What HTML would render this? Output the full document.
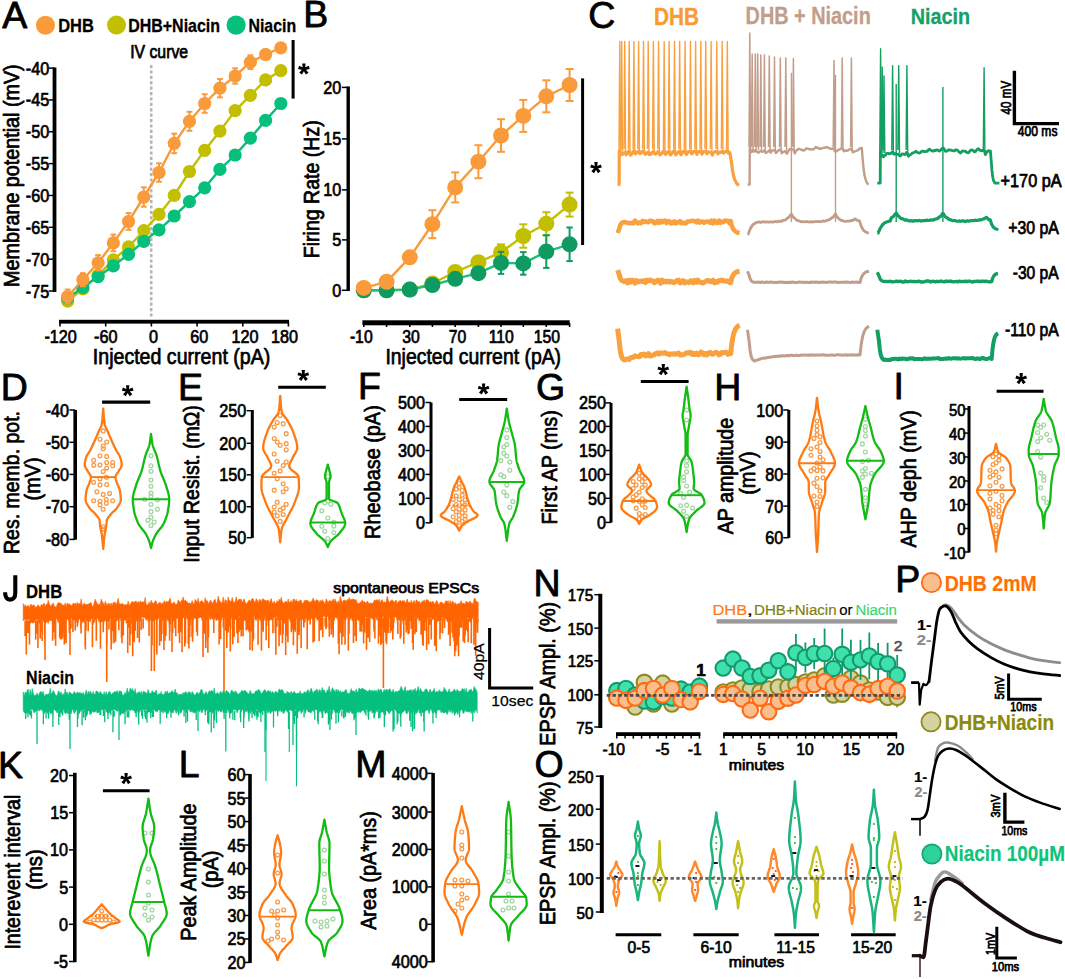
<!DOCTYPE html>
<html><head><meta charset="utf-8"><style>
html,body{margin:0;padding:0;background:#fff;width:1065px;height:979px;overflow:hidden}
svg{display:block;font-family:"Liberation Sans",sans-serif}
</style></head><body>
<svg width="1065" height="979" viewBox="0 0 1065 979">
<rect width="1065" height="979" fill="#fff"/>
<text x="2.25" y="27.6" font-size="37.5" fill="#000" stroke="#000" stroke-width="0.8" stroke-linejoin="round">A</text>
<circle cx="45.5" cy="25.3" r="9.5" fill="#F99B3A" stroke="none" stroke-width="1"/>
<circle cx="116.5" cy="25.1" r="9.5" fill="#C2BF00" stroke="none" stroke-width="1"/>
<circle cx="236.1" cy="25.1" r="9.6" fill="#05BF7A" stroke="none" stroke-width="1"/>
<text x="58.18" y="31.5" font-size="18.4" fill="#000" font-weight="bold" stroke="#000" stroke-width="0.3" stroke-linejoin="round" textLength="35.65" lengthAdjust="spacingAndGlyphs">DHB</text>
<text x="128.21" y="31.5" font-size="18.4" fill="#000" font-weight="bold" stroke="#000" stroke-width="0.3" stroke-linejoin="round" textLength="91.82" lengthAdjust="spacingAndGlyphs">DHB+Niacin</text>
<text x="248.42" y="31.5" font-size="18.4" fill="#000" font-weight="bold" stroke="#000" stroke-width="0.3" stroke-linejoin="round" textLength="47.7" lengthAdjust="spacingAndGlyphs">Niacin</text>
<text x="130.15" y="57.8" font-size="18.7" fill="#000" stroke="#000" stroke-width="0.75" stroke-linejoin="round" textLength="57.95" lengthAdjust="spacingAndGlyphs">IV curve</text>
<rect x="52.6" y="67.5" width="3.8" height="224.5" fill="#000"/>
<line x1="48.6" y1="68.1" x2="54.5" y2="68.1" stroke="#000" stroke-width="1.5"/>
<text x="25.76" y="74.6" font-size="18" fill="#000" stroke="#000" stroke-width="0.7" stroke-linejoin="round" textLength="23.42" lengthAdjust="spacingAndGlyphs">-40</text>
<line x1="48.6" y1="99.94" x2="54.5" y2="99.94" stroke="#000" stroke-width="1.5"/>
<text x="25.84" y="106.44" font-size="18" fill="#000" stroke="#000" stroke-width="0.7" stroke-linejoin="round" textLength="23.42" lengthAdjust="spacingAndGlyphs">-45</text>
<line x1="48.6" y1="131.79" x2="54.5" y2="131.79" stroke="#000" stroke-width="1.5"/>
<text x="25.76" y="138.29" font-size="18" fill="#000" stroke="#000" stroke-width="0.7" stroke-linejoin="round" textLength="23.42" lengthAdjust="spacingAndGlyphs">-50</text>
<line x1="48.6" y1="163.63" x2="54.5" y2="163.63" stroke="#000" stroke-width="1.5"/>
<text x="25.84" y="170.13" font-size="18" fill="#000" stroke="#000" stroke-width="0.7" stroke-linejoin="round" textLength="23.42" lengthAdjust="spacingAndGlyphs">-55</text>
<line x1="48.6" y1="195.48" x2="54.5" y2="195.48" stroke="#000" stroke-width="1.5"/>
<text x="25.76" y="201.98" font-size="18" fill="#000" stroke="#000" stroke-width="0.7" stroke-linejoin="round" textLength="23.42" lengthAdjust="spacingAndGlyphs">-60</text>
<line x1="48.6" y1="227.32" x2="54.5" y2="227.32" stroke="#000" stroke-width="1.5"/>
<text x="25.84" y="233.82" font-size="18" fill="#000" stroke="#000" stroke-width="0.7" stroke-linejoin="round" textLength="23.42" lengthAdjust="spacingAndGlyphs">-65</text>
<line x1="48.6" y1="259.17" x2="54.5" y2="259.17" stroke="#000" stroke-width="1.5"/>
<text x="25.76" y="265.67" font-size="18" fill="#000" stroke="#000" stroke-width="0.7" stroke-linejoin="round" textLength="23.42" lengthAdjust="spacingAndGlyphs">-70</text>
<line x1="48.6" y1="291.01" x2="54.5" y2="291.01" stroke="#000" stroke-width="1.5"/>
<text x="25.84" y="297.51" font-size="18" fill="#000" stroke="#000" stroke-width="0.7" stroke-linejoin="round" textLength="23.42" lengthAdjust="spacingAndGlyphs">-75</text>
<text transform="translate(19 286.9) rotate(-90)" font-size="22.5" fill="#000" stroke="#000" stroke-width="0.75" stroke-linejoin="round" textLength="222.57" lengthAdjust="spacingAndGlyphs">Membrane potential (mV)</text>
<rect x="59" y="319.8" width="230" height="3.8" fill="#000"/>
<line x1="60" y1="322" x2="60" y2="326.5" stroke="#000" stroke-width="1.6"/>
<text x="44.46" y="343" font-size="18" fill="#000" stroke="#000" stroke-width="0.7" stroke-linejoin="round" textLength="32.43" lengthAdjust="spacingAndGlyphs">-120</text>
<line x1="105.7" y1="322" x2="105.7" y2="326.5" stroke="#000" stroke-width="1.6"/>
<text x="94.06" y="343" font-size="18" fill="#000" stroke="#000" stroke-width="0.7" stroke-linejoin="round" textLength="23.42" lengthAdjust="spacingAndGlyphs">-60</text>
<line x1="151.4" y1="322" x2="151.4" y2="326.5" stroke="#000" stroke-width="1.6"/>
<text x="149.1" y="343" font-size="18" fill="#000" stroke="#000" stroke-width="0.7" stroke-linejoin="round" textLength="9.01" lengthAdjust="spacingAndGlyphs">0</text>
<line x1="197.1" y1="322" x2="197.1" y2="326.5" stroke="#000" stroke-width="1.6"/>
<text x="190.29" y="343" font-size="18" fill="#000" stroke="#000" stroke-width="0.7" stroke-linejoin="round" textLength="18.02" lengthAdjust="spacingAndGlyphs">60</text>
<line x1="242.8" y1="322" x2="242.8" y2="326.5" stroke="#000" stroke-width="1.6"/>
<text x="231.39" y="343" font-size="18" fill="#000" stroke="#000" stroke-width="0.7" stroke-linejoin="round" textLength="27.03" lengthAdjust="spacingAndGlyphs">120</text>
<line x1="288.4" y1="322" x2="288.4" y2="326.5" stroke="#000" stroke-width="1.6"/>
<text x="270.99" y="343" font-size="18" fill="#000" stroke="#000" stroke-width="0.7" stroke-linejoin="round" textLength="27.03" lengthAdjust="spacingAndGlyphs">180</text>
<text x="92.81" y="364" font-size="22.4" fill="#000" stroke="#000" stroke-width="0.75" stroke-linejoin="round" textLength="177.49" lengthAdjust="spacingAndGlyphs">Injected current (pA)</text>
<line x1="151.2" y1="65" x2="151.2" y2="318" stroke="#B4B4B4" stroke-width="2.6" stroke-dasharray="3.2 2.2"/>
<line x1="293.1" y1="40" x2="293.1" y2="98.6" stroke="#000" stroke-width="3"/>
<circle cx="303.9" cy="69.1" r="1.59" fill="#000" stroke="none" stroke-width="1"/>
<path d="M304.99 69.1 L305.57 63.5 L302.23 63.5 L302.81 69.1 Z M304.24 70.13 L309.74 68.96 L308.71 65.78 L303.56 68.07 Z M303.02 69.74 L305.84 74.61 L308.54 72.65 L304.78 68.46 Z M303.02 68.46 L299.26 72.65 L301.96 74.61 L304.78 69.74 Z M304.24 68.07 L299.09 65.78 L298.06 68.96 L303.56 70.13 Z" fill="#000"/>
<polyline points="67.66,301.1 82.88,288.9 98.11,275.1 113.34,259.8 128.56,246.9 143.79,230.7 159.01,214.4 174.24,195.4 189.47,171.5 204.69,150.4 219.92,131.1 235.14,110.6 250.37,95.3 265.6,79.9 280.82,70.7" fill="none" stroke="#C2BF00" stroke-width="2.4" stroke-linejoin="round"/>
<circle cx="67.66" cy="301.1" r="6.6" fill="#C2BF00" stroke="none" stroke-width="1"/>
<circle cx="82.88" cy="288.9" r="6.6" fill="#C2BF00" stroke="none" stroke-width="1"/>
<circle cx="98.11" cy="275.1" r="6.6" fill="#C2BF00" stroke="none" stroke-width="1"/>
<circle cx="113.34" cy="259.8" r="6.6" fill="#C2BF00" stroke="none" stroke-width="1"/>
<circle cx="128.56" cy="246.9" r="6.6" fill="#C2BF00" stroke="none" stroke-width="1"/>
<circle cx="143.79" cy="230.7" r="6.6" fill="#C2BF00" stroke="none" stroke-width="1"/>
<circle cx="159.01" cy="214.4" r="6.6" fill="#C2BF00" stroke="none" stroke-width="1"/>
<circle cx="174.24" cy="195.4" r="6.6" fill="#C2BF00" stroke="none" stroke-width="1"/>
<circle cx="189.47" cy="171.5" r="6.6" fill="#C2BF00" stroke="none" stroke-width="1"/>
<circle cx="204.69" cy="150.4" r="6.6" fill="#C2BF00" stroke="none" stroke-width="1"/>
<circle cx="219.92" cy="131.1" r="6.6" fill="#C2BF00" stroke="none" stroke-width="1"/>
<circle cx="235.14" cy="110.6" r="6.6" fill="#C2BF00" stroke="none" stroke-width="1"/>
<circle cx="250.37" cy="95.3" r="6.6" fill="#C2BF00" stroke="none" stroke-width="1"/>
<circle cx="265.6" cy="79.9" r="6.6" fill="#C2BF00" stroke="none" stroke-width="1"/>
<circle cx="280.82" cy="70.7" r="6.6" fill="#C2BF00" stroke="none" stroke-width="1"/>
<polyline points="67.66,298.1 82.88,287.4 98.11,276.6 113.34,265.9 128.56,254.3 143.79,241.4 159.01,229.8 174.24,216 189.47,201.6 204.69,187.8 219.92,169.4 235.14,155 250.37,138.1 265.6,120.4 280.82,103.5" fill="none" stroke="#05BF7A" stroke-width="2.4" stroke-linejoin="round"/>
<circle cx="67.66" cy="298.1" r="6.6" fill="#05BF7A" stroke="none" stroke-width="1"/>
<circle cx="82.88" cy="287.4" r="6.6" fill="#05BF7A" stroke="none" stroke-width="1"/>
<circle cx="98.11" cy="276.6" r="6.6" fill="#05BF7A" stroke="none" stroke-width="1"/>
<circle cx="113.34" cy="265.9" r="6.6" fill="#05BF7A" stroke="none" stroke-width="1"/>
<circle cx="128.56" cy="254.3" r="6.6" fill="#05BF7A" stroke="none" stroke-width="1"/>
<circle cx="143.79" cy="241.4" r="6.6" fill="#05BF7A" stroke="none" stroke-width="1"/>
<circle cx="159.01" cy="229.8" r="6.6" fill="#05BF7A" stroke="none" stroke-width="1"/>
<circle cx="174.24" cy="216" r="6.6" fill="#05BF7A" stroke="none" stroke-width="1"/>
<circle cx="189.47" cy="201.6" r="6.6" fill="#05BF7A" stroke="none" stroke-width="1"/>
<circle cx="204.69" cy="187.8" r="6.6" fill="#05BF7A" stroke="none" stroke-width="1"/>
<circle cx="219.92" cy="169.4" r="6.6" fill="#05BF7A" stroke="none" stroke-width="1"/>
<circle cx="235.14" cy="155" r="6.6" fill="#05BF7A" stroke="none" stroke-width="1"/>
<circle cx="250.37" cy="138.1" r="6.6" fill="#05BF7A" stroke="none" stroke-width="1"/>
<circle cx="265.6" cy="120.4" r="6.6" fill="#05BF7A" stroke="none" stroke-width="1"/>
<circle cx="280.82" cy="103.5" r="6.6" fill="#05BF7A" stroke="none" stroke-width="1"/>
<polyline points="67.66,296.5 82.88,279.7 98.11,262.8 113.34,242.9 128.56,221.5 143.79,197 159.01,172.5 174.24,143.4 189.47,121.3 204.69,103.5 219.92,88.2 235.14,76 250.37,62.2 265.6,54.5 280.82,47.8" fill="none" stroke="#F99B3A" stroke-width="2.4" stroke-linejoin="round"/>
<line x1="67.66" y1="289.5" x2="67.66" y2="303.5" stroke="#F99B3A" stroke-width="2"/>
<line x1="64.76" y1="289.5" x2="70.56" y2="289.5" stroke="#F99B3A" stroke-width="2"/>
<line x1="64.76" y1="303.5" x2="70.56" y2="303.5" stroke="#F99B3A" stroke-width="2"/>
<line x1="82.88" y1="273.2" x2="82.88" y2="286.2" stroke="#F99B3A" stroke-width="2"/>
<line x1="79.98" y1="273.2" x2="85.78" y2="273.2" stroke="#F99B3A" stroke-width="2"/>
<line x1="79.98" y1="286.2" x2="85.78" y2="286.2" stroke="#F99B3A" stroke-width="2"/>
<line x1="98.11" y1="255.1" x2="98.11" y2="270.5" stroke="#F99B3A" stroke-width="2"/>
<line x1="95.21" y1="255.1" x2="101.01" y2="255.1" stroke="#F99B3A" stroke-width="2"/>
<line x1="95.21" y1="270.5" x2="101.01" y2="270.5" stroke="#F99B3A" stroke-width="2"/>
<line x1="113.34" y1="234.6" x2="113.34" y2="251.2" stroke="#F99B3A" stroke-width="2"/>
<line x1="110.44" y1="234.6" x2="116.24" y2="234.6" stroke="#F99B3A" stroke-width="2"/>
<line x1="110.44" y1="251.2" x2="116.24" y2="251.2" stroke="#F99B3A" stroke-width="2"/>
<line x1="128.56" y1="213.1" x2="128.56" y2="229.9" stroke="#F99B3A" stroke-width="2"/>
<line x1="125.66" y1="213.1" x2="131.46" y2="213.1" stroke="#F99B3A" stroke-width="2"/>
<line x1="125.66" y1="229.9" x2="131.46" y2="229.9" stroke="#F99B3A" stroke-width="2"/>
<line x1="143.79" y1="187.3" x2="143.79" y2="206.7" stroke="#F99B3A" stroke-width="2"/>
<line x1="140.89" y1="187.3" x2="146.69" y2="187.3" stroke="#F99B3A" stroke-width="2"/>
<line x1="140.89" y1="206.7" x2="146.69" y2="206.7" stroke="#F99B3A" stroke-width="2"/>
<line x1="159.01" y1="163.3" x2="159.01" y2="181.7" stroke="#F99B3A" stroke-width="2"/>
<line x1="156.11" y1="163.3" x2="161.91" y2="163.3" stroke="#F99B3A" stroke-width="2"/>
<line x1="156.11" y1="181.7" x2="161.91" y2="181.7" stroke="#F99B3A" stroke-width="2"/>
<line x1="174.24" y1="133.6" x2="174.24" y2="153.2" stroke="#F99B3A" stroke-width="2"/>
<line x1="171.34" y1="133.6" x2="177.14" y2="133.6" stroke="#F99B3A" stroke-width="2"/>
<line x1="171.34" y1="153.2" x2="177.14" y2="153.2" stroke="#F99B3A" stroke-width="2"/>
<line x1="189.47" y1="111.8" x2="189.47" y2="130.8" stroke="#F99B3A" stroke-width="2"/>
<line x1="186.56" y1="111.8" x2="192.37" y2="111.8" stroke="#F99B3A" stroke-width="2"/>
<line x1="186.56" y1="130.8" x2="192.37" y2="130.8" stroke="#F99B3A" stroke-width="2"/>
<line x1="204.69" y1="94.2" x2="204.69" y2="112.8" stroke="#F99B3A" stroke-width="2"/>
<line x1="201.79" y1="94.2" x2="207.59" y2="94.2" stroke="#F99B3A" stroke-width="2"/>
<line x1="201.79" y1="112.8" x2="207.59" y2="112.8" stroke="#F99B3A" stroke-width="2"/>
<line x1="219.92" y1="79" x2="219.92" y2="97.4" stroke="#F99B3A" stroke-width="2"/>
<line x1="217.02" y1="79" x2="222.82" y2="79" stroke="#F99B3A" stroke-width="2"/>
<line x1="217.02" y1="97.4" x2="222.82" y2="97.4" stroke="#F99B3A" stroke-width="2"/>
<line x1="235.14" y1="68.3" x2="235.14" y2="83.7" stroke="#F99B3A" stroke-width="2"/>
<line x1="232.24" y1="68.3" x2="238.04" y2="68.3" stroke="#F99B3A" stroke-width="2"/>
<line x1="232.24" y1="83.7" x2="238.04" y2="83.7" stroke="#F99B3A" stroke-width="2"/>
<line x1="250.37" y1="55.3" x2="250.37" y2="69.1" stroke="#F99B3A" stroke-width="2"/>
<line x1="247.47" y1="55.3" x2="253.27" y2="55.3" stroke="#F99B3A" stroke-width="2"/>
<line x1="247.47" y1="69.1" x2="253.27" y2="69.1" stroke="#F99B3A" stroke-width="2"/>
<line x1="265.6" y1="49.5" x2="265.6" y2="59.5" stroke="#F99B3A" stroke-width="2"/>
<line x1="262.7" y1="49.5" x2="268.5" y2="49.5" stroke="#F99B3A" stroke-width="2"/>
<line x1="262.7" y1="59.5" x2="268.5" y2="59.5" stroke="#F99B3A" stroke-width="2"/>
<line x1="280.82" y1="44.8" x2="280.82" y2="50.8" stroke="#F99B3A" stroke-width="2"/>
<line x1="277.92" y1="44.8" x2="283.72" y2="44.8" stroke="#F99B3A" stroke-width="2"/>
<line x1="277.92" y1="50.8" x2="283.72" y2="50.8" stroke="#F99B3A" stroke-width="2"/>
<circle cx="67.66" cy="296.5" r="6.6" fill="#F99B3A" stroke="none" stroke-width="1"/>
<circle cx="82.88" cy="279.7" r="6.6" fill="#F99B3A" stroke="none" stroke-width="1"/>
<circle cx="98.11" cy="262.8" r="6.6" fill="#F99B3A" stroke="none" stroke-width="1"/>
<circle cx="113.34" cy="242.9" r="6.6" fill="#F99B3A" stroke="none" stroke-width="1"/>
<circle cx="128.56" cy="221.5" r="6.6" fill="#F99B3A" stroke="none" stroke-width="1"/>
<circle cx="143.79" cy="197" r="6.6" fill="#F99B3A" stroke="none" stroke-width="1"/>
<circle cx="159.01" cy="172.5" r="6.6" fill="#F99B3A" stroke="none" stroke-width="1"/>
<circle cx="174.24" cy="143.4" r="6.6" fill="#F99B3A" stroke="none" stroke-width="1"/>
<circle cx="189.47" cy="121.3" r="6.6" fill="#F99B3A" stroke="none" stroke-width="1"/>
<circle cx="204.69" cy="103.5" r="6.6" fill="#F99B3A" stroke="none" stroke-width="1"/>
<circle cx="219.92" cy="88.2" r="6.6" fill="#F99B3A" stroke="none" stroke-width="1"/>
<circle cx="235.14" cy="76" r="6.6" fill="#F99B3A" stroke="none" stroke-width="1"/>
<circle cx="250.37" cy="62.2" r="6.6" fill="#F99B3A" stroke="none" stroke-width="1"/>
<circle cx="265.6" cy="54.5" r="6.6" fill="#F99B3A" stroke="none" stroke-width="1"/>
<circle cx="280.82" cy="47.8" r="6.6" fill="#F99B3A" stroke="none" stroke-width="1"/>
<text x="303.3" y="27.4" font-size="37.5" fill="#000" stroke="#000" stroke-width="0.8" stroke-linejoin="round">B</text>
<rect x="346.5" y="86.5" width="3.4" height="204.5" fill="#000"/>
<line x1="341.9" y1="87.4" x2="348.2" y2="87.4" stroke="#000" stroke-width="1.5"/>
<text x="323.19" y="93.9" font-size="18" fill="#000" stroke="#000" stroke-width="0.7" stroke-linejoin="round" textLength="18.02" lengthAdjust="spacingAndGlyphs">20</text>
<line x1="341.9" y1="138.9" x2="348.2" y2="138.9" stroke="#000" stroke-width="1.5"/>
<text x="323.27" y="145.4" font-size="18" fill="#000" stroke="#000" stroke-width="0.7" stroke-linejoin="round" textLength="18.02" lengthAdjust="spacingAndGlyphs">15</text>
<line x1="341.9" y1="189.9" x2="348.2" y2="189.9" stroke="#000" stroke-width="1.5"/>
<text x="323.19" y="196.4" font-size="18" fill="#000" stroke="#000" stroke-width="0.7" stroke-linejoin="round" textLength="18.02" lengthAdjust="spacingAndGlyphs">10</text>
<line x1="341.9" y1="239.9" x2="348.2" y2="239.9" stroke="#000" stroke-width="1.5"/>
<text x="332.26" y="246.4" font-size="18" fill="#000" stroke="#000" stroke-width="0.7" stroke-linejoin="round" textLength="9.01" lengthAdjust="spacingAndGlyphs">5</text>
<line x1="341.9" y1="290.3" x2="348.2" y2="290.3" stroke="#000" stroke-width="1.5"/>
<text x="332.18" y="296.8" font-size="18" fill="#000" stroke="#000" stroke-width="0.7" stroke-linejoin="round" textLength="9.01" lengthAdjust="spacingAndGlyphs">0</text>
<text transform="translate(318.5 258.19) rotate(-90)" font-size="22.3" fill="#000" stroke="#000" stroke-width="0.75" stroke-linejoin="round" textLength="137.93" lengthAdjust="spacingAndGlyphs">Firing Rate (Hz)</text>
<rect x="362.4" y="320.3" width="207.3" height="5" fill="#000"/>
<line x1="363.8" y1="323" x2="363.8" y2="327" stroke="#000" stroke-width="1.6"/>
<line x1="386.6" y1="323" x2="386.6" y2="327" stroke="#000" stroke-width="1.6"/>
<line x1="409.8" y1="323" x2="409.8" y2="327" stroke="#000" stroke-width="1.6"/>
<line x1="432.4" y1="323" x2="432.4" y2="327" stroke="#000" stroke-width="1.6"/>
<line x1="455.2" y1="323" x2="455.2" y2="327" stroke="#000" stroke-width="1.6"/>
<line x1="478.4" y1="323" x2="478.4" y2="327" stroke="#000" stroke-width="1.6"/>
<line x1="501" y1="323" x2="501" y2="327" stroke="#000" stroke-width="1.6"/>
<line x1="523.3" y1="323" x2="523.3" y2="327" stroke="#000" stroke-width="1.6"/>
<line x1="546.3" y1="323" x2="546.3" y2="327" stroke="#000" stroke-width="1.6"/>
<line x1="569.6" y1="323" x2="569.6" y2="327" stroke="#000" stroke-width="1.6"/>
<text x="349.88" y="343.3" font-size="17.5" fill="#000" stroke="#000" stroke-width="0.7" stroke-linejoin="round" textLength="22.76" lengthAdjust="spacingAndGlyphs">-10</text>
<text x="402.36" y="343.3" font-size="17.5" fill="#000" stroke="#000" stroke-width="0.7" stroke-linejoin="round" textLength="17.52" lengthAdjust="spacingAndGlyphs">30</text>
<text x="448.74" y="343.3" font-size="17.5" fill="#000" stroke="#000" stroke-width="0.7" stroke-linejoin="round" textLength="17.52" lengthAdjust="spacingAndGlyphs">70</text>
<text x="488.72" y="343.3" font-size="17.5" fill="#000" stroke="#000" stroke-width="0.7" stroke-linejoin="round" textLength="25.11" lengthAdjust="spacingAndGlyphs">110</text>
<text x="533.77" y="343.3" font-size="17.5" fill="#000" stroke="#000" stroke-width="0.7" stroke-linejoin="round" textLength="26.28" lengthAdjust="spacingAndGlyphs">150</text>
<text x="385.43" y="364.2" font-size="22.4" fill="#000" stroke="#000" stroke-width="0.75" stroke-linejoin="round" textLength="175.66" lengthAdjust="spacingAndGlyphs">Injected current (pA)</text>
<line x1="582.6" y1="78.4" x2="582.6" y2="245" stroke="#000" stroke-width="3"/>
<circle cx="596" cy="167.7" r="1.59" fill="#000" stroke="none" stroke-width="1"/>
<path d="M597.09 167.7 L597.67 162.1 L594.33 162.1 L594.91 167.7 Z M596.34 168.73 L601.84 167.56 L600.81 164.38 L595.66 166.67 Z M595.12 168.34 L597.94 173.21 L600.64 171.25 L596.88 167.06 Z M595.12 167.06 L591.36 171.25 L594.06 173.21 L596.88 168.34 Z M596.34 166.67 L591.19 164.38 L590.16 167.56 L595.66 168.73 Z" fill="#000"/>
<polyline points="363.8,290.3 386.6,290.3 409.8,289.6 432.4,283.5 455.2,272 478.4,262.2 501,252.4 523.3,236 546.3,223.7 569.6,204.6" fill="none" stroke="#C2BF00" stroke-width="2.4" stroke-linejoin="round"/>
<line x1="455.2" y1="268" x2="455.2" y2="276" stroke="#C2BF00" stroke-width="2"/>
<line x1="451.2" y1="268" x2="459.2" y2="268" stroke="#C2BF00" stroke-width="2"/>
<line x1="451.2" y1="276" x2="459.2" y2="276" stroke="#C2BF00" stroke-width="2"/>
<line x1="478.4" y1="257.2" x2="478.4" y2="267.2" stroke="#C2BF00" stroke-width="2"/>
<line x1="474.4" y1="257.2" x2="482.4" y2="257.2" stroke="#C2BF00" stroke-width="2"/>
<line x1="474.4" y1="267.2" x2="482.4" y2="267.2" stroke="#C2BF00" stroke-width="2"/>
<line x1="501" y1="244.4" x2="501" y2="260.4" stroke="#C2BF00" stroke-width="2"/>
<line x1="497" y1="244.4" x2="505" y2="244.4" stroke="#C2BF00" stroke-width="2"/>
<line x1="497" y1="260.4" x2="505" y2="260.4" stroke="#C2BF00" stroke-width="2"/>
<line x1="523.3" y1="224.3" x2="523.3" y2="247.7" stroke="#C2BF00" stroke-width="2"/>
<line x1="519.3" y1="224.3" x2="527.3" y2="224.3" stroke="#C2BF00" stroke-width="2"/>
<line x1="519.3" y1="247.7" x2="527.3" y2="247.7" stroke="#C2BF00" stroke-width="2"/>
<line x1="546.3" y1="212.2" x2="546.3" y2="235.2" stroke="#C2BF00" stroke-width="2"/>
<line x1="542.3" y1="212.2" x2="550.3" y2="212.2" stroke="#C2BF00" stroke-width="2"/>
<line x1="542.3" y1="235.2" x2="550.3" y2="235.2" stroke="#C2BF00" stroke-width="2"/>
<line x1="569.6" y1="192.6" x2="569.6" y2="216.6" stroke="#C2BF00" stroke-width="2"/>
<line x1="565.6" y1="192.6" x2="573.6" y2="192.6" stroke="#C2BF00" stroke-width="2"/>
<line x1="565.6" y1="216.6" x2="573.6" y2="216.6" stroke="#C2BF00" stroke-width="2"/>
<circle cx="363.8" cy="290.3" r="8" fill="#C2BF00" stroke="none" stroke-width="1"/>
<circle cx="386.6" cy="290.3" r="8" fill="#C2BF00" stroke="none" stroke-width="1"/>
<circle cx="409.8" cy="289.6" r="8" fill="#C2BF00" stroke="none" stroke-width="1"/>
<circle cx="432.4" cy="283.5" r="8" fill="#C2BF00" stroke="none" stroke-width="1"/>
<circle cx="455.2" cy="272" r="8" fill="#C2BF00" stroke="none" stroke-width="1"/>
<circle cx="478.4" cy="262.2" r="8" fill="#C2BF00" stroke="none" stroke-width="1"/>
<circle cx="501" cy="252.4" r="8" fill="#C2BF00" stroke="none" stroke-width="1"/>
<circle cx="523.3" cy="236" r="8" fill="#C2BF00" stroke="none" stroke-width="1"/>
<circle cx="546.3" cy="223.7" r="8" fill="#C2BF00" stroke="none" stroke-width="1"/>
<circle cx="569.6" cy="204.6" r="8" fill="#C2BF00" stroke="none" stroke-width="1"/>
<polyline points="363.8,290.3 386.6,290.3 409.8,289.6 432.4,285 455.2,278.8 478.4,273.2 501,262.9 523.3,263.4 546.3,251.6 569.6,244.3" fill="none" stroke="#1DC07A" stroke-width="2.4" stroke-linejoin="round"/>
<line x1="478.4" y1="269.2" x2="478.4" y2="277.2" stroke="#0E9A60" stroke-width="2"/>
<line x1="475.2" y1="269.2" x2="481.6" y2="269.2" stroke="#0E9A60" stroke-width="2"/>
<line x1="475.2" y1="277.2" x2="481.6" y2="277.2" stroke="#0E9A60" stroke-width="2"/>
<line x1="501" y1="251.9" x2="501" y2="273.9" stroke="#0E9A60" stroke-width="2"/>
<line x1="497.8" y1="251.9" x2="504.2" y2="251.9" stroke="#0E9A60" stroke-width="2"/>
<line x1="497.8" y1="273.9" x2="504.2" y2="273.9" stroke="#0E9A60" stroke-width="2"/>
<line x1="523.3" y1="252.1" x2="523.3" y2="274.7" stroke="#0E9A60" stroke-width="2"/>
<line x1="520.1" y1="252.1" x2="526.5" y2="252.1" stroke="#0E9A60" stroke-width="2"/>
<line x1="520.1" y1="274.7" x2="526.5" y2="274.7" stroke="#0E9A60" stroke-width="2"/>
<line x1="546.3" y1="235.3" x2="546.3" y2="267.9" stroke="#0E9A60" stroke-width="2"/>
<line x1="543.1" y1="235.3" x2="549.5" y2="235.3" stroke="#0E9A60" stroke-width="2"/>
<line x1="543.1" y1="267.9" x2="549.5" y2="267.9" stroke="#0E9A60" stroke-width="2"/>
<line x1="569.6" y1="227.5" x2="569.6" y2="261.1" stroke="#0E9A60" stroke-width="2"/>
<line x1="566.4" y1="227.5" x2="572.8" y2="227.5" stroke="#0E9A60" stroke-width="2"/>
<line x1="566.4" y1="261.1" x2="572.8" y2="261.1" stroke="#0E9A60" stroke-width="2"/>
<circle cx="363.8" cy="290.3" r="8" fill="#0E9A60" stroke="none" stroke-width="1"/>
<circle cx="386.6" cy="290.3" r="8" fill="#0E9A60" stroke="none" stroke-width="1"/>
<circle cx="409.8" cy="289.6" r="8" fill="#0E9A60" stroke="none" stroke-width="1"/>
<circle cx="432.4" cy="285" r="8" fill="#0E9A60" stroke="none" stroke-width="1"/>
<circle cx="455.2" cy="278.8" r="8" fill="#0E9A60" stroke="none" stroke-width="1"/>
<circle cx="478.4" cy="273.2" r="8" fill="#0E9A60" stroke="none" stroke-width="1"/>
<circle cx="501" cy="262.9" r="8" fill="#0E9A60" stroke="none" stroke-width="1"/>
<circle cx="523.3" cy="263.4" r="8" fill="#0E9A60" stroke="none" stroke-width="1"/>
<circle cx="546.3" cy="251.6" r="8" fill="#0E9A60" stroke="none" stroke-width="1"/>
<circle cx="569.6" cy="244.3" r="8" fill="#0E9A60" stroke="none" stroke-width="1"/>
<polyline points="363.8,287.9 386.6,281.8 409.8,257.3 432.4,224.2 455.2,187.4 478.4,161.7 501,135.5 523.3,115.9 546.3,96.3 569.6,85" fill="none" stroke="#F99B3A" stroke-width="2.4" stroke-linejoin="round"/>
<line x1="409.8" y1="252.3" x2="409.8" y2="262.3" stroke="#F99B3A" stroke-width="2"/>
<line x1="405.8" y1="252.3" x2="413.8" y2="252.3" stroke="#F99B3A" stroke-width="2"/>
<line x1="405.8" y1="262.3" x2="413.8" y2="262.3" stroke="#F99B3A" stroke-width="2"/>
<line x1="432.4" y1="210.2" x2="432.4" y2="238.2" stroke="#F99B3A" stroke-width="2"/>
<line x1="428.4" y1="210.2" x2="436.4" y2="210.2" stroke="#F99B3A" stroke-width="2"/>
<line x1="428.4" y1="238.2" x2="436.4" y2="238.2" stroke="#F99B3A" stroke-width="2"/>
<line x1="455.2" y1="172.4" x2="455.2" y2="202.4" stroke="#F99B3A" stroke-width="2"/>
<line x1="451.2" y1="172.4" x2="459.2" y2="172.4" stroke="#F99B3A" stroke-width="2"/>
<line x1="451.2" y1="202.4" x2="459.2" y2="202.4" stroke="#F99B3A" stroke-width="2"/>
<line x1="478.4" y1="145.2" x2="478.4" y2="178.2" stroke="#F99B3A" stroke-width="2"/>
<line x1="474.4" y1="145.2" x2="482.4" y2="145.2" stroke="#F99B3A" stroke-width="2"/>
<line x1="474.4" y1="178.2" x2="482.4" y2="178.2" stroke="#F99B3A" stroke-width="2"/>
<line x1="501" y1="119.2" x2="501" y2="151.8" stroke="#F99B3A" stroke-width="2"/>
<line x1="497" y1="119.2" x2="505" y2="119.2" stroke="#F99B3A" stroke-width="2"/>
<line x1="497" y1="151.8" x2="505" y2="151.8" stroke="#F99B3A" stroke-width="2"/>
<line x1="523.3" y1="99.9" x2="523.3" y2="131.9" stroke="#F99B3A" stroke-width="2"/>
<line x1="519.3" y1="99.9" x2="527.3" y2="99.9" stroke="#F99B3A" stroke-width="2"/>
<line x1="519.3" y1="131.9" x2="527.3" y2="131.9" stroke="#F99B3A" stroke-width="2"/>
<line x1="546.3" y1="80.3" x2="546.3" y2="112.3" stroke="#F99B3A" stroke-width="2"/>
<line x1="542.3" y1="80.3" x2="550.3" y2="80.3" stroke="#F99B3A" stroke-width="2"/>
<line x1="542.3" y1="112.3" x2="550.3" y2="112.3" stroke="#F99B3A" stroke-width="2"/>
<line x1="569.6" y1="69" x2="569.6" y2="101" stroke="#F99B3A" stroke-width="2"/>
<line x1="565.6" y1="69" x2="573.6" y2="69" stroke="#F99B3A" stroke-width="2"/>
<line x1="565.6" y1="101" x2="573.6" y2="101" stroke="#F99B3A" stroke-width="2"/>
<circle cx="363.8" cy="287.9" r="8" fill="#F99B3A" stroke="none" stroke-width="1"/>
<circle cx="386.6" cy="281.8" r="8" fill="#F99B3A" stroke="none" stroke-width="1"/>
<circle cx="409.8" cy="257.3" r="8" fill="#F99B3A" stroke="none" stroke-width="1"/>
<circle cx="432.4" cy="224.2" r="8" fill="#F99B3A" stroke="none" stroke-width="1"/>
<circle cx="455.2" cy="187.4" r="8" fill="#F99B3A" stroke="none" stroke-width="1"/>
<circle cx="478.4" cy="161.7" r="8" fill="#F99B3A" stroke="none" stroke-width="1"/>
<circle cx="501" cy="135.5" r="8" fill="#F99B3A" stroke="none" stroke-width="1"/>
<circle cx="523.3" cy="115.9" r="8" fill="#F99B3A" stroke="none" stroke-width="1"/>
<circle cx="546.3" cy="96.3" r="8" fill="#F99B3A" stroke="none" stroke-width="1"/>
<circle cx="569.6" cy="85" r="8" fill="#F99B3A" stroke="none" stroke-width="1"/>
<text x="588.23" y="27.6" font-size="37.5" fill="#000" stroke="#000" stroke-width="0.8" stroke-linejoin="round">C</text>
<text x="653.9" y="24.6" font-size="23.4" fill="#F99A33" font-weight="bold" stroke="#F99A33" stroke-width="0.3" stroke-linejoin="round" textLength="45.01" lengthAdjust="spacingAndGlyphs">DHB</text>
<text x="745.56" y="24.3" font-size="23" fill="#C29E8A" font-weight="bold" stroke="#C29E8A" stroke-width="0.3" stroke-linejoin="round" textLength="125.23" lengthAdjust="spacingAndGlyphs">DHB + Niacin</text>
<text x="910.76" y="24" font-size="22.8" fill="#14A068" font-weight="bold" stroke="#14A068" stroke-width="0.3" stroke-linejoin="round" textLength="59.39" lengthAdjust="spacingAndGlyphs">Niacin</text>
<polyline points="617.7,184.3 619.1,184.3 619.3,150.5 620,151.54 620.7,154.56 621.4,154.55 622.1,153.06 622.8,154.11 623.5,153.44 624.2,152.81 624.9,152.33 625.6,153.88 626.3,154.69 627,153.66 627.7,152.23 628.4,151.39 629.1,150.97 629.8,152.41 630.5,155.12 631.2,154.67 631.9,153.65 632.6,152.51 633.3,151.43 634,150.63 634.7,152.31 635.4,153.74 636.1,153.1 636.8,152.37 637.5,151.98 638.2,151.26 638.9,151.08 639.6,153.42 640.3,153.37 641,152.85 641.7,152.01 642.4,151.4 643.1,151.24 643.8,151.1 644.5,153.31 645.2,154.16 645.9,153.89 646.6,153.38 647.3,152.82 648,152.1 648.7,152.49 649.4,154.63 650.1,154.43 650.8,154.26 651.5,153.18 652.2,152.58 652.9,151.88 653.6,151.2 654.3,153.54 655,154.14 655.7,154.02 656.4,153.36 657.1,152.82 657.8,151.75 658.5,151.45 659.2,153.07 659.9,154.77 660.6,154.17 661.3,153.89 662,153.18 662.7,152.16 663.4,151.14 664.1,150.72 664.8,152.6 665.5,154.42 666.2,154.11 666.9,152.98 667.6,152.42 668.3,151.41 669,151.44 669.7,152.83 670.4,155.01 671.1,154.23 671.8,153.47 672.5,152.53 673.2,151.48 673.9,150.77 674.6,150.85 675.3,153.62 676,154.86 676.7,153.48 677.4,152.78 678.1,152.04 678.8,151.79 679.5,151.27 680.2,152.75 680.9,154.78 681.6,153.99 682.3,152.71 683,151.54 683.7,151.35 684.4,150.82 685.1,151.09 685.8,153.51 686.5,154.51 687.2,153.1 687.9,152.43 688.6,151.58 689.3,151.5 690,151.12 690.7,151.32 691.4,153.55 692.1,153.86 692.8,152.3 693.5,151.93 694.2,151.09 694.9,151.41 695.6,151.15 696.3,152.61 697,154.36 697.7,152.76 698.4,151.57 699.1,151.37 699.8,151.28 700.5,151.07 701.2,152.29 701.9,154.17 702.6,152.9 703.3,151.8 704,151.44 704.7,151.6 705.4,151.37 706.1,151.79 706.8,153.7 707.5,153.07 708.2,152.3 708.9,151.88 709.6,152.03 710.3,152.25 711,152.48 711.7,153.56 712.4,154.97 713.1,153.24 713.8,152.47 714.5,151.91 715.2,151.55 715.9,151.61 716.6,151.79 717.3,152.17 718,154.03 718.7,152.8 719.4,152.28 720.1,151.85 720.8,152.31 721.5,151.81 722.2,151.41 722.9,152.65 723.6,153.15 724.3,152.54 725,152.01 725.7,151.63 726.4,151.14 727.1,150.56 727.8,150.73 728.5,153.19 729.2,152.57 729.9,152.76 731.48,162.49 732.55,170.54 733.62,175.92 734.7,179.54 735.77,181.96 736.85,183.58 737.92,184.67 739,185.4" fill="none" stroke="#F9A03F" stroke-width="3.2" stroke-linejoin="round"/>
<polyline points="619.01,149 619.81,41.5 620.61,151" fill="none" stroke="#F9A03F" stroke-width="1.4" stroke-linejoin="round"/>
<polyline points="620.89,149 621.69,41.5 622.49,151" fill="none" stroke="#F9A03F" stroke-width="1.4" stroke-linejoin="round"/>
<polyline points="623.94,149 624.74,41.5 625.54,151" fill="none" stroke="#F9A03F" stroke-width="1.4" stroke-linejoin="round"/>
<polyline points="628.4,149 629.2,41.5 630,151" fill="none" stroke="#F9A03F" stroke-width="1.4" stroke-linejoin="round"/>
<polyline points="633.1,149 633.9,41.5 634.7,151" fill="none" stroke="#F9A03F" stroke-width="1.4" stroke-linejoin="round"/>
<polyline points="637.79,149 638.59,41.5 639.39,151" fill="none" stroke="#F9A03F" stroke-width="1.4" stroke-linejoin="round"/>
<polyline points="642.72,149 643.52,41.5 644.32,151" fill="none" stroke="#F9A03F" stroke-width="1.4" stroke-linejoin="round"/>
<polyline points="647.42,149 648.22,41.5 649.02,151" fill="none" stroke="#F9A03F" stroke-width="1.4" stroke-linejoin="round"/>
<polyline points="652.58,149 653.38,41.5 654.18,151" fill="none" stroke="#F9A03F" stroke-width="1.4" stroke-linejoin="round"/>
<polyline points="657.74,149 658.54,41.5 659.34,151" fill="none" stroke="#F9A03F" stroke-width="1.4" stroke-linejoin="round"/>
<polyline points="663.38,149 664.18,41.5 664.98,151" fill="none" stroke="#F9A03F" stroke-width="1.4" stroke-linejoin="round"/>
<polyline points="668.31,149 669.11,41.5 669.91,151" fill="none" stroke="#F9A03F" stroke-width="1.4" stroke-linejoin="round"/>
<polyline points="673.71,149 674.51,41.5 675.31,151" fill="none" stroke="#F9A03F" stroke-width="1.4" stroke-linejoin="round"/>
<polyline points="678.87,149 679.67,41.5 680.47,151" fill="none" stroke="#F9A03F" stroke-width="1.4" stroke-linejoin="round"/>
<polyline points="684.27,149 685.07,41.5 685.87,151" fill="none" stroke="#F9A03F" stroke-width="1.4" stroke-linejoin="round"/>
<polyline points="689.67,149 690.47,41.5 691.27,151" fill="none" stroke="#F9A03F" stroke-width="1.4" stroke-linejoin="round"/>
<polyline points="694.83,149 695.63,41.5 696.43,151" fill="none" stroke="#F9A03F" stroke-width="1.4" stroke-linejoin="round"/>
<polyline points="700,149 700.8,41.5 701.6,151" fill="none" stroke="#F9A03F" stroke-width="1.4" stroke-linejoin="round"/>
<polyline points="704.93,149 705.73,41.5 706.53,151" fill="none" stroke="#F9A03F" stroke-width="1.4" stroke-linejoin="round"/>
<polyline points="710.33,149 711.13,41.5 711.93,151" fill="none" stroke="#F9A03F" stroke-width="1.4" stroke-linejoin="round"/>
<polyline points="715.96,149 716.76,41.5 717.56,151" fill="none" stroke="#F9A03F" stroke-width="1.4" stroke-linejoin="round"/>
<polyline points="721.36,149 722.16,41.5 722.96,151" fill="none" stroke="#F9A03F" stroke-width="1.4" stroke-linejoin="round"/>
<polyline points="726.52,149 727.32,41.5 728.12,151" fill="none" stroke="#F9A03F" stroke-width="1.4" stroke-linejoin="round"/>
<polyline points="747.6,184.6 749.6,184.6 749.8,148 750.8,152.17 751.8,151.64 752.8,150.13 753.8,151.66 754.8,150.91 755.8,149.94 756.8,151.98 757.8,151.81 758.8,152.7 759.8,151.46 760.8,150.83 761.8,151.63 762.8,151.72 763.8,150.77 764.8,150.55 765.8,152.95 766.8,152.28 767.8,151.83 768.8,150.75 769.8,150.55 770.8,152.71 771.8,150.71 772.8,150.37 773.8,150.19 774.8,149.84 775.8,152.93 776.8,152.32 777.8,151.05 778.8,150.18 779.8,149.67 780.8,150.16 781.8,153.18 782.8,152.05 783.8,151.87 784.8,151.22 785.8,151.12 786.8,153.73 787.8,152.25 788.8,150.29 789.8,149.08 790.8,149.4 791.8,149.27 792.8,149.56 793.8,150.26 794.8,153.32 795.8,151.7 796.8,150.2 797.8,149.32 798.8,148.81 799.8,149.12 800.8,149.37 801.8,150.01 802.8,150.35 803.8,150.53 804.8,149.95 805.8,148.65 806.8,148.5 807.8,148.67 808.8,149.02 809.8,149.15 810.8,149.57 811.8,149.2 812.8,149.47 813.8,149.04 814.8,148.11 815.8,147.09 816.8,147.48 817.8,148.23 818.8,147.95 819.8,148.78 820.8,148.86 821.8,148.36 822.8,147.85 823.8,147.83 824.8,147.9 825.8,147.07 826.8,147.45 827.8,147.31 828.8,148.2 829.8,148.32 830.8,148.87 831.8,149.1 832.8,148.44 833.8,148.52 834.8,151.19 835.8,151.58 836.8,151.11 837.8,150.19 838.8,149.65 839.8,149.28 840.8,148.94 841.8,147.88 842.8,148.82 843.8,151.38 844.8,150.31 845.8,150.61 846.8,150.9 847.8,150.41 848.8,149.91 849.8,149.3 850.8,148.77 851.8,149.47 852.8,152.36 853.8,151.43 854.8,151.43 855.8,151.03 856.8,150.58 857.8,150.36 858.8,149.28 859.8,148.32 860.8,148.4 861.8,148.04 862.81,160.58 863.62,169.01 864.44,174.66 865.25,178.45 866.06,180.99 866.88,182.69 867.69,183.84 868.5,184.6" fill="none" stroke="#C29E8A" stroke-width="2.4" stroke-linejoin="round"/>
<polyline points="749,147 749.8,33 750.6,150" fill="none" stroke="#C29E8A" stroke-width="1.5" stroke-linejoin="round"/>
<polyline points="751.4,147 752.2,54 753,150" fill="none" stroke="#C29E8A" stroke-width="1.5" stroke-linejoin="round"/>
<polyline points="754.5,147 755.3,54 756.1,150" fill="none" stroke="#C29E8A" stroke-width="1.5" stroke-linejoin="round"/>
<polyline points="756.9,147 757.7,54 758.5,150" fill="none" stroke="#C29E8A" stroke-width="1.5" stroke-linejoin="round"/>
<polyline points="760,147 760.8,55 761.6,150" fill="none" stroke="#C29E8A" stroke-width="1.5" stroke-linejoin="round"/>
<polyline points="763.6,147 764.4,55 765.2,150" fill="none" stroke="#C29E8A" stroke-width="1.5" stroke-linejoin="round"/>
<polyline points="768.5,147 769.3,56 770.1,150" fill="none" stroke="#C29E8A" stroke-width="1.5" stroke-linejoin="round"/>
<polyline points="773.7,147 774.5,57 775.3,150" fill="none" stroke="#C29E8A" stroke-width="1.5" stroke-linejoin="round"/>
<polyline points="779.5,147 780.3,58 781.1,150" fill="none" stroke="#C29E8A" stroke-width="1.5" stroke-linejoin="round"/>
<polyline points="785,147 785.8,58 786.6,150" fill="none" stroke="#C29E8A" stroke-width="1.5" stroke-linejoin="round"/>
<polyline points="792.6,147 793.4,58.5 794.2,150" fill="none" stroke="#C29E8A" stroke-width="1.5" stroke-linejoin="round"/>
<polyline points="833.2,147 834,60.4 834.8,150" fill="none" stroke="#C29E8A" stroke-width="1.5" stroke-linejoin="round"/>
<polyline points="841.4,147 842.2,58 843,150" fill="none" stroke="#C29E8A" stroke-width="1.5" stroke-linejoin="round"/>
<polyline points="850.6,147 851.4,58 852.2,150" fill="none" stroke="#C29E8A" stroke-width="1.5" stroke-linejoin="round"/>
<line x1="791.4" y1="72.8" x2="791.4" y2="222" stroke="#C29E8A" stroke-width="1.4"/>
<line x1="835.5" y1="74.8" x2="835.5" y2="222" stroke="#C29E8A" stroke-width="1.4"/>
<polyline points="877.3,183.1 880.2,183.1 880.4,151 881.4,154.21 882.4,155.59 883.4,156.97 884.4,155.25 885.4,155.34 886.4,153.64 887.4,153.35 888.4,153.48 889.4,153.91 890.4,153.39 891.4,152.99 892.4,151.78 893.4,153.74 894.4,154.29 895.4,153.39 896.4,154.11 897.4,154.45 898.4,154.2 899.4,155.48 900.4,155.95 901.4,154.23 902.4,153.91 903.4,154.2 904.4,154.53 905.4,154.35 906.4,152.53 907.4,153.28 908.4,156.29 909.4,155.32 910.4,154.49 911.4,154.23 912.4,153 913.4,152.76 914.4,152.26 915.4,151.69 916.4,151.44 917.4,152.53 918.4,152.82 919.4,153.02 920.4,152.6 921.4,151.59 922.4,150.96 923.4,151.3 924.4,151.72 925.4,151.61 926.4,151.27 927.4,151.23 928.4,149.88 929.4,149.15 930.4,149.98 931.4,150.5 932.4,151.22 933.4,151.21 934.4,150.48 935.4,150.66 936.4,149.9 937.4,150.14 938.4,150.38 939.4,151.04 940.4,150.41 941.4,149.28 942.4,148.37 943.4,148.04 944.4,149.44 945.4,151.21 946.4,151.25 947.4,150.71 948.4,150 949.4,150.01 950.4,150.08 951.4,150.12 952.4,150.69 953.4,150.85 954.4,150.93 955.4,149.86 956.4,149.8 957.4,150.31 958.4,151.32 959.4,152.17 960.4,153.09 961.4,151.97 962.4,150.99 963.4,151.03 964.4,151.06 965.4,151.1 966.4,152.3 967.4,152.7 968.4,152.83 969.4,151.65 970.4,150.41 971.4,150.12 972.4,150 973.4,150.67 974.4,151.96 975.4,151.57 976.4,150.29 977.4,149.17 978.4,148.78 979.4,149.91 980.4,150.53 981.4,150.84 982.4,150.3 983.4,150.57 984.4,151.17 985.4,154.63 986.4,152.7 987.4,151.15 988.4,150.62 989.4,151.64 990.4,150.88 991.32,162.03 991.85,169.43 992.38,174.38 992.9,177.71 993.42,179.94 993.95,181.43 994.48,182.43 995,183.1 999.4,183.1" fill="none" stroke="#139E62" stroke-width="2.8" stroke-linejoin="round"/>
<polyline points="879.8,150 880.6,48.8 881.4,153" fill="none" stroke="#139E62" stroke-width="1.4" stroke-linejoin="round"/>
<polyline points="881.4,150 882.2,67 883,153" fill="none" stroke="#139E62" stroke-width="1.4" stroke-linejoin="round"/>
<polyline points="883.2,150 884,76 884.8,153" fill="none" stroke="#139E62" stroke-width="1.4" stroke-linejoin="round"/>
<polyline points="891.8,150 892.6,65.6 893.4,153" fill="none" stroke="#139E62" stroke-width="1.4" stroke-linejoin="round"/>
<polyline points="897.9,150 898.7,65.6 899.5,153" fill="none" stroke="#139E62" stroke-width="1.4" stroke-linejoin="round"/>
<polyline points="906.1,150 906.9,65.6 907.7,153" fill="none" stroke="#139E62" stroke-width="1.4" stroke-linejoin="round"/>
<polyline points="983.3,150 984.1,67.7 984.9,153" fill="none" stroke="#139E62" stroke-width="1.4" stroke-linejoin="round"/>
<line x1="896.2" y1="84" x2="896.2" y2="222" stroke="#139E62" stroke-width="1.4"/>
<line x1="942.9" y1="87" x2="942.9" y2="222" stroke="#139E62" stroke-width="1.4"/>
<path d="M1014.4 70.8 V123.6 H1059" fill="none" stroke="#000" stroke-width="3.4"/>
<text transform="translate(1010.8 114.46) rotate(-90)" font-size="14.5" fill="#000" stroke="#000" stroke-width="0.75" stroke-linejoin="round" textLength="33.89" lengthAdjust="spacingAndGlyphs">40 mV</text>
<text x="1017.83" y="135.8" font-size="14" fill="#000" stroke="#000" stroke-width="0.75" stroke-linejoin="round" textLength="39.61" lengthAdjust="spacingAndGlyphs">400 ms</text>
<text x="1000.54" y="186.5" font-size="17.5" fill="#000" stroke="#000" stroke-width="0.75" stroke-linejoin="round" textLength="61.14" lengthAdjust="spacingAndGlyphs">+170 pA</text>
<text x="1008.26" y="234" font-size="17.5" fill="#000" stroke="#000" stroke-width="0.75" stroke-linejoin="round" textLength="50.6" lengthAdjust="spacingAndGlyphs">+30 pA</text>
<text x="1012.75" y="279" font-size="17.5" fill="#000" stroke="#000" stroke-width="0.75" stroke-linejoin="round" textLength="45.89" lengthAdjust="spacingAndGlyphs">-30 pA</text>
<text x="1004.95" y="335.5" font-size="17.5" fill="#000" stroke="#000" stroke-width="0.75" stroke-linejoin="round" textLength="53.73" lengthAdjust="spacingAndGlyphs">-110 pA</text>
<polyline points="617.6,233 619.25,228.59 620,225.92 620.75,224.29 621.5,223.31 622.25,222.71 623,222.35 623.75,222.13 624.5,222 626,222.37 627.5,222.73 629,222.89 630.5,223.33 632,222.72 633.5,223.27 635,220.59 636.5,221.9 638,223.33 639.5,222.45 641,223.2 642.5,220.84 644,221.91 645.5,221.24 647,222.13 648.5,222.22 650,220.54 651.5,221.15 653,221.34 654.5,223.25 656,222.8 657.5,220.98 659,222.89 660.5,220.92 662,222.35 663.5,220.88 665,220.51 666.5,223.11 668,221.13 669.5,221.15 671,223.45 672.5,223.12 674,221.37 675.5,223.38 677,222.12 678.5,222.53 680,221.11 681.5,223.32 683,222.57 684.5,223.4 686,223.18 687.5,221.4 689,221.58 690.5,221 692,220.94 693.5,220.7 695,221.4 696.5,222.31 698,220.51 699.5,222.53 701,221.51 702.5,221.43 704,222.96 705.5,221.94 707,221.45 708.5,221.94 710,222.61 711.5,220.67 713,223.43 714.5,220.57 716,222.75 717.5,223.03 719,220.55 720.5,222.86 722,221.6 723.5,222.24 725,220.53 726.5,220.64 728,221.04 729.5,223.37 730.7,221.09 731.81,225.89 732.93,228.45 734.04,230.14 735.15,231.25 736.26,231.99 737.38,232.47 738.49,232.79 739.6,233" fill="none" stroke="#F9A03F" stroke-width="4.5" stroke-linejoin="round"/>
<polyline points="747.5,234 748.3,234 750.17,229.03 751.83,226.02 753.5,224.19 755.17,223.08 756.83,222.41 758.5,222 759.5,221.95 760.5,222.32 761.5,222.26 762.5,221.85 763.5,221.66 764.5,222.04 765.5,222.04 766.5,221.85 767.5,221.78 768.5,222.15 769.5,222.03 770.5,221.83 771.5,221.87 772.5,222.05 773.5,222 774.5,221.71 775.5,221.51 776.5,221.74 777.5,221.76 778.5,221.25 779.5,221.23 780.5,221.39 781.5,221.27 782.5,220.63 783.5,220.15 784.5,220.19 785.5,219.84 786.5,218.95 787.5,218.12 788.5,217.5 789.5,216.6 790.5,215.04 791.5,214.12 792.5,216.14 793.5,217.36 794.5,218.19 795.5,218.95 796.5,220.03 797.5,220.64 798.5,220.69 799.5,220.99 800.5,221.53 801.5,221.76 802.5,221.72 803.5,221.57 804.5,221.86 805.5,221.95 806.5,221.63 807.5,221.7 808.5,221.86 809.5,222.04 810.5,221.77 811.5,221.63 812.5,221.99 813.5,221.92 814.5,221.54 815.5,221.56 816.5,221.71 817.5,221.63 818.5,221.5 819.5,221.54 820.5,221.57 821.5,221.63 822.5,221.07 823.5,220.92 824.5,221.24 825.5,221.09 826.5,220.49 827.5,220.16 828.5,220.07 829.5,219.52 830.5,218.93 831.5,218.11 832.5,217.61 833.5,216.75 834.5,215.24 835.5,213.97 836.5,215.89 837.5,217.43 838.5,218.31 839.5,219.12 840.5,220.11 841.5,220.49 842.5,220.63 843.5,220.94 844.5,221.33 845.5,221.39 846.5,221.2 847.5,221.12 848.5,221.18 849.5,221.19 850.5,220.65 851.5,220.42 852.5,220.49 853.5,219.93 854.5,218.92 855.5,218.94 856.5,220.03 857.5,220.54 858.5,220.59 859.5,220.91 861.11,225.78 862.23,228.31 863.34,230.01 864.45,231.15 865.56,231.92 866.67,232.43 867.79,232.77 868.9,233" fill="none" stroke="#C29E8A" stroke-width="2.8" stroke-linejoin="round"/>
<polyline points="877.3,233 878.1,233 880.3,228.03 882.3,225.02 884.3,223.19 886.3,222.08 888.3,221.41 890.3,221 891.3,217.7 892.3,217.23 893.3,216.65 894.3,215.15 895.3,213.91 896.3,213.11 897.3,214.8 898.3,215.9 899.3,216.69 900.3,217.91 901.3,218.54 902.3,218.63 903.3,219 904.3,219.89 905.3,220.1 906.3,219.89 907.3,220.07 908.3,220.77 909.3,220.98 910.3,220.65 911.3,220.8 912.3,220.91 913.3,221.22 914.3,220.78 915.3,220.52 916.3,220.73 917.3,220.83 918.3,220.71 919.3,220.47 920.3,220.89 921.3,221.07 922.3,220.67 923.3,220.57 924.3,220.69 925.3,220.61 926.3,220.19 927.3,220.2 928.3,220.48 929.3,220.46 930.3,220.1 931.3,219.87 932.3,219.97 933.3,220.04 934.3,219.54 935.3,218.98 936.3,218.97 937.3,218.62 938.3,217.87 939.3,217.12 940.3,216.44 941.3,215.69 942.3,213.83 943.3,213.53 944.3,215.58 945.3,216.76 946.3,217.41 947.3,217.86 948.3,218.92 949.3,219.64 950.3,219.69 951.3,220.01 952.3,220.43 953.3,220.77 954.3,220.57 955.3,220.56 956.3,220.92 957.3,221.22 958.3,221.08 959.3,220.9 960.3,221.28 961.3,221.14 962.3,220.91 963.3,220.85 964.3,221.38 965.3,221.56 966.3,221.03 967.3,220.82 968.3,221.2 969.3,221.05 970.3,220.7 971.3,220.45 972.3,220.64 973.3,220.6 974.3,220.45 975.3,220.17 976.3,220.4 977.3,220.45 978.3,220.23 979.3,219.78 980.3,219.95 981.3,219.86 982.3,219.37 983.3,218.94 984.3,218.81 985.3,218 986.3,217.31 987.3,218.1 988.3,219.32 989.3,220.12 990.3,219.93 991.49,223.92 992.48,225.88 993.46,227.19 994.45,228.07 995.44,228.66 996.42,229.06 997.41,229.32 998.4,229.5" fill="none" stroke="#139E62" stroke-width="3.2" stroke-linejoin="round"/>
<polyline points="617.6,270.1 619.25,274.67 620,277.44 620.75,279.12 621.5,280.14 622.25,280.76 623,281.13 623.75,281.36 624.5,281.5 626,280.63 627.5,282.98 629,280.3 630.5,282.16 632,280.17 633.5,280.69 635,283.1 636.5,280.57 638,281.95 639.5,281.37 641,281.35 642.5,281.48 644,280.52 645.5,282.56 647,280.19 648.5,280.65 650,279.96 651.5,280.75 653,281.2 654.5,282.79 656,281.11 657.5,280.26 659,280.73 660.5,283.07 662,280.1 663.5,281.88 665,281.11 666.5,282.01 668,280.98 669.5,282.11 671,281.49 672.5,281.98 674,282.78 675.5,281.76 677,280.35 678.5,280.11 680,282.93 681.5,281.46 683,280.52 684.5,282.93 686,281.75 687.5,282.23 689,282.72 690.5,280.81 692,281.04 693.5,282.71 695,280.33 696.5,282.35 698,280.21 699.5,282.11 701,282.15 702.5,282.94 704,282.6 705.5,281.51 707,280.53 708.5,280.38 710,281.59 711.5,281.53 713,280.13 714.5,282.79 716,281.52 717.5,282.14 719,280.6 720.5,280.68 722,279.94 723.5,281 725,280.75 726.5,281.25 728,281.11 729.5,282.57 730.7,282.75 731.81,277.86 732.93,275.46 734.04,273.88 735.15,272.84 736.26,272.15 737.38,271.7 738.49,271.4 739.6,271.2" fill="none" stroke="#F9A03F" stroke-width="5" stroke-linejoin="round"/>
<polyline points="747.5,271.2 749.25,275.65 750,278.35 750.75,279.98 751.5,280.98 752.25,281.58 753,281.94 753.75,282.17 754.5,282.3 756,282.28 757.5,282.22 759,282.08 760.5,282.52 762,282 763.5,282.3 765,282.54 766.5,282.05 768,282.33 769.5,282.37 771,282.02 772.5,282.23 774,282.42 775.5,282.27 777,282.44 778.5,282.09 780,282.14 781.5,282.07 783,282.3 784.5,282.55 786,282.35 787.5,282.46 789,282.23 790.5,282.45 792,282.06 793.5,282.17 795,282.4 796.5,282.44 798,282.25 799.5,282.05 801,282.16 802.5,282.13 804,282.17 805.5,282.49 807,282.12 808.5,282.53 810,282.53 811.5,282.03 813,282.23 814.5,282.3 816,282.01 817.5,282.25 819,282.54 820.5,282.07 822,282.36 823.5,282.07 825,282.35 826.5,282.54 828,282.12 829.5,282 831,282.05 832.5,282.32 834,282.01 835.5,282.05 837,282.3 838.5,282.55 840,282.25 841.5,282.24 843,282.38 844.5,282.06 846,282.35 847.5,282.1 849,282.37 850.5,282.57 852,282.03 853.5,282.33 855,282.36 856.5,282.09 858,282.16 859.5,282.6 860,282.6 861.12,278.38 862.25,275.79 863.38,274.09 864.5,272.96 865.62,272.22 866.75,271.73 867.88,271.41 869,271.2" fill="none" stroke="#C29E8A" stroke-width="3" stroke-linejoin="round"/>
<polyline points="877.3,272.3 879.05,275.99 879.8,278.22 880.55,279.58 881.3,280.4 882.05,280.9 882.8,281.21 883.55,281.39 884.3,281.5 885.8,281.57 887.3,281.43 888.8,281.58 890.3,281.21 891.8,281.81 893.3,281.82 894.8,281.65 896.3,281.16 897.8,281.52 899.3,281.33 900.8,281.25 902.3,281.95 903.8,282 905.3,281.04 906.8,281.86 908.3,281.6 909.8,281.38 911.3,281.28 912.8,281.67 914.3,281.46 915.8,281.69 917.3,281.66 918.8,281.13 920.3,281.77 921.8,281.98 923.3,281.97 924.8,281.61 926.3,281.04 927.8,281 929.3,281.13 930.8,281.94 932.3,281.3 933.8,281.37 935.3,281.9 936.8,281.31 938.3,281.55 939.8,281.44 941.3,281.06 942.8,281.58 944.3,281.84 945.8,281.16 947.3,281.22 948.8,281.41 950.3,281.04 951.8,281.5 953.3,281.82 954.8,281.66 956.3,281.53 957.8,281.86 959.3,281.15 960.8,281.57 962.3,281.37 963.8,281.6 965.3,281.11 966.8,281.78 968.3,281.1 969.8,281.17 971.3,281.81 972.8,281.95 974.3,281.43 975.8,281.41 977.3,281.25 978.8,281.27 980.3,281.62 981.8,281.18 983.3,281.12 984.8,281.46 986.3,281.16 987.8,281.65 989.3,281.82 990.8,281.78 991.7,281.48 992.49,278.67 993.28,276.81 994.06,275.58 994.85,274.77 995.64,274.24 996.42,273.89 997.21,273.65 998,273.5" fill="none" stroke="#139E62" stroke-width="3.4" stroke-linejoin="round"/>
<polyline points="617.6,328.7 619.25,341.25 620,348.85 620.75,353.47 621.5,356.27 622.25,357.97 623,359 623.75,359.62 624.5,360 626,359.25 627.5,358.99 629,359.5 630.5,357.76 632,357.46 633.5,357.31 635,355.84 636.5,356.45 638,356.51 639.5,356.71 641,354.53 642.5,354.91 644,354.13 645.5,355.97 647,355.49 648.5,353.53 650,356.04 651.5,355.88 653,354.9 654.5,354.7 656,353.34 657.5,352.86 659,354.23 660.5,352.86 662,353.17 663.5,353.26 665,352.62 666.5,353.79 668,353.69 669.5,354.78 671,353.85 672.5,354.16 674,353.74 675.5,354.17 677,353.58 678.5,353.06 680,355.05 681.5,355.03 683,354.58 684.5,354.2 686,353.09 687.5,352.84 689,353 690.5,352.38 692,354.32 693.5,353.29 695,354.53 696.5,353.24 698,354.83 699.5,354.52 701,352.14 702.5,352.72 704,354.68 705.5,353.45 707,354.87 708.5,353.24 710,352.33 711.5,353.88 713,354.3 714.5,352.87 716,352.36 717.5,353.04 719,354.81 720.5,354.23 722,352.44 723.5,352.8 725,352.39 726.5,352.27 728,354.34 729.5,352.6 730.7,353.67 731.81,343.54 732.93,336.97 734.04,332.64 735.15,329.78 736.26,327.9 737.38,326.66 738.49,325.84 739.6,325.3" fill="none" stroke="#F9A03F" stroke-width="5" stroke-linejoin="round"/>
<polyline points="747.5,329.8 749.25,342.31 750,349.89 750.75,354.49 751.5,357.28 752.25,358.97 753,360 753.75,360.62 754.5,361 756,360.41 757.5,360.01 759,359.54 760.5,358.81 762,358.35 763.5,358.22 765,357.84 766.5,357.88 768,357.55 769.5,357.27 771,357.03 772.5,356.9 774,356.42 775.5,356.44 777,356.14 778.5,356.45 780,355.83 781.5,356.18 783,355.64 784.5,355.92 786,355.64 787.5,355.61 789,355.81 790.5,355.26 792,355.23 793.5,355.69 795,355.41 796.5,355.12 798,355.62 799.5,355.57 801,355.04 802.5,355.2 804,355 805.5,355.09 807,355.25 808.5,354.96 810,355.27 811.5,354.87 813,354.92 814.5,355.3 816,355.04 817.5,355.04 819,355.14 820.5,355.06 822,355 823.5,354.78 825,355.19 826.5,355.33 828,355.33 829.5,355.14 831,354.95 832.5,354.95 834,355.14 835.5,355.13 837,354.79 838.5,354.86 840,354.94 841.5,355.02 843,355.2 844.5,355.01 846,354.73 847.5,355.21 849,354.97 850.5,355.02 852,354.84 853.5,354.96 855,354.94 856.5,355.17 858,354.77 859.5,355.04 860,354.81 861.12,344.89 862.25,338.23 863.38,333.84 864.5,330.94 865.62,329.03 866.75,327.78 867.88,326.95 869,326.4" fill="none" stroke="#C29E8A" stroke-width="3" stroke-linejoin="round"/>
<polyline points="877.3,329.8 879.05,341.9 879.8,349.25 880.55,353.7 881.3,356.4 882.05,358.04 882.8,359.03 883.55,359.63 884.3,360 885.8,359.57 887.3,359.95 888.8,359.83 890.3,359.92 891.8,359.03 893.3,359 894.8,358.82 896.3,358.84 897.8,359.39 899.3,358.61 900.8,359.04 902.3,358.61 903.8,358.66 905.3,358.79 906.8,359.24 908.3,358.93 909.8,358.19 911.3,358.48 912.8,358.3 914.3,359.15 915.8,359.06 917.3,359.03 918.8,359.04 920.3,358.93 921.8,359.16 923.3,358.96 924.8,358.31 926.3,359.01 927.8,358.57 929.3,358.88 930.8,358.64 932.3,358.48 933.8,358.39 935.3,358.47 936.8,358.32 938.3,358.08 939.8,358.92 941.3,358.89 942.8,359.11 944.3,358.76 945.8,358.59 947.3,358.82 948.8,358.08 950.3,358.73 951.8,358.45 953.3,358.13 954.8,358.16 956.3,358.54 957.8,358.22 959.3,358.46 960.8,358.64 962.3,358.38 963.8,358.06 965.3,358.5 966.8,358.19 968.3,358.19 969.8,358.14 971.3,358.34 972.8,357.99 974.3,358.69 975.8,359.05 977.3,358.37 978.8,358.77 980.3,359.02 981.8,357.95 983.3,358.07 984.8,358.87 986.3,358.91 987.8,358.67 989.3,358.09 990.8,358.4 991.7,358.94 992.49,349.56 993.28,343.67 994.06,339.78 994.85,337.22 995.64,335.53 996.42,334.42 997.21,333.68 998,333.2" fill="none" stroke="#139E62" stroke-width="4" stroke-linejoin="round"/>
<text x="0.76" y="399.9" font-size="37.5" fill="#000" stroke="#000" stroke-width="0.8" stroke-linejoin="round">D</text>
<rect x="73.4" y="410" width="3.6" height="129.6" fill="#000"/>
<line x1="69.4" y1="410" x2="75.2" y2="410" stroke="#000" stroke-width="1.5"/>
<text x="45.66" y="416.5" font-size="18" fill="#000" stroke="#000" stroke-width="0.7" stroke-linejoin="round" textLength="23.42" lengthAdjust="spacingAndGlyphs">-40</text>
<line x1="69.4" y1="442.3" x2="75.2" y2="442.3" stroke="#000" stroke-width="1.5"/>
<text x="45.66" y="448.8" font-size="18" fill="#000" stroke="#000" stroke-width="0.7" stroke-linejoin="round" textLength="23.42" lengthAdjust="spacingAndGlyphs">-50</text>
<line x1="69.4" y1="474.4" x2="75.2" y2="474.4" stroke="#000" stroke-width="1.5"/>
<text x="45.66" y="480.9" font-size="18" fill="#000" stroke="#000" stroke-width="0.7" stroke-linejoin="round" textLength="23.42" lengthAdjust="spacingAndGlyphs">-60</text>
<line x1="69.4" y1="506.7" x2="75.2" y2="506.7" stroke="#000" stroke-width="1.5"/>
<text x="45.66" y="513.2" font-size="18" fill="#000" stroke="#000" stroke-width="0.7" stroke-linejoin="round" textLength="23.42" lengthAdjust="spacingAndGlyphs">-70</text>
<line x1="69.4" y1="539.4" x2="75.2" y2="539.4" stroke="#000" stroke-width="1.5"/>
<text x="45.66" y="545.9" font-size="18" fill="#000" stroke="#000" stroke-width="0.7" stroke-linejoin="round" textLength="23.42" lengthAdjust="spacingAndGlyphs">-80</text>
<text transform="translate(18.7 553.98) rotate(-90)" font-size="22.5" fill="#000" stroke="#000" stroke-width="0.75" stroke-linejoin="round" textLength="142.99" lengthAdjust="spacingAndGlyphs">Res. memb. pot.</text>
<text transform="translate(40.4 500.42) rotate(-90)" font-size="22.4" fill="#000" stroke="#000" stroke-width="0.75" stroke-linejoin="round" textLength="43.16" lengthAdjust="spacingAndGlyphs">(mV)</text>
<line x1="102.1" y1="402.2" x2="150.2" y2="402.2" stroke="#000" stroke-width="3.2"/>
<circle cx="127.7" cy="390.8" r="1.59" fill="#000" stroke="none" stroke-width="1"/>
<path d="M128.79 390.8 L129.37 385.2 L126.03 385.2 L126.61 390.8 Z M128.04 391.83 L133.54 390.66 L132.51 387.48 L127.36 389.77 Z M126.82 391.44 L129.64 396.31 L132.34 394.35 L128.58 390.16 Z M126.82 390.16 L123.06 394.35 L125.76 396.31 L128.58 391.44 Z M128.04 389.77 L122.89 387.48 L121.86 390.66 L127.36 391.83 Z" fill="#000"/>
<circle cx="103.19" cy="430.88" r="1.9" fill="none" stroke="#F89A48" stroke-width="1.3"/>
<circle cx="100.02" cy="439.28" r="1.9" fill="none" stroke="#F89A48" stroke-width="1.3"/>
<circle cx="106.68" cy="441.97" r="1.9" fill="none" stroke="#F89A48" stroke-width="1.3"/>
<circle cx="103.19" cy="445.93" r="1.9" fill="none" stroke="#F89A48" stroke-width="1.3"/>
<circle cx="103.19" cy="448.78" r="1.9" fill="none" stroke="#F89A48" stroke-width="1.3"/>
<circle cx="100.02" cy="455.75" r="1.9" fill="none" stroke="#F89A48" stroke-width="1.3"/>
<circle cx="106.68" cy="456.38" r="1.9" fill="none" stroke="#F89A48" stroke-width="1.3"/>
<circle cx="93.69" cy="460.18" r="1.9" fill="none" stroke="#F89A48" stroke-width="1.3"/>
<circle cx="93.69" cy="465.25" r="1.9" fill="none" stroke="#F89A48" stroke-width="1.3"/>
<circle cx="100.02" cy="464.94" r="1.9" fill="none" stroke="#F89A48" stroke-width="1.3"/>
<circle cx="106.68" cy="462.56" r="1.9" fill="none" stroke="#F89A48" stroke-width="1.3"/>
<circle cx="112.69" cy="462.56" r="1.9" fill="none" stroke="#F89A48" stroke-width="1.3"/>
<circle cx="112.69" cy="465.73" r="1.9" fill="none" stroke="#F89A48" stroke-width="1.3"/>
<circle cx="106.68" cy="468.1" r="1.9" fill="none" stroke="#F89A48" stroke-width="1.3"/>
<circle cx="103.19" cy="471.59" r="1.9" fill="none" stroke="#F89A48" stroke-width="1.3"/>
<circle cx="106.36" cy="477.29" r="1.9" fill="none" stroke="#F89A48" stroke-width="1.3"/>
<circle cx="100.02" cy="478.87" r="1.9" fill="none" stroke="#F89A48" stroke-width="1.3"/>
<circle cx="93.69" cy="482.36" r="1.9" fill="none" stroke="#F89A48" stroke-width="1.3"/>
<circle cx="100.02" cy="484.89" r="1.9" fill="none" stroke="#F89A48" stroke-width="1.3"/>
<circle cx="106.68" cy="484.57" r="1.9" fill="none" stroke="#F89A48" stroke-width="1.3"/>
<circle cx="96.86" cy="491.86" r="1.9" fill="none" stroke="#F89A48" stroke-width="1.3"/>
<circle cx="103.19" cy="494.39" r="1.9" fill="none" stroke="#F89A48" stroke-width="1.3"/>
<circle cx="109.53" cy="493.44" r="1.9" fill="none" stroke="#F89A48" stroke-width="1.3"/>
<circle cx="93.69" cy="500.73" r="1.9" fill="none" stroke="#F89A48" stroke-width="1.3"/>
<circle cx="100.02" cy="501.36" r="1.9" fill="none" stroke="#F89A48" stroke-width="1.3"/>
<circle cx="106.36" cy="499.46" r="1.9" fill="none" stroke="#F89A48" stroke-width="1.3"/>
<circle cx="106.36" cy="503.26" r="1.9" fill="none" stroke="#F89A48" stroke-width="1.3"/>
<circle cx="112.69" cy="500.73" r="1.9" fill="none" stroke="#F89A48" stroke-width="1.3"/>
<circle cx="100.02" cy="504.85" r="1.9" fill="none" stroke="#F89A48" stroke-width="1.3"/>
<circle cx="103.19" cy="509.28" r="1.9" fill="none" stroke="#F89A48" stroke-width="1.3"/>
<circle cx="103.19" cy="526.7" r="1.9" fill="none" stroke="#F89A48" stroke-width="1.3"/>
<circle cx="103.19" cy="529.08" r="1.9" fill="none" stroke="#F89A48" stroke-width="1.3"/>
<path d="M103.2 408.7 L103.26 409.4 L103.32 410.1 L103.38 410.8 L103.43 411.5 L103.48 412.2 L103.53 412.91 L103.58 413.61 L103.63 414.31 L103.68 415.01 L103.73 415.71 L103.78 416.41 L103.84 417.11 L103.89 417.81 L103.96 418.51 L104.02 419.21 L104.09 419.92 L104.17 420.62 L104.25 421.32 L104.34 422.02 L104.44 422.72 L104.54 423.42 L104.66 424.12 L104.82 424.82 L105.04 425.52 L105.29 426.22 L105.58 426.93 L105.89 427.63 L106.22 428.33 L106.56 429.03 L106.9 429.73 L107.23 430.43 L107.55 431.13 L107.86 431.83 L108.15 432.53 L108.44 433.24 L108.74 433.94 L109.04 434.64 L109.33 435.34 L109.63 436.04 L109.93 436.74 L110.24 437.44 L110.54 438.14 L110.85 438.84 L111.16 439.54 L111.47 440.25 L111.79 440.95 L112.1 441.65 L112.42 442.35 L112.73 443.05 L113.05 443.75 L113.37 444.45 L113.69 445.15 L114.01 445.85 L114.34 446.55 L114.67 447.25 L115.01 447.96 L115.36 448.66 L115.71 449.36 L116.07 450.06 L116.43 450.76 L116.83 451.46 L117.28 452.16 L117.75 452.86 L118.23 453.56 L118.7 454.26 L119.14 454.97 L119.54 455.67 L119.87 456.37 L120.12 457.07 L120.34 457.77 L120.54 458.47 L120.75 459.17 L120.94 459.87 L121.11 460.57 L121.27 461.27 L121.41 461.98 L121.53 462.68 L121.62 463.38 L121.68 464.08 L121.7 464.78 L121.65 465.48 L121.48 466.18 L121.21 466.88 L120.85 467.58 L120.44 468.28 L120 468.99 L119.55 469.69 L119.11 470.39 L118.71 471.09 L118.33 471.79 L117.88 472.49 L117.39 473.19 L116.89 473.89 L116.42 474.59 L116.02 475.29 L115.71 476 L115.53 476.7 L115.51 477.4 L115.58 478.1 L115.71 478.8 L115.88 479.5 L116.09 480.2 L116.32 480.9 L116.55 481.6 L116.77 482.3 L116.99 483.01 L117.26 483.71 L117.55 484.41 L117.86 485.11 L118.18 485.81 L118.5 486.51 L118.81 487.21 L119.1 487.91 L119.36 488.61 L119.58 489.31 L119.75 490.02 L119.87 490.72 L119.98 491.42 L120.1 492.12 L120.2 492.82 L120.3 493.52 L120.4 494.22 L120.48 494.92 L120.56 495.62 L120.63 496.32 L120.69 497.03 L120.74 497.73 L120.77 498.43 L120.79 499.13 L120.8 499.83 L120.75 500.53 L120.61 501.23 L120.4 501.93 L120.13 502.63 L119.8 503.33 L119.42 504.04 L119.01 504.74 L118.57 505.44 L118.12 506.14 L117.66 506.84 L117.2 507.54 L116.72 508.24 L116.14 508.94 L115.47 509.64 L114.76 510.34 L114.01 511.05 L113.26 511.75 L112.52 512.45 L111.84 513.15 L111.22 513.85 L110.65 514.55 L110.06 515.25 L109.47 515.95 L108.89 516.65 L108.33 517.36 L107.84 518.06 L107.41 518.76 L107.07 519.46 L106.85 520.16 L106.73 520.86 L106.64 521.56 L106.57 522.26 L106.51 522.96 L106.46 523.66 L106.41 524.37 L106.36 525.07 L106.3 525.77 L106.23 526.47 L106.13 527.17 L106.02 527.87 L105.88 528.57 L105.73 529.27 L105.57 529.97 L105.4 530.67 L105.24 531.38 L105.08 532.08 L104.92 532.78 L104.78 533.48 L104.66 534.18 L104.56 534.88 L104.47 535.58 L104.38 536.28 L104.3 536.98 L104.22 537.68 L104.15 538.38 L104.08 539.09 L104.01 539.79 L103.94 540.49 L103.88 541.19 L103.82 541.89 L103.76 542.59 L103.7 543.29 L103.64 543.99 L103.58 544.69 L103.52 545.39 L103.46 546.1 L103.4 546.8 L103.33 547.5 L103.27 548.2 L103.2 548.9 L103.2 548.9 L103.13 548.2 L103.07 547.5 L103 546.8 L102.94 546.1 L102.88 545.39 L102.82 544.69 L102.76 543.99 L102.7 543.29 L102.64 542.59 L102.58 541.89 L102.52 541.19 L102.46 540.49 L102.39 539.79 L102.32 539.09 L102.25 538.38 L102.18 537.68 L102.1 536.98 L102.02 536.28 L101.93 535.58 L101.84 534.88 L101.74 534.18 L101.62 533.48 L101.48 532.78 L101.32 532.08 L101.16 531.38 L101 530.67 L100.83 529.97 L100.67 529.27 L100.52 528.57 L100.38 527.87 L100.27 527.17 L100.17 526.47 L100.1 525.77 L100.04 525.07 L99.99 524.37 L99.94 523.66 L99.89 522.96 L99.83 522.26 L99.76 521.56 L99.67 520.86 L99.55 520.16 L99.33 519.46 L98.99 518.76 L98.56 518.06 L98.07 517.36 L97.51 516.65 L96.93 515.95 L96.34 515.25 L95.75 514.55 L95.18 513.85 L94.56 513.15 L93.88 512.45 L93.14 511.75 L92.39 511.05 L91.64 510.34 L90.93 509.64 L90.26 508.94 L89.68 508.24 L89.2 507.54 L88.74 506.84 L88.28 506.14 L87.83 505.44 L87.39 504.74 L86.98 504.04 L86.6 503.33 L86.27 502.63 L86 501.93 L85.79 501.23 L85.65 500.53 L85.6 499.83 L85.61 499.13 L85.63 498.43 L85.66 497.73 L85.71 497.03 L85.77 496.32 L85.84 495.62 L85.92 494.92 L86 494.22 L86.1 493.52 L86.2 492.82 L86.3 492.12 L86.42 491.42 L86.53 490.72 L86.65 490.02 L86.82 489.31 L87.04 488.61 L87.3 487.91 L87.59 487.21 L87.9 486.51 L88.22 485.81 L88.54 485.11 L88.85 484.41 L89.14 483.71 L89.41 483.01 L89.63 482.3 L89.85 481.6 L90.08 480.9 L90.31 480.2 L90.52 479.5 L90.69 478.8 L90.82 478.1 L90.89 477.4 L90.87 476.7 L90.69 476 L90.38 475.29 L89.98 474.59 L89.51 473.89 L89.01 473.19 L88.52 472.49 L88.07 471.79 L87.69 471.09 L87.29 470.39 L86.85 469.69 L86.4 468.99 L85.96 468.28 L85.55 467.58 L85.19 466.88 L84.92 466.18 L84.75 465.48 L84.7 464.78 L84.72 464.08 L84.78 463.38 L84.87 462.68 L84.99 461.98 L85.13 461.27 L85.29 460.57 L85.46 459.87 L85.65 459.17 L85.86 458.47 L86.06 457.77 L86.28 457.07 L86.53 456.37 L86.86 455.67 L87.26 454.97 L87.7 454.26 L88.17 453.56 L88.65 452.86 L89.12 452.16 L89.57 451.46 L89.97 450.76 L90.33 450.06 L90.69 449.36 L91.04 448.66 L91.39 447.96 L91.73 447.25 L92.06 446.55 L92.39 445.85 L92.71 445.15 L93.03 444.45 L93.35 443.75 L93.67 443.05 L93.98 442.35 L94.3 441.65 L94.61 440.95 L94.93 440.25 L95.24 439.54 L95.55 438.84 L95.86 438.14 L96.16 437.44 L96.47 436.74 L96.77 436.04 L97.07 435.34 L97.36 434.64 L97.66 433.94 L97.96 433.24 L98.25 432.53 L98.54 431.83 L98.85 431.13 L99.17 430.43 L99.5 429.73 L99.84 429.03 L100.18 428.33 L100.51 427.63 L100.82 426.93 L101.11 426.22 L101.36 425.52 L101.58 424.82 L101.74 424.12 L101.86 423.42 L101.96 422.72 L102.06 422.02 L102.15 421.32 L102.23 420.62 L102.31 419.92 L102.38 419.21 L102.44 418.51 L102.51 417.81 L102.56 417.11 L102.62 416.41 L102.67 415.71 L102.72 415.01 L102.77 414.31 L102.82 413.61 L102.87 412.91 L102.92 412.2 L102.97 411.5 L103.02 410.8 L103.08 410.1 L103.14 409.4 L103.2 408.7 Z" fill="none" stroke="#FF7A12" stroke-width="2.3" stroke-linejoin="round"/>
<line x1="90.9" y1="477.1" x2="115.5" y2="477.1" stroke="#FF7A12" stroke-width="1.95"/>
<circle cx="151.02" cy="455.75" r="1.9" fill="none" stroke="#A2D6A2" stroke-width="1.3"/>
<circle cx="151.02" cy="465.73" r="1.9" fill="none" stroke="#A2D6A2" stroke-width="1.3"/>
<circle cx="151.02" cy="471.27" r="1.9" fill="none" stroke="#A2D6A2" stroke-width="1.3"/>
<circle cx="151.02" cy="479.98" r="1.9" fill="none" stroke="#A2D6A2" stroke-width="1.3"/>
<circle cx="151.02" cy="486.32" r="1.9" fill="none" stroke="#A2D6A2" stroke-width="1.3"/>
<circle cx="151.02" cy="493.13" r="1.9" fill="none" stroke="#A2D6A2" stroke-width="1.3"/>
<circle cx="151.02" cy="496.14" r="1.9" fill="none" stroke="#A2D6A2" stroke-width="1.3"/>
<circle cx="144.69" cy="499.3" r="1.9" fill="none" stroke="#A2D6A2" stroke-width="1.3"/>
<circle cx="157.36" cy="499.78" r="1.9" fill="none" stroke="#A2D6A2" stroke-width="1.3"/>
<circle cx="151.02" cy="504.53" r="1.9" fill="none" stroke="#A2D6A2" stroke-width="1.3"/>
<circle cx="157.36" cy="509.28" r="1.9" fill="none" stroke="#A2D6A2" stroke-width="1.3"/>
<circle cx="151.02" cy="511.66" r="1.9" fill="none" stroke="#A2D6A2" stroke-width="1.3"/>
<circle cx="151.02" cy="517.2" r="1.9" fill="none" stroke="#A2D6A2" stroke-width="1.3"/>
<circle cx="147.85" cy="520.37" r="1.9" fill="none" stroke="#A2D6A2" stroke-width="1.3"/>
<circle cx="154.19" cy="521.95" r="1.9" fill="none" stroke="#A2D6A2" stroke-width="1.3"/>
<circle cx="151.02" cy="525.44" r="1.9" fill="none" stroke="#A2D6A2" stroke-width="1.3"/>
<path d="M151 434 L151.1 434.7 L151.19 435.4 L151.29 436.1 L151.37 436.8 L151.46 437.5 L151.55 438.2 L151.64 438.9 L151.73 439.6 L151.83 440.3 L151.93 441 L152.03 441.7 L152.15 442.4 L152.27 443.1 L152.4 443.8 L152.54 444.5 L152.71 445.2 L152.91 445.9 L153.13 446.6 L153.37 447.3 L153.63 448 L153.9 448.7 L154.19 449.4 L154.47 450.1 L154.77 450.8 L155.06 451.5 L155.34 452.2 L155.62 452.9 L155.89 453.6 L156.14 454.3 L156.38 455 L156.59 455.7 L156.79 456.4 L156.98 457.1 L157.17 457.8 L157.35 458.5 L157.52 459.2 L157.69 459.9 L157.86 460.6 L158.02 461.3 L158.18 462 L158.34 462.7 L158.5 463.4 L158.66 464.1 L158.82 464.8 L158.98 465.5 L159.14 466.2 L159.31 466.9 L159.48 467.6 L159.66 468.3 L159.84 469 L160.03 469.7 L160.23 470.4 L160.44 471.1 L160.66 471.8 L160.89 472.5 L161.14 473.2 L161.4 473.9 L161.68 474.6 L161.96 475.3 L162.25 476 L162.55 476.7 L162.85 477.4 L163.15 478.1 L163.45 478.8 L163.75 479.5 L164.05 480.2 L164.34 480.9 L164.63 481.6 L164.9 482.3 L165.17 483 L165.42 483.7 L165.66 484.4 L165.88 485.1 L166.09 485.8 L166.3 486.5 L166.51 487.2 L166.73 487.9 L166.95 488.6 L167.17 489.3 L167.39 490 L167.61 490.7 L167.81 491.4 L168.02 492.1 L168.21 492.8 L168.39 493.5 L168.56 494.2 L168.71 494.9 L168.84 495.6 L168.96 496.3 L169.06 497 L169.13 497.7 L169.18 498.4 L169.2 499.1 L169.2 499.8 L169.18 500.5 L169.15 501.2 L169.11 501.9 L169.06 502.6 L168.99 503.3 L168.92 504 L168.84 504.7 L168.75 505.4 L168.66 506.1 L168.56 506.8 L168.45 507.5 L168.34 508.2 L168.23 508.9 L168.12 509.6 L168 510.3 L167.88 511 L167.76 511.7 L167.61 512.4 L167.46 513.1 L167.28 513.8 L167.1 514.5 L166.9 515.2 L166.69 515.9 L166.46 516.6 L166.22 517.3 L165.98 518 L165.72 518.7 L165.45 519.4 L165.17 520.1 L164.88 520.8 L164.59 521.5 L164.28 522.2 L163.97 522.9 L163.65 523.6 L163.3 524.3 L162.89 525 L162.43 525.7 L161.94 526.4 L161.41 527.1 L160.86 527.8 L160.3 528.5 L159.73 529.2 L159.15 529.9 L158.58 530.6 L158.03 531.3 L157.49 532 L156.98 532.7 L156.51 533.4 L156.08 534.1 L155.69 534.8 L155.33 535.5 L154.98 536.2 L154.64 536.9 L154.31 537.6 L153.99 538.3 L153.69 539 L153.4 539.7 L153.13 540.4 L152.87 541.1 L152.63 541.8 L152.4 542.5 L152.19 543.2 L152 543.9 L151.82 544.6 L151.66 545.3 L151.49 546 L151.33 546.7 L151.17 547.4 L151 548.1 L151 548.1 L150.83 547.4 L150.67 546.7 L150.51 546 L150.34 545.3 L150.18 544.6 L150 543.9 L149.81 543.2 L149.6 542.5 L149.37 541.8 L149.13 541.1 L148.87 540.4 L148.6 539.7 L148.31 539 L148.01 538.3 L147.69 537.6 L147.36 536.9 L147.02 536.2 L146.67 535.5 L146.31 534.8 L145.92 534.1 L145.49 533.4 L145.02 532.7 L144.51 532 L143.97 531.3 L143.42 530.6 L142.85 529.9 L142.27 529.2 L141.7 528.5 L141.14 527.8 L140.59 527.1 L140.06 526.4 L139.57 525.7 L139.11 525 L138.7 524.3 L138.35 523.6 L138.03 522.9 L137.72 522.2 L137.41 521.5 L137.12 520.8 L136.83 520.1 L136.55 519.4 L136.28 518.7 L136.02 518 L135.78 517.3 L135.54 516.6 L135.31 515.9 L135.1 515.2 L134.9 514.5 L134.72 513.8 L134.54 513.1 L134.39 512.4 L134.24 511.7 L134.12 511 L134 510.3 L133.88 509.6 L133.77 508.9 L133.66 508.2 L133.55 507.5 L133.44 506.8 L133.34 506.1 L133.25 505.4 L133.16 504.7 L133.08 504 L133.01 503.3 L132.94 502.6 L132.89 501.9 L132.85 501.2 L132.82 500.5 L132.8 499.8 L132.8 499.1 L132.82 498.4 L132.87 497.7 L132.94 497 L133.04 496.3 L133.16 495.6 L133.29 494.9 L133.44 494.2 L133.61 493.5 L133.79 492.8 L133.98 492.1 L134.19 491.4 L134.39 490.7 L134.61 490 L134.83 489.3 L135.05 488.6 L135.27 487.9 L135.49 487.2 L135.7 486.5 L135.91 485.8 L136.12 485.1 L136.34 484.4 L136.58 483.7 L136.83 483 L137.1 482.3 L137.37 481.6 L137.66 480.9 L137.95 480.2 L138.25 479.5 L138.55 478.8 L138.85 478.1 L139.15 477.4 L139.45 476.7 L139.75 476 L140.04 475.3 L140.32 474.6 L140.6 473.9 L140.86 473.2 L141.11 472.5 L141.34 471.8 L141.56 471.1 L141.77 470.4 L141.97 469.7 L142.16 469 L142.34 468.3 L142.52 467.6 L142.69 466.9 L142.86 466.2 L143.02 465.5 L143.18 464.8 L143.34 464.1 L143.5 463.4 L143.66 462.7 L143.82 462 L143.98 461.3 L144.14 460.6 L144.31 459.9 L144.48 459.2 L144.65 458.5 L144.83 457.8 L145.02 457.1 L145.21 456.4 L145.41 455.7 L145.62 455 L145.86 454.3 L146.11 453.6 L146.38 452.9 L146.66 452.2 L146.94 451.5 L147.23 450.8 L147.53 450.1 L147.81 449.4 L148.1 448.7 L148.37 448 L148.63 447.3 L148.87 446.6 L149.09 445.9 L149.29 445.2 L149.46 444.5 L149.6 443.8 L149.73 443.1 L149.85 442.4 L149.97 441.7 L150.07 441 L150.17 440.3 L150.27 439.6 L150.36 438.9 L150.45 438.2 L150.54 437.5 L150.63 436.8 L150.71 436.1 L150.81 435.4 L150.9 434.7 L151 434 Z" fill="none" stroke="#12BC12" stroke-width="2.3" stroke-linejoin="round"/>
<line x1="132.8" y1="499.3" x2="169.2" y2="499.3" stroke="#12BC12" stroke-width="1.95"/>
<text x="178.1" y="399.8" font-size="37.5" fill="#000" stroke="#000" stroke-width="0.8" stroke-linejoin="round">E</text>
<rect x="250.8" y="410" width="3" height="127.9" fill="#000"/>
<line x1="246.8" y1="410.7" x2="252.3" y2="410.7" stroke="#000" stroke-width="1.5"/>
<text x="219.19" y="417.2" font-size="18" fill="#000" stroke="#000" stroke-width="0.7" stroke-linejoin="round" textLength="27.03" lengthAdjust="spacingAndGlyphs">250</text>
<line x1="246.8" y1="443.3" x2="252.3" y2="443.3" stroke="#000" stroke-width="1.5"/>
<text x="219.19" y="449.8" font-size="18" fill="#000" stroke="#000" stroke-width="0.7" stroke-linejoin="round" textLength="27.03" lengthAdjust="spacingAndGlyphs">200</text>
<line x1="246.8" y1="474.8" x2="252.3" y2="474.8" stroke="#000" stroke-width="1.5"/>
<text x="219.19" y="481.3" font-size="18" fill="#000" stroke="#000" stroke-width="0.7" stroke-linejoin="round" textLength="27.03" lengthAdjust="spacingAndGlyphs">150</text>
<line x1="246.8" y1="506.7" x2="252.3" y2="506.7" stroke="#000" stroke-width="1.5"/>
<text x="219.19" y="513.2" font-size="18" fill="#000" stroke="#000" stroke-width="0.7" stroke-linejoin="round" textLength="27.03" lengthAdjust="spacingAndGlyphs">100</text>
<line x1="246.8" y1="537.7" x2="252.3" y2="537.7" stroke="#000" stroke-width="1.5"/>
<text x="228.19" y="544.2" font-size="18" fill="#000" stroke="#000" stroke-width="0.7" stroke-linejoin="round" textLength="18.02" lengthAdjust="spacingAndGlyphs">50</text>
<text transform="translate(198.5 562.68) rotate(-90)" font-size="22.5" fill="#000" stroke="#000" stroke-width="0.75" stroke-linejoin="round" textLength="157.43" lengthAdjust="spacingAndGlyphs">Input Resist. (mΩ)</text>
<line x1="278.2" y1="387.2" x2="325.8" y2="387.2" stroke="#000" stroke-width="3"/>
<circle cx="303.3" cy="375.5" r="1.59" fill="#000" stroke="none" stroke-width="1"/>
<path d="M304.39 375.5 L304.97 369.9 L301.63 369.9 L302.21 375.5 Z M303.64 376.53 L309.14 375.36 L308.11 372.18 L302.96 374.47 Z M302.42 376.14 L305.24 381.01 L307.94 379.05 L304.18 374.86 Z M302.42 374.86 L298.66 379.05 L301.36 381.01 L304.18 376.14 Z M303.64 374.47 L298.49 372.18 L297.46 375.36 L302.96 376.53 Z" fill="#000"/>
<circle cx="286.2" cy="462.12" r="1.9" fill="none" stroke="#F89A48" stroke-width="1.3"/>
<circle cx="280.2" cy="521.42" r="1.9" fill="none" stroke="#F89A48" stroke-width="1.3"/>
<circle cx="283.2" cy="423.64" r="1.9" fill="none" stroke="#F89A48" stroke-width="1.3"/>
<circle cx="283.2" cy="465.55" r="1.9" fill="none" stroke="#F89A48" stroke-width="1.3"/>
<circle cx="274.2" cy="512.05" r="1.9" fill="none" stroke="#F89A48" stroke-width="1.3"/>
<circle cx="277.2" cy="461.27" r="1.9" fill="none" stroke="#F89A48" stroke-width="1.3"/>
<circle cx="283.2" cy="514.49" r="1.9" fill="none" stroke="#F89A48" stroke-width="1.3"/>
<circle cx="286.2" cy="488.81" r="1.9" fill="none" stroke="#F89A48" stroke-width="1.3"/>
<circle cx="274.2" cy="473.26" r="1.9" fill="none" stroke="#F89A48" stroke-width="1.3"/>
<circle cx="283.2" cy="483.7" r="1.9" fill="none" stroke="#F89A48" stroke-width="1.3"/>
<circle cx="286.2" cy="443.63" r="1.9" fill="none" stroke="#F89A48" stroke-width="1.3"/>
<circle cx="283.2" cy="491.79" r="1.9" fill="none" stroke="#F89A48" stroke-width="1.3"/>
<circle cx="277.2" cy="442.02" r="1.9" fill="none" stroke="#F89A48" stroke-width="1.3"/>
<circle cx="283.2" cy="508.14" r="1.9" fill="none" stroke="#F89A48" stroke-width="1.3"/>
<circle cx="274.2" cy="438.45" r="1.9" fill="none" stroke="#F89A48" stroke-width="1.3"/>
<circle cx="274.2" cy="427.1" r="1.9" fill="none" stroke="#F89A48" stroke-width="1.3"/>
<circle cx="274.2" cy="454.06" r="1.9" fill="none" stroke="#F89A48" stroke-width="1.3"/>
<circle cx="277.2" cy="478.81" r="1.9" fill="none" stroke="#F89A48" stroke-width="1.3"/>
<circle cx="280.2" cy="509.93" r="1.9" fill="none" stroke="#F89A48" stroke-width="1.3"/>
<circle cx="280.2" cy="445.19" r="1.9" fill="none" stroke="#F89A48" stroke-width="1.3"/>
<circle cx="274.2" cy="506.93" r="1.9" fill="none" stroke="#F89A48" stroke-width="1.3"/>
<circle cx="280.2" cy="415.53" r="1.9" fill="none" stroke="#F89A48" stroke-width="1.3"/>
<circle cx="274.2" cy="490.17" r="1.9" fill="none" stroke="#F89A48" stroke-width="1.3"/>
<circle cx="286.2" cy="433.66" r="1.9" fill="none" stroke="#F89A48" stroke-width="1.3"/>
<circle cx="286.2" cy="449.85" r="1.9" fill="none" stroke="#F89A48" stroke-width="1.3"/>
<circle cx="277.2" cy="422.6" r="1.9" fill="none" stroke="#F89A48" stroke-width="1.3"/>
<circle cx="277.2" cy="515.69" r="1.9" fill="none" stroke="#F89A48" stroke-width="1.3"/>
<circle cx="277.2" cy="502.14" r="1.9" fill="none" stroke="#F89A48" stroke-width="1.3"/>
<circle cx="286.2" cy="504.2" r="1.9" fill="none" stroke="#F89A48" stroke-width="1.3"/>
<circle cx="280.2" cy="470.91" r="1.9" fill="none" stroke="#F89A48" stroke-width="1.3"/>
<path d="M280.2 395.8 L280.26 396.5 L280.32 397.2 L280.37 397.9 L280.42 398.61 L280.47 399.31 L280.52 400.01 L280.57 400.71 L280.61 401.41 L280.66 402.11 L280.71 402.81 L280.76 403.52 L280.81 404.22 L280.87 404.92 L280.93 405.62 L280.99 406.32 L281.06 407.02 L281.13 407.72 L281.22 408.43 L281.31 409.13 L281.4 409.83 L281.51 410.53 L281.62 411.23 L281.8 411.93 L282.06 412.63 L282.39 413.34 L282.78 414.04 L283.22 414.74 L283.71 415.44 L284.22 416.14 L284.75 416.84 L285.28 417.54 L285.82 418.25 L286.35 418.95 L286.85 419.65 L287.33 420.35 L287.76 421.05 L288.15 421.75 L288.54 422.45 L288.94 423.16 L289.33 423.86 L289.72 424.56 L290.1 425.26 L290.48 425.96 L290.85 426.66 L291.21 427.36 L291.55 428.07 L291.88 428.77 L292.2 429.47 L292.5 430.17 L292.77 430.87 L293.03 431.57 L293.27 432.27 L293.52 432.98 L293.77 433.68 L294.03 434.38 L294.28 435.08 L294.53 435.78 L294.78 436.48 L295.02 437.18 L295.25 437.89 L295.48 438.59 L295.7 439.29 L295.91 439.99 L296.11 440.69 L296.3 441.39 L296.47 442.09 L296.63 442.8 L296.77 443.5 L296.89 444.2 L297 444.9 L297.08 445.6 L297.14 446.3 L297.18 447 L297.2 447.71 L297.17 448.41 L297.05 449.11 L296.87 449.81 L296.62 450.51 L296.32 451.21 L295.97 451.91 L295.59 452.62 L295.19 453.32 L294.77 454.02 L294.34 454.72 L293.92 455.42 L293.51 456.12 L293.12 456.82 L292.76 457.53 L292.44 458.23 L292.12 458.93 L291.76 459.63 L291.38 460.33 L291 461.03 L290.63 461.73 L290.27 462.44 L289.95 463.14 L289.67 463.84 L289.44 464.54 L289.28 465.24 L289.21 465.94 L289.24 466.64 L289.48 467.35 L289.9 468.05 L290.47 468.75 L291.16 469.45 L291.94 470.15 L292.79 470.85 L293.67 471.56 L294.56 472.26 L295.44 472.96 L296.26 473.66 L297 474.36 L297.63 475.06 L298.13 475.76 L298.46 476.47 L298.61 477.17 L298.66 477.87 L298.71 478.57 L298.75 479.27 L298.8 479.97 L298.83 480.67 L298.87 481.38 L298.9 482.08 L298.93 482.78 L298.95 483.48 L298.97 484.18 L298.98 484.88 L298.99 485.58 L299 486.29 L299 486.99 L298.97 487.69 L298.92 488.39 L298.84 489.09 L298.75 489.79 L298.62 490.49 L298.48 491.2 L298.32 491.9 L298.15 492.6 L297.95 493.3 L297.74 494 L297.53 494.7 L297.29 495.4 L297.05 496.11 L296.81 496.81 L296.55 497.51 L296.29 498.21 L296.03 498.91 L295.76 499.61 L295.5 500.31 L295.23 501.02 L294.97 501.72 L294.71 502.42 L294.46 503.12 L294.19 503.82 L293.91 504.52 L293.61 505.22 L293.3 505.93 L292.97 506.63 L292.63 507.33 L292.28 508.03 L291.92 508.73 L291.56 509.43 L291.18 510.13 L290.81 510.84 L290.43 511.54 L290.05 512.24 L289.67 512.94 L289.29 513.64 L288.91 514.34 L288.54 515.04 L288.18 515.75 L287.82 516.45 L287.47 517.15 L287.13 517.85 L286.76 518.55 L286.39 519.25 L286 519.95 L285.6 520.66 L285.2 521.36 L284.8 522.06 L284.41 522.76 L284.02 523.46 L283.65 524.16 L283.29 524.86 L282.96 525.57 L282.64 526.27 L282.36 526.97 L282.1 527.67 L281.89 528.37 L281.71 529.07 L281.57 529.77 L281.45 530.48 L281.34 531.18 L281.24 531.88 L281.15 532.58 L281.07 533.28 L280.99 533.98 L280.92 534.68 L280.85 535.39 L280.78 536.09 L280.72 536.79 L280.66 537.49 L280.6 538.19 L280.54 538.89 L280.47 539.59 L280.41 540.3 L280.34 541 L280.27 541.7 L280.2 542.4 L280.2 542.4 L280.13 541.7 L280.06 541 L279.99 540.3 L279.93 539.59 L279.86 538.89 L279.8 538.19 L279.74 537.49 L279.68 536.79 L279.62 536.09 L279.55 535.39 L279.48 534.68 L279.41 533.98 L279.33 533.28 L279.25 532.58 L279.16 531.88 L279.06 531.18 L278.95 530.48 L278.83 529.77 L278.69 529.07 L278.51 528.37 L278.3 527.67 L278.04 526.97 L277.76 526.27 L277.44 525.57 L277.11 524.86 L276.75 524.16 L276.38 523.46 L275.99 522.76 L275.6 522.06 L275.2 521.36 L274.8 520.66 L274.4 519.95 L274.01 519.25 L273.64 518.55 L273.27 517.85 L272.93 517.15 L272.58 516.45 L272.22 515.75 L271.86 515.04 L271.49 514.34 L271.11 513.64 L270.73 512.94 L270.35 512.24 L269.97 511.54 L269.59 510.84 L269.22 510.13 L268.84 509.43 L268.48 508.73 L268.12 508.03 L267.77 507.33 L267.43 506.63 L267.1 505.93 L266.79 505.22 L266.49 504.52 L266.21 503.82 L265.94 503.12 L265.69 502.42 L265.43 501.72 L265.17 501.02 L264.9 500.31 L264.64 499.61 L264.37 498.91 L264.11 498.21 L263.85 497.51 L263.59 496.81 L263.35 496.11 L263.11 495.4 L262.87 494.7 L262.66 494 L262.45 493.3 L262.25 492.6 L262.08 491.9 L261.92 491.2 L261.78 490.49 L261.65 489.79 L261.56 489.09 L261.48 488.39 L261.43 487.69 L261.4 486.99 L261.4 486.29 L261.41 485.58 L261.42 484.88 L261.43 484.18 L261.45 483.48 L261.47 482.78 L261.5 482.08 L261.53 481.38 L261.57 480.67 L261.6 479.97 L261.65 479.27 L261.69 478.57 L261.74 477.87 L261.79 477.17 L261.94 476.47 L262.27 475.76 L262.77 475.06 L263.4 474.36 L264.14 473.66 L264.96 472.96 L265.84 472.26 L266.73 471.56 L267.61 470.85 L268.46 470.15 L269.24 469.45 L269.93 468.75 L270.5 468.05 L270.92 467.35 L271.16 466.64 L271.19 465.94 L271.12 465.24 L270.96 464.54 L270.73 463.84 L270.45 463.14 L270.13 462.44 L269.77 461.73 L269.4 461.03 L269.02 460.33 L268.64 459.63 L268.28 458.93 L267.96 458.23 L267.64 457.53 L267.28 456.82 L266.89 456.12 L266.48 455.42 L266.06 454.72 L265.63 454.02 L265.21 453.32 L264.81 452.62 L264.43 451.91 L264.08 451.21 L263.78 450.51 L263.53 449.81 L263.35 449.11 L263.23 448.41 L263.2 447.71 L263.22 447 L263.26 446.3 L263.32 445.6 L263.4 444.9 L263.51 444.2 L263.63 443.5 L263.77 442.8 L263.93 442.09 L264.1 441.39 L264.29 440.69 L264.49 439.99 L264.7 439.29 L264.92 438.59 L265.15 437.89 L265.38 437.18 L265.62 436.48 L265.87 435.78 L266.12 435.08 L266.37 434.38 L266.63 433.68 L266.88 432.98 L267.13 432.27 L267.37 431.57 L267.63 430.87 L267.9 430.17 L268.2 429.47 L268.52 428.77 L268.85 428.07 L269.19 427.36 L269.55 426.66 L269.92 425.96 L270.3 425.26 L270.68 424.56 L271.07 423.86 L271.46 423.16 L271.86 422.45 L272.25 421.75 L272.64 421.05 L273.07 420.35 L273.55 419.65 L274.05 418.95 L274.58 418.25 L275.12 417.54 L275.65 416.84 L276.18 416.14 L276.69 415.44 L277.18 414.74 L277.62 414.04 L278.01 413.34 L278.34 412.63 L278.6 411.93 L278.78 411.23 L278.89 410.53 L279 409.83 L279.09 409.13 L279.18 408.43 L279.27 407.72 L279.34 407.02 L279.41 406.32 L279.47 405.62 L279.53 404.92 L279.59 404.22 L279.64 403.52 L279.69 402.81 L279.74 402.11 L279.79 401.41 L279.83 400.71 L279.88 400.01 L279.93 399.31 L279.98 398.61 L280.03 397.9 L280.08 397.2 L280.14 396.5 L280.2 395.8 Z" fill="none" stroke="#FF7A12" stroke-width="2.3" stroke-linejoin="round"/>
<line x1="261.8" y1="477.1" x2="298.6" y2="477.1" stroke="#FF7A12" stroke-width="1.95"/>
<circle cx="333.8" cy="522.3" r="1.9" fill="none" stroke="#A2D6A2" stroke-width="1.3"/>
<circle cx="324.8" cy="531.32" r="1.9" fill="none" stroke="#A2D6A2" stroke-width="1.3"/>
<circle cx="327.8" cy="517.94" r="1.9" fill="none" stroke="#A2D6A2" stroke-width="1.3"/>
<circle cx="333.8" cy="532.46" r="1.9" fill="none" stroke="#A2D6A2" stroke-width="1.3"/>
<circle cx="321.8" cy="510.7" r="1.9" fill="none" stroke="#A2D6A2" stroke-width="1.3"/>
<circle cx="324.8" cy="502.76" r="1.9" fill="none" stroke="#A2D6A2" stroke-width="1.3"/>
<circle cx="327.8" cy="500.87" r="1.9" fill="none" stroke="#A2D6A2" stroke-width="1.3"/>
<circle cx="327.8" cy="538.52" r="1.9" fill="none" stroke="#A2D6A2" stroke-width="1.3"/>
<circle cx="330.8" cy="504.28" r="1.9" fill="none" stroke="#A2D6A2" stroke-width="1.3"/>
<circle cx="321.8" cy="526.23" r="1.9" fill="none" stroke="#A2D6A2" stroke-width="1.3"/>
<circle cx="333.8" cy="526.09" r="1.9" fill="none" stroke="#A2D6A2" stroke-width="1.3"/>
<circle cx="327.8" cy="476.4" r="1.9" fill="none" stroke="#A2D6A2" stroke-width="1.3"/>
<path d="M327.8 464.6 L327.99 465.3 L328.18 466.01 L328.37 466.71 L328.56 467.42 L328.75 468.12 L328.93 468.83 L329.11 469.53 L329.28 470.23 L329.46 470.94 L329.65 471.64 L329.85 472.35 L330.05 473.05 L330.23 473.76 L330.39 474.46 L330.51 475.16 L330.58 475.87 L330.6 476.57 L330.51 477.28 L330.34 477.98 L330.11 478.69 L329.84 479.39 L329.57 480.09 L329.33 480.8 L329.13 481.5 L329.02 482.21 L329 482.91 L329 483.62 L329 484.32 L329 485.02 L329 485.73 L329 486.43 L329 487.14 L329 487.84 L329 488.55 L329 489.25 L329 489.95 L329 490.66 L329 491.36 L329 492.07 L329 492.77 L329 493.48 L329 494.18 L329 494.88 L329 495.59 L329 496.29 L329 497 L329 497.7 L329 498.41 L329.06 499.11 L329.96 499.81 L331.64 500.52 L333.67 501.22 L335.62 501.93 L337.08 502.63 L337.74 503.34 L338.21 504.04 L338.62 504.74 L338.98 505.45 L339.3 506.15 L339.59 506.86 L339.84 507.56 L340.07 508.26 L340.29 508.97 L340.5 509.67 L340.7 510.38 L340.9 511.08 L341.12 511.79 L341.35 512.49 L341.6 513.19 L341.88 513.9 L342.18 514.6 L342.5 515.31 L342.82 516.01 L343.16 516.72 L343.48 517.42 L343.8 518.12 L344.1 518.83 L344.38 519.53 L344.63 520.24 L344.84 520.94 L345.01 521.65 L345.13 522.35 L345.19 523.05 L345.19 523.76 L345.09 524.46 L344.9 525.17 L344.64 525.87 L344.3 526.58 L343.9 527.28 L343.45 527.98 L342.96 528.69 L342.43 529.39 L341.87 530.1 L341.29 530.8 L340.71 531.51 L340.12 532.21 L339.55 532.91 L338.99 533.62 L338.38 534.32 L337.67 535.03 L336.89 535.73 L336.06 536.44 L335.2 537.14 L334.33 537.84 L333.47 538.55 L332.65 539.25 L331.88 539.96 L331.19 540.66 L330.6 541.37 L330.13 542.07 L329.73 542.77 L329.37 543.48 L329.04 544.18 L328.73 544.89 L328.43 545.59 L328.13 546.3 L327.8 547 L327.8 547 L327.47 546.3 L327.17 545.59 L326.87 544.89 L326.56 544.18 L326.23 543.48 L325.87 542.77 L325.47 542.07 L325 541.37 L324.41 540.66 L323.72 539.96 L322.95 539.25 L322.13 538.55 L321.27 537.84 L320.4 537.14 L319.54 536.44 L318.71 535.73 L317.93 535.03 L317.22 534.32 L316.61 533.62 L316.05 532.91 L315.48 532.21 L314.89 531.51 L314.31 530.8 L313.73 530.1 L313.17 529.39 L312.64 528.69 L312.15 527.98 L311.7 527.28 L311.3 526.58 L310.96 525.87 L310.7 525.17 L310.51 524.46 L310.41 523.76 L310.41 523.05 L310.47 522.35 L310.59 521.65 L310.76 520.94 L310.97 520.24 L311.22 519.53 L311.5 518.83 L311.8 518.12 L312.12 517.42 L312.44 516.72 L312.78 516.01 L313.1 515.31 L313.42 514.6 L313.72 513.9 L314 513.19 L314.25 512.49 L314.48 511.79 L314.7 511.08 L314.9 510.38 L315.1 509.67 L315.31 508.97 L315.53 508.26 L315.76 507.56 L316.01 506.86 L316.3 506.15 L316.62 505.45 L316.98 504.74 L317.39 504.04 L317.86 503.34 L318.52 502.63 L319.98 501.93 L321.93 501.22 L323.96 500.52 L325.64 499.81 L326.54 499.11 L326.6 498.41 L326.6 497.7 L326.6 497 L326.6 496.29 L326.6 495.59 L326.6 494.88 L326.6 494.18 L326.6 493.48 L326.6 492.77 L326.6 492.07 L326.6 491.36 L326.6 490.66 L326.6 489.95 L326.6 489.25 L326.6 488.55 L326.6 487.84 L326.6 487.14 L326.6 486.43 L326.6 485.73 L326.6 485.02 L326.6 484.32 L326.6 483.62 L326.6 482.91 L326.58 482.21 L326.47 481.5 L326.27 480.8 L326.03 480.09 L325.76 479.39 L325.49 478.69 L325.26 477.98 L325.09 477.28 L325 476.57 L325.02 475.87 L325.09 475.16 L325.21 474.46 L325.37 473.76 L325.55 473.05 L325.75 472.35 L325.95 471.64 L326.14 470.94 L326.32 470.23 L326.49 469.53 L326.67 468.83 L326.85 468.12 L327.04 467.42 L327.23 466.71 L327.42 466.01 L327.61 465.3 L327.8 464.6 Z" fill="none" stroke="#12BC12" stroke-width="2.3" stroke-linejoin="round"/>
<line x1="310.46" y1="522.4" x2="345.14" y2="522.4" stroke="#12BC12" stroke-width="1.95"/>
<text x="358.1" y="398.8" font-size="37.5" fill="#000" stroke="#000" stroke-width="0.8" stroke-linejoin="round">F</text>
<rect x="429.5" y="402.5" width="3" height="120.5" fill="#000"/>
<line x1="425.5" y1="402.5" x2="431" y2="402.5" stroke="#000" stroke-width="1.5"/>
<text x="398.09" y="409" font-size="18" fill="#000" stroke="#000" stroke-width="0.7" stroke-linejoin="round" textLength="27.03" lengthAdjust="spacingAndGlyphs">500</text>
<line x1="425.5" y1="426.4" x2="431" y2="426.4" stroke="#000" stroke-width="1.5"/>
<text x="398.09" y="432.9" font-size="18" fill="#000" stroke="#000" stroke-width="0.7" stroke-linejoin="round" textLength="27.03" lengthAdjust="spacingAndGlyphs">400</text>
<line x1="425.5" y1="450.5" x2="431" y2="450.5" stroke="#000" stroke-width="1.5"/>
<text x="398.09" y="457" font-size="18" fill="#000" stroke="#000" stroke-width="0.7" stroke-linejoin="round" textLength="27.03" lengthAdjust="spacingAndGlyphs">300</text>
<line x1="425.5" y1="474.4" x2="431" y2="474.4" stroke="#000" stroke-width="1.5"/>
<text x="398.09" y="480.9" font-size="18" fill="#000" stroke="#000" stroke-width="0.7" stroke-linejoin="round" textLength="27.03" lengthAdjust="spacingAndGlyphs">400</text>
<line x1="425.5" y1="498.3" x2="431" y2="498.3" stroke="#000" stroke-width="1.5"/>
<text x="398.09" y="504.8" font-size="18" fill="#000" stroke="#000" stroke-width="0.7" stroke-linejoin="round" textLength="27.03" lengthAdjust="spacingAndGlyphs">100</text>
<line x1="425.5" y1="522.8" x2="431" y2="522.8" stroke="#000" stroke-width="1.5"/>
<text x="416.08" y="529.3" font-size="18" fill="#000" stroke="#000" stroke-width="0.7" stroke-linejoin="round" textLength="9.01" lengthAdjust="spacingAndGlyphs">0</text>
<text transform="translate(380.4 538.91) rotate(-90)" font-size="22.5" fill="#000" stroke="#000" stroke-width="0.75" stroke-linejoin="round" textLength="133.66" lengthAdjust="spacingAndGlyphs">Rheobase (pA)</text>
<line x1="459.2" y1="399.5" x2="507.2" y2="399.5" stroke="#000" stroke-width="3"/>
<circle cx="483.6" cy="389" r="1.59" fill="#000" stroke="none" stroke-width="1"/>
<path d="M484.69 389 L485.27 383.4 L481.93 383.4 L482.51 389 Z M483.94 390.03 L489.44 388.86 L488.41 385.68 L483.26 387.97 Z M482.72 389.64 L485.54 394.51 L488.24 392.55 L484.48 388.36 Z M482.72 388.36 L478.96 392.55 L481.66 394.51 L484.48 389.64 Z M483.94 387.97 L478.79 385.68 L477.76 388.86 L483.26 390.03 Z" fill="#000"/>
<circle cx="462.2" cy="490.44" r="1.9" fill="none" stroke="#F89A48" stroke-width="1.3"/>
<circle cx="459.2" cy="525.7" r="1.9" fill="none" stroke="#F89A48" stroke-width="1.3"/>
<circle cx="456.2" cy="511.74" r="1.9" fill="none" stroke="#F89A48" stroke-width="1.3"/>
<circle cx="459.2" cy="483.46" r="1.9" fill="none" stroke="#F89A48" stroke-width="1.3"/>
<circle cx="453.2" cy="516.76" r="1.9" fill="none" stroke="#F89A48" stroke-width="1.3"/>
<circle cx="465.2" cy="499.79" r="1.9" fill="none" stroke="#F89A48" stroke-width="1.3"/>
<circle cx="456.2" cy="521.62" r="1.9" fill="none" stroke="#F89A48" stroke-width="1.3"/>
<circle cx="462.2" cy="521.19" r="1.9" fill="none" stroke="#F89A48" stroke-width="1.3"/>
<circle cx="459.2" cy="519.42" r="1.9" fill="none" stroke="#F89A48" stroke-width="1.3"/>
<circle cx="456.2" cy="495.68" r="1.9" fill="none" stroke="#F89A48" stroke-width="1.3"/>
<circle cx="462.2" cy="506.98" r="1.9" fill="none" stroke="#F89A48" stroke-width="1.3"/>
<circle cx="462.2" cy="512.75" r="1.9" fill="none" stroke="#F89A48" stroke-width="1.3"/>
<circle cx="462.2" cy="495.15" r="1.9" fill="none" stroke="#F89A48" stroke-width="1.3"/>
<circle cx="459.2" cy="487.38" r="1.9" fill="none" stroke="#F89A48" stroke-width="1.3"/>
<circle cx="456.2" cy="489.16" r="1.9" fill="none" stroke="#F89A48" stroke-width="1.3"/>
<circle cx="453.2" cy="499.4" r="1.9" fill="none" stroke="#F89A48" stroke-width="1.3"/>
<circle cx="456.2" cy="504.6" r="1.9" fill="none" stroke="#F89A48" stroke-width="1.3"/>
<circle cx="459.2" cy="499.46" r="1.9" fill="none" stroke="#F89A48" stroke-width="1.3"/>
<circle cx="459.2" cy="509.1" r="1.9" fill="none" stroke="#F89A48" stroke-width="1.3"/>
<circle cx="465.2" cy="510.04" r="1.9" fill="none" stroke="#F89A48" stroke-width="1.3"/>
<circle cx="465.2" cy="504.93" r="1.9" fill="none" stroke="#F89A48" stroke-width="1.3"/>
<circle cx="465.2" cy="515.76" r="1.9" fill="none" stroke="#F89A48" stroke-width="1.3"/>
<circle cx="453.2" cy="508.85" r="1.9" fill="none" stroke="#F89A48" stroke-width="1.3"/>
<circle cx="462.2" cy="502.43" r="1.9" fill="none" stroke="#F89A48" stroke-width="1.3"/>
<circle cx="465.2" cy="519.41" r="1.9" fill="none" stroke="#F89A48" stroke-width="1.3"/>
<circle cx="459.2" cy="515.57" r="1.9" fill="none" stroke="#F89A48" stroke-width="1.3"/>
<path d="M459.2 476.4 L459.53 477.1 L459.85 477.81 L460.18 478.51 L460.5 479.22 L460.83 479.92 L461.15 480.62 L461.49 481.33 L461.82 482.03 L462.17 482.74 L462.54 483.44 L462.93 484.14 L463.31 484.85 L463.69 485.55 L464.02 486.25 L464.3 486.96 L464.55 487.66 L464.79 488.37 L465.01 489.07 L465.22 489.77 L465.42 490.48 L465.61 491.18 L465.79 491.89 L465.97 492.59 L466.14 493.29 L466.32 494 L466.49 494.7 L466.66 495.41 L466.84 496.11 L467.02 496.81 L467.21 497.52 L467.4 498.22 L467.61 498.92 L467.81 499.63 L468.02 500.33 L468.23 501.04 L468.45 501.74 L468.69 502.44 L468.96 503.15 L469.25 503.85 L469.56 504.56 L469.89 505.26 L470.24 505.96 L470.61 506.67 L471 507.37 L471.41 508.08 L471.84 508.78 L472.29 509.48 L472.77 510.19 L473.27 510.89 L473.85 511.59 L474.66 512.3 L475.6 513 L476.5 513.71 L477.22 514.41 L477.58 515.11 L477.46 515.82 L476.88 516.52 L475.92 517.23 L474.7 517.93 L473.3 518.63 L471.81 519.34 L470.34 520.04 L468.98 520.75 L467.83 521.45 L466.75 522.15 L465.64 522.86 L464.56 523.56 L463.56 524.26 L462.71 524.97 L462.06 525.67 L461.53 526.38 L461.08 527.08 L460.68 527.78 L460.31 528.49 L459.96 529.19 L459.59 529.9 L459.2 530.6 L459.2 530.6 L458.81 529.9 L458.44 529.19 L458.09 528.49 L457.72 527.78 L457.32 527.08 L456.87 526.38 L456.34 525.67 L455.69 524.97 L454.84 524.26 L453.84 523.56 L452.76 522.86 L451.65 522.15 L450.57 521.45 L449.42 520.75 L448.06 520.04 L446.59 519.34 L445.1 518.63 L443.7 517.93 L442.48 517.23 L441.52 516.52 L440.94 515.82 L440.82 515.11 L441.18 514.41 L441.9 513.71 L442.8 513 L443.74 512.3 L444.55 511.59 L445.13 510.89 L445.63 510.19 L446.11 509.48 L446.56 508.78 L446.99 508.08 L447.4 507.37 L447.79 506.67 L448.16 505.96 L448.51 505.26 L448.84 504.56 L449.15 503.85 L449.44 503.15 L449.71 502.44 L449.95 501.74 L450.17 501.04 L450.38 500.33 L450.59 499.63 L450.79 498.92 L451 498.22 L451.19 497.52 L451.38 496.81 L451.56 496.11 L451.74 495.41 L451.91 494.7 L452.08 494 L452.26 493.29 L452.43 492.59 L452.61 491.89 L452.79 491.18 L452.98 490.48 L453.18 489.77 L453.39 489.07 L453.61 488.37 L453.85 487.66 L454.1 486.96 L454.38 486.25 L454.71 485.55 L455.09 484.85 L455.47 484.14 L455.86 483.44 L456.23 482.74 L456.58 482.03 L456.91 481.33 L457.25 480.62 L457.57 479.92 L457.9 479.22 L458.22 478.51 L458.55 477.81 L458.87 477.1 L459.2 476.4 Z" fill="none" stroke="#FF7A12" stroke-width="2.3" stroke-linejoin="round"/>
<line x1="448.4" y1="505.5" x2="470" y2="505.5" stroke="#FF7A12" stroke-width="1.95" stroke-dasharray="2 2"/>
<circle cx="512.8" cy="501.48" r="1.9" fill="none" stroke="#A2D6A2" stroke-width="1.3"/>
<circle cx="506.8" cy="444.44" r="1.9" fill="none" stroke="#A2D6A2" stroke-width="1.3"/>
<circle cx="503.8" cy="447.07" r="1.9" fill="none" stroke="#A2D6A2" stroke-width="1.3"/>
<circle cx="506.8" cy="495.65" r="1.9" fill="none" stroke="#A2D6A2" stroke-width="1.3"/>
<circle cx="509.8" cy="470.29" r="1.9" fill="none" stroke="#A2D6A2" stroke-width="1.3"/>
<circle cx="500.8" cy="460.66" r="1.9" fill="none" stroke="#A2D6A2" stroke-width="1.3"/>
<circle cx="506.8" cy="455.93" r="1.9" fill="none" stroke="#A2D6A2" stroke-width="1.3"/>
<circle cx="503.8" cy="492.11" r="1.9" fill="none" stroke="#A2D6A2" stroke-width="1.3"/>
<circle cx="506.8" cy="429.89" r="1.9" fill="none" stroke="#A2D6A2" stroke-width="1.3"/>
<circle cx="503.8" cy="453.16" r="1.9" fill="none" stroke="#A2D6A2" stroke-width="1.3"/>
<circle cx="509.8" cy="461.97" r="1.9" fill="none" stroke="#A2D6A2" stroke-width="1.3"/>
<circle cx="506.8" cy="485.11" r="1.9" fill="none" stroke="#A2D6A2" stroke-width="1.3"/>
<circle cx="509.8" cy="507.35" r="1.9" fill="none" stroke="#A2D6A2" stroke-width="1.3"/>
<circle cx="503.8" cy="476.52" r="1.9" fill="none" stroke="#A2D6A2" stroke-width="1.3"/>
<circle cx="506.8" cy="437.44" r="1.9" fill="none" stroke="#A2D6A2" stroke-width="1.3"/>
<circle cx="500.8" cy="474.76" r="1.9" fill="none" stroke="#A2D6A2" stroke-width="1.3"/>
<path d="M506.8 408.6 L506.91 409.3 L507.02 410.01 L507.12 410.71 L507.22 411.41 L507.33 412.12 L507.43 412.82 L507.53 413.52 L507.63 414.23 L507.74 414.93 L507.84 415.63 L507.95 416.34 L508.06 417.04 L508.17 417.74 L508.28 418.44 L508.4 419.15 L508.53 419.85 L508.66 420.55 L508.79 421.26 L508.93 421.96 L509.09 422.66 L509.25 423.37 L509.42 424.07 L509.6 424.77 L509.78 425.48 L509.97 426.18 L510.16 426.88 L510.35 427.59 L510.54 428.29 L510.74 428.99 L510.93 429.7 L511.11 430.4 L511.3 431.1 L511.48 431.81 L511.66 432.51 L511.85 433.21 L512.05 433.91 L512.24 434.62 L512.44 435.32 L512.64 436.02 L512.85 436.73 L513.05 437.43 L513.24 438.13 L513.44 438.84 L513.63 439.54 L513.82 440.24 L514 440.95 L514.17 441.65 L514.34 442.35 L514.5 443.06 L514.64 443.76 L514.78 444.46 L514.9 445.17 L515.01 445.87 L515.11 446.57 L515.2 447.28 L515.28 447.98 L515.36 448.68 L515.43 449.39 L515.49 450.09 L515.55 450.79 L515.61 451.49 L515.67 452.2 L515.72 452.9 L515.78 453.6 L515.84 454.31 L515.9 455.01 L515.96 455.71 L516.03 456.42 L516.11 457.12 L516.19 457.82 L516.27 458.53 L516.37 459.23 L516.47 459.93 L516.59 460.64 L516.73 461.34 L516.89 462.04 L517.07 462.75 L517.27 463.45 L517.48 464.15 L517.7 464.86 L517.93 465.56 L518.17 466.26 L518.42 466.96 L518.67 467.67 L518.92 468.37 L519.17 469.07 L519.42 469.78 L519.66 470.48 L519.94 471.18 L520.25 471.89 L520.6 472.59 L520.96 473.29 L521.34 474 L521.72 474.7 L522.1 475.4 L522.47 476.11 L522.83 476.81 L523.16 477.51 L523.46 478.22 L523.71 478.92 L523.93 479.62 L524.08 480.33 L524.18 481.03 L524.2 481.73 L524.09 482.44 L523.86 483.14 L523.51 483.84 L523.08 484.54 L522.59 485.25 L522.05 485.95 L521.5 486.65 L520.95 487.36 L520.43 488.06 L519.96 488.76 L519.56 489.47 L519.25 490.17 L519.06 490.87 L518.92 491.58 L518.8 492.28 L518.69 492.98 L518.59 493.69 L518.5 494.39 L518.42 495.09 L518.35 495.8 L518.28 496.5 L518.21 497.2 L518.15 497.91 L518.08 498.61 L518.01 499.31 L517.93 500.01 L517.85 500.72 L517.75 501.42 L517.65 502.12 L517.53 502.83 L517.4 503.53 L517.26 504.23 L517.1 504.94 L516.94 505.64 L516.76 506.34 L516.57 507.05 L516.38 507.75 L516.17 508.45 L515.96 509.16 L515.73 509.86 L515.5 510.56 L515.26 511.27 L515.01 511.97 L514.75 512.67 L514.49 513.38 L514.22 514.08 L513.94 514.78 L513.66 515.49 L513.37 516.19 L513.07 516.89 L512.77 517.59 L512.39 518.3 L511.95 519 L511.47 519.7 L510.98 520.41 L510.51 521.11 L510.08 521.81 L509.72 522.52 L509.45 523.22 L509.27 523.92 L509.1 524.63 L508.94 525.33 L508.79 526.03 L508.66 526.74 L508.53 527.44 L508.41 528.14 L508.3 528.85 L508.19 529.55 L508.09 530.25 L508 530.96 L507.91 531.66 L507.82 532.36 L507.74 533.06 L507.66 533.77 L507.58 534.47 L507.5 535.17 L507.42 535.88 L507.34 536.58 L507.26 537.28 L507.18 537.99 L507.09 538.69 L507 539.39 L506.9 540.1 L506.8 540.8 L506.8 540.8 L506.7 540.1 L506.6 539.39 L506.51 538.69 L506.42 537.99 L506.34 537.28 L506.26 536.58 L506.18 535.88 L506.1 535.17 L506.02 534.47 L505.94 533.77 L505.86 533.06 L505.78 532.36 L505.69 531.66 L505.6 530.96 L505.51 530.25 L505.41 529.55 L505.3 528.85 L505.19 528.14 L505.07 527.44 L504.94 526.74 L504.81 526.03 L504.66 525.33 L504.5 524.63 L504.33 523.92 L504.15 523.22 L503.88 522.52 L503.52 521.81 L503.09 521.11 L502.62 520.41 L502.13 519.7 L501.65 519 L501.21 518.3 L500.83 517.59 L500.53 516.89 L500.23 516.19 L499.94 515.49 L499.66 514.78 L499.38 514.08 L499.11 513.38 L498.85 512.67 L498.59 511.97 L498.34 511.27 L498.1 510.56 L497.87 509.86 L497.64 509.16 L497.43 508.45 L497.22 507.75 L497.03 507.05 L496.84 506.34 L496.66 505.64 L496.5 504.94 L496.34 504.23 L496.2 503.53 L496.07 502.83 L495.95 502.12 L495.85 501.42 L495.75 500.72 L495.67 500.01 L495.59 499.31 L495.52 498.61 L495.45 497.91 L495.39 497.2 L495.32 496.5 L495.25 495.8 L495.18 495.09 L495.1 494.39 L495.01 493.69 L494.91 492.98 L494.8 492.28 L494.68 491.58 L494.54 490.87 L494.35 490.17 L494.04 489.47 L493.64 488.76 L493.17 488.06 L492.65 487.36 L492.1 486.65 L491.55 485.95 L491.01 485.25 L490.52 484.54 L490.09 483.84 L489.74 483.14 L489.51 482.44 L489.4 481.73 L489.42 481.03 L489.52 480.33 L489.67 479.62 L489.89 478.92 L490.14 478.22 L490.44 477.51 L490.77 476.81 L491.13 476.11 L491.5 475.4 L491.88 474.7 L492.26 474 L492.64 473.29 L493 472.59 L493.35 471.89 L493.66 471.18 L493.94 470.48 L494.18 469.78 L494.43 469.07 L494.68 468.37 L494.93 467.67 L495.18 466.96 L495.43 466.26 L495.67 465.56 L495.9 464.86 L496.12 464.15 L496.33 463.45 L496.53 462.75 L496.71 462.04 L496.87 461.34 L497.01 460.64 L497.13 459.93 L497.23 459.23 L497.33 458.53 L497.41 457.82 L497.49 457.12 L497.57 456.42 L497.64 455.71 L497.7 455.01 L497.76 454.31 L497.82 453.6 L497.88 452.9 L497.93 452.2 L497.99 451.49 L498.05 450.79 L498.11 450.09 L498.17 449.39 L498.24 448.68 L498.32 447.98 L498.4 447.28 L498.49 446.57 L498.59 445.87 L498.7 445.17 L498.82 444.46 L498.96 443.76 L499.1 443.06 L499.26 442.35 L499.43 441.65 L499.6 440.95 L499.78 440.24 L499.97 439.54 L500.16 438.84 L500.36 438.13 L500.55 437.43 L500.75 436.73 L500.96 436.02 L501.16 435.32 L501.36 434.62 L501.55 433.91 L501.75 433.21 L501.94 432.51 L502.12 431.81 L502.3 431.1 L502.49 430.4 L502.67 429.7 L502.86 428.99 L503.06 428.29 L503.25 427.59 L503.44 426.88 L503.63 426.18 L503.82 425.48 L504 424.77 L504.18 424.07 L504.35 423.37 L504.51 422.66 L504.67 421.96 L504.81 421.26 L504.94 420.55 L505.07 419.85 L505.2 419.15 L505.32 418.44 L505.43 417.74 L505.54 417.04 L505.65 416.34 L505.76 415.63 L505.86 414.93 L505.97 414.23 L506.07 413.52 L506.17 412.82 L506.27 412.12 L506.38 411.41 L506.48 410.71 L506.58 410.01 L506.69 409.3 L506.8 408.6 Z" fill="none" stroke="#12BC12" stroke-width="2.3" stroke-linejoin="round"/>
<line x1="489.43" y1="482" x2="524.17" y2="482" stroke="#12BC12" stroke-width="1.95"/>
<text x="536.12" y="399.5" font-size="37.5" fill="#000" stroke="#000" stroke-width="0.8" stroke-linejoin="round">G</text>
<rect x="609.5" y="402.9" width="3" height="119.7" fill="#000"/>
<line x1="605.5" y1="402.9" x2="611" y2="402.9" stroke="#000" stroke-width="1.5"/>
<text x="579.09" y="409.4" font-size="18" fill="#000" stroke="#000" stroke-width="0.7" stroke-linejoin="round" textLength="27.03" lengthAdjust="spacingAndGlyphs">250</text>
<line x1="605.5" y1="426.4" x2="611" y2="426.4" stroke="#000" stroke-width="1.5"/>
<text x="579.09" y="432.9" font-size="18" fill="#000" stroke="#000" stroke-width="0.7" stroke-linejoin="round" textLength="27.03" lengthAdjust="spacingAndGlyphs">200</text>
<line x1="605.5" y1="450.5" x2="611" y2="450.5" stroke="#000" stroke-width="1.5"/>
<text x="579.09" y="457" font-size="18" fill="#000" stroke="#000" stroke-width="0.7" stroke-linejoin="round" textLength="27.03" lengthAdjust="spacingAndGlyphs">150</text>
<line x1="605.5" y1="474.4" x2="611" y2="474.4" stroke="#000" stroke-width="1.5"/>
<text x="579.09" y="480.9" font-size="18" fill="#000" stroke="#000" stroke-width="0.7" stroke-linejoin="round" textLength="27.03" lengthAdjust="spacingAndGlyphs">100</text>
<line x1="605.5" y1="498.3" x2="611" y2="498.3" stroke="#000" stroke-width="1.5"/>
<text x="588.08" y="504.8" font-size="18" fill="#000" stroke="#000" stroke-width="0.7" stroke-linejoin="round" textLength="18.02" lengthAdjust="spacingAndGlyphs">50</text>
<line x1="605.5" y1="522.4" x2="611" y2="522.4" stroke="#000" stroke-width="1.5"/>
<text x="597.08" y="528.9" font-size="18" fill="#000" stroke="#000" stroke-width="0.7" stroke-linejoin="round" textLength="9.01" lengthAdjust="spacingAndGlyphs">0</text>
<text transform="translate(556.8 524.61) rotate(-90)" font-size="22.5" fill="#000" stroke="#000" stroke-width="0.75" stroke-linejoin="round" textLength="114.42" lengthAdjust="spacingAndGlyphs">First AP (ms)</text>
<line x1="640.8" y1="381.4" x2="688.6" y2="381.4" stroke="#000" stroke-width="3"/>
<circle cx="663.3" cy="369.7" r="1.59" fill="#000" stroke="none" stroke-width="1"/>
<path d="M664.39 369.7 L664.97 364.1 L661.63 364.1 L662.21 369.7 Z M663.64 370.73 L669.14 369.56 L668.11 366.38 L662.96 368.67 Z M662.42 370.34 L665.24 375.21 L667.94 373.25 L664.18 369.06 Z M662.42 369.06 L658.66 373.25 L661.36 375.21 L664.18 370.34 Z M663.64 368.67 L658.49 366.38 L657.46 369.56 L662.96 370.73 Z" fill="#000"/>
<circle cx="636.2" cy="508.17" r="1.9" fill="none" stroke="#F89A48" stroke-width="1.3"/>
<circle cx="639.2" cy="518.65" r="1.9" fill="none" stroke="#F89A48" stroke-width="1.3"/>
<circle cx="642.2" cy="516.67" r="1.9" fill="none" stroke="#F89A48" stroke-width="1.3"/>
<circle cx="639.2" cy="473.32" r="1.9" fill="none" stroke="#F89A48" stroke-width="1.3"/>
<circle cx="639.2" cy="478.79" r="1.9" fill="none" stroke="#F89A48" stroke-width="1.3"/>
<circle cx="639.2" cy="492.21" r="1.9" fill="none" stroke="#F89A48" stroke-width="1.3"/>
<circle cx="636.2" cy="484.98" r="1.9" fill="none" stroke="#F89A48" stroke-width="1.3"/>
<circle cx="636.2" cy="494.87" r="1.9" fill="none" stroke="#F89A48" stroke-width="1.3"/>
<circle cx="642.2" cy="498.77" r="1.9" fill="none" stroke="#F89A48" stroke-width="1.3"/>
<circle cx="633.2" cy="488.58" r="1.9" fill="none" stroke="#F89A48" stroke-width="1.3"/>
<circle cx="642.2" cy="476.19" r="1.9" fill="none" stroke="#F89A48" stroke-width="1.3"/>
<circle cx="642.2" cy="481.57" r="1.9" fill="none" stroke="#F89A48" stroke-width="1.3"/>
<circle cx="645.2" cy="478.36" r="1.9" fill="none" stroke="#F89A48" stroke-width="1.3"/>
<circle cx="639.2" cy="513.44" r="1.9" fill="none" stroke="#F89A48" stroke-width="1.3"/>
<circle cx="642.2" cy="487.5" r="1.9" fill="none" stroke="#F89A48" stroke-width="1.3"/>
<circle cx="642.2" cy="504.64" r="1.9" fill="none" stroke="#F89A48" stroke-width="1.3"/>
<circle cx="633.2" cy="481.6" r="1.9" fill="none" stroke="#F89A48" stroke-width="1.3"/>
<circle cx="645.2" cy="514.55" r="1.9" fill="none" stroke="#F89A48" stroke-width="1.3"/>
<circle cx="633.2" cy="500.76" r="1.9" fill="none" stroke="#F89A48" stroke-width="1.3"/>
<circle cx="639.2" cy="501.22" r="1.9" fill="none" stroke="#F89A48" stroke-width="1.3"/>
<circle cx="633.2" cy="497.07" r="1.9" fill="none" stroke="#F89A48" stroke-width="1.3"/>
<circle cx="645.2" cy="501.09" r="1.9" fill="none" stroke="#F89A48" stroke-width="1.3"/>
<circle cx="645.2" cy="484.94" r="1.9" fill="none" stroke="#F89A48" stroke-width="1.3"/>
<circle cx="645.2" cy="507.43" r="1.9" fill="none" stroke="#F89A48" stroke-width="1.3"/>
<path d="M639.2 464.6 L639.46 465.3 L639.71 466.01 L639.95 466.71 L640.19 467.42 L640.42 468.12 L640.67 468.83 L640.92 469.53 L641.2 470.24 L641.49 470.94 L641.82 471.65 L642.17 472.35 L642.6 473.06 L643.14 473.76 L643.77 474.47 L644.45 475.17 L645.18 475.88 L645.93 476.58 L646.67 477.29 L647.39 477.99 L648.06 478.7 L648.66 479.4 L649.17 480.1 L649.57 480.81 L649.97 481.51 L650.36 482.22 L650.7 482.92 L650.95 483.63 L651.09 484.33 L651.03 485.04 L650.67 485.74 L650.07 486.45 L649.32 487.15 L648.51 487.86 L647.73 488.56 L647.06 489.27 L646.59 489.97 L646.4 490.68 L646.5 491.38 L646.79 492.09 L647.24 492.79 L647.83 493.5 L648.53 494.2 L649.32 494.9 L650.16 495.61 L651.03 496.31 L651.89 497.02 L652.73 497.72 L653.52 498.43 L654.23 499.13 L654.83 499.84 L655.29 500.54 L655.6 501.25 L655.87 501.95 L656.13 502.66 L656.38 503.36 L656.6 504.07 L656.79 504.77 L656.94 505.48 L657.05 506.18 L657.1 506.89 L657.06 507.59 L656.85 508.3 L656.48 509 L655.99 509.7 L655.37 510.41 L654.66 511.11 L653.86 511.82 L653.01 512.52 L652.11 513.23 L651.19 513.93 L650.26 514.64 L649.34 515.34 L648.22 516.05 L646.82 516.75 L645.32 517.46 L643.89 518.16 L642.72 518.87 L641.94 519.57 L641.36 520.28 L640.87 520.98 L640.44 521.69 L640.04 522.39 L639.64 523.1 L639.2 523.8 L639.2 523.8 L638.76 523.1 L638.36 522.39 L637.96 521.69 L637.53 520.98 L637.04 520.28 L636.46 519.57 L635.68 518.87 L634.51 518.16 L633.08 517.46 L631.58 516.75 L630.18 516.05 L629.06 515.34 L628.14 514.64 L627.21 513.93 L626.29 513.23 L625.39 512.52 L624.54 511.82 L623.74 511.11 L623.03 510.41 L622.41 509.7 L621.92 509 L621.55 508.3 L621.34 507.59 L621.3 506.89 L621.35 506.18 L621.46 505.48 L621.61 504.77 L621.8 504.07 L622.02 503.36 L622.27 502.66 L622.53 501.95 L622.8 501.25 L623.11 500.54 L623.57 499.84 L624.17 499.13 L624.88 498.43 L625.67 497.72 L626.51 497.02 L627.37 496.31 L628.24 495.61 L629.08 494.9 L629.87 494.2 L630.57 493.5 L631.16 492.79 L631.61 492.09 L631.9 491.38 L632 490.68 L631.81 489.97 L631.34 489.27 L630.67 488.56 L629.89 487.86 L629.08 487.15 L628.33 486.45 L627.73 485.74 L627.37 485.04 L627.31 484.33 L627.45 483.63 L627.7 482.92 L628.04 482.22 L628.43 481.51 L628.83 480.81 L629.23 480.1 L629.74 479.4 L630.34 478.7 L631.01 477.99 L631.73 477.29 L632.47 476.58 L633.22 475.88 L633.95 475.17 L634.63 474.47 L635.26 473.76 L635.8 473.06 L636.23 472.35 L636.58 471.65 L636.91 470.94 L637.2 470.24 L637.48 469.53 L637.73 468.83 L637.98 468.12 L638.21 467.42 L638.45 466.71 L638.69 466.01 L638.94 465.3 L639.2 464.6 Z" fill="none" stroke="#FF7A12" stroke-width="2.3" stroke-linejoin="round"/>
<line x1="622.9" y1="501" x2="655.5" y2="501" stroke="#FF7A12" stroke-width="1.95"/>
<circle cx="686.6" cy="486.03" r="1.9" fill="none" stroke="#A2D6A2" stroke-width="1.3"/>
<circle cx="683.6" cy="480.52" r="1.9" fill="none" stroke="#A2D6A2" stroke-width="1.3"/>
<circle cx="689.6" cy="492.17" r="1.9" fill="none" stroke="#A2D6A2" stroke-width="1.3"/>
<circle cx="683.6" cy="511.19" r="1.9" fill="none" stroke="#A2D6A2" stroke-width="1.3"/>
<circle cx="680.6" cy="505.72" r="1.9" fill="none" stroke="#A2D6A2" stroke-width="1.3"/>
<circle cx="692.6" cy="508" r="1.9" fill="none" stroke="#A2D6A2" stroke-width="1.3"/>
<circle cx="686.6" cy="505.13" r="1.9" fill="none" stroke="#A2D6A2" stroke-width="1.3"/>
<circle cx="686.6" cy="516.35" r="1.9" fill="none" stroke="#A2D6A2" stroke-width="1.3"/>
<circle cx="683.6" cy="497.21" r="1.9" fill="none" stroke="#A2D6A2" stroke-width="1.3"/>
<circle cx="683.6" cy="476.91" r="1.9" fill="none" stroke="#A2D6A2" stroke-width="1.3"/>
<circle cx="680.6" cy="493.18" r="1.9" fill="none" stroke="#A2D6A2" stroke-width="1.3"/>
<circle cx="686.6" cy="471.83" r="1.9" fill="none" stroke="#A2D6A2" stroke-width="1.3"/>
<circle cx="686.6" cy="461.01" r="1.9" fill="none" stroke="#A2D6A2" stroke-width="1.3"/>
<circle cx="686.6" cy="465.63" r="1.9" fill="none" stroke="#A2D6A2" stroke-width="1.3"/>
<circle cx="686.6" cy="410" r="1.9" fill="none" stroke="#A2D6A2" stroke-width="1.3"/>
<circle cx="686.6" cy="420" r="1.9" fill="none" stroke="#A2D6A2" stroke-width="1.3"/>
<path d="M686.6 386.6 L686.7 387.3 L686.81 388 L686.91 388.71 L687.02 389.41 L687.13 390.11 L687.23 390.81 L687.34 391.52 L687.44 392.22 L687.55 392.92 L687.65 393.62 L687.75 394.33 L687.86 395.03 L687.95 395.73 L688.05 396.43 L688.14 397.14 L688.24 397.84 L688.32 398.54 L688.41 399.24 L688.5 399.95 L688.58 400.65 L688.66 401.35 L688.74 402.05 L688.82 402.76 L688.9 403.46 L688.99 404.16 L689.07 404.86 L689.15 405.57 L689.24 406.27 L689.33 406.97 L689.42 407.67 L689.51 408.37 L689.61 409.08 L689.73 409.78 L689.87 410.48 L690.01 411.18 L690.17 411.89 L690.31 412.59 L690.43 413.29 L690.53 413.99 L690.59 414.7 L690.6 415.4 L690.58 416.1 L690.53 416.8 L690.46 417.51 L690.38 418.21 L690.28 418.91 L690.16 419.61 L690.03 420.32 L689.9 421.02 L689.77 421.72 L689.63 422.42 L689.49 423.13 L689.36 423.83 L689.24 424.53 L689.12 425.23 L689.02 425.94 L688.9 426.64 L688.77 427.34 L688.64 428.04 L688.5 428.74 L688.36 429.45 L688.23 430.15 L688.1 430.85 L687.98 431.55 L687.87 432.26 L687.78 432.96 L687.7 433.66 L687.64 434.36 L687.61 435.07 L687.6 435.77 L687.6 436.47 L687.6 437.17 L687.6 437.88 L687.6 438.58 L687.6 439.28 L687.6 439.98 L687.6 440.69 L687.6 441.39 L687.6 442.09 L687.6 442.79 L687.6 443.5 L687.6 444.2 L687.6 444.9 L687.6 445.6 L687.6 446.31 L687.6 447.01 L687.6 447.71 L687.6 448.41 L687.6 449.11 L687.6 449.82 L687.6 450.52 L687.6 451.22 L687.6 451.92 L687.6 452.63 L687.6 453.33 L687.6 454.03 L687.68 454.73 L687.88 455.44 L688.19 456.14 L688.58 456.84 L689.02 457.54 L689.49 458.25 L689.97 458.95 L690.44 459.65 L690.86 460.35 L691.23 461.06 L691.5 461.76 L691.69 462.46 L691.84 463.16 L691.99 463.87 L692.13 464.57 L692.25 465.27 L692.37 465.97 L692.48 466.68 L692.58 467.38 L692.68 468.08 L692.77 468.78 L692.86 469.49 L692.95 470.19 L693.03 470.89 L693.11 471.59 L693.19 472.29 L693.27 473 L693.35 473.7 L693.44 474.4 L693.52 475.1 L693.6 475.81 L693.69 476.51 L693.76 477.21 L693.84 477.91 L693.9 478.62 L693.96 479.32 L694.01 480.02 L694.05 480.72 L694.08 481.43 L694.1 482.13 L694.1 482.83 L694.07 483.53 L694.01 484.24 L693.94 484.94 L693.85 485.64 L693.77 486.34 L693.69 487.05 L693.63 487.75 L693.6 488.45 L693.71 489.15 L694.25 489.86 L695.15 490.56 L696.29 491.26 L697.55 491.96 L698.83 492.66 L700 493.37 L700.96 494.07 L701.58 494.77 L701.98 495.47 L702.36 496.18 L702.73 496.88 L703.07 497.58 L703.39 498.28 L703.67 498.99 L703.92 499.69 L704.13 500.39 L704.3 501.09 L704.42 501.8 L704.49 502.5 L704.49 503.2 L704.29 503.9 L703.86 504.61 L703.25 505.31 L702.49 506.01 L701.62 506.71 L700.67 507.42 L699.68 508.12 L698.69 508.82 L697.73 509.52 L696.84 510.23 L696.06 510.93 L695.39 511.63 L694.71 512.33 L694.01 513.03 L693.31 513.74 L692.62 514.44 L691.95 515.14 L691.31 515.84 L690.72 516.55 L690.19 517.25 L689.73 517.95 L689.36 518.65 L689.08 519.36 L688.86 520.06 L688.66 520.76 L688.47 521.46 L688.3 522.17 L688.15 522.87 L688 523.57 L687.87 524.27 L687.75 524.98 L687.63 525.68 L687.52 526.38 L687.41 527.08 L687.3 527.79 L687.2 528.49 L687.09 529.19 L686.98 529.89 L686.86 530.6 L686.73 531.3 L686.6 532 L686.6 532 L686.47 531.3 L686.34 530.6 L686.22 529.89 L686.11 529.19 L686 528.49 L685.9 527.79 L685.79 527.08 L685.68 526.38 L685.57 525.68 L685.45 524.98 L685.33 524.27 L685.2 523.57 L685.05 522.87 L684.9 522.17 L684.73 521.46 L684.54 520.76 L684.34 520.06 L684.12 519.36 L683.84 518.65 L683.47 517.95 L683.01 517.25 L682.48 516.55 L681.89 515.84 L681.25 515.14 L680.58 514.44 L679.89 513.74 L679.19 513.03 L678.49 512.33 L677.81 511.63 L677.14 510.93 L676.36 510.23 L675.47 509.52 L674.51 508.82 L673.52 508.12 L672.53 507.42 L671.58 506.71 L670.71 506.01 L669.95 505.31 L669.34 504.61 L668.91 503.9 L668.71 503.2 L668.71 502.5 L668.78 501.8 L668.9 501.09 L669.07 500.39 L669.28 499.69 L669.53 498.99 L669.81 498.28 L670.13 497.58 L670.47 496.88 L670.84 496.18 L671.22 495.47 L671.62 494.77 L672.24 494.07 L673.2 493.37 L674.37 492.66 L675.65 491.96 L676.91 491.26 L678.05 490.56 L678.95 489.86 L679.49 489.15 L679.6 488.45 L679.57 487.75 L679.51 487.05 L679.43 486.34 L679.35 485.64 L679.26 484.94 L679.19 484.24 L679.13 483.53 L679.1 482.83 L679.1 482.13 L679.12 481.43 L679.15 480.72 L679.19 480.02 L679.24 479.32 L679.3 478.62 L679.36 477.91 L679.44 477.21 L679.51 476.51 L679.6 475.81 L679.68 475.1 L679.76 474.4 L679.85 473.7 L679.93 473 L680.01 472.29 L680.09 471.59 L680.17 470.89 L680.25 470.19 L680.34 469.49 L680.43 468.78 L680.52 468.08 L680.62 467.38 L680.72 466.68 L680.83 465.97 L680.95 465.27 L681.07 464.57 L681.21 463.87 L681.36 463.16 L681.51 462.46 L681.7 461.76 L681.97 461.06 L682.34 460.35 L682.76 459.65 L683.23 458.95 L683.71 458.25 L684.18 457.54 L684.62 456.84 L685.01 456.14 L685.32 455.44 L685.52 454.73 L685.6 454.03 L685.6 453.33 L685.6 452.63 L685.6 451.92 L685.6 451.22 L685.6 450.52 L685.6 449.82 L685.6 449.11 L685.6 448.41 L685.6 447.71 L685.6 447.01 L685.6 446.31 L685.6 445.6 L685.6 444.9 L685.6 444.2 L685.6 443.5 L685.6 442.79 L685.6 442.09 L685.6 441.39 L685.6 440.69 L685.6 439.98 L685.6 439.28 L685.6 438.58 L685.6 437.88 L685.6 437.17 L685.6 436.47 L685.6 435.77 L685.59 435.07 L685.56 434.36 L685.5 433.66 L685.42 432.96 L685.33 432.26 L685.22 431.55 L685.1 430.85 L684.97 430.15 L684.84 429.45 L684.7 428.74 L684.56 428.04 L684.43 427.34 L684.3 426.64 L684.18 425.94 L684.08 425.23 L683.96 424.53 L683.84 423.83 L683.71 423.13 L683.57 422.42 L683.43 421.72 L683.3 421.02 L683.17 420.32 L683.04 419.61 L682.92 418.91 L682.82 418.21 L682.74 417.51 L682.67 416.8 L682.62 416.1 L682.6 415.4 L682.61 414.7 L682.67 413.99 L682.77 413.29 L682.89 412.59 L683.03 411.89 L683.19 411.18 L683.33 410.48 L683.47 409.78 L683.59 409.08 L683.69 408.37 L683.78 407.67 L683.87 406.97 L683.96 406.27 L684.05 405.57 L684.13 404.86 L684.21 404.16 L684.3 403.46 L684.38 402.76 L684.46 402.05 L684.54 401.35 L684.62 400.65 L684.7 399.95 L684.79 399.24 L684.88 398.54 L684.96 397.84 L685.06 397.14 L685.15 396.43 L685.25 395.73 L685.34 395.03 L685.45 394.33 L685.55 393.62 L685.65 392.92 L685.76 392.22 L685.86 391.52 L685.97 390.81 L686.07 390.11 L686.18 389.41 L686.29 388.71 L686.39 388 L686.5 387.3 L686.6 386.6 Z" fill="none" stroke="#12BC12" stroke-width="2.3" stroke-linejoin="round"/>
<line x1="671.37" y1="495.2" x2="701.83" y2="495.2" stroke="#12BC12" stroke-width="1.95"/>
<text x="714.3" y="399.8" font-size="37.5" fill="#000" stroke="#000" stroke-width="0.8" stroke-linejoin="round">H</text>
<rect x="787.3" y="410" width="3" height="127.9" fill="#000"/>
<line x1="783.3" y1="410" x2="788.8" y2="410" stroke="#000" stroke-width="1.5"/>
<text x="756.19" y="416.5" font-size="18" fill="#000" stroke="#000" stroke-width="0.7" stroke-linejoin="round" textLength="27.03" lengthAdjust="spacingAndGlyphs">100</text>
<line x1="783.3" y1="442.1" x2="788.8" y2="442.1" stroke="#000" stroke-width="1.5"/>
<text x="765.18" y="448.6" font-size="18" fill="#000" stroke="#000" stroke-width="0.7" stroke-linejoin="round" textLength="18.02" lengthAdjust="spacingAndGlyphs">90</text>
<line x1="783.3" y1="474" x2="788.8" y2="474" stroke="#000" stroke-width="1.5"/>
<text x="765.18" y="480.5" font-size="18" fill="#000" stroke="#000" stroke-width="0.7" stroke-linejoin="round" textLength="18.02" lengthAdjust="spacingAndGlyphs">80</text>
<line x1="783.3" y1="506.1" x2="788.8" y2="506.1" stroke="#000" stroke-width="1.5"/>
<text x="765.19" y="512.6" font-size="18" fill="#000" stroke="#000" stroke-width="0.7" stroke-linejoin="round" textLength="18.02" lengthAdjust="spacingAndGlyphs">70</text>
<line x1="783.3" y1="537.7" x2="788.8" y2="537.7" stroke="#000" stroke-width="1.5"/>
<text x="765.19" y="544.2" font-size="18" fill="#000" stroke="#000" stroke-width="0.7" stroke-linejoin="round" textLength="18.02" lengthAdjust="spacingAndGlyphs">60</text>
<text transform="translate(733.2 534.33) rotate(-90)" font-size="22.4" fill="#000" stroke="#000" stroke-width="0.75" stroke-linejoin="round" textLength="116.53" lengthAdjust="spacingAndGlyphs">AP amplitude</text>
<text transform="translate(754.7 494.83) rotate(-90)" font-size="22.4" fill="#000" stroke="#000" stroke-width="0.75" stroke-linejoin="round" textLength="43.38" lengthAdjust="spacingAndGlyphs">(mV)</text>
<circle cx="817" cy="478.29" r="1.9" fill="none" stroke="#F89A48" stroke-width="1.3"/>
<circle cx="820" cy="442.46" r="1.9" fill="none" stroke="#F89A48" stroke-width="1.3"/>
<circle cx="817" cy="506.39" r="1.9" fill="none" stroke="#F89A48" stroke-width="1.3"/>
<circle cx="820" cy="457.04" r="1.9" fill="none" stroke="#F89A48" stroke-width="1.3"/>
<circle cx="820" cy="436.72" r="1.9" fill="none" stroke="#F89A48" stroke-width="1.3"/>
<circle cx="820" cy="496.57" r="1.9" fill="none" stroke="#F89A48" stroke-width="1.3"/>
<circle cx="823" cy="459.73" r="1.9" fill="none" stroke="#F89A48" stroke-width="1.3"/>
<circle cx="817" cy="421.07" r="1.9" fill="none" stroke="#F89A48" stroke-width="1.3"/>
<circle cx="811" cy="448.85" r="1.9" fill="none" stroke="#F89A48" stroke-width="1.3"/>
<circle cx="823" cy="470.91" r="1.9" fill="none" stroke="#F89A48" stroke-width="1.3"/>
<circle cx="811" cy="455.19" r="1.9" fill="none" stroke="#F89A48" stroke-width="1.3"/>
<circle cx="817" cy="434.65" r="1.9" fill="none" stroke="#F89A48" stroke-width="1.3"/>
<circle cx="820" cy="490.92" r="1.9" fill="none" stroke="#F89A48" stroke-width="1.3"/>
<circle cx="817" cy="446.97" r="1.9" fill="none" stroke="#F89A48" stroke-width="1.3"/>
<circle cx="817" cy="486.45" r="1.9" fill="none" stroke="#F89A48" stroke-width="1.3"/>
<circle cx="820" cy="451.46" r="1.9" fill="none" stroke="#F89A48" stroke-width="1.3"/>
<circle cx="811" cy="470.86" r="1.9" fill="none" stroke="#F89A48" stroke-width="1.3"/>
<circle cx="817" cy="426.06" r="1.9" fill="none" stroke="#F89A48" stroke-width="1.3"/>
<circle cx="817" cy="502.09" r="1.9" fill="none" stroke="#F89A48" stroke-width="1.3"/>
<circle cx="814" cy="495.95" r="1.9" fill="none" stroke="#F89A48" stroke-width="1.3"/>
<circle cx="814" cy="468.63" r="1.9" fill="none" stroke="#F89A48" stroke-width="1.3"/>
<circle cx="817" cy="462.98" r="1.9" fill="none" stroke="#F89A48" stroke-width="1.3"/>
<circle cx="823" cy="477.77" r="1.9" fill="none" stroke="#F89A48" stroke-width="1.3"/>
<circle cx="814" cy="483.15" r="1.9" fill="none" stroke="#F89A48" stroke-width="1.3"/>
<circle cx="820" cy="467.09" r="1.9" fill="none" stroke="#F89A48" stroke-width="1.3"/>
<circle cx="814" cy="438.42" r="1.9" fill="none" stroke="#F89A48" stroke-width="1.3"/>
<circle cx="817" cy="430.37" r="1.9" fill="none" stroke="#F89A48" stroke-width="1.3"/>
<circle cx="817" cy="470.54" r="1.9" fill="none" stroke="#F89A48" stroke-width="1.3"/>
<path d="M817 397.8 L817.08 398.5 L817.16 399.2 L817.24 399.9 L817.32 400.6 L817.39 401.3 L817.47 402.01 L817.54 402.71 L817.62 403.41 L817.69 404.11 L817.77 404.81 L817.85 405.51 L817.93 406.21 L818.02 406.91 L818.1 407.61 L818.19 408.31 L818.29 409.01 L818.39 409.72 L818.49 410.42 L818.6 411.12 L818.72 411.82 L818.86 412.52 L819.01 413.22 L819.16 413.92 L819.33 414.62 L819.5 415.32 L819.68 416.02 L819.86 416.72 L820.04 417.43 L820.22 418.13 L820.4 418.83 L820.58 419.53 L820.75 420.23 L820.92 420.93 L821.07 421.63 L821.22 422.33 L821.36 423.03 L821.5 423.73 L821.64 424.43 L821.76 425.14 L821.89 425.84 L822.01 426.54 L822.13 427.24 L822.25 427.94 L822.37 428.64 L822.49 429.34 L822.61 430.04 L822.73 430.74 L822.85 431.44 L822.97 432.14 L823.1 432.85 L823.23 433.55 L823.36 434.25 L823.5 434.95 L823.65 435.65 L823.8 436.35 L823.95 437.05 L824.12 437.75 L824.29 438.45 L824.47 439.15 L824.66 439.85 L824.85 440.56 L825.06 441.26 L825.28 441.96 L825.55 442.66 L825.86 443.36 L826.21 444.06 L826.6 444.76 L827.01 445.46 L827.43 446.16 L827.88 446.86 L828.32 447.56 L828.77 448.27 L829.2 448.97 L829.63 449.67 L830.03 450.37 L830.4 451.07 L830.74 451.77 L831.06 452.47 L831.39 453.17 L831.74 453.87 L832.09 454.57 L832.44 455.27 L832.79 455.98 L833.12 456.68 L833.45 457.38 L833.76 458.08 L834.04 458.78 L834.3 459.48 L834.52 460.18 L834.71 460.88 L834.85 461.58 L834.95 462.28 L835 462.98 L834.98 463.69 L834.88 464.39 L834.7 465.09 L834.46 465.79 L834.16 466.49 L833.81 467.19 L833.41 467.89 L832.99 468.59 L832.54 469.29 L832.07 469.99 L831.6 470.69 L831.12 471.4 L830.66 472.1 L830.21 472.8 L829.79 473.5 L829.4 474.2 L829.03 474.9 L828.62 475.6 L828.17 476.3 L827.71 477 L827.25 477.7 L826.79 478.4 L826.37 479.11 L825.99 479.81 L825.66 480.51 L825.42 481.21 L825.26 481.91 L825.2 482.61 L825.2 483.31 L825.2 484.01 L825.2 484.71 L825.2 485.41 L825.2 486.11 L825.2 486.82 L825.2 487.52 L825.2 488.22 L825.2 488.92 L825.2 489.62 L825.2 490.32 L825.2 491.02 L825.15 491.72 L825.08 492.42 L824.96 493.12 L824.82 493.82 L824.64 494.53 L824.45 495.23 L824.23 495.93 L824 496.63 L823.76 497.33 L823.5 498.03 L823.25 498.73 L822.99 499.43 L822.73 500.13 L822.48 500.83 L822.25 501.53 L822.02 502.24 L821.82 502.94 L821.62 503.64 L821.4 504.34 L821.17 505.04 L820.94 505.74 L820.7 506.44 L820.46 507.14 L820.23 507.84 L820 508.54 L819.79 509.24 L819.59 509.95 L819.41 510.65 L819.26 511.35 L819.14 512.05 L819.04 512.75 L818.98 513.45 L818.93 514.15 L818.89 514.85 L818.84 515.55 L818.81 516.25 L818.77 516.95 L818.74 517.66 L818.7 518.36 L818.68 519.06 L818.65 519.76 L818.62 520.46 L818.6 521.16 L818.58 521.86 L818.56 522.56 L818.54 523.26 L818.52 523.96 L818.5 524.66 L818.48 525.37 L818.46 526.07 L818.44 526.77 L818.42 527.47 L818.4 528.17 L818.38 528.87 L818.36 529.57 L818.34 530.27 L818.31 530.97 L818.29 531.67 L818.26 532.37 L818.23 533.08 L818.19 533.78 L818.16 534.48 L818.12 535.18 L818.08 535.88 L818.04 536.58 L818 537.28 L817.95 537.98 L817.91 538.68 L817.87 539.38 L817.82 540.08 L817.77 540.79 L817.73 541.49 L817.68 542.19 L817.63 542.89 L817.58 543.59 L817.53 544.29 L817.48 544.99 L817.43 545.69 L817.38 546.39 L817.34 547.09 L817.29 547.79 L817.24 548.5 L817.19 549.2 L817.14 549.9 L817.09 550.6 L817.05 551.3 L817 552 L817 552 L816.95 551.3 L816.91 550.6 L816.86 549.9 L816.81 549.2 L816.76 548.5 L816.71 547.79 L816.66 547.09 L816.62 546.39 L816.57 545.69 L816.52 544.99 L816.47 544.29 L816.42 543.59 L816.37 542.89 L816.32 542.19 L816.27 541.49 L816.23 540.79 L816.18 540.08 L816.13 539.38 L816.09 538.68 L816.05 537.98 L816 537.28 L815.96 536.58 L815.92 535.88 L815.88 535.18 L815.84 534.48 L815.81 533.78 L815.77 533.08 L815.74 532.37 L815.71 531.67 L815.69 530.97 L815.66 530.27 L815.64 529.57 L815.62 528.87 L815.6 528.17 L815.58 527.47 L815.56 526.77 L815.54 526.07 L815.52 525.37 L815.5 524.66 L815.48 523.96 L815.46 523.26 L815.44 522.56 L815.42 521.86 L815.4 521.16 L815.38 520.46 L815.35 519.76 L815.32 519.06 L815.3 518.36 L815.26 517.66 L815.23 516.95 L815.19 516.25 L815.16 515.55 L815.11 514.85 L815.07 514.15 L815.02 513.45 L814.96 512.75 L814.86 512.05 L814.74 511.35 L814.59 510.65 L814.41 509.95 L814.21 509.24 L814 508.54 L813.77 507.84 L813.54 507.14 L813.3 506.44 L813.06 505.74 L812.83 505.04 L812.6 504.34 L812.38 503.64 L812.18 502.94 L811.98 502.24 L811.75 501.53 L811.52 500.83 L811.27 500.13 L811.01 499.43 L810.75 498.73 L810.5 498.03 L810.24 497.33 L810 496.63 L809.77 495.93 L809.55 495.23 L809.36 494.53 L809.18 493.82 L809.04 493.12 L808.92 492.42 L808.85 491.72 L808.8 491.02 L808.8 490.32 L808.8 489.62 L808.8 488.92 L808.8 488.22 L808.8 487.52 L808.8 486.82 L808.8 486.11 L808.8 485.41 L808.8 484.71 L808.8 484.01 L808.8 483.31 L808.8 482.61 L808.74 481.91 L808.58 481.21 L808.34 480.51 L808.01 479.81 L807.63 479.11 L807.21 478.4 L806.75 477.7 L806.29 477 L805.83 476.3 L805.38 475.6 L804.97 474.9 L804.6 474.2 L804.21 473.5 L803.79 472.8 L803.34 472.1 L802.88 471.4 L802.4 470.69 L801.93 469.99 L801.46 469.29 L801.01 468.59 L800.59 467.89 L800.19 467.19 L799.84 466.49 L799.54 465.79 L799.3 465.09 L799.12 464.39 L799.02 463.69 L799 462.98 L799.05 462.28 L799.15 461.58 L799.29 460.88 L799.48 460.18 L799.7 459.48 L799.96 458.78 L800.24 458.08 L800.55 457.38 L800.88 456.68 L801.21 455.98 L801.56 455.27 L801.91 454.57 L802.26 453.87 L802.61 453.17 L802.94 452.47 L803.26 451.77 L803.6 451.07 L803.97 450.37 L804.37 449.67 L804.8 448.97 L805.23 448.27 L805.68 447.56 L806.12 446.86 L806.57 446.16 L806.99 445.46 L807.4 444.76 L807.79 444.06 L808.14 443.36 L808.45 442.66 L808.72 441.96 L808.94 441.26 L809.15 440.56 L809.34 439.85 L809.53 439.15 L809.71 438.45 L809.88 437.75 L810.05 437.05 L810.2 436.35 L810.35 435.65 L810.5 434.95 L810.64 434.25 L810.77 433.55 L810.9 432.85 L811.03 432.14 L811.15 431.44 L811.27 430.74 L811.39 430.04 L811.51 429.34 L811.63 428.64 L811.75 427.94 L811.87 427.24 L811.99 426.54 L812.11 425.84 L812.24 425.14 L812.36 424.43 L812.5 423.73 L812.64 423.03 L812.78 422.33 L812.93 421.63 L813.08 420.93 L813.25 420.23 L813.42 419.53 L813.6 418.83 L813.78 418.13 L813.96 417.43 L814.14 416.72 L814.32 416.02 L814.5 415.32 L814.67 414.62 L814.84 413.92 L814.99 413.22 L815.14 412.52 L815.28 411.82 L815.4 411.12 L815.51 410.42 L815.61 409.72 L815.71 409.01 L815.81 408.31 L815.9 407.61 L815.98 406.91 L816.07 406.21 L816.15 405.51 L816.23 404.81 L816.31 404.11 L816.38 403.41 L816.46 402.71 L816.53 402.01 L816.61 401.3 L816.68 400.6 L816.76 399.9 L816.84 399.2 L816.92 398.5 L817 397.8 Z" fill="none" stroke="#FF7A12" stroke-width="2.3" stroke-linejoin="round"/>
<line x1="799" y1="463.2" x2="835" y2="463.2" stroke="#FF7A12" stroke-width="1.95"/>
<circle cx="865.4" cy="426.54" r="1.9" fill="none" stroke="#A2D6A2" stroke-width="1.3"/>
<circle cx="862.4" cy="443.91" r="1.9" fill="none" stroke="#A2D6A2" stroke-width="1.3"/>
<circle cx="862.4" cy="477.17" r="1.9" fill="none" stroke="#A2D6A2" stroke-width="1.3"/>
<circle cx="868.4" cy="460.36" r="1.9" fill="none" stroke="#A2D6A2" stroke-width="1.3"/>
<circle cx="865.4" cy="419.37" r="1.9" fill="none" stroke="#A2D6A2" stroke-width="1.3"/>
<circle cx="865.4" cy="504.11" r="1.9" fill="none" stroke="#A2D6A2" stroke-width="1.3"/>
<circle cx="865.4" cy="489.26" r="1.9" fill="none" stroke="#A2D6A2" stroke-width="1.3"/>
<circle cx="865.4" cy="497.83" r="1.9" fill="none" stroke="#A2D6A2" stroke-width="1.3"/>
<circle cx="865.4" cy="430.48" r="1.9" fill="none" stroke="#A2D6A2" stroke-width="1.3"/>
<circle cx="865.4" cy="436.02" r="1.9" fill="none" stroke="#A2D6A2" stroke-width="1.3"/>
<circle cx="865.4" cy="451.99" r="1.9" fill="none" stroke="#A2D6A2" stroke-width="1.3"/>
<circle cx="871.4" cy="473.24" r="1.9" fill="none" stroke="#A2D6A2" stroke-width="1.3"/>
<circle cx="865.4" cy="473.97" r="1.9" fill="none" stroke="#A2D6A2" stroke-width="1.3"/>
<circle cx="865.4" cy="468.52" r="1.9" fill="none" stroke="#A2D6A2" stroke-width="1.3"/>
<circle cx="862.4" cy="471" r="1.9" fill="none" stroke="#A2D6A2" stroke-width="1.3"/>
<circle cx="862.4" cy="461.46" r="1.9" fill="none" stroke="#A2D6A2" stroke-width="1.3"/>
<path d="M865.4 406 L865.55 406.7 L865.7 407.41 L865.85 408.11 L866 408.81 L866.15 409.52 L866.29 410.22 L866.44 410.93 L866.59 411.63 L866.75 412.33 L866.9 413.04 L867.06 413.74 L867.22 414.44 L867.39 415.15 L867.56 415.85 L867.73 416.56 L867.91 417.26 L868.1 417.96 L868.28 418.67 L868.47 419.37 L868.66 420.07 L868.86 420.78 L869.05 421.48 L869.25 422.19 L869.45 422.89 L869.64 423.59 L869.84 424.3 L870.04 425 L870.23 425.7 L870.43 426.41 L870.62 427.11 L870.81 427.82 L870.99 428.52 L871.17 429.22 L871.35 429.93 L871.51 430.63 L871.68 431.33 L871.85 432.04 L872.01 432.74 L872.18 433.45 L872.35 434.15 L872.52 434.85 L872.69 435.56 L872.88 436.26 L873.07 436.96 L873.26 437.67 L873.47 438.37 L873.68 439.08 L873.91 439.78 L874.15 440.48 L874.41 441.19 L874.68 441.89 L874.99 442.59 L875.37 443.3 L875.78 444 L876.24 444.7 L876.72 445.41 L877.22 446.11 L877.73 446.82 L878.24 447.52 L878.74 448.22 L879.22 448.93 L879.69 449.63 L880.11 450.33 L880.5 451.04 L880.83 451.74 L881.13 452.45 L881.43 453.15 L881.74 453.85 L882.04 454.56 L882.34 455.26 L882.62 455.96 L882.89 456.67 L883.13 457.37 L883.34 458.08 L883.52 458.78 L883.66 459.48 L883.75 460.19 L883.8 460.89 L883.77 461.59 L883.64 462.3 L883.4 463 L883.08 463.71 L882.67 464.41 L882.2 465.11 L881.67 465.82 L881.09 466.52 L880.48 467.22 L879.84 467.93 L879.19 468.63 L878.53 469.34 L877.87 470.04 L877.23 470.74 L876.62 471.45 L876.05 472.15 L875.53 472.85 L875.06 473.56 L874.67 474.26 L874.33 474.97 L873.99 475.67 L873.65 476.37 L873.32 477.08 L873 477.78 L872.68 478.48 L872.37 479.19 L872.07 479.89 L871.78 480.6 L871.51 481.3 L871.25 482 L871.01 482.71 L870.78 483.41 L870.57 484.11 L870.39 484.82 L870.22 485.52 L870.08 486.22 L869.96 486.93 L869.86 487.63 L869.76 488.34 L869.67 489.04 L869.59 489.74 L869.52 490.45 L869.45 491.15 L869.38 491.85 L869.32 492.56 L869.27 493.26 L869.21 493.97 L869.16 494.67 L869.1 495.37 L869.05 496.08 L869 496.78 L868.95 497.48 L868.89 498.19 L868.83 498.89 L868.77 499.6 L868.71 500.3 L868.64 501 L868.56 501.71 L868.48 502.41 L868.38 503.11 L868.28 503.82 L868.17 504.52 L868.05 505.23 L867.93 505.93 L867.79 506.63 L867.66 507.34 L867.52 508.04 L867.38 508.74 L867.24 509.45 L867.1 510.15 L866.96 510.86 L866.83 511.56 L866.7 512.26 L866.57 512.97 L866.44 513.67 L866.31 514.37 L866.18 515.08 L866.05 515.78 L865.92 516.49 L865.79 517.19 L865.66 517.89 L865.53 518.6 L865.4 519.3 L865.4 519.3 L865.27 518.6 L865.14 517.89 L865.01 517.19 L864.88 516.49 L864.75 515.78 L864.62 515.08 L864.49 514.37 L864.36 513.67 L864.23 512.97 L864.1 512.26 L863.97 511.56 L863.84 510.86 L863.7 510.15 L863.56 509.45 L863.42 508.74 L863.28 508.04 L863.14 507.34 L863.01 506.63 L862.87 505.93 L862.75 505.23 L862.63 504.52 L862.52 503.82 L862.42 503.11 L862.32 502.41 L862.24 501.71 L862.16 501 L862.09 500.3 L862.03 499.6 L861.97 498.89 L861.91 498.19 L861.85 497.48 L861.8 496.78 L861.75 496.08 L861.7 495.37 L861.64 494.67 L861.59 493.97 L861.53 493.26 L861.48 492.56 L861.42 491.85 L861.35 491.15 L861.28 490.45 L861.21 489.74 L861.13 489.04 L861.04 488.34 L860.94 487.63 L860.84 486.93 L860.72 486.22 L860.58 485.52 L860.41 484.82 L860.23 484.11 L860.02 483.41 L859.79 482.71 L859.55 482 L859.29 481.3 L859.02 480.6 L858.73 479.89 L858.43 479.19 L858.12 478.48 L857.8 477.78 L857.48 477.08 L857.15 476.37 L856.81 475.67 L856.47 474.97 L856.13 474.26 L855.74 473.56 L855.27 472.85 L854.75 472.15 L854.18 471.45 L853.57 470.74 L852.93 470.04 L852.27 469.34 L851.61 468.63 L850.96 467.93 L850.32 467.22 L849.71 466.52 L849.13 465.82 L848.6 465.11 L848.13 464.41 L847.72 463.71 L847.4 463 L847.16 462.3 L847.03 461.59 L847 460.89 L847.05 460.19 L847.14 459.48 L847.28 458.78 L847.46 458.08 L847.67 457.37 L847.91 456.67 L848.18 455.96 L848.46 455.26 L848.76 454.56 L849.06 453.85 L849.37 453.15 L849.67 452.45 L849.97 451.74 L850.3 451.04 L850.69 450.33 L851.11 449.63 L851.58 448.93 L852.06 448.22 L852.56 447.52 L853.07 446.82 L853.58 446.11 L854.08 445.41 L854.56 444.7 L855.02 444 L855.43 443.3 L855.81 442.59 L856.12 441.89 L856.39 441.19 L856.65 440.48 L856.89 439.78 L857.12 439.08 L857.33 438.37 L857.54 437.67 L857.73 436.96 L857.92 436.26 L858.11 435.56 L858.28 434.85 L858.45 434.15 L858.62 433.45 L858.79 432.74 L858.95 432.04 L859.12 431.33 L859.29 430.63 L859.45 429.93 L859.63 429.22 L859.81 428.52 L859.99 427.82 L860.18 427.11 L860.37 426.41 L860.57 425.7 L860.76 425 L860.96 424.3 L861.16 423.59 L861.35 422.89 L861.55 422.19 L861.75 421.48 L861.94 420.78 L862.14 420.07 L862.33 419.37 L862.52 418.67 L862.7 417.96 L862.89 417.26 L863.07 416.56 L863.24 415.85 L863.41 415.15 L863.58 414.44 L863.74 413.74 L863.9 413.04 L864.05 412.33 L864.21 411.63 L864.36 410.93 L864.51 410.22 L864.65 409.52 L864.8 408.81 L864.95 408.11 L865.1 407.41 L865.25 406.7 L865.4 406 Z" fill="none" stroke="#12BC12" stroke-width="2.3" stroke-linejoin="round"/>
<line x1="847.01" y1="460.7" x2="883.79" y2="460.7" stroke="#12BC12" stroke-width="1.95"/>
<text x="893.42" y="399.2" font-size="37.5" fill="#000" stroke="#000" stroke-width="0.8" stroke-linejoin="round">I</text>
<rect x="967.5" y="406" width="3" height="146.5" fill="#000"/>
<line x1="963.5" y1="409" x2="969" y2="409" stroke="#000" stroke-width="1.5"/>
<text x="948.94" y="415.5" font-size="16.5" fill="#000" stroke="#000" stroke-width="0.7" stroke-linejoin="round" textLength="16.52" lengthAdjust="spacingAndGlyphs">50</text>
<line x1="963.5" y1="433.1" x2="969" y2="433.1" stroke="#000" stroke-width="1.5"/>
<text x="948.94" y="439.6" font-size="16.5" fill="#000" stroke="#000" stroke-width="0.7" stroke-linejoin="round" textLength="16.52" lengthAdjust="spacingAndGlyphs">40</text>
<line x1="963.5" y1="457" x2="969" y2="457" stroke="#000" stroke-width="1.5"/>
<text x="948.94" y="463.5" font-size="16.5" fill="#000" stroke="#000" stroke-width="0.7" stroke-linejoin="round" textLength="16.52" lengthAdjust="spacingAndGlyphs">30</text>
<line x1="963.5" y1="481" x2="969" y2="481" stroke="#000" stroke-width="1.5"/>
<text x="948.94" y="487.5" font-size="16.5" fill="#000" stroke="#000" stroke-width="0.7" stroke-linejoin="round" textLength="16.52" lengthAdjust="spacingAndGlyphs">20</text>
<line x1="963.5" y1="504.4" x2="969" y2="504.4" stroke="#000" stroke-width="1.5"/>
<text x="948.94" y="510.9" font-size="16.5" fill="#000" stroke="#000" stroke-width="0.7" stroke-linejoin="round" textLength="16.52" lengthAdjust="spacingAndGlyphs">10</text>
<line x1="963.5" y1="528.5" x2="969" y2="528.5" stroke="#000" stroke-width="1.5"/>
<text x="957.18" y="535" font-size="16.5" fill="#000" stroke="#000" stroke-width="0.7" stroke-linejoin="round" textLength="8.26" lengthAdjust="spacingAndGlyphs">0</text>
<line x1="963.5" y1="552" x2="969" y2="552" stroke="#000" stroke-width="1.5"/>
<text x="943.96" y="558.5" font-size="16.5" fill="#000" stroke="#000" stroke-width="0.7" stroke-linejoin="round" textLength="21.46" lengthAdjust="spacingAndGlyphs">-10</text>
<text transform="translate(915.7 547.62) rotate(-90)" font-size="22.5" fill="#000" stroke="#000" stroke-width="0.75" stroke-linejoin="round" textLength="137.42" lengthAdjust="spacingAndGlyphs">AHP deph (mV)</text>
<line x1="996.6" y1="391.3" x2="1043.5" y2="391.3" stroke="#000" stroke-width="3"/>
<circle cx="1021.2" cy="378.7" r="1.59" fill="#000" stroke="none" stroke-width="1"/>
<path d="M1022.29 378.7 L1022.87 373.1 L1019.53 373.1 L1020.11 378.7 Z M1021.54 379.73 L1027.04 378.56 L1026.01 375.38 L1020.86 377.67 Z M1020.32 379.34 L1023.14 384.21 L1025.84 382.25 L1022.08 378.06 Z M1020.32 378.06 L1016.56 382.25 L1019.26 384.21 L1022.08 379.34 Z M1021.54 377.67 L1016.39 375.38 L1015.36 378.56 L1020.86 379.73 Z" fill="#000"/>
<circle cx="999" cy="516.79" r="1.9" fill="none" stroke="#F89A48" stroke-width="1.3"/>
<circle cx="993" cy="456.81" r="1.9" fill="none" stroke="#F89A48" stroke-width="1.3"/>
<circle cx="1002" cy="486.22" r="1.9" fill="none" stroke="#F89A48" stroke-width="1.3"/>
<circle cx="993" cy="474.99" r="1.9" fill="none" stroke="#F89A48" stroke-width="1.3"/>
<circle cx="990" cy="507.94" r="1.9" fill="none" stroke="#F89A48" stroke-width="1.3"/>
<circle cx="996" cy="471.88" r="1.9" fill="none" stroke="#F89A48" stroke-width="1.3"/>
<circle cx="996" cy="533.76" r="1.9" fill="none" stroke="#F89A48" stroke-width="1.3"/>
<circle cx="993" cy="510.38" r="1.9" fill="none" stroke="#F89A48" stroke-width="1.3"/>
<circle cx="990" cy="485.69" r="1.9" fill="none" stroke="#F89A48" stroke-width="1.3"/>
<circle cx="999" cy="506.23" r="1.9" fill="none" stroke="#F89A48" stroke-width="1.3"/>
<circle cx="996" cy="525.26" r="1.9" fill="none" stroke="#F89A48" stroke-width="1.3"/>
<circle cx="996" cy="491.26" r="1.9" fill="none" stroke="#F89A48" stroke-width="1.3"/>
<circle cx="1002" cy="468.9" r="1.9" fill="none" stroke="#F89A48" stroke-width="1.3"/>
<circle cx="996" cy="530.2" r="1.9" fill="none" stroke="#F89A48" stroke-width="1.3"/>
<circle cx="993" cy="464.45" r="1.9" fill="none" stroke="#F89A48" stroke-width="1.3"/>
<circle cx="1002" cy="495.56" r="1.9" fill="none" stroke="#F89A48" stroke-width="1.3"/>
<circle cx="990" cy="470.2" r="1.9" fill="none" stroke="#F89A48" stroke-width="1.3"/>
<circle cx="999" cy="456.05" r="1.9" fill="none" stroke="#F89A48" stroke-width="1.3"/>
<circle cx="993" cy="514.13" r="1.9" fill="none" stroke="#F89A48" stroke-width="1.3"/>
<circle cx="990" cy="477.04" r="1.9" fill="none" stroke="#F89A48" stroke-width="1.3"/>
<circle cx="999" cy="477.36" r="1.9" fill="none" stroke="#F89A48" stroke-width="1.3"/>
<circle cx="996" cy="462.68" r="1.9" fill="none" stroke="#F89A48" stroke-width="1.3"/>
<circle cx="999" cy="510.67" r="1.9" fill="none" stroke="#F89A48" stroke-width="1.3"/>
<circle cx="999" cy="460.31" r="1.9" fill="none" stroke="#F89A48" stroke-width="1.3"/>
<circle cx="996" cy="482.24" r="1.9" fill="none" stroke="#F89A48" stroke-width="1.3"/>
<circle cx="996" cy="504.4" r="1.9" fill="none" stroke="#F89A48" stroke-width="1.3"/>
<circle cx="1002" cy="500.8" r="1.9" fill="none" stroke="#F89A48" stroke-width="1.3"/>
<circle cx="990" cy="493.21" r="1.9" fill="none" stroke="#F89A48" stroke-width="1.3"/>
<circle cx="990" cy="499.1" r="1.9" fill="none" stroke="#F89A48" stroke-width="1.3"/>
<circle cx="996" cy="454" r="1.9" fill="none" stroke="#F89A48" stroke-width="1.3"/>
<path d="M996 443.8 L996.19 444.5 L996.36 445.2 L996.52 445.9 L996.67 446.6 L996.83 447.3 L996.99 448 L997.16 448.7 L997.36 449.4 L997.58 450.1 L997.83 450.8 L998.12 451.5 L998.47 452.2 L999.09 452.9 L999.93 453.6 L1000.95 454.3 L1002.05 455 L1003.17 455.7 L1004.24 456.4 L1005.19 457.1 L1005.95 457.8 L1006.49 458.5 L1007 459.2 L1007.49 459.9 L1007.97 460.6 L1008.41 461.3 L1008.83 462 L1009.2 462.7 L1009.53 463.4 L1009.81 464.1 L1010.04 464.8 L1010.2 465.5 L1010.3 466.2 L1010.36 466.9 L1010.41 467.6 L1010.45 468.3 L1010.49 469 L1010.52 469.7 L1010.55 470.4 L1010.57 471.1 L1010.59 471.8 L1010.61 472.5 L1010.63 473.2 L1010.64 473.9 L1010.65 474.6 L1010.67 475.3 L1010.69 476 L1010.7 476.7 L1010.72 477.4 L1010.74 478.1 L1010.77 478.8 L1010.8 479.5 L1010.83 480.2 L1010.87 480.9 L1010.92 481.6 L1010.97 482.3 L1011.06 483 L1011.27 483.7 L1011.59 484.4 L1011.99 485.1 L1012.45 485.8 L1012.93 486.5 L1013.42 487.2 L1013.88 487.9 L1014.28 488.6 L1014.61 489.3 L1014.82 490 L1014.9 490.7 L1014.85 491.4 L1014.69 492.1 L1014.45 492.8 L1014.13 493.5 L1013.74 494.2 L1013.29 494.9 L1012.8 495.6 L1012.26 496.3 L1011.7 497 L1011.12 497.7 L1010.53 498.4 L1009.94 499.1 L1009.37 499.8 L1008.82 500.5 L1008.3 501.2 L1007.83 501.9 L1007.41 502.6 L1007.05 503.3 L1006.7 504 L1006.36 504.7 L1006.02 505.4 L1005.69 506.1 L1005.37 506.8 L1005.06 507.5 L1004.76 508.2 L1004.48 508.9 L1004.22 509.6 L1003.98 510.3 L1003.76 511 L1003.56 511.7 L1003.37 512.4 L1003.19 513.1 L1003.02 513.8 L1002.86 514.5 L1002.71 515.2 L1002.57 515.9 L1002.43 516.6 L1002.29 517.3 L1002.16 518 L1002.03 518.7 L1001.9 519.4 L1001.76 520.1 L1001.63 520.8 L1001.49 521.5 L1001.35 522.2 L1001.21 522.9 L1001.06 523.6 L1000.9 524.3 L1000.75 525 L1000.59 525.7 L1000.43 526.4 L1000.27 527.1 L1000.11 527.8 L999.95 528.5 L999.79 529.2 L999.63 529.9 L999.48 530.6 L999.32 531.3 L999.16 532 L999 532.7 L998.84 533.4 L998.69 534.1 L998.52 534.8 L998.35 535.5 L998.18 536.2 L998.01 536.9 L997.84 537.6 L997.68 538.3 L997.52 539 L997.37 539.7 L997.23 540.4 L997.11 541.1 L997 541.8 L996.91 542.5 L996.82 543.2 L996.74 543.9 L996.66 544.6 L996.59 545.3 L996.52 546 L996.45 546.7 L996.39 547.4 L996.33 548.1 L996.26 548.8 L996.2 549.5 L996.14 550.2 L996.07 550.9 L996 551.6 L996 551.6 L995.93 550.9 L995.86 550.2 L995.8 549.5 L995.74 548.8 L995.67 548.1 L995.61 547.4 L995.55 546.7 L995.48 546 L995.41 545.3 L995.34 544.6 L995.26 543.9 L995.18 543.2 L995.09 542.5 L995 541.8 L994.89 541.1 L994.77 540.4 L994.63 539.7 L994.48 539 L994.32 538.3 L994.16 537.6 L993.99 536.9 L993.82 536.2 L993.65 535.5 L993.48 534.8 L993.31 534.1 L993.16 533.4 L993 532.7 L992.84 532 L992.68 531.3 L992.52 530.6 L992.37 529.9 L992.21 529.2 L992.05 528.5 L991.89 527.8 L991.73 527.1 L991.57 526.4 L991.41 525.7 L991.25 525 L991.1 524.3 L990.94 523.6 L990.79 522.9 L990.65 522.2 L990.51 521.5 L990.37 520.8 L990.24 520.1 L990.1 519.4 L989.97 518.7 L989.84 518 L989.71 517.3 L989.57 516.6 L989.43 515.9 L989.29 515.2 L989.14 514.5 L988.98 513.8 L988.81 513.1 L988.63 512.4 L988.44 511.7 L988.24 511 L988.02 510.3 L987.78 509.6 L987.52 508.9 L987.24 508.2 L986.94 507.5 L986.63 506.8 L986.31 506.1 L985.98 505.4 L985.64 504.7 L985.3 504 L984.95 503.3 L984.59 502.6 L984.17 501.9 L983.7 501.2 L983.18 500.5 L982.63 499.8 L982.06 499.1 L981.47 498.4 L980.88 497.7 L980.3 497 L979.74 496.3 L979.2 495.6 L978.71 494.9 L978.26 494.2 L977.87 493.5 L977.55 492.8 L977.31 492.1 L977.15 491.4 L977.1 490.7 L977.18 490 L977.39 489.3 L977.72 488.6 L978.12 487.9 L978.58 487.2 L979.07 486.5 L979.55 485.8 L980.01 485.1 L980.41 484.4 L980.73 483.7 L980.94 483 L981.03 482.3 L981.08 481.6 L981.13 480.9 L981.17 480.2 L981.2 479.5 L981.23 478.8 L981.26 478.1 L981.28 477.4 L981.3 476.7 L981.31 476 L981.33 475.3 L981.35 474.6 L981.36 473.9 L981.37 473.2 L981.39 472.5 L981.41 471.8 L981.43 471.1 L981.45 470.4 L981.48 469.7 L981.51 469 L981.55 468.3 L981.59 467.6 L981.64 466.9 L981.7 466.2 L981.8 465.5 L981.96 464.8 L982.19 464.1 L982.47 463.4 L982.8 462.7 L983.17 462 L983.59 461.3 L984.03 460.6 L984.51 459.9 L985 459.2 L985.51 458.5 L986.05 457.8 L986.81 457.1 L987.76 456.4 L988.83 455.7 L989.95 455 L991.05 454.3 L992.07 453.6 L992.91 452.9 L993.53 452.2 L993.88 451.5 L994.17 450.8 L994.42 450.1 L994.64 449.4 L994.84 448.7 L995.01 448 L995.17 447.3 L995.33 446.6 L995.48 445.9 L995.64 445.2 L995.81 444.5 L996 443.8 Z" fill="none" stroke="#FF7A12" stroke-width="2.3" stroke-linejoin="round"/>
<line x1="977.16" y1="490.1" x2="1014.84" y2="490.1" stroke="#FF7A12" stroke-width="1.95"/>
<circle cx="1040.7" cy="487.81" r="1.9" fill="none" stroke="#A2D6A2" stroke-width="1.3"/>
<circle cx="1037.7" cy="432.5" r="1.9" fill="none" stroke="#A2D6A2" stroke-width="1.3"/>
<circle cx="1040.7" cy="473.11" r="1.9" fill="none" stroke="#A2D6A2" stroke-width="1.3"/>
<circle cx="1037.7" cy="451.55" r="1.9" fill="none" stroke="#A2D6A2" stroke-width="1.3"/>
<circle cx="1049.7" cy="440.19" r="1.9" fill="none" stroke="#A2D6A2" stroke-width="1.3"/>
<circle cx="1040.7" cy="457.09" r="1.9" fill="none" stroke="#A2D6A2" stroke-width="1.3"/>
<circle cx="1043.7" cy="424.72" r="1.9" fill="none" stroke="#A2D6A2" stroke-width="1.3"/>
<circle cx="1037.7" cy="441.44" r="1.9" fill="none" stroke="#A2D6A2" stroke-width="1.3"/>
<circle cx="1043.7" cy="480.21" r="1.9" fill="none" stroke="#A2D6A2" stroke-width="1.3"/>
<circle cx="1037.7" cy="424.98" r="1.9" fill="none" stroke="#A2D6A2" stroke-width="1.3"/>
<circle cx="1043.7" cy="497.95" r="1.9" fill="none" stroke="#A2D6A2" stroke-width="1.3"/>
<circle cx="1040.7" cy="427.29" r="1.9" fill="none" stroke="#A2D6A2" stroke-width="1.3"/>
<circle cx="1046.7" cy="502.44" r="1.9" fill="none" stroke="#A2D6A2" stroke-width="1.3"/>
<circle cx="1040.7" cy="437.81" r="1.9" fill="none" stroke="#A2D6A2" stroke-width="1.3"/>
<circle cx="1043.7" cy="476.59" r="1.9" fill="none" stroke="#A2D6A2" stroke-width="1.3"/>
<circle cx="1046.7" cy="434.31" r="1.9" fill="none" stroke="#A2D6A2" stroke-width="1.3"/>
<path d="M1043.7 398.8 L1043.83 399.5 L1043.95 400.2 L1044.06 400.9 L1044.17 401.6 L1044.28 402.31 L1044.39 403.01 L1044.5 403.71 L1044.61 404.41 L1044.72 405.11 L1044.84 405.81 L1044.96 406.51 L1045.09 407.21 L1045.23 407.91 L1045.38 408.62 L1045.54 409.32 L1045.71 410.02 L1045.89 410.72 L1046.1 411.42 L1046.37 412.12 L1046.7 412.82 L1047.09 413.52 L1047.51 414.22 L1047.97 414.92 L1048.45 415.63 L1048.94 416.33 L1049.44 417.03 L1049.93 417.73 L1050.39 418.43 L1050.83 419.13 L1051.23 419.83 L1051.58 420.53 L1051.88 421.23 L1052.12 421.94 L1052.36 422.64 L1052.59 423.34 L1052.8 424.04 L1053.01 424.74 L1053.21 425.44 L1053.4 426.14 L1053.58 426.84 L1053.76 427.54 L1053.93 428.25 L1054.09 428.95 L1054.26 429.65 L1054.41 430.35 L1054.57 431.05 L1054.72 431.75 L1054.87 432.45 L1055.02 433.15 L1055.17 433.85 L1055.32 434.56 L1055.47 435.26 L1055.63 435.96 L1055.78 436.66 L1055.94 437.36 L1056.11 438.06 L1056.29 438.76 L1056.48 439.46 L1056.68 440.16 L1056.88 440.86 L1057.09 441.57 L1057.29 442.27 L1057.49 442.97 L1057.69 443.67 L1057.87 444.37 L1058.05 445.07 L1058.21 445.77 L1058.35 446.47 L1058.47 447.17 L1058.57 447.88 L1058.64 448.58 L1058.69 449.28 L1058.7 449.98 L1058.7 450.68 L1058.7 451.38 L1058.7 452.08 L1058.7 452.78 L1058.7 453.48 L1058.7 454.19 L1058.65 454.89 L1058.54 455.59 L1058.39 456.29 L1058.19 456.99 L1057.95 457.69 L1057.68 458.39 L1057.38 459.09 L1057.07 459.79 L1056.74 460.5 L1056.4 461.2 L1056.07 461.9 L1055.74 462.6 L1055.43 463.3 L1055.13 464 L1054.86 464.7 L1054.62 465.4 L1054.42 466.1 L1054.25 466.8 L1054.09 467.51 L1053.92 468.21 L1053.76 468.91 L1053.6 469.61 L1053.45 470.31 L1053.3 471.01 L1053.15 471.71 L1053.01 472.41 L1052.87 473.11 L1052.74 473.82 L1052.61 474.52 L1052.48 475.22 L1052.35 475.92 L1052.24 476.62 L1052.12 477.32 L1052.01 478.02 L1051.9 478.72 L1051.8 479.42 L1051.71 480.13 L1051.61 480.83 L1051.53 481.53 L1051.44 482.23 L1051.36 482.93 L1051.29 483.63 L1051.23 484.33 L1051.16 485.03 L1051.11 485.73 L1051.05 486.44 L1051.01 487.14 L1050.96 487.84 L1050.92 488.54 L1050.88 489.24 L1050.84 489.94 L1050.8 490.64 L1050.76 491.34 L1050.73 492.04 L1050.69 492.74 L1050.65 493.45 L1050.61 494.15 L1050.57 494.85 L1050.53 495.55 L1050.48 496.25 L1050.43 496.95 L1050.38 497.65 L1050.32 498.35 L1050.26 499.05 L1050.19 499.76 L1050.12 500.46 L1050.04 501.16 L1049.96 501.86 L1049.86 502.56 L1049.76 503.26 L1049.58 503.96 L1049.34 504.66 L1049.04 505.36 L1048.69 506.07 L1048.31 506.77 L1047.91 507.47 L1047.49 508.17 L1047.07 508.87 L1046.67 509.57 L1046.28 510.27 L1045.94 510.97 L1045.64 511.67 L1045.39 512.38 L1045.22 513.08 L1045.11 513.78 L1045 514.48 L1044.9 515.18 L1044.81 515.88 L1044.72 516.58 L1044.65 517.28 L1044.57 517.98 L1044.5 518.68 L1044.44 519.39 L1044.38 520.09 L1044.32 520.79 L1044.27 521.49 L1044.21 522.19 L1044.16 522.89 L1044.11 523.59 L1044.05 524.29 L1044 524.99 L1043.95 525.7 L1043.89 526.4 L1043.83 527.1 L1043.77 527.8 L1043.7 528.5 L1043.7 528.5 L1043.63 527.8 L1043.57 527.1 L1043.51 526.4 L1043.45 525.7 L1043.4 524.99 L1043.35 524.29 L1043.29 523.59 L1043.24 522.89 L1043.19 522.19 L1043.13 521.49 L1043.08 520.79 L1043.02 520.09 L1042.96 519.39 L1042.9 518.68 L1042.83 517.98 L1042.75 517.28 L1042.68 516.58 L1042.59 515.88 L1042.5 515.18 L1042.4 514.48 L1042.29 513.78 L1042.18 513.08 L1042.01 512.38 L1041.76 511.67 L1041.46 510.97 L1041.12 510.27 L1040.73 509.57 L1040.33 508.87 L1039.91 508.17 L1039.49 507.47 L1039.09 506.77 L1038.71 506.07 L1038.36 505.36 L1038.06 504.66 L1037.82 503.96 L1037.64 503.26 L1037.54 502.56 L1037.44 501.86 L1037.36 501.16 L1037.28 500.46 L1037.21 499.76 L1037.14 499.05 L1037.08 498.35 L1037.02 497.65 L1036.97 496.95 L1036.92 496.25 L1036.87 495.55 L1036.83 494.85 L1036.79 494.15 L1036.75 493.45 L1036.71 492.74 L1036.67 492.04 L1036.64 491.34 L1036.6 490.64 L1036.56 489.94 L1036.52 489.24 L1036.48 488.54 L1036.44 487.84 L1036.39 487.14 L1036.35 486.44 L1036.29 485.73 L1036.24 485.03 L1036.17 484.33 L1036.11 483.63 L1036.04 482.93 L1035.96 482.23 L1035.87 481.53 L1035.79 480.83 L1035.69 480.13 L1035.6 479.42 L1035.5 478.72 L1035.39 478.02 L1035.28 477.32 L1035.16 476.62 L1035.05 475.92 L1034.92 475.22 L1034.79 474.52 L1034.66 473.82 L1034.53 473.11 L1034.39 472.41 L1034.25 471.71 L1034.1 471.01 L1033.95 470.31 L1033.8 469.61 L1033.64 468.91 L1033.48 468.21 L1033.31 467.51 L1033.15 466.8 L1032.98 466.1 L1032.78 465.4 L1032.54 464.7 L1032.27 464 L1031.97 463.3 L1031.66 462.6 L1031.33 461.9 L1031 461.2 L1030.66 460.5 L1030.33 459.79 L1030.02 459.09 L1029.72 458.39 L1029.45 457.69 L1029.21 456.99 L1029.01 456.29 L1028.86 455.59 L1028.75 454.89 L1028.7 454.19 L1028.7 453.48 L1028.7 452.78 L1028.7 452.08 L1028.7 451.38 L1028.7 450.68 L1028.7 449.98 L1028.71 449.28 L1028.76 448.58 L1028.83 447.88 L1028.93 447.17 L1029.05 446.47 L1029.19 445.77 L1029.35 445.07 L1029.53 444.37 L1029.71 443.67 L1029.91 442.97 L1030.11 442.27 L1030.31 441.57 L1030.52 440.86 L1030.72 440.16 L1030.92 439.46 L1031.11 438.76 L1031.29 438.06 L1031.46 437.36 L1031.62 436.66 L1031.77 435.96 L1031.93 435.26 L1032.08 434.56 L1032.23 433.85 L1032.38 433.15 L1032.53 432.45 L1032.68 431.75 L1032.83 431.05 L1032.99 430.35 L1033.14 429.65 L1033.31 428.95 L1033.47 428.25 L1033.64 427.54 L1033.82 426.84 L1034 426.14 L1034.19 425.44 L1034.39 424.74 L1034.6 424.04 L1034.81 423.34 L1035.04 422.64 L1035.28 421.94 L1035.52 421.23 L1035.82 420.53 L1036.17 419.83 L1036.57 419.13 L1037.01 418.43 L1037.47 417.73 L1037.96 417.03 L1038.46 416.33 L1038.95 415.63 L1039.43 414.92 L1039.89 414.22 L1040.31 413.52 L1040.7 412.82 L1041.03 412.12 L1041.3 411.42 L1041.51 410.72 L1041.69 410.02 L1041.86 409.32 L1042.02 408.62 L1042.17 407.91 L1042.31 407.21 L1042.44 406.51 L1042.56 405.81 L1042.68 405.11 L1042.79 404.41 L1042.9 403.71 L1043.01 403.01 L1043.12 402.31 L1043.23 401.6 L1043.34 400.9 L1043.45 400.2 L1043.57 399.5 L1043.7 398.8 Z" fill="none" stroke="#12BC12" stroke-width="2.3" stroke-linejoin="round"/>
<line x1="1028.7" y1="454" x2="1058.7" y2="454" stroke="#12BC12" stroke-width="1.95"/>
<path d="M15.3 575.2 V592.5 C15.3 598.6 12.6 599.6 10 599.6 C7.2 599.6 5.1 598 5.1 592.3" fill="none" stroke="#000" stroke-width="4.1"/>
<text x="26.06" y="597.7" font-size="18.7" fill="#000" font-weight="bold" stroke="#000" stroke-width="0.3" stroke-linejoin="round" textLength="36.18" lengthAdjust="spacingAndGlyphs">DHB</text>
<text x="26.11" y="683.9" font-size="18.8" fill="#000" font-weight="bold" stroke="#000" stroke-width="0.3" stroke-linejoin="round" textLength="47.91" lengthAdjust="spacingAndGlyphs">Niacin</text>
<text x="333.28" y="592.7" font-size="15" fill="#000" stroke="#000" stroke-width="0.75" stroke-linejoin="round" textLength="145.87" lengthAdjust="spacingAndGlyphs">spontaneous EPSCs</text>
<path d="M23.2 603.56 L24.2 606.88 L25.2 604.59 L26.2 607.11 L27.2 606.05 L28.2 605.33 L29.2 608.01 L30.2 604.94 L31.2 604.31 L32.2 605.96 L33.2 604.97 L34.2 605.11 L35.2 607.48 L36.2 607.09 L37.2 606.28 L38.2 604.73 L39.2 606.25 L40.2 607.87 L41.2 604.49 L42.2 605.66 L43.2 603.86 L44.2 603.35 L45.2 607.39 L46.2 603.8 L47.2 605.01 L48.2 600.34 L49.2 603.32 L50.2 606.26 L51.2 605.16 L52.2 604.5 L53.2 602.8 L54.2 606.2 L55.2 606.39 L56.2 607.44 L57.2 604.37 L58.2 602.69 L59.2 602.68 L60.2 603.37 L61.2 603.29 L62.2 604.97 L63.2 604.94 L64.2 605.87 L65.2 602.88 L66.2 606.94 L67.2 603.03 L68.2 604.3 L69.2 603.68 L70.2 604.82 L71.2 605.76 L72.2 605.13 L73.2 603.04 L74.2 604.01 L75.2 602.97 L76.2 605.43 L77.2 602.25 L78.2 604.29 L79.2 603.25 L80.2 604.25 L81.2 598.83 L82.2 605.57 L83.2 604.65 L84.2 602.89 L85.2 604.4 L86.2 604.54 L87.2 604.35 L88.2 604.21 L89.2 603.52 L90.2 602.67 L91.2 602.74 L92.2 606.28 L93.2 606.39 L94.2 602.69 L95.2 599.13 L96.2 601.62 L97.2 603.57 L98.2 605.36 L99.2 603.71 L100.2 605.42 L101.2 599.11 L102.2 601.52 L103.2 602.82 L104.2 605.91 L105.2 601.35 L106.2 603.14 L107.2 605.66 L108.2 603.22 L109.2 603.32 L110.2 605.39 L111.2 602.91 L112.2 605.78 L113.2 602.32 L114.2 602.64 L115.2 602.2 L116.2 604.65 L117.2 602.18 L118.2 598.22 L119.2 603.51 L120.2 604.24 L121.2 603.76 L122.2 603.47 L123.2 604.24 L124.2 605.1 L125.2 604.49 L126.2 604.57 L127.2 604.89 L128.2 600.96 L129.2 605.41 L130.2 604.62 L131.2 602.78 L132.2 601.16 L133.2 602.41 L134.2 602.12 L135.2 601.36 L136.2 601.21 L137.2 603.33 L138.2 601.29 L139.2 603.51 L140.2 600.8 L141.2 602.03 L142.2 602.33 L143.2 601.73 L144.2 602.24 L145.2 597.38 L146.2 605.05 L147.2 604.65 L148.2 604.48 L149.2 601.91 L150.2 604.5 L151.2 600.14 L152.2 602.89 L153.2 603.28 L154.2 603.31 L155.2 600.79 L156.2 601.13 L157.2 604.72 L158.2 603.51 L159.2 602.74 L160.2 602.2 L161.2 604.62 L162.2 602.82 L163.2 603.71 L164.2 600.64 L165.2 603.23 L166.2 601.18 L167.2 602.01 L168.2 601.69 L169.2 600.35 L170.2 598.07 L171.2 603.15 L172.2 604.16 L173.2 602.42 L174.2 601.96 L175.2 604.27 L176.2 604.34 L177.2 603.98 L178.2 599.9 L179.2 601.06 L180.2 603.06 L181.2 600.84 L182.2 600.25 L183.2 596.9 L184.2 601.33 L185.2 600.04 L186.2 601.4 L187.2 601.57 L188.2 603.8 L189.2 602.8 L190.2 603.48 L191.2 603.48 L192.2 600.57 L193.2 603.9 L194.2 603.66 L195.2 599.2 L196.2 600.98 L197.2 602.27 L198.2 598.16 L199.2 603.76 L200.2 601.7 L201.2 600.97 L202.2 600.72 L203.2 602.51 L204.2 603.49 L205.2 597.72 L206.2 601.24 L207.2 600.38 L208.2 603.53 L209.2 602.67 L210.2 600.57 L211.2 600.74 L212.2 603.78 L213.2 602.18 L214.2 600.08 L215.2 599.37 L216.2 603.6 L217.2 602.6 L218.2 595.98 L219.2 600.5 L220.2 601.32 L221.2 603.12 L222.2 602.65 L223.2 596.89 L224.2 603.89 L225.2 599.75 L226.2 600.08 L227.2 603.8 L228.2 596.8 L229.2 600.5 L230.2 600.86 L231.2 602.05 L232.2 597.26 L233.2 602.03 L234.2 602.47 L235.2 601.56 L236.2 596.81 L237.2 602.25 L238.2 599.69 L239.2 599.3 L240.2 599.71 L241.2 598.99 L242.2 602.68 L243.2 600.57 L244.2 598.85 L245.2 602.51 L246.2 603.48 L247.2 603.18 L248.2 601.37 L249.2 599.93 L250.2 601.7 L251.2 599.96 L252.2 598.34 L253.2 599.01 L254.2 601.54 L255.2 602.38 L256.2 598.71 L257.2 600.02 L258.2 603.22 L259.2 599.95 L260.2 599.33 L261.2 602.44 L262.2 599.29 L263.2 598.67 L264.2 599.96 L265.2 600.36 L266.2 600.94 L267.2 600.36 L268.2 600.12 L269.2 603.42 L270.2 600.64 L271.2 598.51 L272.2 602.6 L273.2 603.4 L274.2 601.12 L275.2 603.48 L276.2 603.02 L277.2 600.64 L278.2 602.4 L279.2 599.25 L280.2 601.16 L281.2 597.3 L282.2 601.28 L283.2 602.87 L284.2 603.26 L285.2 601.51 L286.2 601.26 L287.2 603.12 L288.2 598.93 L289.2 602.69 L290.2 602.1 L291.2 600.48 L292.2 603.51 L293.2 599.16 L294.2 599 L295.2 601.74 L296.2 599.25 L297.2 601.52 L298.2 601.6 L299.2 601.32 L300.2 599.82 L301.2 600.62 L302.2 603.56 L303.2 603.52 L304.2 600.74 L305.2 600.68 L306.2 600.2 L307.2 600.37 L308.2 600.74 L309.2 602.15 L310.2 602.08 L311.2 601.46 L312.2 600.54 L313.2 597.92 L314.2 600.87 L315.2 601.68 L316.2 599.64 L317.2 600.01 L318.2 600.38 L319.2 603.36 L320.2 600.16 L321.2 602.22 L322.2 599.66 L323.2 601.1 L324.2 602.64 L325.2 603.58 L326.2 598.79 L327.2 600.7 L328.2 603 L329.2 600.34 L330.2 601.19 L331.2 600.83 L332.2 601.59 L333.2 598.8 L334.2 601.17 L335.2 598.92 L336.2 601.97 L337.2 602.95 L338.2 600.86 L339.2 603.46 L340.2 596.12 L341.2 599.24 L342.2 602.63 L343.2 600.8 L344.2 599.71 L345.2 600.72 L346.2 601.29 L347.2 599.53 L348.2 600.19 L349.2 597.5 L350.2 599.98 L351.2 599.62 L352.2 599.46 L353.2 598.91 L354.2 599.21 L355.2 600.38 L356.2 599.41 L357.2 603.35 L358.2 603.43 L359.2 603.78 L360.2 601.97 L361.2 602.34 L362.2 599.84 L363.2 602.34 L364.2 601.28 L365.2 602.66 L366.2 603.19 L367.2 601.05 L368.2 602.37 L369.2 603.95 L370.2 603.06 L371.2 603.06 L372.2 603.42 L373.2 603.19 L374.2 600.11 L375.2 600.44 L376.2 599.88 L377.2 599.78 L378.2 601.25 L379.2 599.14 L380.2 602.66 L381.2 600.6 L382.2 599.51 L383.2 602.63 L384.2 601.62 L385.2 602.78 L386.2 601.86 L387.2 596.27 L388.2 599.53 L389.2 602.94 L390.2 601.26 L391.2 600.55 L392.2 599.69 L393.2 600.96 L394.2 602.49 L395.2 600.81 L396.2 600.26 L397.2 604.13 L398.2 601.4 L399.2 601.61 L400.2 600.07 L401.2 601.85 L402.2 600.75 L403.2 601.2 L404.2 600.29 L405.2 603.04 L406.2 602.33 L407.2 598.85 L408.2 602.52 L409.2 602.29 L410.2 602.82 L411.2 600.39 L412.2 603.7 L413.2 601.54 L414.2 600.49 L415.2 604.27 L416.2 599.8 L417.2 600.52 L418.2 602.31 L419.2 601.2 L420.2 603.13 L421.2 603.08 L422.2 601 L423.2 601.47 L424.2 599.83 L425.2 603.18 L426.2 599.44 L427.2 599.89 L428.2 600 L429.2 602.75 L430.2 601.19 L431.2 602.62 L432.2 601.73 L433.2 601.37 L434.2 604.04 L435.2 603.49 L436.2 600.92 L437.2 600.88 L438.2 604.12 L439.2 604.73 L440.2 602.07 L441.2 602.55 L442.2 602.38 L443.2 603.44 L444.2 604.36 L445.2 602.01 L446.2 600.53 L447.2 602.06 L448.2 600.7 L449.2 604.84 L450.2 600.53 L451.2 604.36 L452.2 601.2 L453.2 601.48 L454.2 604.5 L455.2 602.48 L456.2 604.22 L457.2 604.7 L458.2 603.22 L459.2 604.35 L460.2 602.51 L461.2 600.74 L462.2 603.98 L463.2 602.98 L464.2 603.53 L465.2 604 L466.2 601.2 L467.2 601.85 L468.2 603.55 L469.2 601.41 L470.2 601.28 L471.2 603.5 L472.2 602.75 L473.2 604.75 L474.2 598.34 L475.2 598.51 L476.2 601.54 L477.2 601.93 L478.2 602.08 L478.2 621.58 L477.2 618.04 L476.2 621.07 L475.2 622.4 L474.2 620.95 L473.2 617.96 L472.2 618.13 L471.2 621.81 L470.2 622.15 L469.2 621.59 L468.2 618.32 L467.2 617.84 L466.2 621.92 L465.2 622.11 L464.2 621.7 L463.2 621.5 L462.2 618.92 L461.2 621.81 L460.2 617.39 L459.2 621.04 L458.2 618.14 L457.2 620.67 L456.2 621.7 L455.2 619.33 L454.2 618.55 L453.2 619.15 L452.2 620.36 L451.2 621.51 L450.2 620.86 L449.2 620.96 L448.2 621.49 L447.2 621.89 L446.2 618.42 L445.2 619.03 L444.2 621.15 L443.2 617.68 L442.2 617.34 L441.2 620.05 L440.2 620.16 L439.2 621.42 L438.2 620.68 L437.2 621.52 L436.2 617.43 L435.2 620.34 L434.2 619.53 L433.2 618.68 L432.2 619.95 L431.2 617.48 L430.2 618.16 L429.2 618.22 L428.2 620.38 L427.2 617.14 L426.2 621.49 L425.2 621.46 L424.2 618.64 L423.2 619.17 L422.2 618.35 L421.2 620.7 L420.2 619.65 L419.2 621.35 L418.2 617.25 L417.2 619.28 L416.2 617.64 L415.2 619.25 L414.2 617.2 L413.2 619.28 L412.2 618.28 L411.2 621.55 L410.2 620.94 L409.2 619.64 L408.2 621.65 L407.2 618.66 L406.2 617.7 L405.2 619.86 L404.2 619.73 L403.2 618.86 L402.2 621.23 L401.2 616.94 L400.2 619.97 L399.2 620.09 L398.2 618.51 L397.2 620.83 L396.2 617.39 L395.2 616.67 L394.2 618.66 L393.2 617.2 L392.2 620.24 L391.2 618.35 L390.2 618.3 L389.2 617.01 L388.2 619.79 L387.2 616.74 L386.2 621.27 L385.2 617.55 L384.2 620.4 L383.2 616.93 L382.2 616.89 L381.2 620.48 L380.2 618.55 L379.2 621.27 L378.2 616.55 L377.2 620.51 L376.2 618.18 L375.2 617.07 L374.2 619.28 L373.2 619.88 L372.2 617.95 L371.2 618.57 L370.2 617.84 L369.2 617.02 L368.2 621.18 L367.2 616.83 L366.2 617.63 L365.2 617.12 L364.2 618.51 L363.2 619.85 L362.2 618.02 L361.2 618.8 L360.2 619.77 L359.2 620.09 L358.2 620.97 L357.2 618.53 L356.2 620.12 L355.2 617 L354.2 619.64 L353.2 620.86 L352.2 621.07 L351.2 616.88 L350.2 619.78 L349.2 617.19 L348.2 619.2 L347.2 616.36 L346.2 618.82 L345.2 620.67 L344.2 618.47 L343.2 617.91 L342.2 618.75 L341.2 617.78 L340.2 618.58 L339.2 620 L338.2 616.55 L337.2 619.42 L336.2 616.92 L335.2 617.42 L334.2 620.9 L333.2 619.69 L332.2 620.82 L331.2 617.93 L330.2 620.25 L329.2 620.68 L328.2 617.11 L327.2 616.19 L326.2 620.17 L325.2 616.75 L324.2 616.23 L323.2 616.34 L322.2 620.02 L321.2 616.74 L320.2 619.29 L319.2 621.05 L318.2 618.49 L317.2 620.57 L316.2 617.41 L315.2 616.88 L314.2 620.75 L313.2 617.75 L312.2 619.44 L311.2 617.16 L310.2 620.18 L309.2 618 L308.2 621.08 L307.2 619.12 L306.2 618.18 L305.2 617.74 L304.2 620.38 L303.2 620.35 L302.2 619.59 L301.2 617.56 L300.2 620.65 L299.2 620.46 L298.2 616.19 L297.2 618.11 L296.2 618.32 L295.2 620.78 L294.2 617.06 L293.2 619.05 L292.2 617.82 L291.2 619.47 L290.2 617.99 L289.2 619.72 L288.2 617.09 L287.2 618 L286.2 620.15 L285.2 616.53 L284.2 620.95 L283.2 618.54 L282.2 618.66 L281.2 620.19 L280.2 618.63 L279.2 617.58 L278.2 620.3 L277.2 617.24 L276.2 616.28 L275.2 618.39 L274.2 617.17 L273.2 617.84 L272.2 620.57 L271.2 619.39 L270.2 619.58 L269.2 620.92 L268.2 617.47 L267.2 621.04 L266.2 620.77 L265.2 616.31 L264.2 620.64 L263.2 617.95 L262.2 619.14 L261.2 616.75 L260.2 620.95 L259.2 618.52 L258.2 618.37 L257.2 618.02 L256.2 620.72 L255.2 619.65 L254.2 616.32 L253.2 617.87 L252.2 617.45 L251.2 620.54 L250.2 620.63 L249.2 619.9 L248.2 621.08 L247.2 616.78 L246.2 620.84 L245.2 620.27 L244.2 620.75 L243.2 619.41 L242.2 618.54 L241.2 620.99 L240.2 618.52 L239.2 616.26 L238.2 618.66 L237.2 620.71 L236.2 620.25 L235.2 619.15 L234.2 620.42 L233.2 618.36 L232.2 619.34 L231.2 617.16 L230.2 619.78 L229.2 620.39 L228.2 620.26 L227.2 617.46 L226.2 618.29 L225.2 618.93 L224.2 617.59 L223.2 619.07 L222.2 616.64 L221.2 620.37 L220.2 619.94 L219.2 619.76 L218.2 619.16 L217.2 619.76 L216.2 621.01 L215.2 617.8 L214.2 619.08 L213.2 619.09 L212.2 619.23 L211.2 617.58 L210.2 619.96 L209.2 616.5 L208.2 619.1 L207.2 620.3 L206.2 619.85 L205.2 619.48 L204.2 617.39 L203.2 617.79 L202.2 620.76 L201.2 617.3 L200.2 617.37 L199.2 617.63 L198.2 618.19 L197.2 618.16 L196.2 619.71 L195.2 617.68 L194.2 618.38 L193.2 619.45 L192.2 616.72 L191.2 619.47 L190.2 619.94 L189.2 619.08 L188.2 618.83 L187.2 619.18 L186.2 617.32 L185.2 620.59 L184.2 617.96 L183.2 617.19 L182.2 619.33 L181.2 619.37 L180.2 618.46 L179.2 617.83 L178.2 619.01 L177.2 617.85 L176.2 618.46 L175.2 618.3 L174.2 620.48 L173.2 621.39 L172.2 618.96 L171.2 617.16 L170.2 621.35 L169.2 619.68 L168.2 621.47 L167.2 619.71 L166.2 618.1 L165.2 621.43 L164.2 617.93 L163.2 619.48 L162.2 620.15 L161.2 617.16 L160.2 620.8 L159.2 617 L158.2 618.96 L157.2 619.14 L156.2 620.13 L155.2 618.66 L154.2 618.57 L153.2 621.43 L152.2 620.33 L151.2 621.5 L150.2 618.21 L149.2 620.5 L148.2 621.54 L147.2 618.18 L146.2 620.47 L145.2 617.68 L144.2 617.78 L143.2 617.31 L142.2 617.26 L141.2 617.38 L140.2 621.27 L139.2 617.89 L138.2 621.54 L137.2 621.36 L136.2 620.77 L135.2 621.38 L134.2 620.43 L133.2 621.24 L132.2 618.92 L131.2 619.46 L130.2 617.88 L129.2 619.85 L128.2 617.94 L127.2 618.51 L126.2 619.94 L125.2 619.97 L124.2 620.22 L123.2 621.52 L122.2 617.89 L121.2 621.53 L120.2 617.63 L119.2 619.09 L118.2 621.34 L117.2 619.52 L116.2 621.31 L115.2 618.24 L114.2 618.54 L113.2 620.77 L112.2 619 L111.2 619.16 L110.2 618.09 L109.2 620.41 L108.2 621.42 L107.2 622.07 L106.2 621.21 L105.2 619.8 L104.2 621.76 L103.2 619.67 L102.2 622.15 L101.2 621.91 L100.2 619.32 L99.2 622.15 L98.2 620.06 L97.2 617.79 L96.2 620.39 L95.2 619.27 L94.2 622.72 L93.2 618.05 L92.2 619.38 L91.2 618.02 L90.2 621.91 L89.2 620.58 L88.2 619.37 L87.2 621.21 L86.2 619.73 L85.2 618.36 L84.2 622.13 L83.2 621.8 L82.2 622.49 L81.2 619.85 L80.2 620.33 L79.2 618.15 L78.2 622.68 L77.2 621.14 L76.2 621.89 L75.2 619.78 L74.2 619.99 L73.2 619.91 L72.2 619.4 L71.2 618.29 L70.2 622.03 L69.2 621.71 L68.2 620.08 L67.2 618.79 L66.2 621.11 L65.2 621.95 L64.2 618.91 L63.2 620.57 L62.2 620.29 L61.2 621.77 L60.2 619.81 L59.2 619.37 L58.2 622.68 L57.2 619.25 L56.2 618.45 L55.2 622.24 L54.2 623.29 L53.2 619.13 L52.2 621.64 L51.2 619.87 L50.2 620.88 L49.2 620.19 L48.2 623.45 L47.2 621.36 L46.2 622.57 L45.2 623.55 L44.2 620.6 L43.2 621.63 L42.2 619.11 L41.2 621.78 L40.2 622.63 L39.2 623.51 L38.2 620.7 L37.2 618.94 L36.2 619.73 L35.2 619.87 L34.2 622.47 L33.2 622.99 L32.2 623.02 L31.2 621.77 L30.2 623.64 L29.2 619.88 L28.2 619.01 L27.2 620.99 L26.2 619.62 L25.2 619.7 L24.2 619.54 L23.2 620.96 Z" fill="#FF6400" stroke="#FF6400" stroke-width="0.6"/>
<path d="M426.66 618.46 V649.92 M126.53 618.72 V623.21 M139.32 618.54 V642.61 M75.24 619.55 V630.39 M161.22 618.26 V641.37 M61.77 619.79 V639.14 M115.68 618.88 V634.24 M390.32 618.11 V632.9 M465.12 618.86 V635.41 M285.68 617.56 V654.95 M455.25 618.76 V630.61 M266.63 617.56 V625.76 M248.69 617.6 V630.46 M111.02 618.96 V640.02 M59.72 619.83 V637.69 M247.54 617.61 V629.6 M475.64 618.97 V655.87 M388.06 618.09 V633.33 M127.72 618.7 V653.01 M204.57 617.84 V633.74 M243.1 617.62 V636.34 M464.45 618.85 V643.04 M363.62 617.89 V643.48 M391.71 618.12 V631.33 M297.69 617.58 V627.61 M263.2 617.57 V631.83 M298.95 617.58 V635.03 M234.12 617.66 V636.96 M93.06 619.25 V624.77 M190.1 617.96 V625.48 M457.55 618.78 V631.4 M37.94 620.22 V648.04 M220.59 617.73 V638.93 M436.26 618.56 V651.17 M85.94 619.37 V625.06 M313.05 617.62 V642.4 M283.1 617.56 V634.57 M366.52 617.92 V649.85 M297.55 617.58 V627.68 M423.98 618.43 V624.58 M252.69 617.59 V627.4 M455.73 618.76 V641.36 M400.28 618.2 V638.67 M103.29 619.08 V632.13 M356.19 617.84 V641.28 M322.74 617.65 V637.23 M275.87 617.56 V654.68 M314.26 617.62 V641.62 M188.93 617.97 V648.44 M368.22 617.93 V629.75 M189.29 617.97 V624.97 M374.86 617.98 V638.51 M118.82 618.84 V630.28 M53.44 619.94 V632.18 M238.93 617.64 V631.94 M25.12 620.46 V636.15 M476.13 618.98 V624.38 M161.83 618.25 V633.96 M26.28 620.44 V654.45 M360.09 617.87 V631.39 M406.29 618.26 V632.44 M454.04 618.75 V641.59 M294.05 617.57 V629.6 M457.33 618.78 V645.59 M463.19 618.84 V641.6 M175.76 618.1 V636.23 M367.75 617.92 V637.84 M223.38 617.71 V627.59 M197.41 617.9 V635.83 M225.78 617.7 V630.85 M421.08 618.4 V634.87 M458.5 618.79 V656.27 M239.02 617.64 V627.73 M152.08 618.37 V645.36 M169.46 618.17 V627.45 M111.21 618.95 V649.38 M450.1 618.7 V646.04 M355.21 617.83 V636.36 M232.77 617.66 V644.21 M64.33 619.74 V644.46 M156.87 618.31 V654.46 M405.95 618.26 V624.93 M414.91 618.34 V634.27 M192.01 617.94 V636.72 M232.45 617.66 V628.86 M466.73 618.88 V630.48 M454.73 618.75 V656.18 M400.96 618.21 V636.54 M92.41 619.26 V647.23 M412.5 618.32 V642.99 M341.76 617.75 V644.84 M44.89 620.1 V642.78 M135.22 618.6 V630.74 M403.81 618.24 V643.82 M386 618.07 V641.79 M303.83 617.59 V627.58 M439.96 618.6 V639.35 M236.88 617.64 V633.23 M408.08 618.28 V631.35 M297.25 617.58 V653.7 M85.38 619.38 V649.53 M386.84 618.08 V629.65 M381.28 618.03 V641.27 M65.71 619.72 V639.17 M325.97 617.67 V629.24 M326.59 617.67 V627.38 M63.02 619.77 V632.44 M246.21 617.61 V630.44 M368.62 617.93 V637.78 M459.07 618.8 V627.53 M227.99 617.69 V632.39 M291.32 617.57 V632.26 M380.17 618.02 V636.06 M403.45 618.23 V624.43 M423.27 618.43 V645.79 M25.9 620.45 V629.07 M121.47 618.8 V637.83 M242.76 617.62 V629.75 M149.03 618.41 V635.96 M188.31 617.98 V643.96 M196.61 617.9 V631.84 M286.81 617.56 V633.19 M230.37 617.67 V639.42 M88.25 619.33 V631.27 M121.99 618.79 V643.25 M62.6 619.78 V637.52 M106.91 619.02 V643.93 M112.68 618.93 V631.18 M364.72 617.9 V632.65 M307.22 617.6 V649.35 M452.06 618.72 V632.76 M240.34 617.63 V629.91 M108.98 618.99 V629.4 M329.13 617.68 V628.81 M343.06 617.76 V636.68 M457.45 618.78 V631.18 M374.17 617.97 V631.65 M440.58 618.6 V632.82 M333.2 617.7 V637.55 M189.06 617.97 V640.98 M55.1 619.91 V639.11 M275.27 617.56 V633.11 M237.84 617.64 V631.28 M205.72 617.83 V648.01 M69.28 619.66 V632.91 M412.67 618.32 V623.49 M253.46 617.59 V639.02 M449.15 618.69 V624.49 M471.34 618.93 V643.23 M416.35 618.36 V631.91 M340.54 617.74 V631.59 M290.63 617.57 V622.21 M477.62 618.99 V632.63 M192.85 617.93 V633.33 M292.59 617.57 V629.5 M429.97 618.49 V624.67 M27.9 620.41 V632.9 M374.74 617.98 V625.92 M272.91 617.56 V633.13 M189.71 617.96 V637.44 M424.75 618.44 V630.85 M295.25 617.57 V628.43 M219.11 617.74 V644.43 M388.15 618.09 V631.18 M282.4 617.56 V643.27 M252.97 617.59 V641.16 M241.27 617.63 V636.47 M86 619.37 V630.53 M453.2 618.74 V633.12 M310.18 617.61 V624.45 M230.23 617.68 V632.29 M172.68 618.13 V633.12 M230.29 617.68 V651.42 M314.44 617.62 V622.38 M36.83 620.24 V633.87 M362.25 617.88 V622.75 M113.9 618.91 V643.27 M251.64 617.59 V631.59 M40.2 620.18 V638.51 M325.15 617.66 V626.54 M179.55 618.06 V642.95 M35.68 620.27 V639.6 M115.59 618.89 V641.69 M361.65 617.88 V631.72 M284.06 617.56 V623.46 M463.95 618.85 V632.38 M246.2 617.61 V628.35 M123.29 618.77 V635.48 M313.14 617.62 V621.69 M220.07 617.73 V632.79 M60.5 619.81 V639.38 M159.8 618.28 V631.16 M228.23 617.69 V632.33 M241.47 617.63 V625.36 M459.1 618.8 V636.24 M320.73 617.65 V630.49 M345.12 617.77 V629.83 M453.04 618.73 V637.6 M169.88 618.16 V632.29 M363.26 617.89 V625.32 M239.42 617.63 V627.89 M360.68 617.87 V630.67 M448.57 618.69 V634.65 M268.79 617.56 V648.11 M276.93 617.56 V626.77 M134.22 618.61 V641.98 M434.71 618.54 V645.68 M65.85 619.72 V626.59 M349.03 617.79 V633.76 M189.02 617.97 V631.73 M409.08 618.29 V633.28 M182.04 618.04 V652.31 M411.24 618.31 V629.11 M339.95 617.74 V631.05 M170.22 618.16 V624.27 M81.08 619.45 V633.38 M467.81 618.89 V632 M332.2 617.7 V629.44 M172.04 618.14 V623.15 M44.55 620.1 V634.7 M369.71 617.94 V629.21 M130.73 618.66 V634.16 M252.33 617.59 V650.85 M348.47 617.79 V631.64 M381.67 618.04 V643.23 M207.86 617.81 V652.78 M129.25 618.68 V627.48 M442.57 618.62 V633.57 M163.9 618.23 V650.07 M184.97 618.01 V637.91 M178.54 618.07 V632.98 M141.25 618.51 V630.02 M339.83 617.74 V633.52 M295.23 617.57 V631.84 M100.45 619.12 V648.83 M416.13 618.35 V625.07 M262.8 617.57 V629.31 M159.56 618.28 V645.75 M378.5 618.01 V643.83 M373.96 617.97 V628.89 M280.34 617.56 V635.19 M321.43 617.65 V629.21 M421.51 618.41 V633.4 M286.08 617.56 V633.24 M156.64 618.32 V651.47 M331.38 617.69 V634.44 M184.81 618.01 V646.42 M422.61 618.42 V644.64 M407.28 618.27 V629.65 M85.14 619.38 V645.89 M41.88 620.15 V632.25 M329.34 617.68 V636.73 M475.82 618.97 V632.95 M66.04 619.71 V643.28 M382.4 618.04 V626.59 M208.22 617.81 V630.76 M143.14 618.49 V628.41 M431.25 618.51 V639.55 M111.6 618.95 V643.57 M42.13 620.15 V640.91 M454.38 618.75 V632.58 M130.98 618.66 V623.63 M213.78 617.77 V633.06 M408.21 618.28 V634.23 M348.33 617.79 V650.47 M392.83 618.13 V639.39 M473.95 618.95 V644.71 M232.75 617.66 V635.7 M164.71 618.22 V628.55 M174.92 618.11 V628.35 M397.86 618.18 V634.07 M55.61 619.9 V645.85 M229.75 617.68 V626.42 M293.4 617.57 V645.21 M444.59 618.65 V627.97 M393.83 618.14 V622.83 M297.33 617.58 V641.01 M249.24 617.6 V632.3 M64.63 619.74 V640.09 M287.92 617.56 V642.33 M287.14 617.56 V636.3 M29.5 620.38 V644.62 M261.43 617.57 V650.83 M80.88 619.45 V627.68 M258.06 617.58 V644.74 M279.05 617.56 V646.15 M428.65 618.48 V644.36 M165.9 618.21 V635.96 M329.59 617.68 V628.87 M384.82 618.06 V632.44 M339.12 617.73 V654.18 M240.32 617.63 V624.96 M338.38 617.73 V643.63 M237.96 617.64 V642.98 M53.65 619.94 V625.98 M72.92 619.59 V631.98 M424.13 618.44 V625.98 M461.41 618.82 V627.85 M96.36 619.19 V634.18 M96.3 619.19 V640.68 M70.98 619.63 V628.62 M454.76 618.75 V638.71 M345.03 617.77 V644.8 M121.89 618.79 V629.75 M286.17 617.56 V623.49 M353.44 617.82 V643.08 M208.47 617.81 V637.56 M169.62 618.17 V640.87 M301.13 617.58 V647.89 M127.8 618.7 V628.36 M393.3 618.14 V628.5 M464.07 618.85 V629.93 M388.43 618.09 V627.01 M132.69 618.63 V656.18 M468.13 618.89 V642.35 M380.82 618.03 V645.09 M386.6 618.08 V644.2 M304.86 617.59 V622.48 M137.52 618.57 V638.04 M369.64 617.94 V641.9 M455.7 618.76 V651.25 M226.8 617.69 V648.02 M299.15 617.58 V631.65 M475.23 618.97 V630.6 M114.76 618.9 V636.3 M52.66 619.95 V640.63 M266.14 617.56 V640.25 M113.86 618.91 V629.11 M129.89 618.67 V645.45 M203.44 617.85 V622.77 M413.23 618.33 V649.8 M192.57 617.94 V641.84 M164.93 618.22 V640.71 M181.16 618.04 V631.69 M319.16 617.64 V640.97 M185.44 618 V643.33 M459.94 618.81 V627.85 M181.9 618.04 V623.58 M77.41 619.51 V626.85 M205.98 617.83 V641.86 M106.7 619.02 V682 M151.4 618.38 V671 M154.3 618.35 V671 M224 617.71 V696.7 M383.4 618.05 V688 M45 620.09 V660 M70 619.64 V655 M172 618.14 V652 M203 617.85 V657 M250 617.6 V650" fill="none" stroke="#FF6400" stroke-width="1.6"/>
<path d="M23.2 691.89 L24.2 695.99 L25.2 691.98 L26.2 694.09 L27.2 690.32 L28.2 689.09 L29.2 695.66 L30.2 689.45 L31.2 696.32 L32.2 688.53 L33.2 693.18 L34.2 696.05 L35.2 695.09 L36.2 695.25 L37.2 693.03 L38.2 696.31 L39.2 693.75 L40.2 691.87 L41.2 691.66 L42.2 693.27 L43.2 691.37 L44.2 696.09 L45.2 695.64 L46.2 693.86 L47.2 694.92 L48.2 693.85 L49.2 694.52 L50.2 688.29 L51.2 694.24 L52.2 692.85 L53.2 690.54 L54.2 692.08 L55.2 694.81 L56.2 695.13 L57.2 695.76 L58.2 691.39 L59.2 691.23 L60.2 694.58 L61.2 691.77 L62.2 696.09 L63.2 693.43 L64.2 695.32 L65.2 688.81 L66.2 693.67 L67.2 691.91 L68.2 696.1 L69.2 692.05 L70.2 692.36 L71.2 693.65 L72.2 694.21 L73.2 693.65 L74.2 691.53 L75.2 692.97 L76.2 693.67 L77.2 692.1 L78.2 693.01 L79.2 692.66 L80.2 692.39 L81.2 693.4 L82.2 693.68 L83.2 692.29 L84.2 695.99 L85.2 693.24 L86.2 690.1 L87.2 694.98 L88.2 691.35 L89.2 693.59 L90.2 691.05 L91.2 692.92 L92.2 694.54 L93.2 691.46 L94.2 694.86 L95.2 693.93 L96.2 690.99 L97.2 691.27 L98.2 692.31 L99.2 694.3 L100.2 691.28 L101.2 692.96 L102.2 694 L103.2 695.12 L104.2 691.68 L105.2 695.83 L106.2 691.48 L107.2 695.78 L108.2 693.02 L109.2 691.4 L110.2 692.14 L111.2 695.06 L112.2 693.56 L113.2 692.83 L114.2 691.88 L115.2 691.75 L116.2 691.95 L117.2 690.55 L118.2 694.23 L119.2 690.88 L120.2 691.23 L121.2 691.03 L122.2 694.22 L123.2 695.42 L124.2 694.52 L125.2 692.31 L126.2 694.19 L127.2 688.08 L128.2 691.9 L129.2 692.65 L130.2 687.86 L131.2 690.66 L132.2 688.58 L133.2 691.06 L134.2 691.78 L135.2 688.64 L136.2 694.86 L137.2 692.75 L138.2 692.78 L139.2 691.57 L140.2 693.85 L141.2 691.29 L142.2 695.36 L143.2 691.28 L144.2 692.09 L145.2 691.75 L146.2 693.67 L147.2 692.85 L148.2 689.46 L149.2 693.17 L150.2 693.4 L151.2 693.28 L152.2 690.58 L153.2 692.57 L154.2 692.44 L155.2 691.91 L156.2 690.08 L157.2 694.95 L158.2 694.45 L159.2 693.47 L160.2 694.25 L161.2 691.48 L162.2 694.88 L163.2 693.89 L164.2 694.94 L165.2 691.23 L166.2 693.14 L167.2 690.8 L168.2 693.86 L169.2 692.91 L170.2 692.76 L171.2 691.76 L172.2 690.38 L173.2 692.81 L174.2 692.44 L175.2 688.95 L176.2 693.48 L177.2 692.61 L178.2 695.15 L179.2 694.28 L180.2 694.46 L181.2 694.06 L182.2 694.77 L183.2 692.41 L184.2 693.74 L185.2 692 L186.2 691.81 L187.2 694.44 L188.2 692.25 L189.2 691.68 L190.2 692.3 L191.2 694.81 L192.2 691.55 L193.2 693.1 L194.2 695.06 L195.2 695.1 L196.2 693.48 L197.2 692.06 L198.2 694.03 L199.2 693.47 L200.2 691.65 L201.2 689.12 L202.2 690.45 L203.2 693.59 L204.2 694.84 L205.2 692.67 L206.2 691.48 L207.2 694.75 L208.2 693.08 L209.2 690.72 L210.2 692.12 L211.2 690.48 L212.2 690.73 L213.2 693.09 L214.2 688.05 L215.2 694.27 L216.2 693.77 L217.2 692.42 L218.2 693.2 L219.2 694.51 L220.2 691.73 L221.2 691.79 L222.2 693.9 L223.2 690.79 L224.2 691.7 L225.2 694.14 L226.2 690.28 L227.2 691.27 L228.2 691.93 L229.2 693.3 L230.2 694.48 L231.2 690.18 L232.2 690.4 L233.2 691.95 L234.2 692.85 L235.2 691.12 L236.2 691.45 L237.2 693.53 L238.2 694.43 L239.2 693.17 L240.2 692.92 L241.2 691.23 L242.2 690.29 L243.2 691.76 L244.2 690.52 L245.2 690.52 L246.2 691.54 L247.2 692.95 L248.2 693.45 L249.2 694.35 L250.2 690.26 L251.2 692.88 L252.2 693.75 L253.2 693.73 L254.2 694 L255.2 691.58 L256.2 690.56 L257.2 691.38 L258.2 689.66 L259.2 689.67 L260.2 691.31 L261.2 693.63 L262.2 692.95 L263.2 691.47 L264.2 689.97 L265.2 689.67 L266.2 692.5 L267.2 691.54 L268.2 690.18 L269.2 692.23 L270.2 690.73 L271.2 693.81 L272.2 691.22 L273.2 692.59 L274.2 693.78 L275.2 691.31 L276.2 691.61 L277.2 693.49 L278.2 691.69 L279.2 688.8 L280.2 690.54 L281.2 689.84 L282.2 689.44 L283.2 690.98 L284.2 693.71 L285.2 693.28 L286.2 693.89 L287.2 691.36 L288.2 692.77 L289.2 692.29 L290.2 694.34 L291.2 691.26 L292.2 693.23 L293.2 692.96 L294.2 691.31 L295.2 693.11 L296.2 693.51 L297.2 693.73 L298.2 692.75 L299.2 694.1 L300.2 690.74 L301.2 694.25 L302.2 693.13 L303.2 694.22 L304.2 691.62 L305.2 692.55 L306.2 692.85 L307.2 690.48 L308.2 689.63 L309.2 693.66 L310.2 690.14 L311.2 688.23 L312.2 691.11 L313.2 693.56 L314.2 691.24 L315.2 690.82 L316.2 689.83 L317.2 689.16 L318.2 692.94 L319.2 689.75 L320.2 689.97 L321.2 693.19 L322.2 687.41 L323.2 690.86 L324.2 689.71 L325.2 692.2 L326.2 693.79 L327.2 689.74 L328.2 691.23 L329.2 686.1 L330.2 691.57 L331.2 692.58 L332.2 687.72 L333.2 689.26 L334.2 690.18 L335.2 692.75 L336.2 689.09 L337.2 691.97 L338.2 689.6 L339.2 692.68 L340.2 690.47 L341.2 692.48 L342.2 692.08 L343.2 691.78 L344.2 692.34 L345.2 689.87 L346.2 689.72 L347.2 692.82 L348.2 693.82 L349.2 693.42 L350.2 692.24 L351.2 688.62 L352.2 691.22 L353.2 691.06 L354.2 690.94 L355.2 692.99 L356.2 688.84 L357.2 692.87 L358.2 691.17 L359.2 687.83 L360.2 689.74 L361.2 689.02 L362.2 687.93 L363.2 689.23 L364.2 689.06 L365.2 690.34 L366.2 690.5 L367.2 691.02 L368.2 691.78 L369.2 689.89 L370.2 689.88 L371.2 691.63 L372.2 689.89 L373.2 691.84 L374.2 690.34 L375.2 691.34 L376.2 690.15 L377.2 693.08 L378.2 688.73 L379.2 691.29 L380.2 689.45 L381.2 689.47 L382.2 692.82 L383.2 692.19 L384.2 689.15 L385.2 691.53 L386.2 689.32 L387.2 689.48 L388.2 691.19 L389.2 688.94 L390.2 688.95 L391.2 691.94 L392.2 692.1 L393.2 689.26 L394.2 693.37 L395.2 691.81 L396.2 691.25 L397.2 692.31 L398.2 690.97 L399.2 690.9 L400.2 689.22 L401.2 686.29 L402.2 688.94 L403.2 691.68 L404.2 689.6 L405.2 686.58 L406.2 692.77 L407.2 690.35 L408.2 690.91 L409.2 690.35 L410.2 689.92 L411.2 689.71 L412.2 692.57 L413.2 689.34 L414.2 691.1 L415.2 688.37 L416.2 692.42 L417.2 689.64 L418.2 686.4 L419.2 692.75 L420.2 688.35 L421.2 690.01 L422.2 691.98 L423.2 692.01 L424.2 691.83 L425.2 689.16 L426.2 689.01 L427.2 689.67 L428.2 692.67 L429.2 691.55 L430.2 689 L431.2 692.27 L432.2 691.85 L433.2 690.68 L434.2 688.39 L435.2 692.57 L436.2 691.75 L437.2 691.14 L438.2 692.67 L439.2 689.7 L440.2 691.56 L441.2 692.02 L442.2 691.27 L443.2 691.87 L444.2 687.33 L445.2 689.63 L446.2 690.43 L447.2 692.6 L448.2 691.83 L449.2 688.8 L450.2 692.46 L451.2 692.09 L452.2 691.57 L453.2 691.17 L454.2 688.99 L455.2 690.57 L456.2 691.74 L457.2 689.34 L458.2 690.65 L459.2 691.76 L460.2 691.06 L461.2 691.15 L462.2 688.4 L463.2 689.85 L464.2 688.53 L465.2 692.64 L466.2 688.28 L467.2 692.45 L468.2 692.37 L469.2 690.07 L470.2 689.95 L471.2 688.97 L472.2 692.12 L473.2 690.66 L474.2 686.5 L475.2 688.41 L476.2 689.69 L477.2 692.52 L477.2 713.09 L476.2 709.06 L475.2 710.85 L474.2 713 L473.2 711.2 L472.2 709.75 L471.2 713.55 L470.2 711.1 L469.2 712.23 L468.2 711.76 L467.2 711.24 L466.2 711.92 L465.2 709.53 L464.2 712.48 L463.2 713.54 L462.2 710.22 L461.2 709.66 L460.2 710.93 L459.2 713.46 L458.2 710.36 L457.2 711.47 L456.2 712.63 L455.2 713.59 L454.2 713.87 L453.2 710.55 L452.2 713.52 L451.2 709.6 L450.2 712.34 L449.2 709.11 L448.2 712.29 L447.2 713.31 L446.2 711.87 L445.2 712.4 L444.2 713.03 L443.2 712.78 L442.2 711.52 L441.2 713.01 L440.2 709.77 L439.2 709.96 L438.2 709.92 L437.2 710.46 L436.2 713.02 L435.2 713.23 L434.2 710.47 L433.2 713.41 L432.2 712.31 L431.2 709 L430.2 709.86 L429.2 713.86 L428.2 710.66 L427.2 709.78 L426.2 710.53 L425.2 710.98 L424.2 713.57 L423.2 712.2 L422.2 712.54 L421.2 709.91 L420.2 713.69 L419.2 710.09 L418.2 709.52 L417.2 712.39 L416.2 713.51 L415.2 711.04 L414.2 712.76 L413.2 709.26 L412.2 713.19 L411.2 712.58 L410.2 711.64 L409.2 713.04 L408.2 709.82 L407.2 713.68 L406.2 713.64 L405.2 710.03 L404.2 710.81 L403.2 712.16 L402.2 712.29 L401.2 713.93 L400.2 712.99 L399.2 713.89 L398.2 712.47 L397.2 712.76 L396.2 710.53 L395.2 710.34 L394.2 709.11 L393.2 711.74 L392.2 710.7 L391.2 710.61 L390.2 712.04 L389.2 713.96 L388.2 712.11 L387.2 710.88 L386.2 710.57 L385.2 712.26 L384.2 709.66 L383.2 711.49 L382.2 711.91 L381.2 712.36 L380.2 713.28 L379.2 710.14 L378.2 709.24 L377.2 712.21 L376.2 710.37 L375.2 713.65 L374.2 712.13 L373.2 712.13 L372.2 713.24 L371.2 709.85 L370.2 711.19 L369.2 712.01 L368.2 712.68 L367.2 709.43 L366.2 709.45 L365.2 713.43 L364.2 711.7 L363.2 709.63 L362.2 710.67 L361.2 711.73 L360.2 712.76 L359.2 711.46 L358.2 712.72 L357.2 710.39 L356.2 713.25 L355.2 711.3 L354.2 709.95 L353.2 713.34 L352.2 713.7 L351.2 711.89 L350.2 710.41 L349.2 713.33 L348.2 711.86 L347.2 712.86 L346.2 710.87 L345.2 713.82 L344.2 710.79 L343.2 710.86 L342.2 709.13 L341.2 709.61 L340.2 710.75 L339.2 713.61 L338.2 713.07 L337.2 712.02 L336.2 712.46 L335.2 712.82 L334.2 710.27 L333.2 709.19 L332.2 713.69 L331.2 710.49 L330.2 710.16 L329.2 710.59 L328.2 710.06 L327.2 713.27 L326.2 711.96 L325.2 713.81 L324.2 710.07 L323.2 711.11 L322.2 713.9 L321.2 711.38 L320.2 711.07 L319.2 712.3 L318.2 713.8 L317.2 710.22 L316.2 709.72 L315.2 709.45 L314.2 710.75 L313.2 711.57 L312.2 710.09 L311.2 712.71 L310.2 712.64 L309.2 711.98 L308.2 711.97 L307.2 709.02 L306.2 710.44 L305.2 713.7 L304.2 709.23 L303.2 710.05 L302.2 712.11 L301.2 713.52 L300.2 710.22 L299.2 710.89 L298.2 712.09 L297.2 713.83 L296.2 710.31 L295.2 709.01 L294.2 713.78 L293.2 710.13 L292.2 711.19 L291.2 710.7 L290.2 709.44 L289.2 710.87 L288.2 710.16 L287.2 712.37 L286.2 709.79 L285.2 710.39 L284.2 712.73 L283.2 713.74 L282.2 710 L281.2 712.11 L280.2 709.55 L279.2 711.53 L278.2 710.77 L277.2 711.34 L276.2 710.6 L275.2 711.58 L274.2 710.18 L273.2 712 L272.2 710.48 L271.2 712.63 L270.2 713.44 L269.2 710.17 L268.2 713.18 L267.2 712.02 L266.2 709.26 L265.2 713.07 L264.2 710.49 L263.2 710.76 L262.2 710.67 L261.2 712.35 L260.2 713.36 L259.2 712.22 L258.2 711.19 L257.2 709.13 L256.2 710.23 L255.2 712.43 L254.2 710.93 L253.2 711.43 L252.2 712.22 L251.2 709.96 L250.2 713.54 L249.2 712.14 L248.2 713.47 L247.2 709.67 L246.2 711.97 L245.2 710.54 L244.2 713.53 L243.2 710.2 L242.2 709.09 L241.2 712.05 L240.2 709.82 L239.2 709.18 L238.2 710.19 L237.2 712.93 L236.2 710.26 L235.2 709.4 L234.2 709.76 L233.2 709.25 L232.2 712.42 L231.2 712.88 L230.2 713.71 L229.2 713.15 L228.2 710.61 L227.2 709.26 L226.2 712.99 L225.2 710.19 L224.2 713.46 L223.2 712.58 L222.2 709.36 L221.2 712.13 L220.2 711.54 L219.2 709.81 L218.2 711.83 L217.2 710 L216.2 710.54 L215.2 710.11 L214.2 712.87 L213.2 711.02 L212.2 713.57 L211.2 710.69 L210.2 711.99 L209.2 712.19 L208.2 710.02 L207.2 710.04 L206.2 710.83 L205.2 711.97 L204.2 709.29 L203.2 709.15 L202.2 712.9 L201.2 711.98 L200.2 709.06 L199.2 712.06 L198.2 710.79 L197.2 709.95 L196.2 711.66 L195.2 712.74 L194.2 712.83 L193.2 712.8 L192.2 711.22 L191.2 711.38 L190.2 712.09 L189.2 709.18 L188.2 709.9 L187.2 709.98 L186.2 712.45 L185.2 712.18 L184.2 709.44 L183.2 710.13 L182.2 709.72 L181.2 712.85 L180.2 711.29 L179.2 709.77 L178.2 713.52 L177.2 710.04 L176.2 713.55 L175.2 710.27 L174.2 709.45 L173.2 713.11 L172.2 712.25 L171.2 712.7 L170.2 710.37 L169.2 710.9 L168.2 713.74 L167.2 713.45 L166.2 711.06 L165.2 712.47 L164.2 710.25 L163.2 713.41 L162.2 710.42 L161.2 712.25 L160.2 709.87 L159.2 710.37 L158.2 709.88 L157.2 711.79 L156.2 711.79 L155.2 710.93 L154.2 709.53 L153.2 710.54 L152.2 710.22 L151.2 712.96 L150.2 711.75 L149.2 711.98 L148.2 712.09 L147.2 712.88 L146.2 709.05 L145.2 709.51 L144.2 711.99 L143.2 709.05 L142.2 710.08 L141.2 712.02 L140.2 709.21 L139.2 712.65 L138.2 713.69 L137.2 709.97 L136.2 712.55 L135.2 713.33 L134.2 710.85 L133.2 709.97 L132.2 710.35 L131.2 709.31 L130.2 710.72 L129.2 710.09 L128.2 709.75 L127.2 710.3 L126.2 710.8 L125.2 711.44 L124.2 712.81 L123.2 713.76 L122.2 713.16 L121.2 713.78 L120.2 711.54 L119.2 711.04 L118.2 709.95 L117.2 711.59 L116.2 710.17 L115.2 710.05 L114.2 709.61 L113.2 709.71 L112.2 710.79 L111.2 709.69 L110.2 712.73 L109.2 712.66 L108.2 713.71 L107.2 712.18 L106.2 711.73 L105.2 709.84 L104.2 709.8 L103.2 711.02 L102.2 709.38 L101.2 709.87 L100.2 710.74 L99.2 712.48 L98.2 712.13 L97.2 713.2 L96.2 710.38 L95.2 711.87 L94.2 712.15 L93.2 712.01 L92.2 710.75 L91.2 713.3 L90.2 711.46 L89.2 711.36 L88.2 710.51 L87.2 711.84 L86.2 713.76 L85.2 712.93 L84.2 709.01 L83.2 710.48 L82.2 711.23 L81.2 709.62 L80.2 711.86 L79.2 713.06 L78.2 713.24 L77.2 709.44 L76.2 710.37 L75.2 712.18 L74.2 713.6 L73.2 709.89 L72.2 709.11 L71.2 713.92 L70.2 712.57 L69.2 713.88 L68.2 709.33 L67.2 711.95 L66.2 713.32 L65.2 713.42 L64.2 711.75 L63.2 709.03 L62.2 711.21 L61.2 713.77 L60.2 710.89 L59.2 712.61 L58.2 709.91 L57.2 713.11 L56.2 711.41 L55.2 710.05 L54.2 709.41 L53.2 710.59 L52.2 713.61 L51.2 712.9 L50.2 713.76 L49.2 710.24 L48.2 713.11 L47.2 713.25 L46.2 710.88 L45.2 711.63 L44.2 713.77 L43.2 712.44 L42.2 709.18 L41.2 710.51 L40.2 709.31 L39.2 711.23 L38.2 709.35 L37.2 711 L36.2 710.15 L35.2 711.88 L34.2 713.07 L33.2 710.55 L32.2 709.19 L31.2 709.8 L30.2 709.6 L29.2 713.77 L28.2 712.65 L27.2 712.78 L26.2 713.41 L25.2 713.22 L24.2 712.6 L23.2 710.52 Z" fill="#05C07C" stroke="#05C07C" stroke-width="0.6"/>
<path d="M421.19 710.5 V716.33 M365.95 710.5 V715.47 M25.71 710.5 V719.07 M373.96 710.5 V718.42 M354.02 710.5 V720.18 M85.36 710.5 V720.22 M380 710.5 V717.94 M277.66 710.5 V716.37 M409.63 710.5 V720.68 M58.77 710.5 V725.04 M100 710.5 V714.89 M226.75 710.5 V712.69 M256.94 710.5 V719.78 M160.18 710.5 V723.83 M378.65 710.5 V718.4 M338.38 710.5 V722.61 M423.75 710.5 V721.93 M318.21 710.5 V724.14 M400.82 710.5 V726.76 M397.86 710.5 V721.87 M125.07 710.5 V724.17 M394.11 710.5 V729.26 M62.64 710.5 V715.53 M110.86 710.5 V715.32 M214.79 710.5 V715.46 M150.73 710.5 V718.3 M166.61 710.5 V718.35 M52.86 710.5 V727.05 M87.22 710.5 V714.65 M383.64 710.5 V713.47 M317.64 710.5 V721.5 M178.57 710.5 V715.18 M254.72 710.5 V716.15 M107.96 710.5 V719.06 M432.95 710.5 V723.44 M384.32 710.5 V726.97 M258.05 710.5 V717.16 M29.65 710.5 V714.8 M187.53 710.5 V721.59 M208.89 710.5 V724.2 M304.05 710.5 V717.52 M90.06 710.5 V714.85 M196.23 710.5 V719.92 M30.83 710.5 V716.11 M127.69 710.5 V715.74 M397.16 710.5 V724.42 M48.57 710.5 V718.63 M234.73 710.5 V720.37 M205.31 710.5 V715.33 M277.84 710.5 V713.43 M374.42 710.5 V717.03 M294.42 710.5 V724.28 M393.04 710.5 V731.6 M345.49 710.5 V716.74 M224.09 710.5 V719.06 M447.24 710.5 V714.46 M341.78 710.5 V716.42 M147.05 710.5 V722.72 M120.43 710.5 V715.53 M232.89 710.5 V719.82 M318.01 710.5 V713.07 M128.78 710.5 V717.77 M344.08 710.5 V717.73 M256.34 710.5 V715.32 M104.71 710.5 V722.27 M288.52 710.5 V728.94 M354.08 710.5 V715.53 M260.89 710.5 V721.96 M424.15 710.5 V731.48 M153.4 710.5 V716.96 M53.04 710.5 V717.44 M138.73 710.5 V724.72 M31.47 710.5 V718.46 M78.8 710.5 V714.37 M170.95 710.5 V717.78 M331.46 710.5 V719.5 M295.25 710.5 V715.89 M27.94 710.5 V717.29 M82.09 710.5 V725.26 M244.02 710.5 V718.1 M322.71 710.5 V717.92 M213.78 710.5 V728.24 M288.75 710.5 V722.6 M214.59 710.5 V720.53 M414.53 710.5 V728.18 M322.25 710.5 V718.11 M314.77 710.5 V719.82 M252.03 710.5 V718.14 M415.06 710.5 V714.57 M412.6 710.5 V731.17 M240.65 710.5 V722.14 M69.23 710.5 V719.73 M211.25 710.5 V732.42 M253.61 710.5 V714.26 M414.21 710.5 V728.97 M152.49 710.5 V716.93 M127.26 710.5 V717.49 M368.54 710.5 V719.69 M354.78 710.5 V718.27 M229.72 710.5 V718.32 M59.93 710.5 V717.09 M293.3 710.5 V720.43 M328.43 710.5 V724.83 M67.78 710.5 V713.73 M249.06 710.5 V721.57 M229.74 710.5 V715.13 M83.63 710.5 V717.69 M459.54 710.5 V717.38 M144.97 710.5 V716.67 M207.64 710.5 V722.14 M180.07 710.5 V713.61 M52.88 710.5 V719.92 M86.27 710.5 V716.63 M265.89 710.5 V729.94 M142.44 710.5 V718.73 M436.1 710.5 V718.04 M77.46 710.5 V726.94 M216.51 710.5 V723.03 M457.62 710.5 V714.54 M184.07 710.5 V716.59 M262.71 710.5 V715.07 M46.08 710.5 V718.58 M472.76 710.5 V721.53 M454.67 710.5 V715.59 M78.02 710.5 V718.4 M114.16 710.5 V716.74 M329.44 710.5 V722.9 M248.78 710.5 V719.41 M141.69 710.5 V715.96 M91.43 710.5 V713.83 M103.46 710.5 V716.01 M385.39 710.5 V715.47 M138.69 710.5 V722.3 M400.54 710.5 V716.87 M185.87 710.5 V722.89 M273.52 710.5 V727.53 M43.37 710.5 V724.15 M419.23 710.5 V712.76 M368.22 710.5 V717.47 M145.65 710.5 V719.16 M243.67 710.5 V727.94 M208.21 710.5 V723.53 M384.35 710.5 V720.3 M335.96 710.5 V723.77 M240.33 710.5 V718.08 M343.58 710.5 V718.4 M112.94 710.5 V732.33 M136.14 710.5 V717.37 M297.52 710.5 V718.6 M100.68 710.5 V715.03 M37 710.5 V744 M70 710.5 V749 M119 710.5 V740 M198 710.5 V731 M225.8 710.5 V751.6 M265 710.5 V752 M293 710.5 V745 M296.5 710.5 V752 M330 710.5 V730 M411 710.5 V727 M356 710.5 V735" fill="none" stroke="#05C07C" stroke-width="1.3"/>
<path d="M489.6 628.1 V688 H533.2" fill="none" stroke="#000" stroke-width="3"/>
<text transform="translate(483.5 679.99) rotate(-90)" font-size="15.5" fill="#000" stroke="#000" stroke-width="0.25" stroke-linejoin="round" textLength="36.87" lengthAdjust="spacingAndGlyphs">40pA</text>
<text x="491.34" y="705.7" font-size="15.5" fill="#000" stroke="#000" stroke-width="0.25" stroke-linejoin="round" textLength="42.1" lengthAdjust="spacingAndGlyphs">10sec</text>
<text x="-1.9" y="777.9" font-size="37.5" fill="#000" stroke="#000" stroke-width="0.8" stroke-linejoin="round">K</text>
<rect x="73" y="772.8" width="3.6" height="189.4" fill="#000"/>
<line x1="69" y1="775.5" x2="74.8" y2="775.5" stroke="#000" stroke-width="1.5"/>
<text x="50.08" y="782" font-size="18" fill="#000" stroke="#000" stroke-width="0.7" stroke-linejoin="round" textLength="18.02" lengthAdjust="spacingAndGlyphs">20</text>
<line x1="69" y1="812.7" x2="74.8" y2="812.7" stroke="#000" stroke-width="1.5"/>
<text x="50.17" y="819.2" font-size="18" fill="#000" stroke="#000" stroke-width="0.7" stroke-linejoin="round" textLength="18.02" lengthAdjust="spacingAndGlyphs">15</text>
<line x1="69" y1="849.9" x2="74.8" y2="849.9" stroke="#000" stroke-width="1.5"/>
<text x="50.08" y="856.4" font-size="18" fill="#000" stroke="#000" stroke-width="0.7" stroke-linejoin="round" textLength="18.02" lengthAdjust="spacingAndGlyphs">10</text>
<line x1="69" y1="887.1" x2="74.8" y2="887.1" stroke="#000" stroke-width="1.5"/>
<text x="59.16" y="893.6" font-size="18" fill="#000" stroke="#000" stroke-width="0.7" stroke-linejoin="round" textLength="9.01" lengthAdjust="spacingAndGlyphs">5</text>
<line x1="69" y1="924.3" x2="74.8" y2="924.3" stroke="#000" stroke-width="1.5"/>
<text x="59.08" y="930.8" font-size="18" fill="#000" stroke="#000" stroke-width="0.7" stroke-linejoin="round" textLength="9.01" lengthAdjust="spacingAndGlyphs">0</text>
<line x1="69" y1="961.5" x2="74.8" y2="961.5" stroke="#000" stroke-width="1.5"/>
<text x="53.73" y="968" font-size="18" fill="#000" stroke="#000" stroke-width="0.7" stroke-linejoin="round" textLength="14.41" lengthAdjust="spacingAndGlyphs">-5</text>
<text transform="translate(19.6 949.58) rotate(-90)" font-size="22.4" fill="#000" stroke="#000" stroke-width="0.75" stroke-linejoin="round" textLength="154.85" lengthAdjust="spacingAndGlyphs">Interevent interval</text>
<text transform="translate(41.8 889.84) rotate(-90)" font-size="22.4" fill="#000" stroke="#000" stroke-width="0.75" stroke-linejoin="round" textLength="40.57" lengthAdjust="spacingAndGlyphs">(ms)</text>
<line x1="102.9" y1="790.8" x2="149.6" y2="790.8" stroke="#000" stroke-width="3"/>
<circle cx="126.1" cy="778.7" r="1.59" fill="#000" stroke="none" stroke-width="1"/>
<path d="M127.19 778.7 L127.77 773.1 L124.43 773.1 L125.01 778.7 Z M126.44 779.73 L131.94 778.56 L130.91 775.38 L125.76 777.67 Z M125.22 779.34 L128.04 784.21 L130.74 782.25 L126.98 778.06 Z M125.22 778.06 L121.46 782.25 L124.16 784.21 L126.98 779.34 Z M126.44 777.67 L121.29 775.38 L120.26 778.56 L125.76 779.73 Z" fill="#000"/>
<circle cx="93.7" cy="920" r="1.9" fill="none" stroke="#F89A48" stroke-width="1.3"/>
<circle cx="97.7" cy="920" r="1.9" fill="none" stroke="#F89A48" stroke-width="1.3"/>
<circle cx="101.7" cy="920" r="1.9" fill="none" stroke="#F89A48" stroke-width="1.3"/>
<circle cx="105.7" cy="920" r="1.9" fill="none" stroke="#F89A48" stroke-width="1.3"/>
<circle cx="109.7" cy="920" r="1.9" fill="none" stroke="#F89A48" stroke-width="1.3"/>
<circle cx="97.7" cy="916" r="1.9" fill="none" stroke="#F89A48" stroke-width="1.3"/>
<circle cx="101.7" cy="916" r="1.9" fill="none" stroke="#F89A48" stroke-width="1.3"/>
<circle cx="105.7" cy="916" r="1.9" fill="none" stroke="#F89A48" stroke-width="1.3"/>
<circle cx="101.7" cy="911" r="1.9" fill="none" stroke="#F89A48" stroke-width="1.3"/>
<circle cx="89.7" cy="922" r="1.9" fill="none" stroke="#F89A48" stroke-width="1.3"/>
<circle cx="113.7" cy="922" r="1.9" fill="none" stroke="#F89A48" stroke-width="1.3"/>
<path d="M101.7 904.3 L102.29 905 L102.88 905.7 L103.47 906.4 L104.06 907.1 L104.66 907.8 L105.26 908.5 L105.88 909.2 L106.48 909.9 L107.09 910.6 L107.7 911.3 L108.34 912 L108.99 912.7 L109.69 913.4 L110.45 914.1 L111.27 914.8 L112.14 915.5 L113.04 916.2 L113.95 916.9 L114.84 917.6 L115.7 918.3 L116.65 919 L117.7 919.7 L118.69 920.4 L119.42 921.1 L119.7 921.8 L118.08 922.5 L114.57 923.2 L111.17 923.9 L109.21 924.6 L107.71 925.3 L106.42 926 L105.12 926.7 L103.64 927.4 L101.7 928.1 L101.7 928.1 L99.76 927.4 L98.28 926.7 L96.98 926 L95.69 925.3 L94.19 924.6 L92.23 923.9 L88.83 923.2 L85.32 922.5 L83.7 921.8 L83.98 921.1 L84.71 920.4 L85.7 919.7 L86.75 919 L87.7 918.3 L88.56 917.6 L89.45 916.9 L90.36 916.2 L91.26 915.5 L92.13 914.8 L92.95 914.1 L93.71 913.4 L94.41 912.7 L95.06 912 L95.7 911.3 L96.31 910.6 L96.92 909.9 L97.52 909.2 L98.14 908.5 L98.74 907.8 L99.34 907.1 L99.93 906.4 L100.52 905.7 L101.11 905 L101.7 904.3 Z" fill="none" stroke="#FF7A12" stroke-width="2.3" stroke-linejoin="round"/>
<line x1="90.61" y1="916" x2="112.79" y2="916" stroke="#FF7A12" stroke-width="1.95" stroke-dasharray="2 2"/>
<circle cx="145" cy="833" r="1.9" fill="none" stroke="#A2D6A2" stroke-width="1.3"/>
<circle cx="152" cy="833" r="1.9" fill="none" stroke="#A2D6A2" stroke-width="1.3"/>
<circle cx="148.4" cy="869" r="1.9" fill="none" stroke="#A2D6A2" stroke-width="1.3"/>
<circle cx="148.4" cy="882" r="1.9" fill="none" stroke="#A2D6A2" stroke-width="1.3"/>
<circle cx="148.4" cy="895" r="1.9" fill="none" stroke="#A2D6A2" stroke-width="1.3"/>
<circle cx="148.4" cy="903" r="1.9" fill="none" stroke="#A2D6A2" stroke-width="1.3"/>
<circle cx="145" cy="908" r="1.9" fill="none" stroke="#A2D6A2" stroke-width="1.3"/>
<circle cx="152" cy="910" r="1.9" fill="none" stroke="#A2D6A2" stroke-width="1.3"/>
<circle cx="145" cy="915" r="1.9" fill="none" stroke="#A2D6A2" stroke-width="1.3"/>
<circle cx="152" cy="917" r="1.9" fill="none" stroke="#A2D6A2" stroke-width="1.3"/>
<circle cx="148.4" cy="920" r="1.9" fill="none" stroke="#A2D6A2" stroke-width="1.3"/>
<path d="M148.4 798.6 L148.51 799.3 L148.62 800 L148.72 800.7 L148.83 801.41 L148.93 802.11 L149.04 802.81 L149.14 803.51 L149.24 804.21 L149.35 804.91 L149.45 805.61 L149.56 806.31 L149.66 807.02 L149.77 807.72 L149.88 808.42 L149.99 809.12 L150.11 809.82 L150.23 810.52 L150.35 811.22 L150.48 811.93 L150.61 812.63 L150.75 813.33 L150.9 814.03 L151.08 814.73 L151.27 815.43 L151.48 816.13 L151.7 816.83 L151.93 817.54 L152.17 818.24 L152.4 818.94 L152.64 819.64 L152.87 820.34 L153.09 821.04 L153.3 821.74 L153.5 822.45 L153.68 823.15 L153.83 823.85 L153.97 824.55 L154.07 825.25 L154.15 825.95 L154.19 826.65 L154.2 827.35 L154.19 828.06 L154.17 828.76 L154.14 829.46 L154.1 830.16 L154.05 830.86 L153.99 831.56 L153.92 832.26 L153.85 832.97 L153.77 833.67 L153.69 834.37 L153.6 835.07 L153.51 835.77 L153.42 836.47 L153.33 837.17 L153.23 837.88 L153.13 838.58 L153.02 839.28 L152.88 839.98 L152.7 840.68 L152.5 841.38 L152.27 842.08 L152.03 842.78 L151.77 843.49 L151.52 844.19 L151.26 844.89 L151.01 845.59 L150.78 846.29 L150.57 846.99 L150.38 847.69 L150.22 848.4 L150.1 849.1 L150.03 849.8 L150 850.5 L150.02 851.2 L150.08 851.9 L150.18 852.6 L150.31 853.3 L150.47 854.01 L150.65 854.71 L150.87 855.41 L151.1 856.11 L151.35 856.81 L151.62 857.51 L151.91 858.21 L152.2 858.92 L152.5 859.62 L152.81 860.32 L153.12 861.02 L153.43 861.72 L153.73 862.42 L154.03 863.12 L154.32 863.82 L154.59 864.53 L154.85 865.23 L155.1 865.93 L155.32 866.63 L155.52 867.33 L155.72 868.03 L155.92 868.73 L156.11 869.44 L156.3 870.14 L156.49 870.84 L156.68 871.54 L156.86 872.24 L157.04 872.94 L157.22 873.64 L157.4 874.34 L157.58 875.05 L157.76 875.75 L157.93 876.45 L158.1 877.15 L158.28 877.85 L158.45 878.55 L158.62 879.25 L158.79 879.96 L158.96 880.66 L159.12 881.36 L159.29 882.06 L159.46 882.76 L159.63 883.46 L159.8 884.16 L159.97 884.86 L160.14 885.57 L160.31 886.27 L160.48 886.97 L160.65 887.67 L160.82 888.37 L160.99 889.07 L161.17 889.77 L161.34 890.48 L161.52 891.18 L161.7 891.88 L161.88 892.58 L162.06 893.28 L162.24 893.98 L162.42 894.68 L162.6 895.38 L162.78 896.09 L162.95 896.79 L163.13 897.49 L163.31 898.19 L163.48 898.89 L163.65 899.59 L163.82 900.29 L163.99 901 L164.15 901.7 L164.32 902.4 L164.5 903.1 L164.68 903.8 L164.88 904.5 L165.08 905.2 L165.28 905.9 L165.48 906.61 L165.67 907.31 L165.85 908.01 L166.03 908.71 L166.19 909.41 L166.33 910.11 L166.46 910.81 L166.56 911.52 L166.64 912.22 L166.68 912.92 L166.7 913.62 L166.66 914.32 L166.55 915.02 L166.37 915.72 L166.14 916.43 L165.85 917.13 L165.51 917.83 L165.14 918.53 L164.73 919.23 L164.29 919.93 L163.83 920.63 L163.36 921.33 L162.88 922.04 L162.39 922.74 L161.91 923.44 L161.44 924.14 L160.99 924.84 L160.55 925.54 L160.07 926.24 L159.55 926.95 L158.98 927.65 L158.39 928.35 L157.77 929.05 L157.14 929.75 L156.5 930.45 L155.86 931.15 L155.24 931.85 L154.64 932.56 L154.07 933.26 L153.54 933.96 L153.06 934.66 L152.63 935.36 L152.27 936.06 L151.98 936.76 L151.76 937.47 L151.55 938.17 L151.36 938.87 L151.18 939.57 L151 940.27 L150.84 940.97 L150.69 941.67 L150.55 942.37 L150.41 943.08 L150.28 943.78 L150.16 944.48 L150.04 945.18 L149.93 945.88 L149.82 946.58 L149.71 947.28 L149.61 947.99 L149.5 948.69 L149.4 949.39 L149.3 950.09 L149.2 950.79 L149.09 951.49 L148.99 952.19 L148.88 952.89 L148.77 953.6 L148.65 954.3 L148.53 955 L148.4 955.7 L148.4 955.7 L148.27 955 L148.15 954.3 L148.03 953.6 L147.92 952.89 L147.81 952.19 L147.71 951.49 L147.6 950.79 L147.5 950.09 L147.4 949.39 L147.3 948.69 L147.19 947.99 L147.09 947.28 L146.98 946.58 L146.87 945.88 L146.76 945.18 L146.64 944.48 L146.52 943.78 L146.39 943.08 L146.25 942.37 L146.11 941.67 L145.96 940.97 L145.8 940.27 L145.62 939.57 L145.44 938.87 L145.25 938.17 L145.04 937.47 L144.82 936.76 L144.53 936.06 L144.17 935.36 L143.74 934.66 L143.26 933.96 L142.73 933.26 L142.16 932.56 L141.56 931.85 L140.94 931.15 L140.3 930.45 L139.66 929.75 L139.03 929.05 L138.41 928.35 L137.82 927.65 L137.25 926.95 L136.73 926.24 L136.25 925.54 L135.81 924.84 L135.36 924.14 L134.89 923.44 L134.41 922.74 L133.92 922.04 L133.44 921.33 L132.97 920.63 L132.51 919.93 L132.07 919.23 L131.66 918.53 L131.29 917.83 L130.95 917.13 L130.66 916.43 L130.43 915.72 L130.25 915.02 L130.14 914.32 L130.1 913.62 L130.12 912.92 L130.16 912.22 L130.24 911.52 L130.34 910.81 L130.47 910.11 L130.61 909.41 L130.77 908.71 L130.95 908.01 L131.13 907.31 L131.32 906.61 L131.52 905.9 L131.72 905.2 L131.92 904.5 L132.12 903.8 L132.3 903.1 L132.48 902.4 L132.65 901.7 L132.81 901 L132.98 900.29 L133.15 899.59 L133.32 898.89 L133.49 898.19 L133.67 897.49 L133.85 896.79 L134.02 896.09 L134.2 895.38 L134.38 894.68 L134.56 893.98 L134.74 893.28 L134.92 892.58 L135.1 891.88 L135.28 891.18 L135.46 890.48 L135.63 889.77 L135.81 889.07 L135.98 888.37 L136.15 887.67 L136.32 886.97 L136.49 886.27 L136.66 885.57 L136.83 884.86 L137 884.16 L137.17 883.46 L137.34 882.76 L137.51 882.06 L137.68 881.36 L137.84 880.66 L138.01 879.96 L138.18 879.25 L138.35 878.55 L138.52 877.85 L138.7 877.15 L138.87 876.45 L139.04 875.75 L139.22 875.05 L139.4 874.34 L139.58 873.64 L139.76 872.94 L139.94 872.24 L140.12 871.54 L140.31 870.84 L140.5 870.14 L140.69 869.44 L140.88 868.73 L141.08 868.03 L141.28 867.33 L141.48 866.63 L141.7 865.93 L141.95 865.23 L142.21 864.53 L142.48 863.82 L142.77 863.12 L143.07 862.42 L143.37 861.72 L143.68 861.02 L143.99 860.32 L144.3 859.62 L144.6 858.92 L144.89 858.21 L145.18 857.51 L145.45 856.81 L145.7 856.11 L145.93 855.41 L146.15 854.71 L146.33 854.01 L146.49 853.3 L146.62 852.6 L146.72 851.9 L146.78 851.2 L146.8 850.5 L146.77 849.8 L146.7 849.1 L146.58 848.4 L146.42 847.69 L146.23 846.99 L146.02 846.29 L145.79 845.59 L145.54 844.89 L145.28 844.19 L145.03 843.49 L144.77 842.78 L144.53 842.08 L144.3 841.38 L144.1 840.68 L143.92 839.98 L143.78 839.28 L143.67 838.58 L143.57 837.88 L143.47 837.17 L143.38 836.47 L143.29 835.77 L143.2 835.07 L143.11 834.37 L143.03 833.67 L142.95 832.97 L142.88 832.26 L142.81 831.56 L142.75 830.86 L142.7 830.16 L142.66 829.46 L142.63 828.76 L142.61 828.06 L142.6 827.35 L142.61 826.65 L142.65 825.95 L142.73 825.25 L142.83 824.55 L142.97 823.85 L143.12 823.15 L143.3 822.45 L143.5 821.74 L143.71 821.04 L143.93 820.34 L144.16 819.64 L144.4 818.94 L144.63 818.24 L144.87 817.54 L145.1 816.83 L145.32 816.13 L145.53 815.43 L145.72 814.73 L145.9 814.03 L146.05 813.33 L146.19 812.63 L146.32 811.93 L146.45 811.22 L146.57 810.52 L146.69 809.82 L146.81 809.12 L146.92 808.42 L147.03 807.72 L147.14 807.02 L147.24 806.31 L147.35 805.61 L147.45 804.91 L147.56 804.21 L147.66 803.51 L147.76 802.81 L147.87 802.11 L147.97 801.41 L148.08 800.7 L148.18 800 L148.29 799.3 L148.4 798.6 Z" fill="none" stroke="#12BC12" stroke-width="2.3" stroke-linejoin="round"/>
<line x1="132.58" y1="902" x2="164.22" y2="902" stroke="#12BC12" stroke-width="1.95"/>
<text x="178.7" y="776.9" font-size="37.5" fill="#000" stroke="#000" stroke-width="0.8" stroke-linejoin="round">L</text>
<rect x="248.2" y="774" width="3.6" height="189" fill="#000"/>
<line x1="244.2" y1="774.6" x2="250" y2="774.6" stroke="#000" stroke-width="1.5"/>
<text x="227.49" y="781.1" font-size="18" fill="#000" stroke="#000" stroke-width="0.7" stroke-linejoin="round" textLength="18.02" lengthAdjust="spacingAndGlyphs">60</text>
<line x1="244.2" y1="798.08" x2="250" y2="798.08" stroke="#000" stroke-width="1.5"/>
<text x="227.57" y="804.58" font-size="18" fill="#000" stroke="#000" stroke-width="0.7" stroke-linejoin="round" textLength="18.02" lengthAdjust="spacingAndGlyphs">55</text>
<line x1="244.2" y1="821.56" x2="250" y2="821.56" stroke="#000" stroke-width="1.5"/>
<text x="227.49" y="828.06" font-size="18" fill="#000" stroke="#000" stroke-width="0.7" stroke-linejoin="round" textLength="18.02" lengthAdjust="spacingAndGlyphs">50</text>
<line x1="244.2" y1="845.04" x2="250" y2="845.04" stroke="#000" stroke-width="1.5"/>
<text x="227.57" y="851.54" font-size="18" fill="#000" stroke="#000" stroke-width="0.7" stroke-linejoin="round" textLength="18.02" lengthAdjust="spacingAndGlyphs">45</text>
<line x1="244.2" y1="868.52" x2="250" y2="868.52" stroke="#000" stroke-width="1.5"/>
<text x="227.48" y="875.02" font-size="18" fill="#000" stroke="#000" stroke-width="0.7" stroke-linejoin="round" textLength="18.02" lengthAdjust="spacingAndGlyphs">40</text>
<line x1="244.2" y1="892" x2="250" y2="892" stroke="#000" stroke-width="1.5"/>
<text x="227.57" y="898.5" font-size="18" fill="#000" stroke="#000" stroke-width="0.7" stroke-linejoin="round" textLength="18.02" lengthAdjust="spacingAndGlyphs">35</text>
<line x1="244.2" y1="915.48" x2="250" y2="915.48" stroke="#000" stroke-width="1.5"/>
<text x="227.49" y="921.98" font-size="18" fill="#000" stroke="#000" stroke-width="0.7" stroke-linejoin="round" textLength="18.02" lengthAdjust="spacingAndGlyphs">30</text>
<line x1="244.2" y1="938.96" x2="250" y2="938.96" stroke="#000" stroke-width="1.5"/>
<text x="227.57" y="945.46" font-size="18" fill="#000" stroke="#000" stroke-width="0.7" stroke-linejoin="round" textLength="18.02" lengthAdjust="spacingAndGlyphs">25</text>
<line x1="244.2" y1="962.44" x2="250" y2="962.44" stroke="#000" stroke-width="1.5"/>
<text x="227.49" y="968.94" font-size="18" fill="#000" stroke="#000" stroke-width="0.7" stroke-linejoin="round" textLength="18.02" lengthAdjust="spacingAndGlyphs">20</text>
<text transform="translate(195.8 940.71) rotate(-90)" font-size="22.5" fill="#000" stroke="#000" stroke-width="0.75" stroke-linejoin="round" textLength="137.3" lengthAdjust="spacingAndGlyphs">Peak Amplitude</text>
<text transform="translate(217.9 888.33) rotate(-90)" font-size="22.4" fill="#000" stroke="#000" stroke-width="0.75" stroke-linejoin="round" textLength="37.84" lengthAdjust="spacingAndGlyphs">(pA)</text>
<circle cx="277.6" cy="855" r="1.9" fill="none" stroke="#F89A48" stroke-width="1.3"/>
<circle cx="277.6" cy="873" r="1.9" fill="none" stroke="#F89A48" stroke-width="1.3"/>
<circle cx="277.6" cy="902" r="1.9" fill="none" stroke="#F89A48" stroke-width="1.3"/>
<circle cx="271.6" cy="911" r="1.9" fill="none" stroke="#F89A48" stroke-width="1.3"/>
<circle cx="277.6" cy="911" r="1.9" fill="none" stroke="#F89A48" stroke-width="1.3"/>
<circle cx="283.6" cy="910" r="1.9" fill="none" stroke="#F89A48" stroke-width="1.3"/>
<circle cx="277.6" cy="918" r="1.9" fill="none" stroke="#F89A48" stroke-width="1.3"/>
<circle cx="274.6" cy="915" r="1.9" fill="none" stroke="#F89A48" stroke-width="1.3"/>
<circle cx="277.6" cy="925" r="1.9" fill="none" stroke="#F89A48" stroke-width="1.3"/>
<circle cx="277.6" cy="932" r="1.9" fill="none" stroke="#F89A48" stroke-width="1.3"/>
<circle cx="271.6" cy="939" r="1.9" fill="none" stroke="#F89A48" stroke-width="1.3"/>
<circle cx="277.6" cy="937" r="1.9" fill="none" stroke="#F89A48" stroke-width="1.3"/>
<circle cx="283.6" cy="940" r="1.9" fill="none" stroke="#F89A48" stroke-width="1.3"/>
<circle cx="268" cy="941" r="1.9" fill="none" stroke="#F89A48" stroke-width="1.3"/>
<path d="M277.6 835.4 L277.8 836.1 L278.01 836.8 L278.23 837.5 L278.45 838.2 L278.67 838.9 L278.89 839.6 L279.1 840.3 L279.3 841 L279.48 841.71 L279.65 842.41 L279.81 843.11 L279.94 843.81 L280.06 844.51 L280.19 845.21 L280.32 845.91 L280.44 846.61 L280.56 847.31 L280.67 848.01 L280.77 848.71 L280.87 849.41 L280.95 850.11 L281.01 850.81 L281.06 851.51 L281.09 852.21 L281.1 852.91 L281.08 853.61 L281.04 854.32 L280.96 855.02 L280.87 855.72 L280.75 856.42 L280.63 857.12 L280.49 857.82 L280.35 858.52 L280.2 859.22 L280.06 859.92 L279.93 860.62 L279.81 861.32 L279.7 862.02 L279.61 862.72 L279.55 863.42 L279.51 864.12 L279.5 864.82 L279.55 865.52 L279.66 866.22 L279.81 866.93 L279.99 867.63 L280.19 868.33 L280.41 869.03 L280.64 869.73 L280.85 870.43 L281.05 871.13 L281.23 871.83 L281.37 872.53 L281.46 873.23 L281.5 873.93 L281.48 874.63 L281.4 875.33 L281.27 876.03 L281.11 876.73 L280.92 877.43 L280.72 878.13 L280.51 878.83 L280.3 879.54 L280.1 880.24 L279.92 880.94 L279.78 881.64 L279.67 882.34 L279.61 883.04 L279.61 883.74 L279.69 884.44 L279.83 885.14 L280.04 885.84 L280.31 886.54 L280.64 887.24 L281 887.94 L281.41 888.64 L281.84 889.34 L282.31 890.04 L282.79 890.74 L283.28 891.44 L283.78 892.15 L284.28 892.85 L284.77 893.55 L285.25 894.25 L285.7 894.95 L286.16 895.65 L286.67 896.35 L287.23 897.05 L287.81 897.75 L288.42 898.45 L289.03 899.15 L289.64 899.85 L290.24 900.55 L290.82 901.25 L291.36 901.95 L291.85 902.65 L292.29 903.35 L292.65 904.06 L292.94 904.76 L293.23 905.46 L293.51 906.16 L293.78 906.86 L294.05 907.56 L294.31 908.26 L294.55 908.96 L294.77 909.66 L294.98 910.36 L295.17 911.06 L295.33 911.76 L295.47 912.46 L295.58 913.16 L295.65 913.86 L295.69 914.56 L295.69 915.26 L295.63 915.96 L295.51 916.67 L295.33 917.37 L295.11 918.07 L294.84 918.77 L294.55 919.47 L294.23 920.17 L293.9 920.87 L293.57 921.57 L293.23 922.27 L292.91 922.97 L292.6 923.67 L292.32 924.37 L292.08 925.07 L291.88 925.77 L291.72 926.47 L291.63 927.17 L291.6 927.87 L291.62 928.57 L291.68 929.28 L291.76 929.98 L291.87 930.68 L291.99 931.38 L292.12 932.08 L292.25 932.78 L292.38 933.48 L292.51 934.18 L292.62 934.88 L292.71 935.58 L292.77 936.28 L292.8 936.98 L292.76 937.68 L292.59 938.38 L292.3 939.08 L291.89 939.78 L291.39 940.48 L290.82 941.18 L290.19 941.89 L289.52 942.59 L288.82 943.29 L288.12 943.99 L287.42 944.69 L286.76 945.39 L286.14 946.09 L285.57 946.79 L284.97 947.49 L284.33 948.19 L283.67 948.89 L283.01 949.59 L282.36 950.29 L281.74 950.99 L281.15 951.69 L280.63 952.39 L280.17 953.09 L279.81 953.79 L279.49 954.5 L279.21 955.2 L278.95 955.9 L278.72 956.6 L278.5 957.3 L278.28 958 L278.06 958.7 L277.84 959.4 L277.6 960.1 L277.6 960.1 L277.36 959.4 L277.14 958.7 L276.92 958 L276.7 957.3 L276.48 956.6 L276.25 955.9 L275.99 955.2 L275.71 954.5 L275.39 953.79 L275.03 953.09 L274.57 952.39 L274.05 951.69 L273.46 950.99 L272.84 950.29 L272.19 949.59 L271.53 948.89 L270.87 948.19 L270.23 947.49 L269.63 946.79 L269.06 946.09 L268.44 945.39 L267.78 944.69 L267.08 943.99 L266.38 943.29 L265.68 942.59 L265.01 941.89 L264.38 941.18 L263.81 940.48 L263.31 939.78 L262.9 939.08 L262.61 938.38 L262.44 937.68 L262.4 936.98 L262.43 936.28 L262.49 935.58 L262.58 934.88 L262.69 934.18 L262.82 933.48 L262.95 932.78 L263.08 932.08 L263.21 931.38 L263.33 930.68 L263.44 929.98 L263.52 929.28 L263.58 928.57 L263.6 927.87 L263.57 927.17 L263.48 926.47 L263.32 925.77 L263.12 925.07 L262.88 924.37 L262.6 923.67 L262.29 922.97 L261.97 922.27 L261.63 921.57 L261.3 920.87 L260.97 920.17 L260.65 919.47 L260.36 918.77 L260.09 918.07 L259.87 917.37 L259.69 916.67 L259.57 915.96 L259.51 915.26 L259.51 914.56 L259.55 913.86 L259.62 913.16 L259.73 912.46 L259.87 911.76 L260.03 911.06 L260.22 910.36 L260.43 909.66 L260.65 908.96 L260.89 908.26 L261.15 907.56 L261.42 906.86 L261.69 906.16 L261.97 905.46 L262.26 904.76 L262.55 904.06 L262.91 903.35 L263.35 902.65 L263.84 901.95 L264.38 901.25 L264.96 900.55 L265.56 899.85 L266.17 899.15 L266.78 898.45 L267.39 897.75 L267.97 897.05 L268.53 896.35 L269.04 895.65 L269.5 894.95 L269.95 894.25 L270.43 893.55 L270.92 892.85 L271.42 892.15 L271.92 891.44 L272.41 890.74 L272.89 890.04 L273.36 889.34 L273.79 888.64 L274.2 887.94 L274.56 887.24 L274.89 886.54 L275.16 885.84 L275.37 885.14 L275.51 884.44 L275.59 883.74 L275.59 883.04 L275.53 882.34 L275.42 881.64 L275.28 880.94 L275.1 880.24 L274.9 879.54 L274.69 878.83 L274.48 878.13 L274.28 877.43 L274.09 876.73 L273.93 876.03 L273.8 875.33 L273.72 874.63 L273.7 873.93 L273.74 873.23 L273.83 872.53 L273.97 871.83 L274.15 871.13 L274.35 870.43 L274.56 869.73 L274.79 869.03 L275.01 868.33 L275.21 867.63 L275.39 866.93 L275.54 866.22 L275.65 865.52 L275.7 864.82 L275.69 864.12 L275.65 863.42 L275.59 862.72 L275.5 862.02 L275.39 861.32 L275.27 860.62 L275.14 859.92 L275 859.22 L274.85 858.52 L274.71 857.82 L274.57 857.12 L274.45 856.42 L274.33 855.72 L274.24 855.02 L274.16 854.32 L274.12 853.61 L274.1 852.91 L274.11 852.21 L274.14 851.51 L274.19 850.81 L274.25 850.11 L274.33 849.41 L274.43 848.71 L274.53 848.01 L274.64 847.31 L274.76 846.61 L274.88 845.91 L275.01 845.21 L275.14 844.51 L275.26 843.81 L275.39 843.11 L275.55 842.41 L275.72 841.71 L275.9 841 L276.1 840.3 L276.31 839.6 L276.53 838.9 L276.75 838.2 L276.97 837.5 L277.19 836.8 L277.4 836.1 L277.6 835.4 Z" fill="none" stroke="#FF7A12" stroke-width="2.3" stroke-linejoin="round"/>
<line x1="259.68" y1="916.6" x2="295.52" y2="916.6" stroke="#FF7A12" stroke-width="1.95"/>
<circle cx="324.4" cy="850" r="1.9" fill="none" stroke="#A2D6A2" stroke-width="1.3"/>
<circle cx="324.4" cy="861" r="1.9" fill="none" stroke="#A2D6A2" stroke-width="1.3"/>
<circle cx="324.4" cy="874" r="1.9" fill="none" stroke="#A2D6A2" stroke-width="1.3"/>
<circle cx="324.4" cy="890" r="1.9" fill="none" stroke="#A2D6A2" stroke-width="1.3"/>
<circle cx="324.4" cy="897" r="1.9" fill="none" stroke="#A2D6A2" stroke-width="1.3"/>
<circle cx="324.4" cy="903" r="1.9" fill="none" stroke="#A2D6A2" stroke-width="1.3"/>
<circle cx="315" cy="921" r="1.9" fill="none" stroke="#A2D6A2" stroke-width="1.3"/>
<circle cx="321" cy="922" r="1.9" fill="none" stroke="#A2D6A2" stroke-width="1.3"/>
<circle cx="327" cy="921" r="1.9" fill="none" stroke="#A2D6A2" stroke-width="1.3"/>
<circle cx="333" cy="919" r="1.9" fill="none" stroke="#A2D6A2" stroke-width="1.3"/>
<circle cx="321" cy="927" r="1.9" fill="none" stroke="#A2D6A2" stroke-width="1.3"/>
<circle cx="327" cy="926" r="1.9" fill="none" stroke="#A2D6A2" stroke-width="1.3"/>
<path d="M324.4 819.7 L324.53 820.4 L324.66 821.1 L324.79 821.8 L324.92 822.5 L325.04 823.21 L325.17 823.91 L325.3 824.61 L325.43 825.31 L325.55 826.01 L325.68 826.71 L325.81 827.41 L325.95 828.11 L326.08 828.81 L326.22 829.51 L326.35 830.22 L326.5 830.92 L326.64 831.62 L326.79 832.32 L326.97 833.02 L327.16 833.72 L327.36 834.42 L327.58 835.12 L327.8 835.82 L328.02 836.52 L328.25 837.23 L328.46 837.93 L328.67 838.63 L328.86 839.33 L329.04 840.03 L329.19 840.73 L329.32 841.43 L329.41 842.13 L329.48 842.83 L329.5 843.53 L329.5 844.24 L329.5 844.94 L329.49 845.64 L329.48 846.34 L329.48 847.04 L329.47 847.74 L329.46 848.44 L329.44 849.14 L329.43 849.84 L329.42 850.55 L329.4 851.25 L329.38 851.95 L329.37 852.65 L329.35 853.35 L329.33 854.05 L329.31 854.75 L329.3 855.45 L329.28 856.15 L329.26 856.85 L329.24 857.56 L329.23 858.26 L329.21 858.96 L329.19 859.66 L329.18 860.36 L329.16 861.06 L329.15 861.76 L329.14 862.46 L329.13 863.16 L329.12 863.86 L329.11 864.57 L329.11 865.27 L329.1 865.97 L329.1 866.67 L329.1 867.37 L329.11 868.07 L329.12 868.77 L329.13 869.47 L329.15 870.17 L329.18 870.87 L329.21 871.58 L329.25 872.28 L329.29 872.98 L329.33 873.68 L329.38 874.38 L329.43 875.08 L329.49 875.78 L329.55 876.48 L329.62 877.18 L329.69 877.89 L329.76 878.59 L329.84 879.29 L329.91 879.99 L330 880.69 L330.08 881.39 L330.17 882.09 L330.26 882.79 L330.36 883.49 L330.45 884.19 L330.55 884.9 L330.65 885.6 L330.76 886.3 L330.86 887 L330.97 887.7 L331.08 888.4 L331.19 889.1 L331.3 889.8 L331.42 890.5 L331.55 891.2 L331.72 891.91 L331.92 892.61 L332.15 893.31 L332.41 894.01 L332.69 894.71 L332.98 895.41 L333.3 896.11 L333.64 896.81 L333.99 897.51 L334.35 898.21 L334.72 898.92 L335.1 899.62 L335.49 900.32 L335.87 901.02 L336.26 901.72 L336.65 902.42 L337.03 903.12 L337.41 903.82 L337.78 904.52 L338.14 905.23 L338.48 905.93 L338.81 906.63 L339.12 907.33 L339.42 908.03 L339.69 908.73 L339.93 909.43 L340.15 910.13 L340.35 910.83 L340.56 911.53 L340.77 912.24 L340.98 912.94 L341.19 913.64 L341.39 914.34 L341.59 915.04 L341.77 915.74 L341.94 916.44 L342.09 917.14 L342.22 917.84 L342.33 918.54 L342.42 919.25 L342.47 919.95 L342.5 920.65 L342.48 921.35 L342.41 922.05 L342.28 922.75 L342.11 923.45 L341.89 924.15 L341.63 924.85 L341.34 925.55 L341.01 926.26 L340.65 926.96 L340.27 927.66 L339.87 928.36 L339.45 929.06 L339.02 929.76 L338.59 930.46 L338.14 931.16 L337.7 931.86 L337.26 932.57 L336.74 933.27 L336.11 933.97 L335.39 934.67 L334.59 935.37 L333.75 936.07 L332.88 936.77 L332.01 937.47 L331.16 938.17 L330.35 938.87 L329.61 939.58 L328.95 940.28 L328.41 940.98 L328 941.68 L327.71 942.38 L327.45 943.08 L327.21 943.78 L326.99 944.48 L326.78 945.18 L326.59 945.88 L326.41 946.59 L326.25 947.29 L326.09 947.99 L325.94 948.69 L325.8 949.39 L325.67 950.09 L325.53 950.79 L325.4 951.49 L325.27 952.19 L325.14 952.89 L325 953.6 L324.86 954.3 L324.72 955 L324.56 955.7 L324.4 956.4 L324.4 956.4 L324.24 955.7 L324.08 955 L323.94 954.3 L323.8 953.6 L323.66 952.89 L323.53 952.19 L323.4 951.49 L323.27 950.79 L323.13 950.09 L323 949.39 L322.86 948.69 L322.71 947.99 L322.55 947.29 L322.39 946.59 L322.21 945.88 L322.02 945.18 L321.81 944.48 L321.59 943.78 L321.35 943.08 L321.09 942.38 L320.8 941.68 L320.39 940.98 L319.85 940.28 L319.19 939.58 L318.45 938.87 L317.64 938.17 L316.79 937.47 L315.92 936.77 L315.05 936.07 L314.21 935.37 L313.41 934.67 L312.69 933.97 L312.06 933.27 L311.54 932.57 L311.1 931.86 L310.66 931.16 L310.21 930.46 L309.78 929.76 L309.35 929.06 L308.93 928.36 L308.53 927.66 L308.15 926.96 L307.79 926.26 L307.46 925.55 L307.17 924.85 L306.91 924.15 L306.69 923.45 L306.52 922.75 L306.39 922.05 L306.32 921.35 L306.3 920.65 L306.33 919.95 L306.38 919.25 L306.47 918.54 L306.58 917.84 L306.71 917.14 L306.86 916.44 L307.03 915.74 L307.21 915.04 L307.41 914.34 L307.61 913.64 L307.82 912.94 L308.03 912.24 L308.24 911.53 L308.45 910.83 L308.65 910.13 L308.87 909.43 L309.11 908.73 L309.38 908.03 L309.68 907.33 L309.99 906.63 L310.32 905.93 L310.66 905.23 L311.02 904.52 L311.39 903.82 L311.77 903.12 L312.15 902.42 L312.54 901.72 L312.93 901.02 L313.31 900.32 L313.7 899.62 L314.08 898.92 L314.45 898.21 L314.81 897.51 L315.16 896.81 L315.5 896.11 L315.82 895.41 L316.11 894.71 L316.39 894.01 L316.65 893.31 L316.88 892.61 L317.08 891.91 L317.25 891.2 L317.38 890.5 L317.5 889.8 L317.61 889.1 L317.72 888.4 L317.83 887.7 L317.94 887 L318.04 886.3 L318.15 885.6 L318.25 884.9 L318.35 884.19 L318.44 883.49 L318.54 882.79 L318.63 882.09 L318.72 881.39 L318.8 880.69 L318.89 879.99 L318.96 879.29 L319.04 878.59 L319.11 877.89 L319.18 877.18 L319.25 876.48 L319.31 875.78 L319.37 875.08 L319.42 874.38 L319.47 873.68 L319.51 872.98 L319.55 872.28 L319.59 871.58 L319.62 870.87 L319.65 870.17 L319.67 869.47 L319.68 868.77 L319.69 868.07 L319.7 867.37 L319.7 866.67 L319.7 865.97 L319.69 865.27 L319.69 864.57 L319.68 863.86 L319.67 863.16 L319.66 862.46 L319.65 861.76 L319.64 861.06 L319.62 860.36 L319.61 859.66 L319.59 858.96 L319.57 858.26 L319.56 857.56 L319.54 856.85 L319.52 856.15 L319.5 855.45 L319.49 854.75 L319.47 854.05 L319.45 853.35 L319.43 852.65 L319.42 851.95 L319.4 851.25 L319.38 850.55 L319.37 849.84 L319.36 849.14 L319.34 848.44 L319.33 847.74 L319.32 847.04 L319.32 846.34 L319.31 845.64 L319.3 844.94 L319.3 844.24 L319.3 843.53 L319.32 842.83 L319.39 842.13 L319.48 841.43 L319.61 840.73 L319.76 840.03 L319.94 839.33 L320.13 838.63 L320.34 837.93 L320.55 837.23 L320.78 836.52 L321 835.82 L321.22 835.12 L321.44 834.42 L321.64 833.72 L321.83 833.02 L322.01 832.32 L322.16 831.62 L322.3 830.92 L322.45 830.22 L322.58 829.51 L322.72 828.81 L322.85 828.11 L322.99 827.41 L323.12 826.71 L323.25 826.01 L323.37 825.31 L323.5 824.61 L323.63 823.91 L323.76 823.21 L323.88 822.5 L324.01 821.8 L324.14 821.1 L324.27 820.4 L324.4 819.7 Z" fill="none" stroke="#12BC12" stroke-width="2.3" stroke-linejoin="round"/>
<line x1="308.6" y1="910.3" x2="340.2" y2="910.3" stroke="#12BC12" stroke-width="1.95"/>
<text x="355.2" y="776.9" font-size="37.5" fill="#000" stroke="#000" stroke-width="0.8" stroke-linejoin="round">M</text>
<rect x="431.3" y="773" width="3.6" height="189.3" fill="#000"/>
<line x1="427.3" y1="773.4" x2="433.1" y2="773.4" stroke="#000" stroke-width="1.5"/>
<text x="391.72" y="779.9" font-size="18" fill="#000" stroke="#000" stroke-width="0.7" stroke-linejoin="round" textLength="36.04" lengthAdjust="spacingAndGlyphs">4000</text>
<line x1="427.3" y1="812" x2="433.1" y2="812" stroke="#000" stroke-width="1.5"/>
<text x="391.72" y="818.5" font-size="18" fill="#000" stroke="#000" stroke-width="0.7" stroke-linejoin="round" textLength="36.04" lengthAdjust="spacingAndGlyphs">3000</text>
<line x1="427.3" y1="849.4" x2="433.1" y2="849.4" stroke="#000" stroke-width="1.5"/>
<text x="391.72" y="855.9" font-size="18" fill="#000" stroke="#000" stroke-width="0.7" stroke-linejoin="round" textLength="36.04" lengthAdjust="spacingAndGlyphs">2000</text>
<line x1="427.3" y1="886.9" x2="433.1" y2="886.9" stroke="#000" stroke-width="1.5"/>
<text x="391.72" y="893.4" font-size="18" fill="#000" stroke="#000" stroke-width="0.7" stroke-linejoin="round" textLength="36.04" lengthAdjust="spacingAndGlyphs">1000</text>
<line x1="427.3" y1="924.3" x2="433.1" y2="924.3" stroke="#000" stroke-width="1.5"/>
<text x="418.78" y="930.8" font-size="18" fill="#000" stroke="#000" stroke-width="0.7" stroke-linejoin="round" textLength="9.01" lengthAdjust="spacingAndGlyphs">0</text>
<line x1="427.3" y1="961.7" x2="433.1" y2="961.7" stroke="#000" stroke-width="1.5"/>
<text x="391.72" y="968.2" font-size="18" fill="#000" stroke="#000" stroke-width="0.7" stroke-linejoin="round" textLength="36.04" lengthAdjust="spacingAndGlyphs">4000</text>
<text transform="translate(376.4 929.83) rotate(-90)" font-size="22.5" fill="#000" stroke="#000" stroke-width="0.75" stroke-linejoin="round" textLength="118.57" lengthAdjust="spacingAndGlyphs">Area (pA*ms)</text>
<circle cx="461.8" cy="832" r="1.9" fill="none" stroke="#F89A48" stroke-width="1.3"/>
<circle cx="461.8" cy="845" r="1.9" fill="none" stroke="#F89A48" stroke-width="1.3"/>
<circle cx="461.8" cy="849" r="1.9" fill="none" stroke="#F89A48" stroke-width="1.3"/>
<circle cx="461.8" cy="858" r="1.9" fill="none" stroke="#F89A48" stroke-width="1.3"/>
<circle cx="455" cy="880" r="1.9" fill="none" stroke="#F89A48" stroke-width="1.3"/>
<circle cx="461.8" cy="880" r="1.9" fill="none" stroke="#F89A48" stroke-width="1.3"/>
<circle cx="468" cy="881" r="1.9" fill="none" stroke="#F89A48" stroke-width="1.3"/>
<circle cx="455" cy="886" r="1.9" fill="none" stroke="#F89A48" stroke-width="1.3"/>
<circle cx="461.8" cy="886" r="1.9" fill="none" stroke="#F89A48" stroke-width="1.3"/>
<circle cx="461.8" cy="894" r="1.9" fill="none" stroke="#F89A48" stroke-width="1.3"/>
<circle cx="461.8" cy="900" r="1.9" fill="none" stroke="#F89A48" stroke-width="1.3"/>
<circle cx="467" cy="898" r="1.9" fill="none" stroke="#F89A48" stroke-width="1.3"/>
<circle cx="458" cy="904" r="1.9" fill="none" stroke="#F89A48" stroke-width="1.3"/>
<circle cx="461.8" cy="908" r="1.9" fill="none" stroke="#F89A48" stroke-width="1.3"/>
<circle cx="455" cy="911" r="1.9" fill="none" stroke="#F89A48" stroke-width="1.3"/>
<path d="M461.8 806.2 L461.95 806.9 L462.1 807.61 L462.24 808.31 L462.39 809.01 L462.54 809.71 L462.68 810.42 L462.82 811.12 L462.97 811.82 L463.11 812.52 L463.26 813.23 L463.41 813.93 L463.55 814.63 L463.7 815.34 L463.85 816.04 L464.01 816.74 L464.16 817.44 L464.32 818.15 L464.48 818.85 L464.65 819.55 L464.81 820.25 L464.99 820.96 L465.19 821.66 L465.4 822.36 L465.62 823.07 L465.84 823.77 L466.07 824.47 L466.3 825.17 L466.53 825.88 L466.76 826.58 L466.98 827.28 L467.18 827.98 L467.37 828.69 L467.55 829.39 L467.71 830.09 L467.84 830.8 L467.95 831.5 L468.03 832.2 L468.11 832.9 L468.19 833.61 L468.26 834.31 L468.33 835.01 L468.4 835.71 L468.47 836.42 L468.53 837.12 L468.6 837.82 L468.66 838.53 L468.71 839.23 L468.77 839.93 L468.82 840.63 L468.86 841.34 L468.91 842.04 L468.95 842.74 L468.98 843.44 L469.01 844.15 L469.04 844.85 L469.06 845.55 L469.08 846.26 L469.09 846.96 L469.1 847.66 L469.1 848.36 L469.06 849.07 L468.95 849.77 L468.79 850.47 L468.59 851.17 L468.34 851.88 L468.07 852.58 L467.78 853.28 L467.47 853.99 L467.17 854.69 L466.87 855.39 L466.58 856.09 L466.33 856.8 L466.1 857.5 L465.92 858.2 L465.78 858.9 L465.71 859.61 L465.71 860.31 L465.81 861.01 L466 861.72 L466.28 862.42 L466.64 863.12 L467.06 863.82 L467.53 864.53 L468.04 865.23 L468.59 865.93 L469.15 866.63 L469.73 867.34 L470.31 868.04 L470.87 868.74 L471.42 869.45 L471.93 870.15 L472.4 870.85 L472.82 871.55 L473.2 872.26 L473.6 872.96 L474 873.66 L474.41 874.37 L474.83 875.07 L475.24 875.77 L475.65 876.47 L476.04 877.18 L476.42 877.88 L476.78 878.58 L477.12 879.28 L477.43 879.99 L477.71 880.69 L477.95 881.39 L478.15 882.1 L478.31 882.8 L478.41 883.5 L478.5 884.2 L478.58 884.91 L478.66 885.61 L478.74 886.31 L478.81 887.01 L478.87 887.72 L478.93 888.42 L478.98 889.12 L479.02 889.83 L479.05 890.53 L479.08 891.23 L479.09 891.93 L479.1 892.64 L479.08 893.34 L479 894.04 L478.88 894.74 L478.72 895.45 L478.51 896.15 L478.27 896.85 L478 897.56 L477.71 898.26 L477.39 898.96 L477.06 899.66 L476.72 900.37 L476.36 901.07 L476 901.77 L475.64 902.47 L475.29 903.18 L474.95 903.88 L474.61 904.58 L474.26 905.29 L473.87 905.99 L473.44 906.69 L472.99 907.39 L472.52 908.1 L472.04 908.8 L471.54 909.5 L471.03 910.2 L470.51 910.91 L470 911.61 L469.49 912.31 L468.99 913.02 L468.51 913.72 L468.04 914.42 L467.59 915.12 L467.17 915.83 L466.79 916.53 L466.43 917.23 L466.12 917.93 L465.85 918.64 L465.61 919.34 L465.37 920.04 L465.15 920.75 L464.94 921.45 L464.74 922.15 L464.55 922.85 L464.36 923.56 L464.18 924.26 L464.01 924.96 L463.85 925.66 L463.69 926.37 L463.53 927.07 L463.38 927.77 L463.22 928.48 L463.07 929.18 L462.92 929.88 L462.77 930.58 L462.62 931.29 L462.46 931.99 L462.3 932.69 L462.14 933.39 L461.97 934.1 L461.8 934.8 L461.8 934.8 L461.63 934.1 L461.46 933.39 L461.3 932.69 L461.14 931.99 L460.98 931.29 L460.83 930.58 L460.68 929.88 L460.53 929.18 L460.38 928.48 L460.22 927.77 L460.07 927.07 L459.91 926.37 L459.75 925.66 L459.59 924.96 L459.42 924.26 L459.24 923.56 L459.05 922.85 L458.86 922.15 L458.66 921.45 L458.45 920.75 L458.23 920.04 L457.99 919.34 L457.75 918.64 L457.48 917.93 L457.17 917.23 L456.81 916.53 L456.43 915.83 L456.01 915.12 L455.56 914.42 L455.09 913.72 L454.61 913.02 L454.11 912.31 L453.6 911.61 L453.09 910.91 L452.57 910.2 L452.06 909.5 L451.56 908.8 L451.08 908.1 L450.61 907.39 L450.16 906.69 L449.73 905.99 L449.34 905.29 L448.99 904.58 L448.65 903.88 L448.31 903.18 L447.96 902.47 L447.6 901.77 L447.24 901.07 L446.88 900.37 L446.54 899.66 L446.21 898.96 L445.89 898.26 L445.6 897.56 L445.33 896.85 L445.09 896.15 L444.88 895.45 L444.72 894.74 L444.6 894.04 L444.52 893.34 L444.5 892.64 L444.51 891.93 L444.52 891.23 L444.55 890.53 L444.58 889.83 L444.62 889.12 L444.67 888.42 L444.73 887.72 L444.79 887.01 L444.86 886.31 L444.94 885.61 L445.02 884.91 L445.1 884.2 L445.19 883.5 L445.29 882.8 L445.45 882.1 L445.65 881.39 L445.89 880.69 L446.17 879.99 L446.48 879.28 L446.82 878.58 L447.18 877.88 L447.56 877.18 L447.95 876.47 L448.36 875.77 L448.77 875.07 L449.19 874.37 L449.6 873.66 L450 872.96 L450.4 872.26 L450.78 871.55 L451.2 870.85 L451.67 870.15 L452.18 869.45 L452.73 868.74 L453.29 868.04 L453.87 867.34 L454.45 866.63 L455.01 865.93 L455.56 865.23 L456.07 864.53 L456.54 863.82 L456.96 863.12 L457.32 862.42 L457.6 861.72 L457.79 861.01 L457.89 860.31 L457.89 859.61 L457.82 858.9 L457.68 858.2 L457.5 857.5 L457.27 856.8 L457.02 856.09 L456.73 855.39 L456.43 854.69 L456.13 853.99 L455.82 853.28 L455.53 852.58 L455.26 851.88 L455.01 851.17 L454.81 850.47 L454.65 849.77 L454.54 849.07 L454.5 848.36 L454.5 847.66 L454.51 846.96 L454.52 846.26 L454.54 845.55 L454.56 844.85 L454.59 844.15 L454.62 843.44 L454.65 842.74 L454.69 842.04 L454.74 841.34 L454.78 840.63 L454.83 839.93 L454.89 839.23 L454.94 838.53 L455 837.82 L455.07 837.12 L455.13 836.42 L455.2 835.71 L455.27 835.01 L455.34 834.31 L455.41 833.61 L455.49 832.9 L455.57 832.2 L455.65 831.5 L455.76 830.8 L455.89 830.09 L456.05 829.39 L456.23 828.69 L456.42 827.98 L456.62 827.28 L456.84 826.58 L457.07 825.88 L457.3 825.17 L457.53 824.47 L457.76 823.77 L457.98 823.07 L458.2 822.36 L458.41 821.66 L458.61 820.96 L458.79 820.25 L458.95 819.55 L459.12 818.85 L459.28 818.15 L459.44 817.44 L459.59 816.74 L459.75 816.04 L459.9 815.34 L460.05 814.63 L460.19 813.93 L460.34 813.23 L460.49 812.52 L460.63 811.82 L460.78 811.12 L460.92 810.42 L461.06 809.71 L461.21 809.01 L461.36 808.31 L461.5 807.61 L461.65 806.9 L461.8 806.2 Z" fill="none" stroke="#FF7A12" stroke-width="2.3" stroke-linejoin="round"/>
<line x1="445.11" y1="884.1" x2="478.49" y2="884.1" stroke="#FF7A12" stroke-width="1.95"/>
<circle cx="508.6" cy="832" r="1.9" fill="none" stroke="#A2D6A2" stroke-width="1.3"/>
<circle cx="508.6" cy="856" r="1.9" fill="none" stroke="#A2D6A2" stroke-width="1.3"/>
<circle cx="508.6" cy="872" r="1.9" fill="none" stroke="#A2D6A2" stroke-width="1.3"/>
<circle cx="508.6" cy="881" r="1.9" fill="none" stroke="#A2D6A2" stroke-width="1.3"/>
<circle cx="508.6" cy="894" r="1.9" fill="none" stroke="#A2D6A2" stroke-width="1.3"/>
<circle cx="506" cy="901" r="1.9" fill="none" stroke="#A2D6A2" stroke-width="1.3"/>
<circle cx="512" cy="901" r="1.9" fill="none" stroke="#A2D6A2" stroke-width="1.3"/>
<circle cx="503" cy="910" r="1.9" fill="none" stroke="#A2D6A2" stroke-width="1.3"/>
<circle cx="508.6" cy="908" r="1.9" fill="none" stroke="#A2D6A2" stroke-width="1.3"/>
<circle cx="514" cy="908" r="1.9" fill="none" stroke="#A2D6A2" stroke-width="1.3"/>
<path d="M508.6 801.9 L508.69 802.6 L508.78 803.3 L508.88 804 L508.98 804.7 L509.09 805.41 L509.19 806.11 L509.3 806.81 L509.41 807.51 L509.52 808.21 L509.63 808.91 L509.74 809.61 L509.84 810.31 L509.95 811.01 L510.05 811.71 L510.15 812.42 L510.24 813.12 L510.34 813.82 L510.42 814.52 L510.51 815.22 L510.58 815.92 L510.65 816.62 L510.72 817.32 L510.78 818.02 L510.82 818.72 L510.87 819.43 L510.9 820.13 L510.92 820.83 L510.95 821.53 L510.97 822.23 L510.99 822.93 L511.01 823.63 L511.03 824.33 L511.05 825.03 L511.07 825.73 L511.08 826.44 L511.1 827.14 L511.11 827.84 L511.13 828.54 L511.14 829.24 L511.15 829.94 L511.17 830.64 L511.18 831.34 L511.19 832.04 L511.2 832.74 L511.21 833.45 L511.22 834.15 L511.23 834.85 L511.23 835.55 L511.24 836.25 L511.25 836.95 L511.26 837.65 L511.27 838.35 L511.28 839.05 L511.29 839.75 L511.29 840.46 L511.3 841.16 L511.31 841.86 L511.32 842.56 L511.33 843.26 L511.34 843.96 L511.35 844.66 L511.36 845.36 L511.37 846.06 L511.38 846.76 L511.4 847.47 L511.41 848.17 L511.43 848.87 L511.44 849.57 L511.46 850.27 L511.47 850.97 L511.49 851.67 L511.51 852.37 L511.53 853.07 L511.55 853.77 L511.57 854.48 L511.6 855.18 L511.62 855.88 L511.65 856.58 L511.68 857.28 L511.71 857.98 L511.74 858.68 L511.77 859.38 L511.81 860.08 L511.85 860.78 L511.89 861.49 L511.94 862.19 L511.98 862.89 L512.03 863.59 L512.09 864.29 L512.14 864.99 L512.2 865.69 L512.26 866.39 L512.32 867.09 L512.39 867.79 L512.46 868.5 L512.53 869.2 L512.61 869.9 L512.69 870.6 L512.78 871.3 L512.86 872 L512.96 872.7 L513.05 873.4 L513.15 874.1 L513.25 874.81 L513.36 875.51 L513.47 876.21 L513.59 876.91 L513.71 877.61 L513.83 878.31 L513.96 879.01 L514.15 879.71 L514.39 880.41 L514.69 881.11 L515.03 881.82 L515.41 882.52 L515.82 883.22 L516.27 883.92 L516.74 884.62 L517.23 885.32 L517.73 886.02 L518.25 886.72 L518.77 887.42 L519.29 888.12 L519.8 888.83 L520.3 889.53 L520.78 890.23 L521.28 890.93 L521.86 891.63 L522.49 892.33 L523.14 893.03 L523.8 893.73 L524.42 894.43 L524.99 895.13 L525.47 895.84 L525.84 896.54 L526.07 897.24 L526.18 897.94 L526.28 898.64 L526.37 899.34 L526.45 900.04 L526.52 900.74 L526.58 901.44 L526.63 902.14 L526.67 902.85 L526.69 903.55 L526.7 904.25 L526.66 904.95 L526.51 905.65 L526.26 906.35 L525.92 907.05 L525.49 907.75 L524.99 908.45 L524.43 909.15 L523.82 909.86 L523.18 910.56 L522.5 911.26 L521.81 911.96 L521.12 912.66 L520.43 913.36 L519.76 914.06 L519.11 914.76 L518.51 915.46 L517.95 916.16 L517.39 916.87 L516.78 917.57 L516.13 918.27 L515.47 918.97 L514.81 919.67 L514.14 920.37 L513.5 921.07 L512.89 921.77 L512.33 922.47 L511.82 923.17 L511.38 923.88 L511.02 924.58 L510.76 925.28 L510.58 925.98 L510.43 926.68 L510.28 927.38 L510.15 928.08 L510.02 928.78 L509.91 929.48 L509.81 930.18 L509.71 930.89 L509.62 931.59 L509.53 932.29 L509.45 932.99 L509.38 933.69 L509.3 934.39 L509.23 935.09 L509.16 935.79 L509.09 936.49 L509.02 937.19 L508.94 937.9 L508.86 938.6 L508.78 939.3 L508.69 940 L508.6 940.7 L508.6 940.7 L508.51 940 L508.42 939.3 L508.34 938.6 L508.26 937.9 L508.18 937.19 L508.11 936.49 L508.04 935.79 L507.97 935.09 L507.9 934.39 L507.82 933.69 L507.75 932.99 L507.67 932.29 L507.58 931.59 L507.49 930.89 L507.39 930.18 L507.29 929.48 L507.18 928.78 L507.05 928.08 L506.92 927.38 L506.77 926.68 L506.62 925.98 L506.44 925.28 L506.18 924.58 L505.82 923.88 L505.38 923.17 L504.87 922.47 L504.31 921.77 L503.7 921.07 L503.06 920.37 L502.39 919.67 L501.73 918.97 L501.07 918.27 L500.42 917.57 L499.81 916.87 L499.25 916.16 L498.69 915.46 L498.09 914.76 L497.44 914.06 L496.77 913.36 L496.08 912.66 L495.39 911.96 L494.7 911.26 L494.02 910.56 L493.38 909.86 L492.77 909.15 L492.21 908.45 L491.71 907.75 L491.28 907.05 L490.94 906.35 L490.69 905.65 L490.54 904.95 L490.5 904.25 L490.51 903.55 L490.53 902.85 L490.57 902.14 L490.62 901.44 L490.68 900.74 L490.75 900.04 L490.83 899.34 L490.92 898.64 L491.02 897.94 L491.13 897.24 L491.36 896.54 L491.73 895.84 L492.21 895.13 L492.78 894.43 L493.4 893.73 L494.06 893.03 L494.71 892.33 L495.34 891.63 L495.92 890.93 L496.42 890.23 L496.9 889.53 L497.4 888.83 L497.91 888.12 L498.43 887.42 L498.95 886.72 L499.47 886.02 L499.97 885.32 L500.46 884.62 L500.93 883.92 L501.38 883.22 L501.79 882.52 L502.17 881.82 L502.51 881.11 L502.81 880.41 L503.05 879.71 L503.24 879.01 L503.37 878.31 L503.49 877.61 L503.61 876.91 L503.73 876.21 L503.84 875.51 L503.95 874.81 L504.05 874.1 L504.15 873.4 L504.24 872.7 L504.34 872 L504.42 871.3 L504.51 870.6 L504.59 869.9 L504.67 869.2 L504.74 868.5 L504.81 867.79 L504.88 867.09 L504.94 866.39 L505 865.69 L505.06 864.99 L505.11 864.29 L505.17 863.59 L505.22 862.89 L505.26 862.19 L505.31 861.49 L505.35 860.78 L505.39 860.08 L505.43 859.38 L505.46 858.68 L505.49 857.98 L505.52 857.28 L505.55 856.58 L505.58 855.88 L505.6 855.18 L505.63 854.48 L505.65 853.77 L505.67 853.07 L505.69 852.37 L505.71 851.67 L505.73 850.97 L505.74 850.27 L505.76 849.57 L505.77 848.87 L505.79 848.17 L505.8 847.47 L505.82 846.76 L505.83 846.06 L505.84 845.36 L505.85 844.66 L505.86 843.96 L505.87 843.26 L505.88 842.56 L505.89 841.86 L505.9 841.16 L505.91 840.46 L505.91 839.75 L505.92 839.05 L505.93 838.35 L505.94 837.65 L505.95 836.95 L505.96 836.25 L505.97 835.55 L505.97 834.85 L505.98 834.15 L505.99 833.45 L506 832.74 L506.01 832.04 L506.02 831.34 L506.03 830.64 L506.05 829.94 L506.06 829.24 L506.07 828.54 L506.09 827.84 L506.1 827.14 L506.12 826.44 L506.13 825.73 L506.15 825.03 L506.17 824.33 L506.19 823.63 L506.21 822.93 L506.23 822.23 L506.25 821.53 L506.28 820.83 L506.3 820.13 L506.33 819.43 L506.38 818.72 L506.42 818.02 L506.48 817.32 L506.55 816.62 L506.62 815.92 L506.69 815.22 L506.78 814.52 L506.86 813.82 L506.96 813.12 L507.05 812.42 L507.15 811.71 L507.25 811.01 L507.36 810.31 L507.46 809.61 L507.57 808.91 L507.68 808.21 L507.79 807.51 L507.9 806.81 L508.01 806.11 L508.11 805.41 L508.22 804.7 L508.32 804 L508.42 803.3 L508.51 802.6 L508.6 801.9 Z" fill="none" stroke="#12BC12" stroke-width="2.3" stroke-linejoin="round"/>
<line x1="491.29" y1="896.7" x2="525.91" y2="896.7" stroke="#12BC12" stroke-width="1.95"/>
<line x1="266" y1="712" x2="266" y2="781" stroke="#05C07C" stroke-width="1.1"/>
<line x1="296.5" y1="712" x2="296.5" y2="786.3" stroke="#05C07C" stroke-width="1.1"/>
<line x1="289.3" y1="712" x2="289.3" y2="752" stroke="#05C07C" stroke-width="1.1"/>
<text x="533.5" y="595.7" font-size="37.5" fill="#000" stroke="#000" stroke-width="0.8" stroke-linejoin="round">N</text>
<rect x="598.3" y="593.8" width="4" height="134.2" fill="#000"/>
<line x1="594.3" y1="594.7" x2="600.3" y2="594.7" stroke="#000" stroke-width="1.5"/>
<text x="567.64" y="601.2" font-size="17" fill="#000" stroke="#000" stroke-width="0.7" stroke-linejoin="round" textLength="25.53" lengthAdjust="spacingAndGlyphs">175</text>
<line x1="594.3" y1="628.1" x2="600.3" y2="628.1" stroke="#000" stroke-width="1.5"/>
<text x="567.56" y="634.6" font-size="17" fill="#000" stroke="#000" stroke-width="0.7" stroke-linejoin="round" textLength="25.53" lengthAdjust="spacingAndGlyphs">150</text>
<line x1="594.3" y1="660.8" x2="600.3" y2="660.8" stroke="#000" stroke-width="1.5"/>
<text x="567.64" y="667.3" font-size="17" fill="#000" stroke="#000" stroke-width="0.7" stroke-linejoin="round" textLength="25.53" lengthAdjust="spacingAndGlyphs">125</text>
<line x1="594.3" y1="694.8" x2="600.3" y2="694.8" stroke="#000" stroke-width="1.5"/>
<text x="567.56" y="701.3" font-size="17" fill="#000" stroke="#000" stroke-width="0.7" stroke-linejoin="round" textLength="25.53" lengthAdjust="spacingAndGlyphs">100</text>
<line x1="594.3" y1="727" x2="600.3" y2="727" stroke="#000" stroke-width="1.5"/>
<text x="576.13" y="733.5" font-size="17" fill="#000" stroke="#000" stroke-width="0.7" stroke-linejoin="round" textLength="17.02" lengthAdjust="spacingAndGlyphs">75</text>
<text transform="translate(555.1 745.71) rotate(-90)" font-size="22.5" fill="#000" stroke="#000" stroke-width="0.75" stroke-linejoin="round" textLength="143.86" lengthAdjust="spacingAndGlyphs">EPSP Ampl. (%)</text>
<rect x="616" y="732.2" width="84.4" height="3.8" fill="#000"/>
<line x1="616.8" y1="734" x2="616.8" y2="738.6" stroke="#000" stroke-width="1.5"/>
<line x1="625.06" y1="734" x2="625.06" y2="738.6" stroke="#000" stroke-width="1.5"/>
<line x1="633.32" y1="734" x2="633.32" y2="738.6" stroke="#000" stroke-width="1.5"/>
<line x1="641.58" y1="734" x2="641.58" y2="738.6" stroke="#000" stroke-width="1.5"/>
<line x1="649.84" y1="734" x2="649.84" y2="738.6" stroke="#000" stroke-width="1.5"/>
<line x1="658.1" y1="734" x2="658.1" y2="738.6" stroke="#000" stroke-width="1.5"/>
<line x1="666.36" y1="734" x2="666.36" y2="738.6" stroke="#000" stroke-width="1.5"/>
<line x1="674.62" y1="734" x2="674.62" y2="738.6" stroke="#000" stroke-width="1.5"/>
<line x1="682.88" y1="734" x2="682.88" y2="738.6" stroke="#000" stroke-width="1.5"/>
<line x1="691.14" y1="734" x2="691.14" y2="738.6" stroke="#000" stroke-width="1.5"/>
<line x1="699.4" y1="734" x2="699.4" y2="738.6" stroke="#000" stroke-width="1.5"/>
<rect x="723.2" y="732.2" width="174" height="3.8" fill="#000"/>
<line x1="724" y1="734" x2="724" y2="738.6" stroke="#000" stroke-width="1.5"/>
<line x1="733.07" y1="734" x2="733.07" y2="738.6" stroke="#000" stroke-width="1.5"/>
<line x1="742.15" y1="734" x2="742.15" y2="738.6" stroke="#000" stroke-width="1.5"/>
<line x1="751.22" y1="734" x2="751.22" y2="738.6" stroke="#000" stroke-width="1.5"/>
<line x1="760.29" y1="734" x2="760.29" y2="738.6" stroke="#000" stroke-width="1.5"/>
<line x1="769.37" y1="734" x2="769.37" y2="738.6" stroke="#000" stroke-width="1.5"/>
<line x1="778.44" y1="734" x2="778.44" y2="738.6" stroke="#000" stroke-width="1.5"/>
<line x1="787.52" y1="734" x2="787.52" y2="738.6" stroke="#000" stroke-width="1.5"/>
<line x1="796.59" y1="734" x2="796.59" y2="738.6" stroke="#000" stroke-width="1.5"/>
<line x1="805.66" y1="734" x2="805.66" y2="738.6" stroke="#000" stroke-width="1.5"/>
<line x1="814.74" y1="734" x2="814.74" y2="738.6" stroke="#000" stroke-width="1.5"/>
<line x1="823.81" y1="734" x2="823.81" y2="738.6" stroke="#000" stroke-width="1.5"/>
<line x1="832.88" y1="734" x2="832.88" y2="738.6" stroke="#000" stroke-width="1.5"/>
<line x1="841.96" y1="734" x2="841.96" y2="738.6" stroke="#000" stroke-width="1.5"/>
<line x1="851.03" y1="734" x2="851.03" y2="738.6" stroke="#000" stroke-width="1.5"/>
<line x1="860.11" y1="734" x2="860.11" y2="738.6" stroke="#000" stroke-width="1.5"/>
<line x1="869.18" y1="734" x2="869.18" y2="738.6" stroke="#000" stroke-width="1.5"/>
<line x1="878.25" y1="734" x2="878.25" y2="738.6" stroke="#000" stroke-width="1.5"/>
<line x1="887.33" y1="734" x2="887.33" y2="738.6" stroke="#000" stroke-width="1.5"/>
<line x1="896.4" y1="734" x2="896.4" y2="738.6" stroke="#000" stroke-width="1.5"/>
<text x="602.44" y="754.7" font-size="16.5" fill="#000" stroke="#000" stroke-width="0.7" stroke-linejoin="round" textLength="22.66" lengthAdjust="spacingAndGlyphs">-10</text>
<text x="655.62" y="754.7" font-size="16.5" fill="#000" stroke="#000" stroke-width="0.7" stroke-linejoin="round" textLength="13.94" lengthAdjust="spacingAndGlyphs">-5</text>
<text x="687.66" y="754.7" font-size="16.5" fill="#000" stroke="#000" stroke-width="0.7" stroke-linejoin="round" textLength="13.94" lengthAdjust="spacingAndGlyphs">-1</text>
<text x="719.12" y="754.7" font-size="16.5" fill="#000" stroke="#000" stroke-width="0.7" stroke-linejoin="round" textLength="8.72" lengthAdjust="spacingAndGlyphs">1</text>
<text x="757.25" y="754.7" font-size="16.5" fill="#000" stroke="#000" stroke-width="0.7" stroke-linejoin="round" textLength="8.72" lengthAdjust="spacingAndGlyphs">5</text>
<text x="796.19" y="754.7" font-size="16.5" fill="#000" stroke="#000" stroke-width="0.7" stroke-linejoin="round" textLength="17.44" lengthAdjust="spacingAndGlyphs">10</text>
<text x="842.83" y="754.7" font-size="16.5" fill="#000" stroke="#000" stroke-width="0.7" stroke-linejoin="round" textLength="17.44" lengthAdjust="spacingAndGlyphs">15</text>
<text x="886.68" y="754.7" font-size="16.5" fill="#000" stroke="#000" stroke-width="0.7" stroke-linejoin="round" textLength="17.44" lengthAdjust="spacingAndGlyphs">20</text>
<text x="728.85" y="770.1" font-size="15.5" fill="#000" stroke="#000" stroke-width="0.75" stroke-linejoin="round" textLength="55.36" lengthAdjust="spacingAndGlyphs">minutes</text>
<rect x="716.6" y="619.2" width="180.6" height="4.4" fill="#9A9A9A"/>
<text x="712.49" y="615.2" font-size="15.5" fill="#FF7A1A" stroke="#FF7A1A" stroke-width="0.2" stroke-linejoin="round" textLength="34.66" lengthAdjust="spacingAndGlyphs">DHB</text>
<text x="746.54" y="615.2" font-size="15.5" fill="#000" stroke="#000" stroke-width="0.2" stroke-linejoin="round" textLength="6.67" lengthAdjust="spacingAndGlyphs">,</text>
<text x="754.09" y="615.2" font-size="15.5" fill="#7F7F10" stroke="#7F7F10" stroke-width="0.2" stroke-linejoin="round" textLength="82.5" lengthAdjust="spacingAndGlyphs">DHB+Niacin</text>
<text x="839.3" y="615.2" font-size="15.5" fill="#000" stroke="#000" stroke-width="0.2" stroke-linejoin="round" textLength="13.31" lengthAdjust="spacingAndGlyphs">or</text>
<text x="855.41" y="615.2" font-size="15.5" fill="#3ED66E" stroke="#3ED66E" stroke-width="0.2" stroke-linejoin="round" textLength="41.47" lengthAdjust="spacingAndGlyphs">Niacin</text>
<text x="696.19" y="676" font-size="17" fill="#000" font-weight="bold" stroke="#000" stroke-width="0.7" stroke-linejoin="round">1</text>
<text x="893.87" y="651.2" font-size="15.5" fill="#555" stroke="#555" stroke-width="0.7" stroke-linejoin="round" textLength="8.71" lengthAdjust="spacingAndGlyphs">2</text>
<circle cx="616.8" cy="697" r="7.7" fill="#D4D2A0" stroke="#8E8A1C" stroke-width="2.1"/>
<circle cx="625.98" cy="694" r="7.7" fill="#D4D2A0" stroke="#8E8A1C" stroke-width="2.1"/>
<circle cx="635.16" cy="707.1" r="7.7" fill="#D4D2A0" stroke="#8E8A1C" stroke-width="2.1"/>
<circle cx="644.33" cy="682.3" r="7.7" fill="#D4D2A0" stroke="#8E8A1C" stroke-width="2.1"/>
<circle cx="653.51" cy="704.1" r="7.7" fill="#D4D2A0" stroke="#8E8A1C" stroke-width="2.1"/>
<circle cx="662.69" cy="683.1" r="7.7" fill="#D4D2A0" stroke="#8E8A1C" stroke-width="2.1"/>
<circle cx="671.87" cy="704.1" r="7.7" fill="#D4D2A0" stroke="#8E8A1C" stroke-width="2.1"/>
<circle cx="681.04" cy="695" r="7.7" fill="#D4D2A0" stroke="#8E8A1C" stroke-width="2.1"/>
<circle cx="690.22" cy="698" r="7.7" fill="#D4D2A0" stroke="#8E8A1C" stroke-width="2.1"/>
<circle cx="699.4" cy="690" r="7.7" fill="#D4D2A0" stroke="#8E8A1C" stroke-width="2.1"/>
<line x1="723.2" y1="688" x2="723.2" y2="696" stroke="#8E8A1C" stroke-width="1.8"/>
<line x1="732.9" y1="686" x2="732.9" y2="694" stroke="#8E8A1C" stroke-width="1.8"/>
<line x1="742" y1="684" x2="742" y2="692" stroke="#8E8A1C" stroke-width="1.8"/>
<line x1="750.3" y1="685.4" x2="750.3" y2="693.4" stroke="#8E8A1C" stroke-width="1.8"/>
<line x1="760" y1="687.8" x2="760" y2="695.8" stroke="#8E8A1C" stroke-width="1.8"/>
<line x1="768.7" y1="684" x2="768.7" y2="694" stroke="#8E8A1C" stroke-width="1.8"/>
<line x1="778.3" y1="682" x2="778.3" y2="692" stroke="#8E8A1C" stroke-width="1.8"/>
<line x1="787.9" y1="682" x2="787.9" y2="692" stroke="#8E8A1C" stroke-width="1.8"/>
<line x1="795.9" y1="679.6" x2="795.9" y2="689.6" stroke="#8E8A1C" stroke-width="1.8"/>
<line x1="805.4" y1="676" x2="805.4" y2="688" stroke="#8E8A1C" stroke-width="1.8"/>
<line x1="814.2" y1="674" x2="814.2" y2="686" stroke="#8E8A1C" stroke-width="1.8"/>
<line x1="824.6" y1="669.8" x2="824.6" y2="681.8" stroke="#8E8A1C" stroke-width="1.8"/>
<line x1="833.4" y1="688" x2="833.4" y2="702" stroke="#8E8A1C" stroke-width="1.8"/>
<line x1="842.2" y1="687.2" x2="842.2" y2="701.2" stroke="#8E8A1C" stroke-width="1.8"/>
<line x1="850.9" y1="671.2" x2="850.9" y2="685.2" stroke="#8E8A1C" stroke-width="1.8"/>
<line x1="860.5" y1="676" x2="860.5" y2="690" stroke="#8E8A1C" stroke-width="1.8"/>
<line x1="869.3" y1="682" x2="869.3" y2="698" stroke="#8E8A1C" stroke-width="1.8"/>
<line x1="878.1" y1="684" x2="878.1" y2="700" stroke="#8E8A1C" stroke-width="1.8"/>
<line x1="887.6" y1="689.4" x2="887.6" y2="705.4" stroke="#8E8A1C" stroke-width="1.8"/>
<line x1="897.2" y1="687.4" x2="897.2" y2="707.4" stroke="#8E8A1C" stroke-width="1.8"/>
<circle cx="723.2" cy="692" r="7.7" fill="#D4D2A0" stroke="#8E8A1C" stroke-width="2.1"/>
<circle cx="732.9" cy="690" r="7.7" fill="#D4D2A0" stroke="#8E8A1C" stroke-width="2.1"/>
<circle cx="742" cy="688" r="7.7" fill="#D4D2A0" stroke="#8E8A1C" stroke-width="2.1"/>
<circle cx="750.3" cy="689.4" r="7.7" fill="#D4D2A0" stroke="#8E8A1C" stroke-width="2.1"/>
<circle cx="760" cy="691.8" r="7.7" fill="#D4D2A0" stroke="#8E8A1C" stroke-width="2.1"/>
<circle cx="768.7" cy="689" r="7.7" fill="#D4D2A0" stroke="#8E8A1C" stroke-width="2.1"/>
<circle cx="778.3" cy="687" r="7.7" fill="#D4D2A0" stroke="#8E8A1C" stroke-width="2.1"/>
<circle cx="787.9" cy="687" r="7.7" fill="#D4D2A0" stroke="#8E8A1C" stroke-width="2.1"/>
<circle cx="795.9" cy="684.6" r="7.7" fill="#D4D2A0" stroke="#8E8A1C" stroke-width="2.1"/>
<circle cx="805.4" cy="682" r="7.7" fill="#D4D2A0" stroke="#8E8A1C" stroke-width="2.1"/>
<circle cx="814.2" cy="680" r="7.7" fill="#D4D2A0" stroke="#8E8A1C" stroke-width="2.1"/>
<circle cx="824.6" cy="675.8" r="7.7" fill="#D4D2A0" stroke="#8E8A1C" stroke-width="2.1"/>
<circle cx="833.4" cy="695" r="7.7" fill="#D4D2A0" stroke="#8E8A1C" stroke-width="2.1"/>
<circle cx="842.2" cy="694.2" r="7.7" fill="#D4D2A0" stroke="#8E8A1C" stroke-width="2.1"/>
<circle cx="850.9" cy="678.2" r="7.7" fill="#D4D2A0" stroke="#8E8A1C" stroke-width="2.1"/>
<circle cx="860.5" cy="683" r="7.7" fill="#D4D2A0" stroke="#8E8A1C" stroke-width="2.1"/>
<circle cx="869.3" cy="690" r="7.7" fill="#D4D2A0" stroke="#8E8A1C" stroke-width="2.1"/>
<circle cx="878.1" cy="692" r="7.7" fill="#D4D2A0" stroke="#8E8A1C" stroke-width="2.1"/>
<circle cx="887.6" cy="697.4" r="7.7" fill="#D4D2A0" stroke="#8E8A1C" stroke-width="2.1"/>
<circle cx="897.2" cy="697.4" r="7.7" fill="#D4D2A0" stroke="#8E8A1C" stroke-width="2.1"/>
<circle cx="616.8" cy="690.6" r="7.7" fill="#3EE0AE" stroke="#13996A" stroke-width="2.1"/>
<circle cx="625.98" cy="688.4" r="7.7" fill="#3EE0AE" stroke="#13996A" stroke-width="2.1"/>
<circle cx="635.16" cy="695" r="7.7" fill="#3EE0AE" stroke="#13996A" stroke-width="2.1"/>
<circle cx="644.33" cy="701" r="7.7" fill="#3EE0AE" stroke="#13996A" stroke-width="2.1"/>
<circle cx="653.51" cy="701.9" r="7.7" fill="#3EE0AE" stroke="#13996A" stroke-width="2.1"/>
<circle cx="662.69" cy="696.6" r="7.7" fill="#3EE0AE" stroke="#13996A" stroke-width="2.1"/>
<circle cx="671.87" cy="698.1" r="7.7" fill="#3EE0AE" stroke="#13996A" stroke-width="2.1"/>
<circle cx="681.04" cy="689.1" r="7.7" fill="#3EE0AE" stroke="#13996A" stroke-width="2.1"/>
<circle cx="690.22" cy="692" r="7.7" fill="#3EE0AE" stroke="#13996A" stroke-width="2.1"/>
<circle cx="699.4" cy="686.1" r="7.7" fill="#3EE0AE" stroke="#13996A" stroke-width="2.1"/>
<line x1="723.2" y1="660.1" x2="723.2" y2="676.1" stroke="#13996A" stroke-width="1.8"/>
<line x1="732.9" y1="653.1" x2="732.9" y2="665.1" stroke="#13996A" stroke-width="1.8"/>
<line x1="742" y1="663" x2="742" y2="673" stroke="#13996A" stroke-width="1.8"/>
<line x1="750.3" y1="672.5" x2="750.3" y2="680.5" stroke="#13996A" stroke-width="1.8"/>
<line x1="760" y1="671.8" x2="760" y2="679.8" stroke="#13996A" stroke-width="1.8"/>
<line x1="768.7" y1="665.2" x2="768.7" y2="675.2" stroke="#13996A" stroke-width="1.8"/>
<line x1="778.3" y1="653.7" x2="778.3" y2="667.7" stroke="#13996A" stroke-width="1.8"/>
<line x1="787.9" y1="662.8" x2="787.9" y2="680.8" stroke="#13996A" stroke-width="1.8"/>
<line x1="795.9" y1="634.1" x2="795.9" y2="671.3" stroke="#13996A" stroke-width="1.8"/>
<line x1="805.4" y1="642.5" x2="805.4" y2="672.5" stroke="#13996A" stroke-width="1.8"/>
<line x1="814.2" y1="638" x2="814.2" y2="669" stroke="#13996A" stroke-width="1.8"/>
<line x1="824.6" y1="628.5" x2="824.6" y2="678.5" stroke="#13996A" stroke-width="1.8"/>
<line x1="833.4" y1="657.6" x2="833.4" y2="679.6" stroke="#13996A" stroke-width="1.8"/>
<line x1="842.2" y1="628.5" x2="842.2" y2="680.1" stroke="#13996A" stroke-width="1.8"/>
<line x1="850.9" y1="639.7" x2="850.9" y2="684.7" stroke="#13996A" stroke-width="1.8"/>
<line x1="860.5" y1="639.9" x2="860.5" y2="679.9" stroke="#13996A" stroke-width="1.8"/>
<line x1="869.3" y1="632.5" x2="869.3" y2="679.3" stroke="#13996A" stroke-width="1.8"/>
<line x1="878.1" y1="642.9" x2="878.1" y2="680.1" stroke="#13996A" stroke-width="1.8"/>
<line x1="887.6" y1="642.8" x2="887.6" y2="684.8" stroke="#13996A" stroke-width="1.8"/>
<line x1="897.2" y1="655" x2="897.2" y2="695" stroke="#13996A" stroke-width="1.8"/>
<circle cx="723.2" cy="668.1" r="7.7" fill="#3EE0AE" stroke="#13996A" stroke-width="2.1"/>
<circle cx="732.9" cy="659.1" r="7.7" fill="#3EE0AE" stroke="#13996A" stroke-width="2.1"/>
<circle cx="742" cy="668" r="7.7" fill="#3EE0AE" stroke="#13996A" stroke-width="2.1"/>
<circle cx="750.3" cy="676.5" r="7.7" fill="#3EE0AE" stroke="#13996A" stroke-width="2.1"/>
<circle cx="760" cy="675.8" r="7.7" fill="#3EE0AE" stroke="#13996A" stroke-width="2.1"/>
<circle cx="768.7" cy="670.2" r="7.7" fill="#3EE0AE" stroke="#13996A" stroke-width="2.1"/>
<circle cx="778.3" cy="660.7" r="7.7" fill="#3EE0AE" stroke="#13996A" stroke-width="2.1"/>
<circle cx="787.9" cy="671.8" r="7.7" fill="#3EE0AE" stroke="#13996A" stroke-width="2.1"/>
<circle cx="795.9" cy="652.7" r="7.7" fill="#3EE0AE" stroke="#13996A" stroke-width="2.1"/>
<circle cx="805.4" cy="657.5" r="7.7" fill="#3EE0AE" stroke="#13996A" stroke-width="2.1"/>
<circle cx="814.2" cy="653.5" r="7.7" fill="#3EE0AE" stroke="#13996A" stroke-width="2.1"/>
<circle cx="824.6" cy="653.5" r="7.7" fill="#3EE0AE" stroke="#13996A" stroke-width="2.1"/>
<circle cx="833.4" cy="668.6" r="7.7" fill="#3EE0AE" stroke="#13996A" stroke-width="2.1"/>
<circle cx="842.2" cy="654.3" r="7.7" fill="#3EE0AE" stroke="#13996A" stroke-width="2.1"/>
<circle cx="850.9" cy="662.2" r="7.7" fill="#3EE0AE" stroke="#13996A" stroke-width="2.1"/>
<circle cx="860.5" cy="659.9" r="7.7" fill="#3EE0AE" stroke="#13996A" stroke-width="2.1"/>
<circle cx="869.3" cy="655.9" r="7.7" fill="#3EE0AE" stroke="#13996A" stroke-width="2.1"/>
<circle cx="878.1" cy="661.5" r="7.7" fill="#3EE0AE" stroke="#13996A" stroke-width="2.1"/>
<circle cx="887.6" cy="663.8" r="7.7" fill="#3EE0AE" stroke="#13996A" stroke-width="2.1"/>
<circle cx="897.2" cy="675" r="7.7" fill="#3EE0AE" stroke="#13996A" stroke-width="2.1"/>
<circle cx="616.8" cy="698.1" r="7.7" fill="#F9BE8C" stroke="#FF6A12" stroke-width="2.1"/>
<circle cx="625.98" cy="700.4" r="7.7" fill="#F9BE8C" stroke="#FF6A12" stroke-width="2.1"/>
<circle cx="635.16" cy="698.1" r="7.7" fill="#F9BE8C" stroke="#FF6A12" stroke-width="2.1"/>
<circle cx="644.33" cy="690.6" r="7.7" fill="#F9BE8C" stroke="#FF6A12" stroke-width="2.1"/>
<circle cx="653.51" cy="688.4" r="7.7" fill="#F9BE8C" stroke="#FF6A12" stroke-width="2.1"/>
<circle cx="662.69" cy="695.1" r="7.7" fill="#F9BE8C" stroke="#FF6A12" stroke-width="2.1"/>
<circle cx="671.87" cy="688.4" r="7.7" fill="#F9BE8C" stroke="#FF6A12" stroke-width="2.1"/>
<circle cx="681.04" cy="699.6" r="7.7" fill="#F9BE8C" stroke="#FF6A12" stroke-width="2.1"/>
<circle cx="690.22" cy="701.9" r="7.7" fill="#F9BE8C" stroke="#FF6A12" stroke-width="2.1"/>
<circle cx="699.4" cy="691.4" r="7.7" fill="#F9BE8C" stroke="#FF6A12" stroke-width="2.1"/>
<line x1="723.2" y1="690.4" x2="723.2" y2="698.4" stroke="#FF6A12" stroke-width="1.8"/>
<line x1="732.9" y1="689.6" x2="732.9" y2="697.6" stroke="#FF6A12" stroke-width="1.8"/>
<line x1="742" y1="695" x2="742" y2="703" stroke="#FF6A12" stroke-width="1.8"/>
<line x1="750.3" y1="705.1" x2="750.3" y2="715.1" stroke="#FF6A12" stroke-width="1.8"/>
<line x1="760" y1="693.2" x2="760" y2="703.2" stroke="#FF6A12" stroke-width="1.8"/>
<line x1="768.7" y1="705.7" x2="768.7" y2="717.7" stroke="#FF6A12" stroke-width="1.8"/>
<line x1="778.3" y1="696.4" x2="778.3" y2="706.4" stroke="#FF6A12" stroke-width="1.8"/>
<line x1="787.9" y1="693.2" x2="787.9" y2="703.2" stroke="#FF6A12" stroke-width="1.8"/>
<line x1="795.9" y1="690" x2="795.9" y2="700" stroke="#FF6A12" stroke-width="1.8"/>
<line x1="805.4" y1="679.4" x2="805.4" y2="691.4" stroke="#FF6A12" stroke-width="1.8"/>
<line x1="814.2" y1="678.6" x2="814.2" y2="690.6" stroke="#FF6A12" stroke-width="1.8"/>
<line x1="824.6" y1="675.4" x2="824.6" y2="687.4" stroke="#FF6A12" stroke-width="1.8"/>
<line x1="833.4" y1="680.2" x2="833.4" y2="692.2" stroke="#FF6A12" stroke-width="1.8"/>
<line x1="842.2" y1="677" x2="842.2" y2="689" stroke="#FF6A12" stroke-width="1.8"/>
<line x1="850.9" y1="680.8" x2="850.9" y2="694.8" stroke="#FF6A12" stroke-width="1.8"/>
<line x1="860.5" y1="683.6" x2="860.5" y2="701.6" stroke="#FF6A12" stroke-width="1.8"/>
<line x1="869.3" y1="685.2" x2="869.3" y2="703.2" stroke="#FF6A12" stroke-width="1.8"/>
<line x1="878.1" y1="681.6" x2="878.1" y2="695.6" stroke="#FF6A12" stroke-width="1.8"/>
<line x1="887.6" y1="679.2" x2="887.6" y2="693.2" stroke="#FF6A12" stroke-width="1.8"/>
<line x1="897.2" y1="685" x2="897.2" y2="697" stroke="#FF6A12" stroke-width="1.8"/>
<circle cx="723.2" cy="694.4" r="7.7" fill="#F9BE8C" stroke="#FF6A12" stroke-width="2.1"/>
<circle cx="732.9" cy="693.6" r="7.7" fill="#F9BE8C" stroke="#FF6A12" stroke-width="2.1"/>
<circle cx="742" cy="699" r="7.7" fill="#F9BE8C" stroke="#FF6A12" stroke-width="2.1"/>
<circle cx="750.3" cy="710.1" r="7.7" fill="#F9BE8C" stroke="#FF6A12" stroke-width="2.1"/>
<circle cx="760" cy="698.2" r="7.7" fill="#F9BE8C" stroke="#FF6A12" stroke-width="2.1"/>
<circle cx="768.7" cy="711.7" r="7.7" fill="#F9BE8C" stroke="#FF6A12" stroke-width="2.1"/>
<circle cx="778.3" cy="701.4" r="7.7" fill="#F9BE8C" stroke="#FF6A12" stroke-width="2.1"/>
<circle cx="787.9" cy="698.2" r="7.7" fill="#F9BE8C" stroke="#FF6A12" stroke-width="2.1"/>
<circle cx="795.9" cy="695" r="7.7" fill="#F9BE8C" stroke="#FF6A12" stroke-width="2.1"/>
<circle cx="805.4" cy="685.4" r="7.7" fill="#F9BE8C" stroke="#FF6A12" stroke-width="2.1"/>
<circle cx="814.2" cy="684.6" r="7.7" fill="#F9BE8C" stroke="#FF6A12" stroke-width="2.1"/>
<circle cx="824.6" cy="681.4" r="7.7" fill="#F9BE8C" stroke="#FF6A12" stroke-width="2.1"/>
<circle cx="833.4" cy="686.2" r="7.7" fill="#F9BE8C" stroke="#FF6A12" stroke-width="2.1"/>
<circle cx="842.2" cy="683" r="7.7" fill="#F9BE8C" stroke="#FF6A12" stroke-width="2.1"/>
<circle cx="850.9" cy="687.8" r="7.7" fill="#F9BE8C" stroke="#FF6A12" stroke-width="2.1"/>
<circle cx="860.5" cy="692.6" r="7.7" fill="#F9BE8C" stroke="#FF6A12" stroke-width="2.1"/>
<circle cx="869.3" cy="694.2" r="7.7" fill="#F9BE8C" stroke="#FF6A12" stroke-width="2.1"/>
<circle cx="878.1" cy="688.6" r="7.7" fill="#F9BE8C" stroke="#FF6A12" stroke-width="2.1"/>
<circle cx="887.6" cy="686.2" r="7.7" fill="#F9BE8C" stroke="#FF6A12" stroke-width="2.1"/>
<circle cx="897.2" cy="691" r="7.7" fill="#F9BE8C" stroke="#FF6A12" stroke-width="2.1"/>
<line x1="606.7" y1="695.3" x2="901" y2="695.3" stroke="#4A4A4A" stroke-width="2.8" stroke-dasharray="3.4 2.4"/>
<text x="534.41" y="777" font-size="37.5" fill="#000" stroke="#000" stroke-width="0.8" stroke-linejoin="round">O</text>
<rect x="599.8" y="775.2" width="4" height="137.8" fill="#000"/>
<line x1="595.8" y1="776.2" x2="601.8" y2="776.2" stroke="#000" stroke-width="1.5"/>
<text x="568.06" y="782.7" font-size="17" fill="#000" stroke="#000" stroke-width="0.7" stroke-linejoin="round" textLength="25.53" lengthAdjust="spacingAndGlyphs">250</text>
<line x1="595.8" y1="809.2" x2="601.8" y2="809.2" stroke="#000" stroke-width="1.5"/>
<text x="568.06" y="815.7" font-size="17" fill="#000" stroke="#000" stroke-width="0.7" stroke-linejoin="round" textLength="25.53" lengthAdjust="spacingAndGlyphs">200</text>
<line x1="595.8" y1="844.1" x2="601.8" y2="844.1" stroke="#000" stroke-width="1.5"/>
<text x="568.06" y="850.6" font-size="17" fill="#000" stroke="#000" stroke-width="0.7" stroke-linejoin="round" textLength="25.53" lengthAdjust="spacingAndGlyphs">150</text>
<line x1="595.8" y1="878" x2="601.8" y2="878" stroke="#000" stroke-width="1.5"/>
<text x="568.06" y="884.5" font-size="17" fill="#000" stroke="#000" stroke-width="0.7" stroke-linejoin="round" textLength="25.53" lengthAdjust="spacingAndGlyphs">100</text>
<line x1="595.8" y1="912" x2="601.8" y2="912" stroke="#000" stroke-width="1.5"/>
<text x="576.55" y="918.5" font-size="17" fill="#000" stroke="#000" stroke-width="0.7" stroke-linejoin="round" textLength="17.02" lengthAdjust="spacingAndGlyphs">50</text>
<text transform="translate(555.4 925.11) rotate(-90)" font-size="22.5" fill="#000" stroke="#000" stroke-width="0.75" stroke-linejoin="round" textLength="143.66" lengthAdjust="spacingAndGlyphs">EPSP Ampl. (%)</text>
<line x1="615.6" y1="934.8" x2="661.3" y2="934.8" stroke="#000" stroke-width="3"/>
<text x="627.54" y="952.6" font-size="17" fill="#000" stroke="#000" stroke-width="0.7" stroke-linejoin="round" textLength="22.61" lengthAdjust="spacingAndGlyphs">0-5</text>
<line x1="693.4" y1="934.8" x2="738.7" y2="934.8" stroke="#000" stroke-width="3"/>
<text x="700.44" y="952.6" font-size="17" fill="#000" stroke="#000" stroke-width="0.7" stroke-linejoin="round" textLength="31.3" lengthAdjust="spacingAndGlyphs">6-10</text>
<line x1="774.4" y1="934.8" x2="819" y2="934.8" stroke="#000" stroke-width="3"/>
<text x="776.13" y="952.6" font-size="17" fill="#000" stroke="#000" stroke-width="0.7" stroke-linejoin="round" textLength="38.84" lengthAdjust="spacingAndGlyphs">11-15</text>
<line x1="851.1" y1="934.8" x2="895.7" y2="934.8" stroke="#000" stroke-width="3"/>
<text x="852.21" y="952.6" font-size="17" fill="#000" stroke="#000" stroke-width="0.7" stroke-linejoin="round" textLength="40" lengthAdjust="spacingAndGlyphs">15-20</text>
<text x="728.85" y="966.9" font-size="15.5" fill="#000" stroke="#000" stroke-width="0.75" stroke-linejoin="round" textLength="55.36" lengthAdjust="spacingAndGlyphs">minutes</text>
<path d="M616.3 861.6 L616.59 862.6 L616.87 863.6 L617.15 864.61 L617.47 865.61 L617.85 866.61 L618.34 867.61 L618.96 868.62 L619.65 869.62 L620.35 870.62 L621.02 871.62 L621.61 872.62 L622.13 873.63 L622.5 874.63 L622.25 875.63 L621.56 876.63 L620.68 877.64 L619.84 878.64 L619.29 879.64 L618.94 880.64 L618.61 881.65 L618.32 882.65 L618.08 883.65 L617.9 884.65 L617.81 885.65 L617.83 886.66 L617.99 887.66 L618.25 888.66 L618.54 889.66 L618.82 890.67 L619.03 891.67 L619.1 892.67 L619 893.67 L618.77 894.68 L618.44 895.68 L618.08 896.68 L617.72 897.68 L617.42 898.68 L617.21 899.69 L617.03 900.69 L616.88 901.69 L616.73 902.69 L616.59 903.7 L616.45 904.7 L616.3 905.7 L616.3 905.7 L616.15 904.7 L616.01 903.7 L615.87 902.69 L615.72 901.69 L615.57 900.69 L615.39 899.69 L615.18 898.68 L614.88 897.68 L614.52 896.68 L614.16 895.68 L613.83 894.68 L613.6 893.67 L613.5 892.67 L613.57 891.67 L613.78 890.67 L614.06 889.66 L614.35 888.66 L614.61 887.66 L614.77 886.66 L614.79 885.65 L614.7 884.65 L614.52 883.65 L614.28 882.65 L613.99 881.65 L613.66 880.64 L613.31 879.64 L612.76 878.64 L611.92 877.64 L611.04 876.63 L610.35 875.63 L610.1 874.63 L610.47 873.63 L610.99 872.62 L611.58 871.62 L612.25 870.62 L612.95 869.62 L613.64 868.62 L614.26 867.61 L614.75 866.61 L615.13 865.61 L615.45 864.61 L615.73 863.6 L616.01 862.6 L616.3 861.6 Z" fill="none" stroke="#FF8A2A" stroke-width="2.5" stroke-linejoin="round"/>
<circle cx="618.3" cy="873" r="1.1" fill="#FF4A1A" stroke="none" stroke-width="1"/>
<circle cx="615.3" cy="876" r="1.1" fill="#FF4A1A" stroke="none" stroke-width="1"/>
<circle cx="618.3" cy="880" r="1.1" fill="#FF4A1A" stroke="none" stroke-width="1"/>
<circle cx="616.3" cy="892" r="1.1" fill="#FF4A1A" stroke="none" stroke-width="1"/>
<line x1="613.8" y1="877" x2="617.8" y2="877" stroke="#000" stroke-width="1.8"/>
<path d="M637.9 821.6 L638.06 822.61 L638.22 823.61 L638.37 824.62 L638.52 825.62 L638.69 826.63 L638.86 827.63 L639.05 828.64 L639.28 829.64 L639.58 830.65 L639.93 831.65 L640.27 832.66 L640.55 833.66 L640.74 834.67 L640.8 835.67 L640.7 836.68 L640.5 837.68 L640.22 838.69 L639.91 839.69 L639.6 840.7 L639.34 841.7 L639.16 842.71 L639.1 843.71 L639.11 844.72 L639.15 845.72 L639.2 846.73 L639.27 847.73 L639.35 848.74 L639.45 849.74 L639.56 850.75 L639.68 851.75 L639.81 852.76 L639.96 853.76 L640.28 854.77 L640.75 855.77 L641.34 856.78 L641.98 857.78 L642.64 858.79 L643.25 859.79 L643.78 860.8 L644.18 861.81 L644.38 862.81 L644.38 863.82 L644.29 864.82 L644.13 865.83 L643.91 866.83 L643.66 867.84 L643.39 868.84 L643.11 869.85 L642.85 870.85 L642.61 871.86 L642.42 872.86 L642.27 873.87 L642.14 874.87 L642.02 875.88 L641.91 876.88 L641.8 877.89 L641.7 878.89 L641.58 879.9 L641.46 880.9 L641.33 881.91 L641.18 882.91 L641.01 883.92 L640.81 884.92 L640.59 885.93 L640.36 886.93 L640.13 887.94 L639.89 888.94 L639.66 889.95 L639.43 890.95 L639.22 891.96 L639.03 892.96 L638.86 893.97 L638.69 894.97 L638.53 895.98 L638.37 896.98 L638.22 897.99 L638.06 898.99 L637.9 900 L637.9 900 L637.74 898.99 L637.58 897.99 L637.43 896.98 L637.27 895.98 L637.11 894.97 L636.94 893.97 L636.77 892.96 L636.58 891.96 L636.37 890.95 L636.14 889.95 L635.91 888.94 L635.67 887.94 L635.44 886.93 L635.21 885.93 L634.99 884.92 L634.79 883.92 L634.62 882.91 L634.47 881.91 L634.34 880.9 L634.22 879.9 L634.1 878.89 L634 877.89 L633.89 876.88 L633.78 875.88 L633.66 874.87 L633.53 873.87 L633.38 872.86 L633.19 871.86 L632.95 870.85 L632.69 869.85 L632.41 868.84 L632.14 867.84 L631.89 866.83 L631.67 865.83 L631.51 864.82 L631.42 863.82 L631.42 862.81 L631.62 861.81 L632.02 860.8 L632.55 859.79 L633.16 858.79 L633.82 857.78 L634.46 856.78 L635.05 855.77 L635.52 854.77 L635.84 853.76 L635.99 852.76 L636.12 851.75 L636.24 850.75 L636.35 849.74 L636.45 848.74 L636.53 847.73 L636.6 846.73 L636.65 845.72 L636.69 844.72 L636.7 843.71 L636.64 842.71 L636.46 841.7 L636.2 840.7 L635.89 839.69 L635.58 838.69 L635.3 837.68 L635.1 836.68 L635 835.67 L635.06 834.67 L635.25 833.66 L635.53 832.66 L635.87 831.65 L636.22 830.65 L636.52 829.64 L636.75 828.64 L636.94 827.63 L637.11 826.63 L637.28 825.62 L637.43 824.62 L637.58 823.61 L637.74 822.61 L637.9 821.6 Z" fill="none" stroke="#1BB47C" stroke-width="2.5" stroke-linejoin="round"/>
<circle cx="637.9" cy="836" r="1.1" fill="#22C022" stroke="none" stroke-width="1"/>
<circle cx="637.9" cy="862" r="1.1" fill="#22C022" stroke="none" stroke-width="1"/>
<circle cx="637.9" cy="866" r="1.1" fill="#22C022" stroke="none" stroke-width="1"/>
<circle cx="637.9" cy="873" r="1.1" fill="#22C022" stroke="none" stroke-width="1"/>
<circle cx="637.9" cy="876" r="1.1" fill="#22C022" stroke="none" stroke-width="1"/>
<circle cx="637.9" cy="885" r="1.1" fill="#22C022" stroke="none" stroke-width="1"/>
<line x1="635.4" y1="866" x2="639.4" y2="866" stroke="#000" stroke-width="1.8"/>
<path d="M659.6 841.2 L659.64 842.21 L659.68 843.22 L659.71 844.23 L659.75 845.24 L659.78 846.25 L659.81 847.26 L659.84 848.27 L659.87 849.28 L659.9 850.29 L659.93 851.3 L659.96 852.31 L659.99 853.32 L660.03 854.33 L660.06 855.34 L660.1 856.35 L660.14 857.36 L660.19 858.37 L660.24 859.38 L660.29 860.39 L660.35 861.4 L660.42 862.41 L660.49 863.42 L660.56 864.43 L660.65 865.44 L660.8 866.45 L661 867.46 L661.24 868.47 L661.51 869.48 L661.81 870.49 L662.13 871.51 L662.45 872.52 L662.79 873.53 L663.26 874.54 L663.82 875.55 L664.41 876.56 L664.96 877.57 L665.42 878.58 L665.72 879.59 L665.8 880.6 L665.67 881.61 L665.39 882.62 L664.99 883.63 L664.51 884.64 L663.97 885.65 L663.42 886.66 L662.88 887.67 L662.4 888.68 L661.99 889.69 L661.59 890.7 L661.19 891.71 L660.82 892.72 L660.52 893.73 L660.32 894.74 L660.17 895.75 L660.04 896.76 L659.93 897.77 L659.82 898.78 L659.72 899.79 L659.6 900.8 L659.6 900.8 L659.48 899.79 L659.38 898.78 L659.27 897.77 L659.16 896.76 L659.03 895.75 L658.88 894.74 L658.68 893.73 L658.38 892.72 L658.01 891.71 L657.61 890.7 L657.21 889.69 L656.8 888.68 L656.32 887.67 L655.78 886.66 L655.23 885.65 L654.69 884.64 L654.21 883.63 L653.81 882.62 L653.53 881.61 L653.4 880.6 L653.48 879.59 L653.78 878.58 L654.24 877.57 L654.79 876.56 L655.38 875.55 L655.94 874.54 L656.41 873.53 L656.75 872.52 L657.07 871.51 L657.39 870.49 L657.69 869.48 L657.96 868.47 L658.2 867.46 L658.4 866.45 L658.55 865.44 L658.64 864.43 L658.71 863.42 L658.78 862.41 L658.85 861.4 L658.91 860.39 L658.96 859.38 L659.01 858.37 L659.06 857.36 L659.1 856.35 L659.14 855.34 L659.17 854.33 L659.21 853.32 L659.24 852.31 L659.27 851.3 L659.3 850.29 L659.33 849.28 L659.36 848.27 L659.39 847.26 L659.42 846.25 L659.45 845.24 L659.49 844.23 L659.52 843.22 L659.56 842.21 L659.6 841.2 Z" fill="none" stroke="#C4C01A" stroke-width="2.5" stroke-linejoin="round"/>
<circle cx="661.6" cy="878" r="1.1" fill="#B0B000" stroke="none" stroke-width="1"/>
<circle cx="657.6" cy="882" r="1.1" fill="#B0B000" stroke="none" stroke-width="1"/>
<circle cx="660.6" cy="885" r="1.1" fill="#B0B000" stroke="none" stroke-width="1"/>
<line x1="657.1" y1="880" x2="661.1" y2="880" stroke="#000" stroke-width="1.8"/>
<path d="M695.1 861.6 L695.46 862.61 L695.82 863.61 L696.18 864.62 L696.54 865.62 L696.9 866.63 L697.27 867.63 L697.65 868.64 L698.04 869.64 L698.48 870.65 L699.03 871.65 L699.61 872.66 L700.18 873.66 L700.69 874.67 L701.07 875.67 L701.28 876.68 L701.22 877.68 L700.76 878.69 L700.04 879.69 L699.2 880.7 L698.41 881.7 L697.83 882.71 L697.6 883.71 L697.64 884.72 L697.74 885.72 L697.87 886.73 L698 887.73 L698.08 888.74 L698.09 889.74 L697.99 890.75 L697.8 891.75 L697.53 892.76 L697.23 893.76 L696.92 894.77 L696.63 895.77 L696.36 896.78 L696.05 897.78 L695.74 898.79 L695.41 899.79 L695.1 900.8 L695.1 900.8 L694.79 899.79 L694.46 898.79 L694.15 897.78 L693.84 896.78 L693.57 895.77 L693.28 894.77 L692.97 893.76 L692.67 892.76 L692.4 891.75 L692.21 890.75 L692.11 889.74 L692.12 888.74 L692.2 887.73 L692.33 886.73 L692.46 885.72 L692.56 884.72 L692.6 883.71 L692.37 882.71 L691.79 881.7 L691 880.7 L690.16 879.69 L689.44 878.69 L688.98 877.68 L688.92 876.68 L689.13 875.67 L689.51 874.67 L690.02 873.66 L690.59 872.66 L691.17 871.65 L691.72 870.65 L692.16 869.64 L692.55 868.64 L692.93 867.63 L693.3 866.63 L693.66 865.62 L694.02 864.62 L694.38 863.61 L694.74 862.61 L695.1 861.6 Z" fill="none" stroke="#FF8A2A" stroke-width="2.5" stroke-linejoin="round"/>
<circle cx="696.1" cy="873" r="1.1" fill="#FF4A1A" stroke="none" stroke-width="1"/>
<circle cx="694.1" cy="878" r="1.1" fill="#FF4A1A" stroke="none" stroke-width="1"/>
<circle cx="696.1" cy="882" r="1.1" fill="#FF4A1A" stroke="none" stroke-width="1"/>
<circle cx="695.1" cy="890" r="1.1" fill="#FF4A1A" stroke="none" stroke-width="1"/>
<line x1="692.6" y1="878" x2="696.6" y2="878" stroke="#000" stroke-width="1.8"/>
<path d="M716.3 812.6 L716.43 813.6 L716.55 814.61 L716.67 815.61 L716.79 816.62 L716.91 817.62 L717.03 818.62 L717.15 819.63 L717.29 820.63 L717.43 821.64 L717.58 822.64 L717.74 823.65 L717.92 824.65 L718.14 825.65 L718.39 826.66 L718.66 827.66 L718.93 828.67 L719.21 829.67 L719.46 830.68 L719.69 831.68 L719.9 832.68 L720.1 833.69 L720.32 834.69 L720.53 835.7 L720.74 836.7 L720.94 837.7 L721.12 838.71 L721.28 839.71 L721.42 840.72 L721.52 841.72 L721.58 842.73 L721.6 843.73 L721.58 844.73 L721.52 845.74 L721.43 846.74 L721.31 847.75 L721.18 848.75 L721.03 849.75 L720.87 850.76 L720.71 851.76 L720.54 852.77 L720.38 853.77 L720.23 854.77 L720.1 855.78 L719.98 856.78 L719.89 857.79 L719.83 858.79 L719.8 859.8 L719.82 860.8 L719.88 861.8 L719.98 862.81 L720.11 863.81 L720.27 864.82 L720.45 865.82 L720.65 866.83 L720.85 867.83 L721.06 868.83 L721.26 869.84 L721.45 870.84 L721.63 871.85 L721.78 872.85 L721.92 873.85 L722.08 874.86 L722.24 875.86 L722.4 876.87 L722.55 877.87 L722.67 878.88 L722.75 879.88 L722.8 880.88 L722.78 881.89 L722.68 882.89 L722.5 883.9 L722.27 884.9 L721.98 885.9 L721.66 886.91 L721.32 887.91 L720.97 888.92 L720.62 889.92 L720.29 890.92 L719.98 891.93 L719.71 892.93 L719.45 893.94 L719.17 894.94 L718.9 895.95 L718.63 896.95 L718.36 897.95 L718.1 898.96 L717.85 899.96 L717.62 900.97 L717.4 901.97 L717.21 902.98 L717.04 903.98 L716.89 904.98 L716.74 905.99 L716.59 906.99 L716.45 908 L716.3 909 L716.3 909 L716.15 908 L716.01 906.99 L715.86 905.99 L715.71 904.98 L715.56 903.98 L715.39 902.98 L715.2 901.97 L714.98 900.97 L714.75 899.96 L714.5 898.96 L714.24 897.95 L713.97 896.95 L713.7 895.95 L713.43 894.94 L713.15 893.94 L712.89 892.93 L712.62 891.93 L712.31 890.92 L711.98 889.92 L711.63 888.92 L711.28 887.91 L710.94 886.91 L710.62 885.9 L710.33 884.9 L710.1 883.9 L709.92 882.89 L709.82 881.89 L709.8 880.88 L709.85 879.88 L709.93 878.88 L710.05 877.87 L710.2 876.87 L710.36 875.86 L710.52 874.86 L710.68 873.85 L710.82 872.85 L710.97 871.85 L711.15 870.84 L711.34 869.84 L711.54 868.83 L711.75 867.83 L711.95 866.83 L712.15 865.82 L712.33 864.82 L712.49 863.81 L712.62 862.81 L712.72 861.8 L712.78 860.8 L712.8 859.8 L712.77 858.79 L712.71 857.79 L712.62 856.78 L712.5 855.78 L712.37 854.77 L712.22 853.77 L712.06 852.77 L711.89 851.76 L711.73 850.76 L711.57 849.75 L711.42 848.75 L711.29 847.75 L711.17 846.74 L711.08 845.74 L711.02 844.73 L711 843.73 L711.02 842.73 L711.08 841.72 L711.18 840.72 L711.32 839.71 L711.48 838.71 L711.66 837.7 L711.86 836.7 L712.07 835.7 L712.28 834.69 L712.5 833.69 L712.7 832.68 L712.91 831.68 L713.14 830.68 L713.39 829.67 L713.67 828.67 L713.94 827.66 L714.21 826.66 L714.46 825.65 L714.68 824.65 L714.86 823.65 L715.02 822.64 L715.17 821.64 L715.31 820.63 L715.45 819.63 L715.57 818.62 L715.69 817.62 L715.81 816.62 L715.93 815.61 L716.05 814.61 L716.17 813.6 L716.3 812.6 Z" fill="none" stroke="#1BB47C" stroke-width="2.5" stroke-linejoin="round"/>
<circle cx="716.3" cy="837" r="1.1" fill="#22C022" stroke="none" stroke-width="1"/>
<circle cx="716.3" cy="843" r="1.1" fill="#22C022" stroke="none" stroke-width="1"/>
<circle cx="716.3" cy="849" r="1.1" fill="#22C022" stroke="none" stroke-width="1"/>
<circle cx="714.3" cy="877" r="1.1" fill="#22C022" stroke="none" stroke-width="1"/>
<circle cx="718.3" cy="879" r="1.1" fill="#22C022" stroke="none" stroke-width="1"/>
<circle cx="716.3" cy="883" r="1.1" fill="#22C022" stroke="none" stroke-width="1"/>
<line x1="713.8" y1="863" x2="717.8" y2="863" stroke="#000" stroke-width="1.8"/>
<path d="M738.1 841.2 L738.29 842.2 L738.47 843.2 L738.66 844.2 L738.84 845.2 L739.03 846.2 L739.21 847.2 L739.4 848.2 L739.59 849.2 L739.78 850.2 L739.98 851.2 L740.18 852.2 L740.42 853.2 L740.69 854.2 L740.97 855.2 L741.26 856.2 L741.53 857.2 L741.77 858.2 L741.97 859.2 L742.12 860.2 L742.19 861.2 L742.17 862.2 L741.99 863.2 L741.7 864.2 L741.34 865.2 L740.96 866.2 L740.6 867.2 L740.31 868.2 L740.13 869.2 L740.11 870.2 L740.21 871.2 L740.41 872.2 L740.69 873.2 L741.03 874.2 L741.41 875.2 L741.81 876.2 L742.21 877.2 L742.6 878.2 L742.94 879.2 L743.24 880.2 L743.45 881.2 L743.58 882.2 L743.59 883.2 L743.46 884.2 L743.22 885.2 L742.89 886.2 L742.51 887.2 L742.1 888.2 L741.71 889.2 L741.34 890.2 L741.05 891.2 L740.77 892.2 L740.49 893.2 L740.22 894.2 L739.95 895.2 L739.7 896.2 L739.47 897.2 L739.27 898.2 L739.1 899.2 L738.96 900.2 L738.83 901.2 L738.71 902.2 L738.6 903.2 L738.5 904.2 L738.41 905.2 L738.31 906.2 L738.21 907.2 L738.1 908.2 L738.1 908.2 L737.99 907.2 L737.89 906.2 L737.79 905.2 L737.7 904.2 L737.6 903.2 L737.49 902.2 L737.37 901.2 L737.24 900.2 L737.1 899.2 L736.93 898.2 L736.73 897.2 L736.5 896.2 L736.25 895.2 L735.98 894.2 L735.71 893.2 L735.43 892.2 L735.15 891.2 L734.86 890.2 L734.49 889.2 L734.1 888.2 L733.69 887.2 L733.31 886.2 L732.98 885.2 L732.74 884.2 L732.61 883.2 L732.62 882.2 L732.75 881.2 L732.96 880.2 L733.26 879.2 L733.6 878.2 L733.99 877.2 L734.39 876.2 L734.79 875.2 L735.17 874.2 L735.51 873.2 L735.79 872.2 L735.99 871.2 L736.09 870.2 L736.07 869.2 L735.89 868.2 L735.6 867.2 L735.24 866.2 L734.86 865.2 L734.5 864.2 L734.21 863.2 L734.03 862.2 L734.01 861.2 L734.08 860.2 L734.23 859.2 L734.43 858.2 L734.67 857.2 L734.94 856.2 L735.23 855.2 L735.51 854.2 L735.78 853.2 L736.02 852.2 L736.22 851.2 L736.42 850.2 L736.61 849.2 L736.8 848.2 L736.99 847.2 L737.17 846.2 L737.36 845.2 L737.54 844.2 L737.73 843.2 L737.91 842.2 L738.1 841.2 Z" fill="none" stroke="#C4C01A" stroke-width="2.5" stroke-linejoin="round"/>
<circle cx="738.1" cy="856" r="1.1" fill="#B0B000" stroke="none" stroke-width="1"/>
<circle cx="738.1" cy="863" r="1.1" fill="#B0B000" stroke="none" stroke-width="1"/>
<circle cx="737.1" cy="885" r="1.1" fill="#B0B000" stroke="none" stroke-width="1"/>
<circle cx="740.1" cy="888" r="1.1" fill="#B0B000" stroke="none" stroke-width="1"/>
<circle cx="738.1" cy="892" r="1.1" fill="#B0B000" stroke="none" stroke-width="1"/>
<line x1="735.6" y1="881" x2="739.6" y2="881" stroke="#000" stroke-width="1.8"/>
<path d="M773.7 849.3 L773.98 850.31 L774.28 851.32 L774.57 852.34 L774.87 853.35 L775.15 854.36 L775.41 855.37 L775.64 856.38 L775.83 857.4 L776 858.41 L776.16 859.42 L776.3 860.43 L776.43 861.44 L776.57 862.45 L776.71 863.47 L776.85 864.48 L777.02 865.49 L777.2 866.5 L777.44 867.51 L777.73 868.53 L778.08 869.54 L778.44 870.55 L778.79 871.56 L779.13 872.57 L779.42 873.59 L779.64 874.6 L779.77 875.61 L779.79 876.62 L779.62 877.63 L779.27 878.65 L778.8 879.66 L778.24 880.67 L777.65 881.68 L777.07 882.69 L776.54 883.7 L776.12 884.72 L775.74 885.73 L775.39 886.74 L775.04 887.75 L774.71 888.76 L774.38 889.78 L774.04 890.79 L773.7 891.8 L773.7 891.8 L773.36 890.79 L773.02 889.78 L772.69 888.76 L772.36 887.75 L772.01 886.74 L771.66 885.73 L771.28 884.72 L770.86 883.7 L770.33 882.69 L769.75 881.68 L769.16 880.67 L768.6 879.66 L768.13 878.65 L767.78 877.63 L767.61 876.62 L767.63 875.61 L767.76 874.6 L767.98 873.59 L768.27 872.57 L768.61 871.56 L768.96 870.55 L769.32 869.54 L769.67 868.53 L769.96 867.51 L770.2 866.5 L770.38 865.49 L770.55 864.48 L770.69 863.47 L770.83 862.45 L770.97 861.44 L771.1 860.43 L771.24 859.42 L771.4 858.41 L771.57 857.4 L771.76 856.38 L771.99 855.37 L772.25 854.36 L772.53 853.35 L772.83 852.34 L773.12 851.32 L773.42 850.31 L773.7 849.3 Z" fill="none" stroke="#FF8A2A" stroke-width="2.5" stroke-linejoin="round"/>
<circle cx="773.7" cy="859" r="1.1" fill="#FF4A1A" stroke="none" stroke-width="1"/>
<circle cx="772.7" cy="868" r="1.1" fill="#FF4A1A" stroke="none" stroke-width="1"/>
<circle cx="775.7" cy="871" r="1.1" fill="#FF4A1A" stroke="none" stroke-width="1"/>
<circle cx="773.7" cy="874" r="1.1" fill="#FF4A1A" stroke="none" stroke-width="1"/>
<circle cx="771.7" cy="878" r="1.1" fill="#FF4A1A" stroke="none" stroke-width="1"/>
<circle cx="774.7" cy="880" r="1.1" fill="#FF4A1A" stroke="none" stroke-width="1"/>
<line x1="771.2" y1="876" x2="775.2" y2="876" stroke="#000" stroke-width="1.8"/>
<path d="M794.9 781.5 L794.95 782.5 L795.01 783.5 L795.06 784.51 L795.1 785.51 L795.15 786.51 L795.2 787.51 L795.25 788.51 L795.29 789.52 L795.34 790.52 L795.39 791.52 L795.44 792.52 L795.5 793.52 L795.55 794.53 L795.62 795.53 L795.68 796.53 L795.75 797.53 L795.82 798.53 L795.9 799.54 L796 800.54 L796.11 801.54 L796.24 802.54 L796.39 803.55 L796.54 804.55 L796.71 805.55 L796.89 806.55 L797.07 807.55 L797.25 808.56 L797.43 809.56 L797.61 810.56 L797.78 811.56 L797.95 812.56 L798.1 813.57 L798.25 814.57 L798.37 815.57 L798.49 816.57 L798.61 817.57 L798.73 818.58 L798.85 819.58 L798.97 820.58 L799.1 821.58 L799.22 822.58 L799.34 823.59 L799.46 824.59 L799.58 825.59 L799.69 826.59 L799.8 827.59 L799.91 828.6 L800.01 829.6 L800.1 830.6 L800.19 831.6 L800.27 832.6 L800.35 833.61 L800.41 834.61 L800.47 835.61 L800.52 836.61 L800.55 837.62 L800.58 838.62 L800.6 839.62 L800.6 840.62 L800.57 841.62 L800.49 842.63 L800.39 843.63 L800.25 844.63 L800.08 845.63 L799.89 846.63 L799.69 847.64 L799.47 848.64 L799.25 849.64 L799.02 850.64 L798.8 851.64 L798.59 852.65 L798.39 853.65 L798.2 854.65 L798.04 855.65 L797.91 856.65 L797.78 857.66 L797.66 858.66 L797.53 859.66 L797.41 860.66 L797.28 861.66 L797.16 862.67 L797.04 863.67 L796.93 864.67 L796.82 865.67 L796.72 866.67 L796.64 867.68 L796.56 868.68 L796.5 869.68 L796.45 870.68 L796.42 871.68 L796.4 872.69 L796.43 873.69 L796.57 874.69 L796.81 875.69 L797.13 876.7 L797.51 877.7 L797.94 878.7 L798.4 879.7 L798.87 880.7 L799.33 881.71 L799.77 882.71 L800.17 883.71 L800.51 884.71 L800.77 885.71 L800.94 886.72 L801 887.72 L800.97 888.72 L800.89 889.72 L800.76 890.72 L800.59 891.73 L800.38 892.73 L800.15 893.73 L799.9 894.73 L799.63 895.73 L799.35 896.74 L799.07 897.74 L798.8 898.74 L798.53 899.74 L798.28 900.74 L798.05 901.75 L797.85 902.75 L797.66 903.75 L797.46 904.75 L797.26 905.75 L797.06 906.76 L796.86 907.76 L796.67 908.76 L796.49 909.76 L796.32 910.77 L796.17 911.77 L796.03 912.77 L795.91 913.77 L795.81 914.77 L795.72 915.78 L795.64 916.78 L795.56 917.78 L795.48 918.78 L795.42 919.78 L795.35 920.79 L795.29 921.79 L795.22 922.79 L795.16 923.79 L795.1 924.79 L795.04 925.8 L794.97 926.8 L794.9 927.8 L794.9 927.8 L794.83 926.8 L794.76 925.8 L794.7 924.79 L794.64 923.79 L794.58 922.79 L794.51 921.79 L794.45 920.79 L794.38 919.78 L794.32 918.78 L794.24 917.78 L794.16 916.78 L794.08 915.78 L793.99 914.77 L793.89 913.77 L793.77 912.77 L793.63 911.77 L793.48 910.77 L793.31 909.76 L793.13 908.76 L792.94 907.76 L792.74 906.76 L792.54 905.75 L792.34 904.75 L792.14 903.75 L791.95 902.75 L791.75 901.75 L791.52 900.74 L791.27 899.74 L791 898.74 L790.73 897.74 L790.45 896.74 L790.17 895.73 L789.9 894.73 L789.65 893.73 L789.42 892.73 L789.21 891.73 L789.04 890.72 L788.91 889.72 L788.83 888.72 L788.8 887.72 L788.86 886.72 L789.03 885.71 L789.29 884.71 L789.63 883.71 L790.03 882.71 L790.47 881.71 L790.93 880.7 L791.4 879.7 L791.86 878.7 L792.29 877.7 L792.67 876.7 L792.99 875.69 L793.23 874.69 L793.37 873.69 L793.4 872.69 L793.38 871.68 L793.35 870.68 L793.3 869.68 L793.24 868.68 L793.16 867.68 L793.08 866.67 L792.98 865.67 L792.87 864.67 L792.76 863.67 L792.64 862.67 L792.52 861.66 L792.39 860.66 L792.27 859.66 L792.14 858.66 L792.02 857.66 L791.89 856.65 L791.76 855.65 L791.6 854.65 L791.41 853.65 L791.21 852.65 L791 851.64 L790.78 850.64 L790.55 849.64 L790.33 848.64 L790.11 847.64 L789.91 846.63 L789.72 845.63 L789.55 844.63 L789.41 843.63 L789.31 842.63 L789.23 841.62 L789.2 840.62 L789.2 839.62 L789.22 838.62 L789.25 837.62 L789.28 836.61 L789.33 835.61 L789.39 834.61 L789.45 833.61 L789.53 832.6 L789.61 831.6 L789.7 830.6 L789.79 829.6 L789.89 828.6 L790 827.59 L790.11 826.59 L790.22 825.59 L790.34 824.59 L790.46 823.59 L790.58 822.58 L790.7 821.58 L790.83 820.58 L790.95 819.58 L791.07 818.58 L791.19 817.57 L791.31 816.57 L791.43 815.57 L791.55 814.57 L791.7 813.57 L791.85 812.56 L792.02 811.56 L792.19 810.56 L792.37 809.56 L792.55 808.56 L792.73 807.55 L792.91 806.55 L793.09 805.55 L793.26 804.55 L793.41 803.55 L793.56 802.54 L793.69 801.54 L793.8 800.54 L793.9 799.54 L793.98 798.53 L794.05 797.53 L794.12 796.53 L794.18 795.53 L794.25 794.53 L794.3 793.52 L794.36 792.52 L794.41 791.52 L794.46 790.52 L794.51 789.52 L794.55 788.51 L794.6 787.51 L794.65 786.51 L794.7 785.51 L794.74 784.51 L794.79 783.5 L794.85 782.5 L794.9 781.5 Z" fill="none" stroke="#1BB47C" stroke-width="2.5" stroke-linejoin="round"/>
<circle cx="794.9" cy="818" r="1.1" fill="#22C022" stroke="none" stroke-width="1"/>
<circle cx="794.9" cy="837" r="1.1" fill="#22C022" stroke="none" stroke-width="1"/>
<circle cx="794.9" cy="843" r="1.1" fill="#22C022" stroke="none" stroke-width="1"/>
<circle cx="792.9" cy="888" r="1.1" fill="#22C022" stroke="none" stroke-width="1"/>
<circle cx="796.9" cy="889" r="1.1" fill="#22C022" stroke="none" stroke-width="1"/>
<line x1="792.4" y1="853" x2="796.4" y2="853" stroke="#000" stroke-width="1.8"/>
<path d="M816.5 846.9 L816.81 847.9 L817.13 848.9 L817.46 849.9 L817.79 850.91 L818.11 851.91 L818.43 852.91 L818.73 853.91 L819.03 854.91 L819.3 855.91 L819.55 856.91 L819.78 857.92 L819.99 858.92 L820.19 859.92 L820.38 860.92 L820.56 861.92 L820.75 862.92 L820.94 863.92 L821.14 864.93 L821.36 865.93 L821.61 866.93 L821.95 867.93 L822.33 868.93 L822.72 869.93 L823.06 870.93 L823.3 871.94 L823.4 872.94 L823.21 873.94 L822.68 874.94 L821.89 875.94 L820.97 876.94 L820.01 877.94 L819.13 878.95 L818.44 879.95 L818.04 880.95 L817.92 881.95 L817.82 882.95 L817.73 883.95 L817.66 884.95 L817.6 885.95 L817.55 886.96 L817.52 887.96 L817.5 888.96 L817.5 889.96 L817.5 890.96 L817.5 891.96 L817.5 892.96 L817.5 893.97 L817.5 894.97 L817.5 895.97 L817.5 896.97 L817.5 897.97 L817.5 898.97 L817.5 899.97 L817.51 900.98 L817.72 901.98 L818.13 902.98 L818.58 903.98 L818.91 904.98 L818.99 905.98 L818.89 906.98 L818.69 907.99 L818.42 908.99 L818.12 909.99 L817.82 910.99 L817.56 911.99 L817.37 912.99 L817.18 913.99 L817.01 915 L816.84 916 L816.67 917 L816.5 918 L816.5 918 L816.33 917 L816.16 916 L815.99 915 L815.82 913.99 L815.63 912.99 L815.44 911.99 L815.18 910.99 L814.88 909.99 L814.58 908.99 L814.31 907.99 L814.11 906.98 L814.01 905.98 L814.09 904.98 L814.42 903.98 L814.87 902.98 L815.28 901.98 L815.49 900.98 L815.5 899.97 L815.5 898.97 L815.5 897.97 L815.5 896.97 L815.5 895.97 L815.5 894.97 L815.5 893.97 L815.5 892.96 L815.5 891.96 L815.5 890.96 L815.5 889.96 L815.5 888.96 L815.48 887.96 L815.45 886.96 L815.4 885.95 L815.34 884.95 L815.27 883.95 L815.18 882.95 L815.08 881.95 L814.96 880.95 L814.56 879.95 L813.87 878.95 L812.99 877.94 L812.03 876.94 L811.11 875.94 L810.32 874.94 L809.79 873.94 L809.6 872.94 L809.7 871.94 L809.94 870.93 L810.28 869.93 L810.67 868.93 L811.05 867.93 L811.39 866.93 L811.64 865.93 L811.86 864.93 L812.06 863.92 L812.25 862.92 L812.44 861.92 L812.62 860.92 L812.81 859.92 L813.01 858.92 L813.22 857.92 L813.45 856.91 L813.7 855.91 L813.97 854.91 L814.27 853.91 L814.57 852.91 L814.89 851.91 L815.21 850.91 L815.54 849.9 L815.87 848.9 L816.19 847.9 L816.5 846.9 Z" fill="none" stroke="#C4C01A" stroke-width="2.5" stroke-linejoin="round"/>
<circle cx="816.5" cy="862" r="1.1" fill="#B0B000" stroke="none" stroke-width="1"/>
<circle cx="816.5" cy="866" r="1.1" fill="#B0B000" stroke="none" stroke-width="1"/>
<circle cx="814.5" cy="871" r="1.1" fill="#B0B000" stroke="none" stroke-width="1"/>
<circle cx="818.5" cy="871" r="1.1" fill="#B0B000" stroke="none" stroke-width="1"/>
<circle cx="816.5" cy="876" r="1.1" fill="#B0B000" stroke="none" stroke-width="1"/>
<line x1="814" y1="870" x2="818" y2="870" stroke="#000" stroke-width="1.8"/>
<path d="M852.1 844.4 L852.32 845.4 L852.53 846.41 L852.75 847.41 L852.96 848.42 L853.17 849.42 L853.39 850.42 L853.62 851.43 L853.86 852.43 L854.11 853.43 L854.39 854.44 L854.71 855.44 L855.05 856.45 L855.4 857.45 L855.74 858.45 L856.05 859.46 L856.34 860.46 L856.57 861.46 L856.77 862.47 L856.97 863.47 L857.17 864.48 L857.36 865.48 L857.54 866.48 L857.71 867.49 L857.86 868.49 L857.99 869.49 L858.09 870.5 L858.16 871.5 L858.2 872.51 L858.19 873.51 L858.11 874.51 L857.97 875.52 L857.77 876.52 L857.53 877.53 L857.27 878.53 L856.98 879.53 L856.7 880.54 L856.42 881.54 L856.16 882.54 L855.91 883.55 L855.61 884.55 L855.29 885.56 L854.95 886.56 L854.61 887.56 L854.29 888.57 L854.02 889.57 L853.8 890.57 L853.65 891.58 L853.6 892.58 L853.6 893.59 L853.6 894.59 L853.6 895.59 L853.6 896.6 L853.6 897.6 L853.6 898.61 L853.6 899.61 L853.6 900.61 L853.6 901.62 L853.6 902.62 L853.68 903.62 L853.85 904.63 L854.07 905.63 L854.3 906.64 L854.49 907.64 L854.59 908.64 L854.58 909.65 L854.49 910.65 L854.33 911.65 L854.12 912.66 L853.89 913.66 L853.64 914.67 L853.41 915.67 L853.19 916.67 L853.02 917.68 L852.86 918.68 L852.71 919.68 L852.55 920.69 L852.4 921.69 L852.25 922.7 L852.1 923.7 L852.1 923.7 L851.95 922.7 L851.8 921.69 L851.65 920.69 L851.49 919.68 L851.34 918.68 L851.18 917.68 L851.01 916.67 L850.79 915.67 L850.56 914.67 L850.31 913.66 L850.08 912.66 L849.87 911.65 L849.71 910.65 L849.62 909.65 L849.61 908.64 L849.71 907.64 L849.9 906.64 L850.13 905.63 L850.35 904.63 L850.52 903.62 L850.6 902.62 L850.6 901.62 L850.6 900.61 L850.6 899.61 L850.6 898.61 L850.6 897.6 L850.6 896.6 L850.6 895.59 L850.6 894.59 L850.6 893.59 L850.6 892.58 L850.55 891.58 L850.4 890.57 L850.18 889.57 L849.91 888.57 L849.59 887.56 L849.25 886.56 L848.91 885.56 L848.59 884.55 L848.29 883.55 L848.04 882.54 L847.78 881.54 L847.5 880.54 L847.22 879.53 L846.93 878.53 L846.67 877.53 L846.43 876.52 L846.23 875.52 L846.09 874.51 L846.01 873.51 L846 872.51 L846.04 871.5 L846.11 870.5 L846.21 869.49 L846.34 868.49 L846.49 867.49 L846.66 866.48 L846.84 865.48 L847.03 864.48 L847.23 863.47 L847.43 862.47 L847.63 861.46 L847.86 860.46 L848.15 859.46 L848.46 858.45 L848.8 857.45 L849.15 856.45 L849.49 855.44 L849.81 854.44 L850.09 853.43 L850.34 852.43 L850.58 851.43 L850.81 850.42 L851.03 849.42 L851.24 848.42 L851.45 847.41 L851.67 846.41 L851.88 845.4 L852.1 844.4 Z" fill="none" stroke="#FF8A2A" stroke-width="2.5" stroke-linejoin="round"/>
<circle cx="852.1" cy="860" r="1.1" fill="#FF4A1A" stroke="none" stroke-width="1"/>
<circle cx="852.1" cy="864" r="1.1" fill="#FF4A1A" stroke="none" stroke-width="1"/>
<circle cx="851.1" cy="868" r="1.1" fill="#FF4A1A" stroke="none" stroke-width="1"/>
<circle cx="853.1" cy="872" r="1.1" fill="#FF4A1A" stroke="none" stroke-width="1"/>
<circle cx="852.1" cy="879" r="1.1" fill="#FF4A1A" stroke="none" stroke-width="1"/>
<circle cx="852.1" cy="908" r="1.1" fill="#FF4A1A" stroke="none" stroke-width="1"/>
<line x1="849.6" y1="876" x2="853.6" y2="876" stroke="#000" stroke-width="1.8"/>
<path d="M873.9 789.7 L873.97 790.7 L874.03 791.7 L874.09 792.7 L874.15 793.71 L874.21 794.71 L874.26 795.71 L874.32 796.71 L874.38 797.71 L874.45 798.71 L874.52 799.71 L874.59 800.72 L874.66 801.72 L874.75 802.72 L874.83 803.72 L874.93 804.72 L875.05 805.72 L875.2 806.72 L875.37 807.73 L875.55 808.73 L875.75 809.73 L875.96 810.73 L876.18 811.73 L876.4 812.73 L876.63 813.73 L876.84 814.74 L877.06 815.74 L877.26 816.74 L877.45 817.74 L877.62 818.74 L877.77 819.74 L877.89 820.74 L878.01 821.75 L878.12 822.75 L878.23 823.75 L878.34 824.75 L878.45 825.75 L878.56 826.75 L878.66 827.75 L878.76 828.75 L878.85 829.76 L878.93 830.76 L879 831.76 L879.07 832.76 L879.12 833.76 L879.16 834.76 L879.19 835.76 L879.2 836.77 L879.18 837.77 L879.07 838.77 L878.88 839.77 L878.64 840.77 L878.36 841.77 L878.06 842.77 L877.76 843.78 L877.48 844.78 L877.23 845.78 L877.04 846.78 L876.93 847.78 L876.9 848.78 L876.9 849.78 L876.9 850.79 L876.9 851.79 L876.9 852.79 L876.9 853.79 L876.9 854.79 L876.9 855.79 L876.9 856.79 L876.9 857.8 L876.9 858.8 L876.9 859.8 L876.9 860.8 L876.9 861.8 L876.9 862.8 L876.91 863.8 L876.98 864.81 L877.1 865.81 L877.27 866.81 L877.47 867.81 L877.71 868.81 L877.97 869.81 L878.25 870.81 L878.54 871.82 L878.83 872.82 L879.12 873.82 L879.39 874.82 L879.65 875.82 L879.88 876.82 L880.08 877.82 L880.23 878.83 L880.34 879.83 L880.4 880.83 L880.39 881.83 L880.35 882.83 L880.29 883.83 L880.19 884.83 L880.07 885.84 L879.93 886.84 L879.77 887.84 L879.59 888.84 L879.4 889.84 L879.21 890.84 L879.01 891.84 L878.8 892.85 L878.6 893.85 L878.39 894.85 L878.2 895.85 L878.01 896.85 L877.84 897.85 L877.65 898.85 L877.45 899.85 L877.24 900.86 L877.03 901.86 L876.81 902.86 L876.59 903.86 L876.37 904.86 L876.16 905.86 L875.97 906.86 L875.79 907.87 L875.62 908.87 L875.49 909.87 L875.37 910.87 L875.27 911.87 L875.17 912.87 L875.08 913.87 L875 914.88 L874.92 915.88 L874.84 916.88 L874.77 917.88 L874.7 918.88 L874.64 919.88 L874.58 920.88 L874.51 921.89 L874.45 922.89 L874.4 923.89 L874.34 924.89 L874.28 925.89 L874.22 926.89 L874.16 927.89 L874.1 928.9 L874.03 929.9 L873.97 930.9 L873.9 931.9 L873.9 931.9 L873.83 930.9 L873.77 929.9 L873.7 928.9 L873.64 927.89 L873.58 926.89 L873.52 925.89 L873.46 924.89 L873.4 923.89 L873.35 922.89 L873.29 921.89 L873.22 920.88 L873.16 919.88 L873.1 918.88 L873.03 917.88 L872.96 916.88 L872.88 915.88 L872.8 914.88 L872.72 913.87 L872.63 912.87 L872.53 911.87 L872.43 910.87 L872.31 909.87 L872.18 908.87 L872.01 907.87 L871.83 906.86 L871.64 905.86 L871.43 904.86 L871.21 903.86 L870.99 902.86 L870.77 901.86 L870.56 900.86 L870.35 899.85 L870.15 898.85 L869.96 897.85 L869.79 896.85 L869.6 895.85 L869.41 894.85 L869.2 893.85 L869 892.85 L868.79 891.84 L868.59 890.84 L868.4 889.84 L868.21 888.84 L868.03 887.84 L867.87 886.84 L867.73 885.84 L867.61 884.83 L867.51 883.83 L867.45 882.83 L867.41 881.83 L867.4 880.83 L867.46 879.83 L867.57 878.83 L867.72 877.82 L867.92 876.82 L868.15 875.82 L868.41 874.82 L868.68 873.82 L868.97 872.82 L869.26 871.82 L869.55 870.81 L869.83 869.81 L870.09 868.81 L870.33 867.81 L870.53 866.81 L870.7 865.81 L870.82 864.81 L870.89 863.8 L870.9 862.8 L870.9 861.8 L870.9 860.8 L870.9 859.8 L870.9 858.8 L870.9 857.8 L870.9 856.79 L870.9 855.79 L870.9 854.79 L870.9 853.79 L870.9 852.79 L870.9 851.79 L870.9 850.79 L870.9 849.78 L870.9 848.78 L870.87 847.78 L870.76 846.78 L870.57 845.78 L870.32 844.78 L870.04 843.78 L869.74 842.77 L869.44 841.77 L869.16 840.77 L868.92 839.77 L868.73 838.77 L868.62 837.77 L868.6 836.77 L868.61 835.76 L868.64 834.76 L868.68 833.76 L868.73 832.76 L868.8 831.76 L868.87 830.76 L868.95 829.76 L869.04 828.75 L869.14 827.75 L869.24 826.75 L869.35 825.75 L869.46 824.75 L869.57 823.75 L869.68 822.75 L869.79 821.75 L869.91 820.74 L870.03 819.74 L870.18 818.74 L870.35 817.74 L870.54 816.74 L870.74 815.74 L870.96 814.74 L871.17 813.73 L871.4 812.73 L871.62 811.73 L871.84 810.73 L872.05 809.73 L872.25 808.73 L872.43 807.73 L872.6 806.72 L872.75 805.72 L872.87 804.72 L872.97 803.72 L873.05 802.72 L873.14 801.72 L873.21 800.72 L873.28 799.71 L873.35 798.71 L873.42 797.71 L873.48 796.71 L873.54 795.71 L873.59 794.71 L873.65 793.71 L873.71 792.7 L873.77 791.7 L873.83 790.7 L873.9 789.7 Z" fill="none" stroke="#1BB47C" stroke-width="2.5" stroke-linejoin="round"/>
<circle cx="873.9" cy="824" r="1.1" fill="#22C022" stroke="none" stroke-width="1"/>
<circle cx="873.9" cy="838" r="1.1" fill="#22C022" stroke="none" stroke-width="1"/>
<circle cx="873.9" cy="840" r="1.1" fill="#22C022" stroke="none" stroke-width="1"/>
<circle cx="871.9" cy="882" r="1.1" fill="#22C022" stroke="none" stroke-width="1"/>
<circle cx="875.9" cy="883" r="1.1" fill="#22C022" stroke="none" stroke-width="1"/>
<circle cx="873.9" cy="897" r="1.1" fill="#22C022" stroke="none" stroke-width="1"/>
<line x1="871.4" y1="868" x2="875.4" y2="868" stroke="#000" stroke-width="1.8"/>
<path d="M894.9 832.2 L895.08 833.2 L895.26 834.2 L895.43 835.21 L895.61 836.21 L895.79 837.21 L895.97 838.21 L896.15 839.22 L896.33 840.22 L896.5 841.22 L896.67 842.22 L896.84 843.23 L897 844.23 L897.16 845.23 L897.31 846.23 L897.46 847.23 L897.6 848.24 L897.74 849.24 L897.89 850.24 L898.03 851.24 L898.18 852.25 L898.33 853.25 L898.49 854.25 L898.65 855.25 L898.82 856.25 L899.01 857.26 L899.24 858.26 L899.51 859.26 L899.79 860.26 L900.08 861.27 L900.35 862.27 L900.59 863.27 L900.79 864.27 L900.93 865.27 L901 866.28 L900.96 867.28 L900.82 868.28 L900.59 869.28 L900.3 870.29 L899.99 871.29 L899.67 872.29 L899.37 873.29 L899.13 874.3 L898.96 875.3 L898.9 876.3 L898.92 877.3 L898.98 878.3 L899.07 879.31 L899.18 880.31 L899.31 881.31 L899.44 882.31 L899.57 883.32 L899.69 884.32 L899.79 885.32 L899.86 886.32 L899.9 887.33 L899.89 888.33 L899.83 889.33 L899.72 890.33 L899.57 891.33 L899.4 892.34 L899.19 893.34 L898.97 894.34 L898.74 895.34 L898.51 896.35 L898.28 897.35 L898.07 898.35 L897.87 899.35 L897.67 900.35 L897.45 901.36 L897.22 902.36 L896.99 903.36 L896.76 904.36 L896.54 905.37 L896.33 906.37 L896.15 907.37 L895.98 908.37 L895.85 909.38 L895.74 910.38 L895.64 911.38 L895.54 912.38 L895.46 913.38 L895.37 914.39 L895.29 915.39 L895.22 916.39 L895.14 917.39 L895.07 918.4 L894.99 919.4 L894.9 920.4 L894.9 920.4 L894.81 919.4 L894.73 918.4 L894.66 917.39 L894.58 916.39 L894.51 915.39 L894.43 914.39 L894.34 913.38 L894.26 912.38 L894.16 911.38 L894.06 910.38 L893.95 909.38 L893.82 908.37 L893.65 907.37 L893.47 906.37 L893.26 905.37 L893.04 904.36 L892.81 903.36 L892.58 902.36 L892.35 901.36 L892.13 900.35 L891.93 899.35 L891.73 898.35 L891.52 897.35 L891.29 896.35 L891.06 895.34 L890.83 894.34 L890.61 893.34 L890.4 892.34 L890.23 891.33 L890.08 890.33 L889.97 889.33 L889.91 888.33 L889.9 887.33 L889.94 886.32 L890.01 885.32 L890.11 884.32 L890.23 883.32 L890.36 882.31 L890.49 881.31 L890.62 880.31 L890.73 879.31 L890.82 878.3 L890.88 877.3 L890.9 876.3 L890.84 875.3 L890.67 874.3 L890.43 873.29 L890.13 872.29 L889.81 871.29 L889.5 870.29 L889.21 869.28 L888.98 868.28 L888.84 867.28 L888.8 866.28 L888.87 865.27 L889.01 864.27 L889.21 863.27 L889.45 862.27 L889.72 861.27 L890.01 860.26 L890.29 859.26 L890.56 858.26 L890.79 857.26 L890.98 856.25 L891.15 855.25 L891.31 854.25 L891.47 853.25 L891.62 852.25 L891.77 851.24 L891.91 850.24 L892.06 849.24 L892.2 848.24 L892.34 847.23 L892.49 846.23 L892.64 845.23 L892.8 844.23 L892.96 843.23 L893.13 842.22 L893.3 841.22 L893.47 840.22 L893.65 839.22 L893.83 838.21 L894.01 837.21 L894.19 836.21 L894.37 835.21 L894.54 834.2 L894.72 833.2 L894.9 832.2 Z" fill="none" stroke="#C4C01A" stroke-width="2.5" stroke-linejoin="round"/>
<circle cx="894.9" cy="851" r="1.1" fill="#B0B000" stroke="none" stroke-width="1"/>
<circle cx="894.9" cy="862" r="1.1" fill="#B0B000" stroke="none" stroke-width="1"/>
<circle cx="894.9" cy="867" r="1.1" fill="#B0B000" stroke="none" stroke-width="1"/>
<circle cx="894.9" cy="880" r="1.1" fill="#B0B000" stroke="none" stroke-width="1"/>
<circle cx="892.9" cy="887" r="1.1" fill="#B0B000" stroke="none" stroke-width="1"/>
<circle cx="896.9" cy="889" r="1.1" fill="#B0B000" stroke="none" stroke-width="1"/>
<circle cx="894.9" cy="900" r="1.1" fill="#B0B000" stroke="none" stroke-width="1"/>
<line x1="892.4" y1="876" x2="896.4" y2="876" stroke="#000" stroke-width="1.8"/>
<line x1="606.7" y1="878.4" x2="902.8" y2="878.4" stroke="#666" stroke-width="2.6" stroke-dasharray="3.4 2.4"/>
<text x="895.2" y="592.2" font-size="37.5" fill="#000" stroke="#000" stroke-width="0.8" stroke-linejoin="round">P</text>
<circle cx="931.4" cy="582.5" r="9.6" fill="#F9BE8C" stroke="#FF6A12" stroke-width="1.8"/>
<text x="944.73" y="590.8" font-size="22.9" fill="#FF7000" font-weight="bold" stroke="#FF7000" stroke-width="0.2" stroke-linejoin="round" textLength="91.99" lengthAdjust="spacingAndGlyphs">DHB 2mM</text>
<circle cx="931" cy="721.8" r="9.6" fill="#D4D2A0" stroke="#8E8A1C" stroke-width="1.8"/>
<text x="944.76" y="730.4" font-size="22.5" fill="#8A8A0C" font-weight="bold" stroke="#8A8A0C" stroke-width="0.2" stroke-linejoin="round" textLength="109.31" lengthAdjust="spacingAndGlyphs">DHB+Niacin</text>
<circle cx="931.9" cy="854" r="9.6" fill="#2DD39A" stroke="#14A870" stroke-width="1.8"/>
<text x="944.77" y="860.8" font-size="21.6" fill="#0CC47A" font-weight="bold" stroke="#0CC47A" stroke-width="0.2" stroke-linejoin="round" textLength="120.19" lengthAdjust="spacingAndGlyphs">Niacin 100µM</text>
<line x1="911.1" y1="682.6" x2="919" y2="682.6" stroke="#000" stroke-width="2.8"/>
<polyline points="919,682.6 919.7,704.7 921.2,690 923.4,683.9 925.5,685.2 927,684.5 929,681" fill="none" stroke="#000" stroke-width="2.2" stroke-linejoin="round"/>
<path d="M943.4 605.5 C943.83 605.4 944.68 604.47 946 604.9 C947.32 605.33 949.32 606.03 951.3 608.1 C953.28 610.17 955.72 614.45 957.9 617.3 C960.08 620.15 961.12 622.12 964.4 625.2 C967.68 628.28 973.22 632.73 977.6 635.8 C981.98 638.87 986.32 641.3 990.7 643.6 C995.08 645.9 999.52 647.83 1003.9 649.6 C1008.28 651.37 1012.62 652.78 1017 654.2 C1021.38 655.62 1025.82 657.02 1030.2 658.1 C1034.58 659.18 1038.38 659.93 1043.3 660.7 C1048.22 661.47 1056.97 662.37 1059.7 662.7" fill="none" stroke="#8C8C8C" stroke-width="2.8" stroke-linejoin="round" stroke-linecap="round"/>
<path d="M929 681.8 C929.43 678.28 930.73 667.5 931.6 660.7 C932.47 653.9 933.33 647.57 934.2 641 C935.07 634.43 935.92 626.55 936.8 621.3 C937.68 616.05 938.4 612.02 939.5 609.5 C940.6 606.98 942.1 606.65 943.4 606.2 C944.7 605.75 945.98 605.82 947.3 606.8 C948.62 607.78 949.98 609.68 951.3 612.1 C952.62 614.52 953.67 618.02 955.2 621.3 C956.73 624.58 958.3 628.52 960.5 631.8 C962.7 635.08 965.55 638.15 968.4 641 C971.25 643.85 973.88 646.17 977.6 648.9 C981.32 651.63 986.32 654.88 990.7 657.4 C995.08 659.92 999.52 662.13 1003.9 664 C1008.28 665.87 1012.62 667.28 1017 668.6 C1021.38 669.92 1025.82 671.02 1030.2 671.9 C1034.58 672.78 1038.38 673.3 1043.3 673.9 C1048.22 674.5 1056.97 675.23 1059.7 675.5" fill="none" stroke="#000" stroke-width="2.8" stroke-linejoin="round" stroke-linecap="round"/>
<text x="917.02" y="630" font-size="15" fill="#000" font-weight="bold" stroke="#000" stroke-width="0.2" stroke-linejoin="round" textLength="14.52" lengthAdjust="spacingAndGlyphs">1-</text>
<text x="916.8" y="644.7" font-size="15.5" fill="#8A8A8A" font-weight="bold" stroke="#8A8A8A" stroke-width="0.2" stroke-linejoin="round" textLength="14.75" lengthAdjust="spacingAndGlyphs">2-</text>
<path d="M1008.6 673.6 V699.3 H1041.8" fill="none" stroke="#000" stroke-width="3"/>
<text transform="translate(1004.3 699.38) rotate(-90)" font-size="13" fill="#000" stroke="#000" stroke-width="0.75" stroke-linejoin="round" textLength="23.22" lengthAdjust="spacingAndGlyphs">5mV</text>
<text x="1010.37" y="711.1" font-size="13" fill="#000" stroke="#000" stroke-width="0.75" stroke-linejoin="round" textLength="26.13" lengthAdjust="spacingAndGlyphs">10ms</text>
<line x1="911" y1="819.1" x2="920" y2="819.1" stroke="#000" stroke-width="2.4"/>
<polyline points="920,819.1 920,835.7" fill="none" stroke="#000" stroke-width="1.5" stroke-linejoin="round"/>
<path d="M935 761 C935.5 758.8 936.73 750.72 938 747.8 C939.27 744.88 940.97 744.38 942.6 743.5 C944.23 742.62 945.3 742.17 947.8 742.5 C950.3 742.83 954.72 744 957.6 745.5 C960.48 747 962.6 749.25 965.1 751.5 C967.6 753.75 971.35 757.75 972.6 759" fill="none" stroke="#8C8C8C" stroke-width="2.4" stroke-linejoin="round" stroke-linecap="round"/>
<path d="M920 819.1 C920.75 818.73 923.25 818.4 924.5 816.9 C925.75 815.4 926.62 813.73 927.5 810.1 C928.38 806.47 929.05 800.1 929.8 795.1 C930.55 790.1 931.13 785.12 932 780.1 C932.87 775.08 934 769.02 935 765 C936 760.98 936.73 758.37 938 756 C939.27 753.63 940.72 752.05 942.6 750.8 C944.48 749.55 947.05 748.63 949.3 748.5 C951.55 748.37 953.47 748.87 956.1 750 C958.73 751.13 961.1 752.53 965.1 755.3 C969.1 758.07 975.1 762.72 980.1 766.6 C985.1 770.48 990.08 774.98 995.1 778.6 C1000.12 782.22 1005.18 785.3 1010.2 788.3 C1015.22 791.3 1020.2 794.22 1025.2 796.6 C1030.2 798.98 1034.45 800.55 1040.2 802.6 C1045.95 804.65 1056.45 807.85 1059.7 808.9" fill="none" stroke="#000" stroke-width="2.6" stroke-linejoin="round" stroke-linecap="round"/>
<text x="914" y="781.6" font-size="15" fill="#000" font-weight="bold" stroke="#000" stroke-width="0.2" stroke-linejoin="round" textLength="13.28" lengthAdjust="spacingAndGlyphs">1-</text>
<text x="914.47" y="797.3" font-size="15.5" fill="#8A8A8A" font-weight="bold" stroke="#8A8A8A" stroke-width="0.2" stroke-linejoin="round" textLength="12.8" lengthAdjust="spacingAndGlyphs">2-</text>
<path d="M1004.9 792.8 V822.1 H1024.4" fill="none" stroke="#000" stroke-width="3.4"/>
<text transform="translate(999.7 817.62) rotate(-90)" font-size="13" fill="#000" stroke="#000" stroke-width="0.75" stroke-linejoin="round" textLength="22.95" lengthAdjust="spacingAndGlyphs">3mV</text>
<text x="1001.48" y="834.9" font-size="13" fill="#000" stroke="#000" stroke-width="0.75" stroke-linejoin="round" textLength="25.92" lengthAdjust="spacingAndGlyphs">10ms</text>
<line x1="911.8" y1="955.7" x2="920" y2="955.7" stroke="#1A0E0E" stroke-width="3.2"/>
<polyline points="920,955.7 920,977" fill="none" stroke="#3A1E1E" stroke-width="1.5" stroke-linejoin="round"/>
<path d="M930.8 900 C931.55 897 933.62 886.33 935.3 882 C936.98 877.67 939.42 875.68 940.9 874 C942.38 872.32 943.02 872.07 944.2 871.9 C945.38 871.73 946.37 872.15 948 873 C949.63 873.85 951.65 875.33 954 877 C956.35 878.67 960.75 882 962.1 883" fill="none" stroke="#9A9A9A" stroke-width="3.4" stroke-linejoin="round" stroke-linecap="round"/>
<path d="M920 955.7 C920.42 955.92 921.82 957 922.5 957 C923.18 957 923.57 958.03 924.1 955.7 C924.63 953.37 925.15 947.28 925.7 943 C926.25 938.72 926.55 936.27 927.4 930 C928.25 923.73 929.48 912.1 930.8 905.4 C932.12 898.7 933.62 893.72 935.3 889.8 C936.98 885.88 938.85 883.77 940.9 881.9 C942.95 880.03 945.42 878.83 947.6 878.6 C949.78 878.37 951.58 879.38 954 880.5 C956.42 881.62 957.02 881.52 962.1 885.3 C967.18 889.08 977.03 897.62 984.5 903.2 C991.97 908.78 999.45 913.95 1006.9 918.8 C1014.35 923.65 1022.85 929.13 1029.2 932.3 C1035.55 935.47 1039.78 936.13 1045 937.8 C1050.22 939.47 1057.92 941.55 1060.5 942.3" fill="none" stroke="#1A0E0E" stroke-width="3.8" stroke-linejoin="round" stroke-linecap="round"/>
<text x="913.18" y="905.9" font-size="15" fill="#000" font-weight="bold" stroke="#000" stroke-width="0.2" stroke-linejoin="round" textLength="13.62" lengthAdjust="spacingAndGlyphs">1-</text>
<text x="913.66" y="920.5" font-size="15.5" fill="#8A8A8A" font-weight="bold" stroke="#8A8A8A" stroke-width="0.2" stroke-linejoin="round" textLength="13.12" lengthAdjust="spacingAndGlyphs">2-</text>
<path d="M996.8 926.7 V958 H1016.9" fill="none" stroke="#000" stroke-width="3"/>
<text transform="translate(994.6 955.04) rotate(-90)" font-size="13" fill="#000" stroke="#000" stroke-width="0.75" stroke-linejoin="round" textLength="22.38" lengthAdjust="spacingAndGlyphs">1mV</text>
<text x="991.84" y="971.4" font-size="13" fill="#000" stroke="#000" stroke-width="0.75" stroke-linejoin="round" textLength="27.39" lengthAdjust="spacingAndGlyphs">10ms</text>
</svg></body></html>
